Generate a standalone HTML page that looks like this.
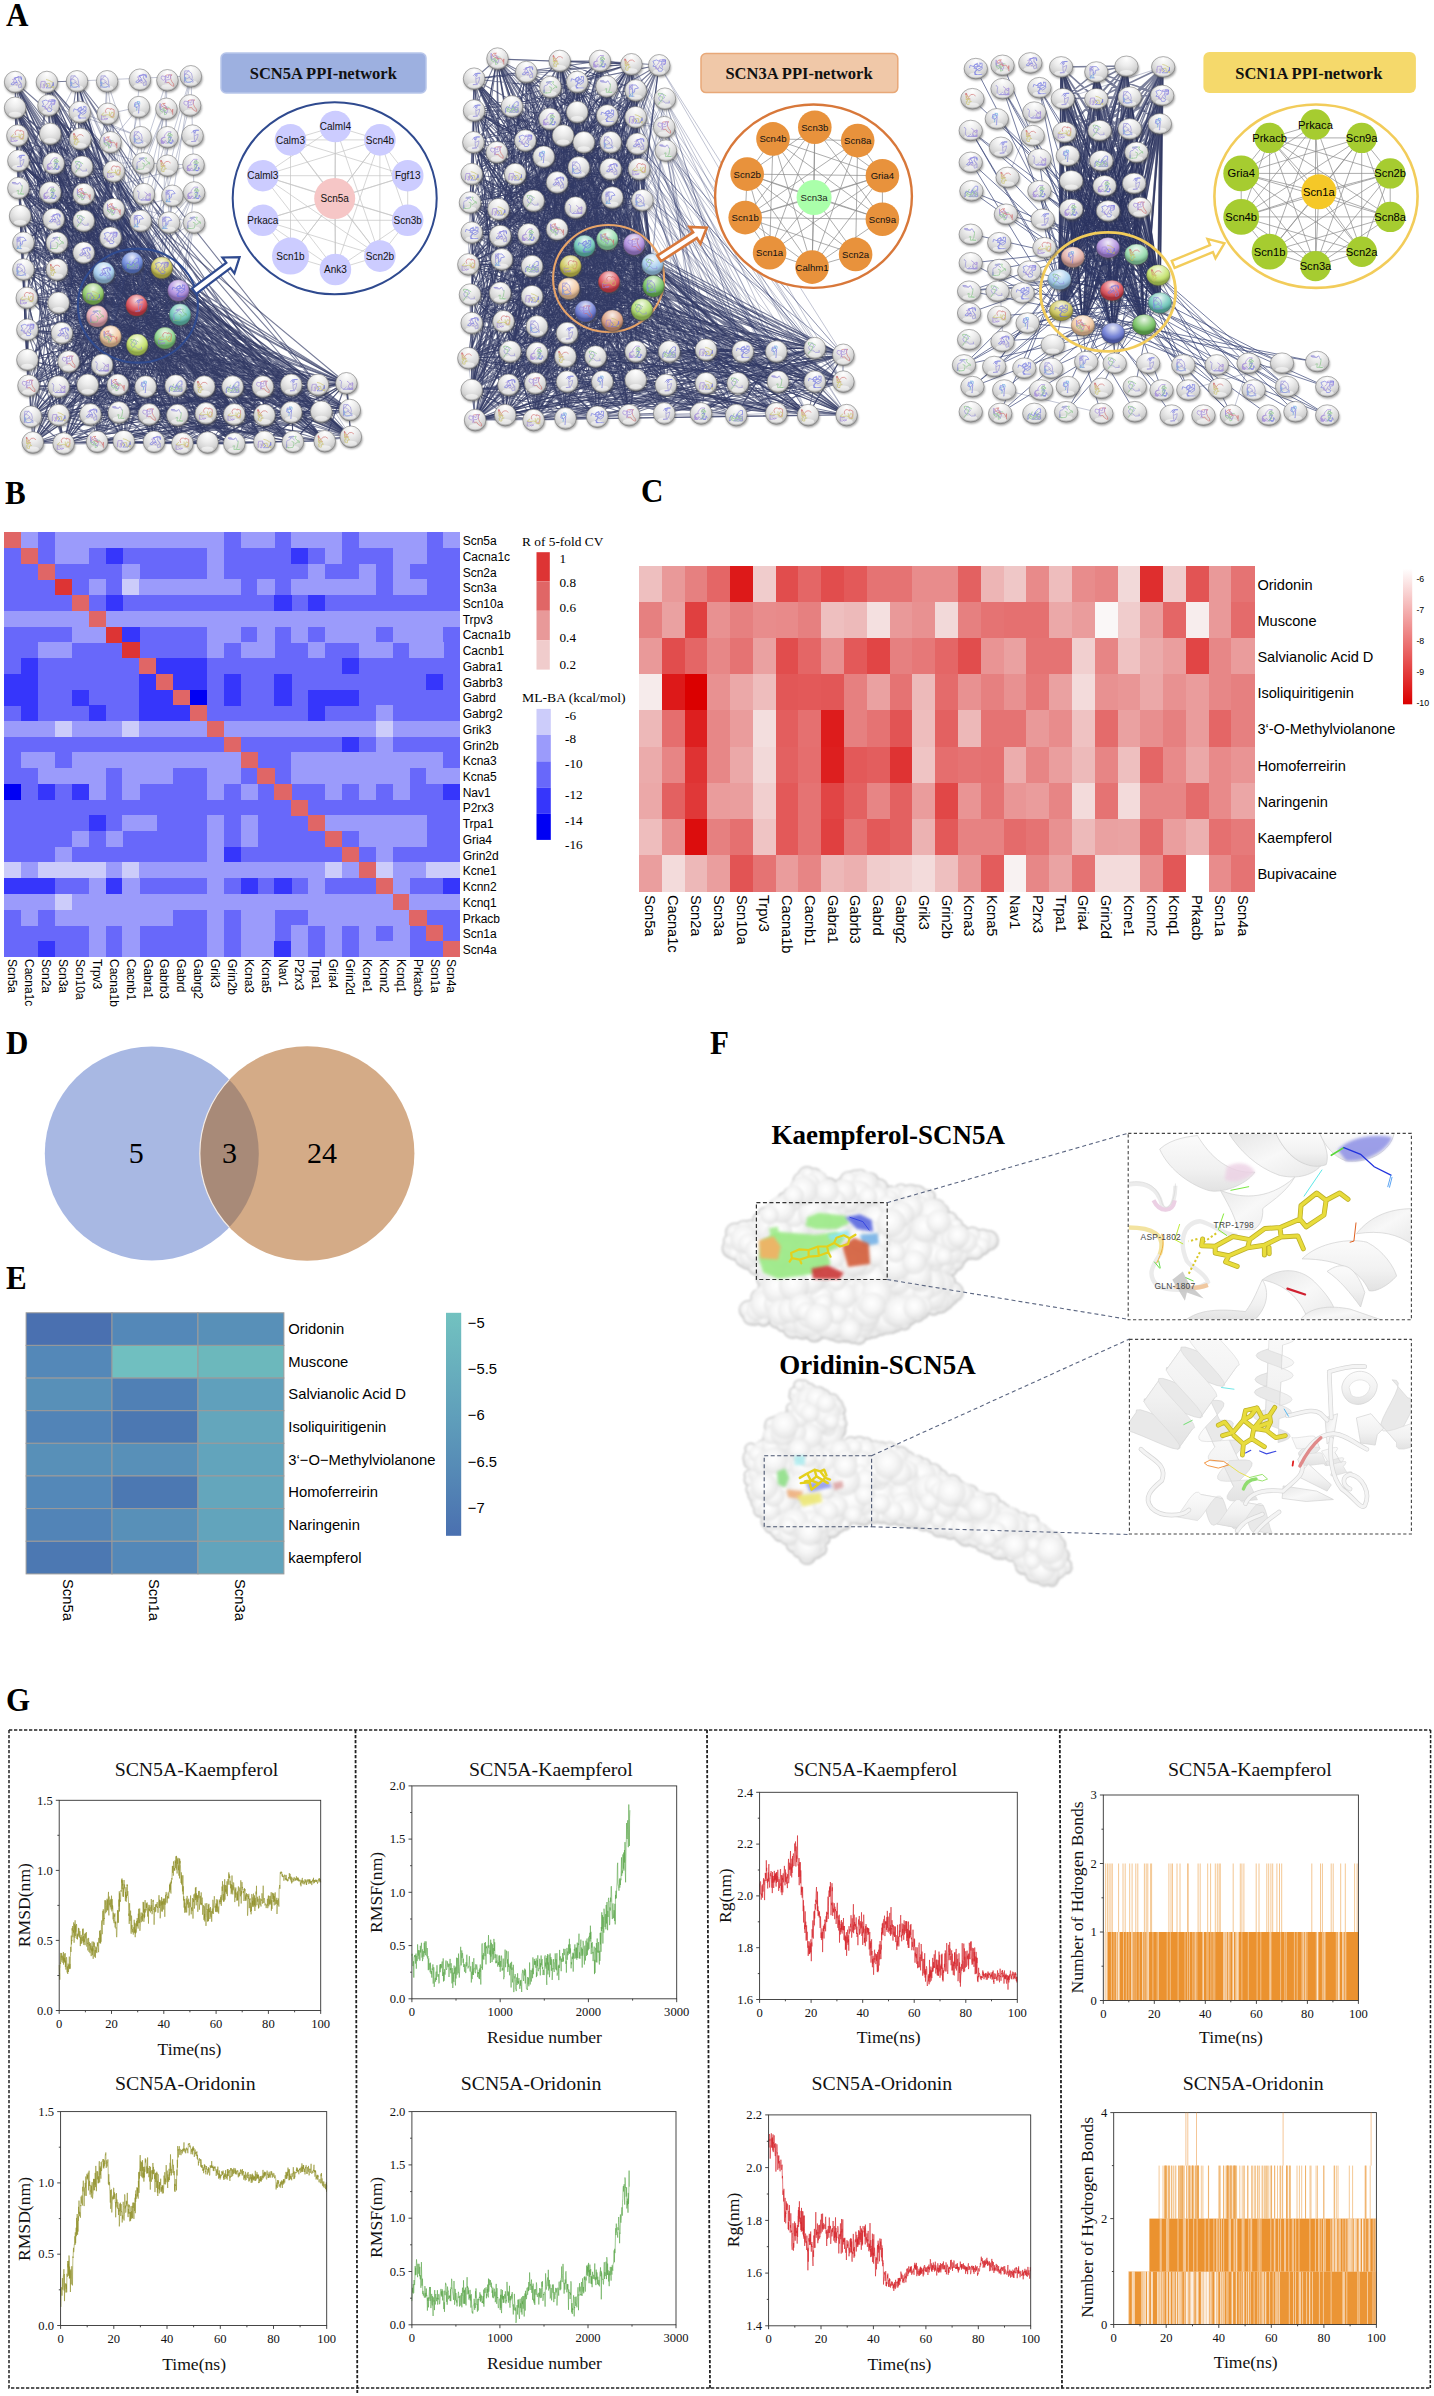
<!DOCTYPE html>
<html><head><meta charset="utf-8"><title>Figure</title>
<style>
html,body{margin:0;padding:0;background:#fff;}
body{width:1434px;height:2396px;overflow:hidden;font-family:"Liberation Sans",sans-serif;}
svg{display:block;}
</style></head><body>
<svg width="1434" height="2396" viewBox="0 0 1434 2396">
<rect width="1434" height="2396" fill="#ffffff"/>
<text transform="translate(6,25.6) scale(0.94,1)" font-size="33" font-family="Liberation Serif, serif" font-weight="bold">A</text>
<text transform="translate(5,503.6) scale(0.94,1)" font-size="33" font-family="Liberation Serif, serif" font-weight="bold">B</text>
<text transform="translate(641,501.6) scale(0.94,1)" font-size="33" font-family="Liberation Serif, serif" font-weight="bold">C</text>
<text transform="translate(6,1053.6) scale(0.94,1)" font-size="33" font-family="Liberation Serif, serif" font-weight="bold">D</text>
<text transform="translate(6,1288.6) scale(0.94,1)" font-size="33" font-family="Liberation Serif, serif" font-weight="bold">E</text>
<text transform="translate(710,1053.6) scale(0.94,1)" font-size="33" font-family="Liberation Serif, serif" font-weight="bold">F</text>
<text transform="translate(6,1710.6) scale(0.94,1)" font-size="33" font-family="Liberation Serif, serif" font-weight="bold">G</text>
<g shape-rendering="crispEdges">
<rect x="4.2" y="532.2" width="455.8" height="424.6" fill="#6868fa"/>
<rect x="4.2" y="532.2" width="17.2" height="16" fill="#e06666"/>
<rect x="21.1" y="532.2" width="17.2" height="16" fill="#9b9bfb"/>
<rect x="54.8" y="532.2" width="169.1" height="16" fill="#9b9bfb"/>
<rect x="240.5" y="532.2" width="34.1" height="16" fill="#9b9bfb"/>
<rect x="291.2" y="532.2" width="50.9" height="16" fill="#9b9bfb"/>
<rect x="358.7" y="532.2" width="67.8" height="16" fill="#9b9bfb"/>
<rect x="443.1" y="532.2" width="17.2" height="16" fill="#9b9bfb"/>
<rect x="21.1" y="547.9" width="17.2" height="16" fill="#e06666"/>
<rect x="54.8" y="547.9" width="34.1" height="16" fill="#9b9bfb"/>
<rect x="105.5" y="547.9" width="17.2" height="16" fill="#3636fb"/>
<rect x="206.8" y="547.9" width="17.2" height="16" fill="#9b9bfb"/>
<rect x="291.2" y="547.9" width="17.2" height="16" fill="#3636fb"/>
<rect x="324.9" y="547.9" width="17.2" height="16" fill="#9b9bfb"/>
<rect x="392.5" y="547.9" width="34.1" height="16" fill="#9b9bfb"/>
<rect x="38" y="563.7" width="17.2" height="16" fill="#e06666"/>
<rect x="122.4" y="563.7" width="17.2" height="16" fill="#9b9bfb"/>
<rect x="206.8" y="563.7" width="17.2" height="16" fill="#9b9bfb"/>
<rect x="308.1" y="563.7" width="17.2" height="16" fill="#9b9bfb"/>
<rect x="358.7" y="563.7" width="17.2" height="16" fill="#9b9bfb"/>
<rect x="392.5" y="563.7" width="17.2" height="16" fill="#9b9bfb"/>
<rect x="54.8" y="579.4" width="17.2" height="16" fill="#dd3434"/>
<rect x="88.6" y="579.4" width="17.2" height="16" fill="#9b9bfb"/>
<rect x="122.4" y="579.4" width="17.2" height="16" fill="#ccccfa"/>
<rect x="139.3" y="579.4" width="101.6" height="16" fill="#9b9bfb"/>
<rect x="257.4" y="579.4" width="17.2" height="16" fill="#9b9bfb"/>
<rect x="291.2" y="579.4" width="84.7" height="16" fill="#9b9bfb"/>
<rect x="392.5" y="579.4" width="34.1" height="16" fill="#9b9bfb"/>
<rect x="71.7" y="595.1" width="17.2" height="16" fill="#e06666"/>
<rect x="105.5" y="595.1" width="17.2" height="16" fill="#3636fb"/>
<rect x="274.3" y="595.1" width="17.2" height="16" fill="#3636fb"/>
<rect x="308.1" y="595.1" width="17.2" height="16" fill="#3636fb"/>
<rect x="4.2" y="610.8" width="84.7" height="16" fill="#9b9bfb"/>
<rect x="88.6" y="610.8" width="17.2" height="16" fill="#e06666"/>
<rect x="105.5" y="610.8" width="354.8" height="16" fill="#9b9bfb"/>
<rect x="71.7" y="626.6" width="34.1" height="16" fill="#9b9bfb"/>
<rect x="105.5" y="626.6" width="17.2" height="16" fill="#dd3434"/>
<rect x="122.4" y="626.6" width="17.2" height="16" fill="#3636fb"/>
<rect x="206.8" y="626.6" width="34.1" height="16" fill="#9b9bfb"/>
<rect x="257.4" y="626.6" width="17.2" height="16" fill="#9b9bfb"/>
<rect x="291.2" y="626.6" width="17.2" height="16" fill="#9b9bfb"/>
<rect x="324.9" y="626.6" width="50.9" height="16" fill="#9b9bfb"/>
<rect x="392.5" y="626.6" width="50.9" height="16" fill="#9b9bfb"/>
<rect x="38" y="642.3" width="34.1" height="16" fill="#9b9bfb"/>
<rect x="122.4" y="642.3" width="17.2" height="16" fill="#dd3434"/>
<rect x="206.8" y="642.3" width="17.2" height="16" fill="#9b9bfb"/>
<rect x="240.5" y="642.3" width="34.1" height="16" fill="#9b9bfb"/>
<rect x="308.1" y="642.3" width="17.2" height="16" fill="#9b9bfb"/>
<rect x="358.7" y="642.3" width="34.1" height="16" fill="#9b9bfb"/>
<rect x="409.4" y="642.3" width="34.1" height="16" fill="#9b9bfb"/>
<rect x="21.1" y="658" width="17.2" height="16" fill="#3636fb"/>
<rect x="139.3" y="658" width="17.2" height="16" fill="#e06666"/>
<rect x="156.1" y="658" width="50.9" height="16" fill="#3636fb"/>
<rect x="341.8" y="658" width="17.2" height="16" fill="#3636fb"/>
<rect x="4.2" y="673.7" width="34.1" height="16" fill="#3636fb"/>
<rect x="139.3" y="673.7" width="17.2" height="16" fill="#3636fb"/>
<rect x="156.1" y="673.7" width="17.2" height="16" fill="#e06666"/>
<rect x="173" y="673.7" width="34.1" height="16" fill="#3636fb"/>
<rect x="223.7" y="673.7" width="17.2" height="16" fill="#3636fb"/>
<rect x="274.3" y="673.7" width="17.2" height="16" fill="#3636fb"/>
<rect x="426.2" y="673.7" width="17.2" height="16" fill="#3636fb"/>
<rect x="4.2" y="689.5" width="34.1" height="16" fill="#3636fb"/>
<rect x="71.7" y="689.5" width="17.2" height="16" fill="#3636fb"/>
<rect x="139.3" y="689.5" width="34.1" height="16" fill="#3636fb"/>
<rect x="173" y="689.5" width="17.2" height="16" fill="#e06666"/>
<rect x="189.9" y="689.5" width="17.2" height="16" fill="#0000f4"/>
<rect x="223.7" y="689.5" width="17.2" height="16" fill="#3636fb"/>
<rect x="274.3" y="689.5" width="17.2" height="16" fill="#3636fb"/>
<rect x="308.1" y="689.5" width="50.9" height="16" fill="#3636fb"/>
<rect x="21.1" y="705.2" width="17.2" height="16" fill="#3636fb"/>
<rect x="88.6" y="705.2" width="17.2" height="16" fill="#3636fb"/>
<rect x="139.3" y="705.2" width="50.9" height="16" fill="#3636fb"/>
<rect x="189.9" y="705.2" width="17.2" height="16" fill="#e06666"/>
<rect x="308.1" y="705.2" width="17.2" height="16" fill="#3636fb"/>
<rect x="375.6" y="705.2" width="17.2" height="16" fill="#9b9bfb"/>
<rect x="4.2" y="720.9" width="50.9" height="16" fill="#9b9bfb"/>
<rect x="54.8" y="720.9" width="17.2" height="16" fill="#ccccfa"/>
<rect x="71.7" y="720.9" width="50.9" height="16" fill="#9b9bfb"/>
<rect x="122.4" y="720.9" width="17.2" height="16" fill="#ccccfa"/>
<rect x="139.3" y="720.9" width="67.8" height="16" fill="#9b9bfb"/>
<rect x="206.8" y="720.9" width="17.2" height="16" fill="#e06666"/>
<rect x="223.7" y="720.9" width="152.2" height="16" fill="#9b9bfb"/>
<rect x="375.6" y="720.9" width="17.2" height="16" fill="#ccccfa"/>
<rect x="392.5" y="720.9" width="67.8" height="16" fill="#9b9bfb"/>
<rect x="223.7" y="736.6" width="17.2" height="16" fill="#e06666"/>
<rect x="341.8" y="736.6" width="17.2" height="16" fill="#3636fb"/>
<rect x="375.6" y="736.6" width="17.2" height="16" fill="#9b9bfb"/>
<rect x="21.1" y="752.4" width="34.1" height="16" fill="#9b9bfb"/>
<rect x="71.7" y="752.4" width="169.1" height="16" fill="#9b9bfb"/>
<rect x="240.5" y="752.4" width="17.2" height="16" fill="#e06666"/>
<rect x="291.2" y="752.4" width="152.2" height="16" fill="#9b9bfb"/>
<rect x="38" y="768.1" width="67.8" height="16" fill="#9b9bfb"/>
<rect x="122.4" y="768.1" width="50.9" height="16" fill="#9b9bfb"/>
<rect x="206.8" y="768.1" width="34.1" height="16" fill="#9b9bfb"/>
<rect x="257.4" y="768.1" width="17.2" height="16" fill="#e06666"/>
<rect x="291.2" y="768.1" width="118.5" height="16" fill="#9b9bfb"/>
<rect x="426.2" y="768.1" width="34.1" height="16" fill="#9b9bfb"/>
<rect x="4.2" y="783.8" width="17.2" height="16" fill="#0000f4"/>
<rect x="38" y="783.8" width="17.2" height="16" fill="#3636fb"/>
<rect x="71.7" y="783.8" width="17.2" height="16" fill="#3636fb"/>
<rect x="88.6" y="783.8" width="17.2" height="16" fill="#9b9bfb"/>
<rect x="122.4" y="783.8" width="17.2" height="16" fill="#9b9bfb"/>
<rect x="206.8" y="783.8" width="17.2" height="16" fill="#9b9bfb"/>
<rect x="240.5" y="783.8" width="17.2" height="16" fill="#9b9bfb"/>
<rect x="274.3" y="783.8" width="17.2" height="16" fill="#e06666"/>
<rect x="324.9" y="783.8" width="17.2" height="16" fill="#9b9bfb"/>
<rect x="358.7" y="783.8" width="17.2" height="16" fill="#9b9bfb"/>
<rect x="392.5" y="783.8" width="17.2" height="16" fill="#9b9bfb"/>
<rect x="443.1" y="783.8" width="17.2" height="16" fill="#3636fb"/>
<rect x="291.2" y="799.5" width="17.2" height="16" fill="#e06666"/>
<rect x="88.6" y="815.3" width="17.2" height="16" fill="#3636fb"/>
<rect x="122.4" y="815.3" width="34.1" height="16" fill="#9b9bfb"/>
<rect x="206.8" y="815.3" width="17.2" height="16" fill="#9b9bfb"/>
<rect x="240.5" y="815.3" width="17.2" height="16" fill="#9b9bfb"/>
<rect x="308.1" y="815.3" width="17.2" height="16" fill="#e06666"/>
<rect x="324.9" y="815.3" width="101.6" height="16" fill="#9b9bfb"/>
<rect x="71.7" y="831" width="17.2" height="16" fill="#9b9bfb"/>
<rect x="105.5" y="831" width="17.2" height="16" fill="#9b9bfb"/>
<rect x="206.8" y="831" width="17.2" height="16" fill="#9b9bfb"/>
<rect x="240.5" y="831" width="17.2" height="16" fill="#9b9bfb"/>
<rect x="324.9" y="831" width="17.2" height="16" fill="#e06666"/>
<rect x="358.7" y="831" width="67.8" height="16" fill="#9b9bfb"/>
<rect x="54.8" y="846.7" width="17.2" height="16" fill="#9b9bfb"/>
<rect x="206.8" y="846.7" width="17.2" height="16" fill="#9b9bfb"/>
<rect x="223.7" y="846.7" width="17.2" height="16" fill="#3636fb"/>
<rect x="341.8" y="846.7" width="17.2" height="16" fill="#e06666"/>
<rect x="375.6" y="846.7" width="17.2" height="16" fill="#9b9bfb"/>
<rect x="4.2" y="862.4" width="17.2" height="16" fill="#ccccfa"/>
<rect x="21.1" y="862.4" width="17.2" height="16" fill="#9b9bfb"/>
<rect x="38" y="862.4" width="67.8" height="16" fill="#ccccfa"/>
<rect x="105.5" y="862.4" width="17.2" height="16" fill="#9b9bfb"/>
<rect x="122.4" y="862.4" width="17.2" height="16" fill="#ccccfa"/>
<rect x="139.3" y="862.4" width="186" height="16" fill="#9b9bfb"/>
<rect x="324.9" y="862.4" width="17.2" height="16" fill="#ccccfa"/>
<rect x="341.8" y="862.4" width="17.2" height="16" fill="#9b9bfb"/>
<rect x="358.7" y="862.4" width="17.2" height="16" fill="#e06666"/>
<rect x="375.6" y="862.4" width="17.2" height="16" fill="#ccccfa"/>
<rect x="392.5" y="862.4" width="34.1" height="16" fill="#9b9bfb"/>
<rect x="426.2" y="862.4" width="34.1" height="16" fill="#ccccfa"/>
<rect x="4.2" y="878.2" width="50.9" height="16" fill="#3636fb"/>
<rect x="88.6" y="878.2" width="17.2" height="16" fill="#9b9bfb"/>
<rect x="105.5" y="878.2" width="17.2" height="16" fill="#3636fb"/>
<rect x="122.4" y="878.2" width="17.2" height="16" fill="#9b9bfb"/>
<rect x="206.8" y="878.2" width="17.2" height="16" fill="#9b9bfb"/>
<rect x="240.5" y="878.2" width="17.2" height="16" fill="#3636fb"/>
<rect x="274.3" y="878.2" width="17.2" height="16" fill="#3636fb"/>
<rect x="308.1" y="878.2" width="17.2" height="16" fill="#9b9bfb"/>
<rect x="375.6" y="878.2" width="17.2" height="16" fill="#e06666"/>
<rect x="392.5" y="878.2" width="17.2" height="16" fill="#9b9bfb"/>
<rect x="443.1" y="878.2" width="17.2" height="16" fill="#3636fb"/>
<rect x="4.2" y="893.9" width="50.9" height="16" fill="#9b9bfb"/>
<rect x="54.8" y="893.9" width="17.2" height="16" fill="#ccccfa"/>
<rect x="71.7" y="893.9" width="321" height="16" fill="#9b9bfb"/>
<rect x="392.5" y="893.9" width="17.2" height="16" fill="#e06666"/>
<rect x="409.4" y="893.9" width="50.9" height="16" fill="#9b9bfb"/>
<rect x="21.1" y="909.6" width="17.2" height="16" fill="#9b9bfb"/>
<rect x="54.8" y="909.6" width="118.5" height="16" fill="#9b9bfb"/>
<rect x="206.8" y="909.6" width="17.2" height="16" fill="#9b9bfb"/>
<rect x="240.5" y="909.6" width="34.1" height="16" fill="#9b9bfb"/>
<rect x="308.1" y="909.6" width="101.6" height="16" fill="#9b9bfb"/>
<rect x="409.4" y="909.6" width="17.2" height="16" fill="#e06666"/>
<rect x="88.6" y="925.3" width="17.2" height="16" fill="#9b9bfb"/>
<rect x="122.4" y="925.3" width="17.2" height="16" fill="#9b9bfb"/>
<rect x="206.8" y="925.3" width="17.2" height="16" fill="#9b9bfb"/>
<rect x="240.5" y="925.3" width="34.1" height="16" fill="#9b9bfb"/>
<rect x="291.2" y="925.3" width="17.2" height="16" fill="#9b9bfb"/>
<rect x="324.9" y="925.3" width="17.2" height="16" fill="#9b9bfb"/>
<rect x="358.7" y="925.3" width="17.2" height="16" fill="#9b9bfb"/>
<rect x="392.5" y="925.3" width="17.2" height="16" fill="#9b9bfb"/>
<rect x="426.2" y="925.3" width="17.2" height="16" fill="#e06666"/>
<rect x="38" y="941.1" width="17.2" height="16" fill="#3636fb"/>
<rect x="88.6" y="941.1" width="17.2" height="16" fill="#9b9bfb"/>
<rect x="122.4" y="941.1" width="17.2" height="16" fill="#9b9bfb"/>
<rect x="206.8" y="941.1" width="17.2" height="16" fill="#9b9bfb"/>
<rect x="240.5" y="941.1" width="34.1" height="16" fill="#9b9bfb"/>
<rect x="274.3" y="941.1" width="17.2" height="16" fill="#3636fb"/>
<rect x="291.2" y="941.1" width="17.2" height="16" fill="#9b9bfb"/>
<rect x="324.9" y="941.1" width="17.2" height="16" fill="#9b9bfb"/>
<rect x="358.7" y="941.1" width="50.9" height="16" fill="#9b9bfb"/>
<rect x="443.1" y="941.1" width="17.2" height="16" fill="#e06666"/>
</g>
<text x="462.7" y="545.1" font-size="12" font-family="Liberation Sans, sans-serif" text-anchor="start" fill="#000">Scn5a</text>
<text x="462.7" y="560.8" font-size="12" font-family="Liberation Sans, sans-serif" text-anchor="start" fill="#000">Cacna1c</text>
<text x="462.7" y="576.5" font-size="12" font-family="Liberation Sans, sans-serif" text-anchor="start" fill="#000">Scn2a</text>
<text x="462.7" y="592.2" font-size="12" font-family="Liberation Sans, sans-serif" text-anchor="start" fill="#000">Scn3a</text>
<text x="462.7" y="608" font-size="12" font-family="Liberation Sans, sans-serif" text-anchor="start" fill="#000">Scn10a</text>
<text x="462.7" y="623.7" font-size="12" font-family="Liberation Sans, sans-serif" text-anchor="start" fill="#000">Trpv3</text>
<text x="462.7" y="639.4" font-size="12" font-family="Liberation Sans, sans-serif" text-anchor="start" fill="#000">Cacna1b</text>
<text x="462.7" y="655.1" font-size="12" font-family="Liberation Sans, sans-serif" text-anchor="start" fill="#000">Cacnb1</text>
<text x="462.7" y="670.9" font-size="12" font-family="Liberation Sans, sans-serif" text-anchor="start" fill="#000">Gabra1</text>
<text x="462.7" y="686.6" font-size="12" font-family="Liberation Sans, sans-serif" text-anchor="start" fill="#000">Gabrb3</text>
<text x="462.7" y="702.3" font-size="12" font-family="Liberation Sans, sans-serif" text-anchor="start" fill="#000">Gabrd</text>
<text x="462.7" y="718" font-size="12" font-family="Liberation Sans, sans-serif" text-anchor="start" fill="#000">Gabrg2</text>
<text x="462.7" y="733.8" font-size="12" font-family="Liberation Sans, sans-serif" text-anchor="start" fill="#000">Grik3</text>
<text x="462.7" y="749.5" font-size="12" font-family="Liberation Sans, sans-serif" text-anchor="start" fill="#000">Grin2b</text>
<text x="462.7" y="765.2" font-size="12" font-family="Liberation Sans, sans-serif" text-anchor="start" fill="#000">Kcna3</text>
<text x="462.7" y="781" font-size="12" font-family="Liberation Sans, sans-serif" text-anchor="start" fill="#000">Kcna5</text>
<text x="462.7" y="796.7" font-size="12" font-family="Liberation Sans, sans-serif" text-anchor="start" fill="#000">Nav1</text>
<text x="462.7" y="812.4" font-size="12" font-family="Liberation Sans, sans-serif" text-anchor="start" fill="#000">P2rx3</text>
<text x="462.7" y="828.1" font-size="12" font-family="Liberation Sans, sans-serif" text-anchor="start" fill="#000">Trpa1</text>
<text x="462.7" y="843.9" font-size="12" font-family="Liberation Sans, sans-serif" text-anchor="start" fill="#000">Gria4</text>
<text x="462.7" y="859.6" font-size="12" font-family="Liberation Sans, sans-serif" text-anchor="start" fill="#000">Grin2d</text>
<text x="462.7" y="875.3" font-size="12" font-family="Liberation Sans, sans-serif" text-anchor="start" fill="#000">Kcne1</text>
<text x="462.7" y="891" font-size="12" font-family="Liberation Sans, sans-serif" text-anchor="start" fill="#000">Kcnn2</text>
<text x="462.7" y="906.8" font-size="12" font-family="Liberation Sans, sans-serif" text-anchor="start" fill="#000">Kcnq1</text>
<text x="462.7" y="922.5" font-size="12" font-family="Liberation Sans, sans-serif" text-anchor="start" fill="#000">Prkacb</text>
<text x="462.7" y="938.2" font-size="12" font-family="Liberation Sans, sans-serif" text-anchor="start" fill="#000">Scn1a</text>
<text x="462.7" y="953.9" font-size="12" font-family="Liberation Sans, sans-serif" text-anchor="start" fill="#000">Scn4a</text>
<text transform="translate(8.4,959) rotate(90)" font-size="12" font-family="Liberation Sans, sans-serif">Scn5a</text>
<text transform="translate(25.3,959) rotate(90)" font-size="12" font-family="Liberation Sans, sans-serif">Cacna1c</text>
<text transform="translate(42.2,959) rotate(90)" font-size="12" font-family="Liberation Sans, sans-serif">Scn2a</text>
<text transform="translate(59.1,959) rotate(90)" font-size="12" font-family="Liberation Sans, sans-serif">Scn3a</text>
<text transform="translate(76,959) rotate(90)" font-size="12" font-family="Liberation Sans, sans-serif">Scn10a</text>
<text transform="translate(92.8,959) rotate(90)" font-size="12" font-family="Liberation Sans, sans-serif">Trpv3</text>
<text transform="translate(109.7,959) rotate(90)" font-size="12" font-family="Liberation Sans, sans-serif">Cacna1b</text>
<text transform="translate(126.6,959) rotate(90)" font-size="12" font-family="Liberation Sans, sans-serif">Cacnb1</text>
<text transform="translate(143.5,959) rotate(90)" font-size="12" font-family="Liberation Sans, sans-serif">Gabra1</text>
<text transform="translate(160.4,959) rotate(90)" font-size="12" font-family="Liberation Sans, sans-serif">Gabrb3</text>
<text transform="translate(177.3,959) rotate(90)" font-size="12" font-family="Liberation Sans, sans-serif">Gabrd</text>
<text transform="translate(194.1,959) rotate(90)" font-size="12" font-family="Liberation Sans, sans-serif">Gabrg2</text>
<text transform="translate(211,959) rotate(90)" font-size="12" font-family="Liberation Sans, sans-serif">Grik3</text>
<text transform="translate(227.9,959) rotate(90)" font-size="12" font-family="Liberation Sans, sans-serif">Grin2b</text>
<text transform="translate(244.8,959) rotate(90)" font-size="12" font-family="Liberation Sans, sans-serif">Kcna3</text>
<text transform="translate(261.7,959) rotate(90)" font-size="12" font-family="Liberation Sans, sans-serif">Kcna5</text>
<text transform="translate(278.5,959) rotate(90)" font-size="12" font-family="Liberation Sans, sans-serif">Nav1</text>
<text transform="translate(295.4,959) rotate(90)" font-size="12" font-family="Liberation Sans, sans-serif">P2rx3</text>
<text transform="translate(312.3,959) rotate(90)" font-size="12" font-family="Liberation Sans, sans-serif">Trpa1</text>
<text transform="translate(329.2,959) rotate(90)" font-size="12" font-family="Liberation Sans, sans-serif">Gria4</text>
<text transform="translate(346.1,959) rotate(90)" font-size="12" font-family="Liberation Sans, sans-serif">Grin2d</text>
<text transform="translate(363,959) rotate(90)" font-size="12" font-family="Liberation Sans, sans-serif">Kcne1</text>
<text transform="translate(379.8,959) rotate(90)" font-size="12" font-family="Liberation Sans, sans-serif">Kcnn2</text>
<text transform="translate(396.7,959) rotate(90)" font-size="12" font-family="Liberation Sans, sans-serif">Kcnq1</text>
<text transform="translate(413.6,959) rotate(90)" font-size="12" font-family="Liberation Sans, sans-serif">Prkacb</text>
<text transform="translate(430.5,959) rotate(90)" font-size="12" font-family="Liberation Sans, sans-serif">Scn1a</text>
<text transform="translate(447.4,959) rotate(90)" font-size="12" font-family="Liberation Sans, sans-serif">Scn4a</text>
<text x="522" y="546" font-size="12.8" font-family="Liberation Serif, serif" text-anchor="start" fill="#000" textLength="81.3" lengthAdjust="spacingAndGlyphs">R of 5-fold CV</text>
<rect x="536.5" y="552.2" width="13.3" height="29.2" fill="#dd3434"/>
<rect x="536.5" y="581.4" width="13.3" height="29.4" fill="#e06666"/>
<rect x="536.5" y="610.8" width="13.3" height="29.6" fill="#e89999"/>
<rect x="536.5" y="640.4" width="13.3" height="29.2" fill="#f0cccc"/>
<text x="559.5" y="562.7" font-size="13.2" font-family="Liberation Serif, serif" text-anchor="start" fill="#000">1</text>
<text x="559.5" y="587.2" font-size="13.2" font-family="Liberation Serif, serif" text-anchor="start" fill="#000">0.8</text>
<text x="559.5" y="611.7" font-size="13.2" font-family="Liberation Serif, serif" text-anchor="start" fill="#000">0.6</text>
<text x="559.5" y="642.4" font-size="13.2" font-family="Liberation Serif, serif" text-anchor="start" fill="#000">0.4</text>
<text x="559.5" y="668.5" font-size="13.2" font-family="Liberation Serif, serif" text-anchor="start" fill="#000">0.2</text>
<text x="522" y="701.8" font-size="12.8" font-family="Liberation Serif, serif" text-anchor="start" fill="#000" textLength="103.6" lengthAdjust="spacingAndGlyphs">ML-BA (kcal/mol)</text>
<rect x="536.5" y="708.9" width="14.3" height="26.1" fill="#ccccfa"/>
<rect x="536.5" y="735" width="14.3" height="26.4" fill="#9b9bfb"/>
<rect x="536.5" y="761.4" width="14.3" height="26.1" fill="#6868fa"/>
<rect x="536.5" y="787.5" width="14.3" height="26.3" fill="#3636fb"/>
<rect x="536.5" y="813.8" width="14.3" height="26.1" fill="#0000f4"/>
<text x="565" y="719.6" font-size="13.2" font-family="Liberation Serif, serif" text-anchor="start" fill="#000">-6</text>
<text x="565" y="743.4" font-size="13.2" font-family="Liberation Serif, serif" text-anchor="start" fill="#000">-8</text>
<text x="565" y="767.5" font-size="13.2" font-family="Liberation Serif, serif" text-anchor="start" fill="#000">-10</text>
<text x="565" y="799.1" font-size="13.2" font-family="Liberation Serif, serif" text-anchor="start" fill="#000">-12</text>
<text x="565" y="824.7" font-size="13.2" font-family="Liberation Serif, serif" text-anchor="start" fill="#000">-14</text>
<text x="565" y="849.3" font-size="13.2" font-family="Liberation Serif, serif" text-anchor="start" fill="#000">-16</text>
<g shape-rendering="crispEdges">
<rect x="638.9" y="565.6" width="23.2" height="36.6" fill="#eebfbf"/>
<rect x="661.7" y="565.6" width="23.2" height="36.6" fill="#e99999"/>
<rect x="684.5" y="565.6" width="23.2" height="36.6" fill="#e68080"/>
<rect x="707.3" y="565.6" width="23.2" height="36.6" fill="#e46666"/>
<rect x="730.1" y="565.6" width="23.2" height="36.6" fill="#dd1919"/>
<rect x="752.8" y="565.6" width="23.2" height="36.6" fill="#f0cccc"/>
<rect x="775.6" y="565.6" width="23.2" height="36.6" fill="#e14d4d"/>
<rect x="798.4" y="565.6" width="23.2" height="36.6" fill="#e46666"/>
<rect x="821.2" y="565.6" width="23.2" height="36.6" fill="#e14d4d"/>
<rect x="844" y="565.6" width="23.2" height="36.6" fill="#e35959"/>
<rect x="866.8" y="565.6" width="23.2" height="36.6" fill="#e57373"/>
<rect x="889.6" y="565.6" width="23.2" height="36.6" fill="#e57373"/>
<rect x="912.4" y="565.6" width="23.2" height="36.6" fill="#e88c8c"/>
<rect x="935.2" y="565.6" width="23.2" height="36.6" fill="#e88c8c"/>
<rect x="957.9" y="565.6" width="23.2" height="36.6" fill="#e36161"/>
<rect x="980.7" y="565.6" width="23.2" height="36.6" fill="#edb5b5"/>
<rect x="1003.5" y="565.6" width="23.2" height="36.6" fill="#efc7c7"/>
<rect x="1026.3" y="565.6" width="23.2" height="36.6" fill="#e88a8a"/>
<rect x="1049.1" y="565.6" width="23.2" height="36.6" fill="#eebdbd"/>
<rect x="1071.9" y="565.6" width="23.2" height="36.6" fill="#e88c8c"/>
<rect x="1094.7" y="565.6" width="23.2" height="36.6" fill="#e78585"/>
<rect x="1117.5" y="565.6" width="23.2" height="36.6" fill="#f2d9d9"/>
<rect x="1140.3" y="565.6" width="23.2" height="36.6" fill="#df2e2e"/>
<rect x="1163" y="565.6" width="23.2" height="36.6" fill="#f0cccc"/>
<rect x="1185.8" y="565.6" width="23.2" height="36.6" fill="#e25454"/>
<rect x="1208.6" y="565.6" width="23.2" height="36.6" fill="#e99999"/>
<rect x="1231.4" y="565.6" width="23.2" height="36.6" fill="#e57373"/>
<rect x="638.9" y="601.8" width="23.2" height="36.6" fill="#e68080"/>
<rect x="661.7" y="601.8" width="23.2" height="36.6" fill="#eaa1a1"/>
<rect x="684.5" y="601.8" width="23.2" height="36.6" fill="#e04040"/>
<rect x="707.3" y="601.8" width="23.2" height="36.6" fill="#e89191"/>
<rect x="730.1" y="601.8" width="23.2" height="36.6" fill="#e68080"/>
<rect x="752.8" y="601.8" width="23.2" height="36.6" fill="#e88c8c"/>
<rect x="775.6" y="601.8" width="23.2" height="36.6" fill="#e88a8a"/>
<rect x="798.4" y="601.8" width="23.2" height="36.6" fill="#e68080"/>
<rect x="821.2" y="601.8" width="23.2" height="36.6" fill="#eebfbf"/>
<rect x="844" y="601.8" width="23.2" height="36.6" fill="#edbaba"/>
<rect x="866.8" y="601.8" width="23.2" height="36.6" fill="#f4e0e0"/>
<rect x="889.6" y="601.8" width="23.2" height="36.6" fill="#e99999"/>
<rect x="912.4" y="601.8" width="23.2" height="36.6" fill="#e89191"/>
<rect x="935.2" y="601.8" width="23.2" height="36.6" fill="#f2d9d9"/>
<rect x="957.9" y="601.8" width="23.2" height="36.6" fill="#e68080"/>
<rect x="980.7" y="601.8" width="23.2" height="36.6" fill="#e57373"/>
<rect x="1003.5" y="601.8" width="23.2" height="36.6" fill="#e57070"/>
<rect x="1026.3" y="601.8" width="23.2" height="36.6" fill="#e57070"/>
<rect x="1049.1" y="601.8" width="23.2" height="36.6" fill="#eba8a8"/>
<rect x="1071.9" y="601.8" width="23.2" height="36.6" fill="#ea9c9c"/>
<rect x="1094.7" y="601.8" width="23.2" height="36.6" fill="#faf7f7"/>
<rect x="1117.5" y="601.8" width="23.2" height="36.6" fill="#f0cccc"/>
<rect x="1140.3" y="601.8" width="23.2" height="36.6" fill="#ea9e9e"/>
<rect x="1163" y="601.8" width="23.2" height="36.6" fill="#e46666"/>
<rect x="1185.8" y="601.8" width="23.2" height="36.6" fill="#f7eded"/>
<rect x="1208.6" y="601.8" width="23.2" height="36.6" fill="#e99999"/>
<rect x="1231.4" y="601.8" width="23.2" height="36.6" fill="#e46b6b"/>
<rect x="638.9" y="638" width="23.2" height="36.6" fill="#e99999"/>
<rect x="661.7" y="638" width="23.2" height="36.6" fill="#e14d4d"/>
<rect x="684.5" y="638" width="23.2" height="36.6" fill="#e46666"/>
<rect x="707.3" y="638" width="23.2" height="36.6" fill="#e78787"/>
<rect x="730.1" y="638" width="23.2" height="36.6" fill="#e57373"/>
<rect x="752.8" y="638" width="23.2" height="36.6" fill="#eaa1a1"/>
<rect x="775.6" y="638" width="23.2" height="36.6" fill="#e14d4d"/>
<rect x="798.4" y="638" width="23.2" height="36.6" fill="#e46666"/>
<rect x="821.2" y="638" width="23.2" height="36.6" fill="#e88f8f"/>
<rect x="844" y="638" width="23.2" height="36.6" fill="#e35959"/>
<rect x="866.8" y="638" width="23.2" height="36.6" fill="#e14545"/>
<rect x="889.6" y="638" width="23.2" height="36.6" fill="#e68080"/>
<rect x="912.4" y="638" width="23.2" height="36.6" fill="#e67878"/>
<rect x="935.2" y="638" width="23.2" height="36.6" fill="#e46666"/>
<rect x="957.9" y="638" width="23.2" height="36.6" fill="#e14d4d"/>
<rect x="980.7" y="638" width="23.2" height="36.6" fill="#e99494"/>
<rect x="1003.5" y="638" width="23.2" height="36.6" fill="#eaa1a1"/>
<rect x="1026.3" y="638" width="23.2" height="36.6" fill="#e57373"/>
<rect x="1049.1" y="638" width="23.2" height="36.6" fill="#e57373"/>
<rect x="1071.9" y="638" width="23.2" height="36.6" fill="#f1cfcf"/>
<rect x="1094.7" y="638" width="23.2" height="36.6" fill="#e78585"/>
<rect x="1117.5" y="638" width="23.2" height="36.6" fill="#efc2c2"/>
<rect x="1140.3" y="638" width="23.2" height="36.6" fill="#ebabab"/>
<rect x="1163" y="638" width="23.2" height="36.6" fill="#ea9e9e"/>
<rect x="1185.8" y="638" width="23.2" height="36.6" fill="#e14545"/>
<rect x="1208.6" y="638" width="23.2" height="36.6" fill="#e78787"/>
<rect x="1231.4" y="638" width="23.2" height="36.6" fill="#ea9c9c"/>
<rect x="638.9" y="674.2" width="23.2" height="36.6" fill="#f6ebeb"/>
<rect x="661.7" y="674.2" width="23.2" height="36.6" fill="#dd1919"/>
<rect x="684.5" y="674.2" width="23.2" height="36.6" fill="#db0000"/>
<rect x="707.3" y="674.2" width="23.2" height="36.6" fill="#e89191"/>
<rect x="730.1" y="674.2" width="23.2" height="36.6" fill="#eba8a8"/>
<rect x="752.8" y="674.2" width="23.2" height="36.6" fill="#eebdbd"/>
<rect x="775.6" y="674.2" width="23.2" height="36.6" fill="#e25757"/>
<rect x="798.4" y="674.2" width="23.2" height="36.6" fill="#e35959"/>
<rect x="821.2" y="674.2" width="23.2" height="36.6" fill="#e25757"/>
<rect x="844" y="674.2" width="23.2" height="36.6" fill="#e68080"/>
<rect x="866.8" y="674.2" width="23.2" height="36.6" fill="#eaa1a1"/>
<rect x="889.6" y="674.2" width="23.2" height="36.6" fill="#e57373"/>
<rect x="912.4" y="674.2" width="23.2" height="36.6" fill="#edbaba"/>
<rect x="935.2" y="674.2" width="23.2" height="36.6" fill="#e46b6b"/>
<rect x="957.9" y="674.2" width="23.2" height="36.6" fill="#e89191"/>
<rect x="980.7" y="674.2" width="23.2" height="36.6" fill="#e68080"/>
<rect x="1003.5" y="674.2" width="23.2" height="36.6" fill="#e89191"/>
<rect x="1026.3" y="674.2" width="23.2" height="36.6" fill="#e67878"/>
<rect x="1049.1" y="674.2" width="23.2" height="36.6" fill="#eaa1a1"/>
<rect x="1071.9" y="674.2" width="23.2" height="36.6" fill="#f3dbdb"/>
<rect x="1094.7" y="674.2" width="23.2" height="36.6" fill="#e89191"/>
<rect x="1117.5" y="674.2" width="23.2" height="36.6" fill="#e99696"/>
<rect x="1140.3" y="674.2" width="23.2" height="36.6" fill="#eba8a8"/>
<rect x="1163" y="674.2" width="23.2" height="36.6" fill="#e89191"/>
<rect x="1185.8" y="674.2" width="23.2" height="36.6" fill="#ea9c9c"/>
<rect x="1208.6" y="674.2" width="23.2" height="36.6" fill="#e78787"/>
<rect x="1231.4" y="674.2" width="23.2" height="36.6" fill="#e68080"/>
<rect x="638.9" y="710.4" width="23.2" height="36.6" fill="#edb8b8"/>
<rect x="661.7" y="710.4" width="23.2" height="36.6" fill="#e56e6e"/>
<rect x="684.5" y="710.4" width="23.2" height="36.6" fill="#dd1f1f"/>
<rect x="707.3" y="710.4" width="23.2" height="36.6" fill="#e78787"/>
<rect x="730.1" y="710.4" width="23.2" height="36.6" fill="#ea9c9c"/>
<rect x="752.8" y="710.4" width="23.2" height="36.6" fill="#f3dede"/>
<rect x="775.6" y="710.4" width="23.2" height="36.6" fill="#e35e5e"/>
<rect x="798.4" y="710.4" width="23.2" height="36.6" fill="#e57070"/>
<rect x="821.2" y="710.4" width="23.2" height="36.6" fill="#dd1c1c"/>
<rect x="844" y="710.4" width="23.2" height="36.6" fill="#e68080"/>
<rect x="866.8" y="710.4" width="23.2" height="36.6" fill="#e57373"/>
<rect x="889.6" y="710.4" width="23.2" height="36.6" fill="#e25454"/>
<rect x="912.4" y="710.4" width="23.2" height="36.6" fill="#eebdbd"/>
<rect x="935.2" y="710.4" width="23.2" height="36.6" fill="#e36161"/>
<rect x="957.9" y="710.4" width="23.2" height="36.6" fill="#edb8b8"/>
<rect x="980.7" y="710.4" width="23.2" height="36.6" fill="#e57373"/>
<rect x="1003.5" y="710.4" width="23.2" height="36.6" fill="#e57373"/>
<rect x="1026.3" y="710.4" width="23.2" height="36.6" fill="#e99999"/>
<rect x="1049.1" y="710.4" width="23.2" height="36.6" fill="#e88c8c"/>
<rect x="1071.9" y="710.4" width="23.2" height="36.6" fill="#efc2c2"/>
<rect x="1094.7" y="710.4" width="23.2" height="36.6" fill="#e46b6b"/>
<rect x="1117.5" y="710.4" width="23.2" height="36.6" fill="#eaa1a1"/>
<rect x="1140.3" y="710.4" width="23.2" height="36.6" fill="#e88f8f"/>
<rect x="1163" y="710.4" width="23.2" height="36.6" fill="#e68080"/>
<rect x="1185.8" y="710.4" width="23.2" height="36.6" fill="#ea9c9c"/>
<rect x="1208.6" y="710.4" width="23.2" height="36.6" fill="#e46666"/>
<rect x="1231.4" y="710.4" width="23.2" height="36.6" fill="#e68080"/>
<rect x="638.9" y="746.6" width="23.2" height="36.6" fill="#ebabab"/>
<rect x="661.7" y="746.6" width="23.2" height="36.6" fill="#e78585"/>
<rect x="684.5" y="746.6" width="23.2" height="36.6" fill="#df3333"/>
<rect x="707.3" y="746.6" width="23.2" height="36.6" fill="#e78787"/>
<rect x="730.1" y="746.6" width="23.2" height="36.6" fill="#eba8a8"/>
<rect x="752.8" y="746.6" width="23.2" height="36.6" fill="#f2d9d9"/>
<rect x="775.6" y="746.6" width="23.2" height="36.6" fill="#e36161"/>
<rect x="798.4" y="746.6" width="23.2" height="36.6" fill="#e56e6e"/>
<rect x="821.2" y="746.6" width="23.2" height="36.6" fill="#dd1f1f"/>
<rect x="844" y="746.6" width="23.2" height="36.6" fill="#e35959"/>
<rect x="866.8" y="746.6" width="23.2" height="36.6" fill="#e35e5e"/>
<rect x="889.6" y="746.6" width="23.2" height="36.6" fill="#df3333"/>
<rect x="912.4" y="746.6" width="23.2" height="36.6" fill="#efc4c4"/>
<rect x="935.2" y="746.6" width="23.2" height="36.6" fill="#e56e6e"/>
<rect x="957.9" y="746.6" width="23.2" height="36.6" fill="#e57373"/>
<rect x="980.7" y="746.6" width="23.2" height="36.6" fill="#e57070"/>
<rect x="1003.5" y="746.6" width="23.2" height="36.6" fill="#ecadad"/>
<rect x="1026.3" y="746.6" width="23.2" height="36.6" fill="#e78585"/>
<rect x="1049.1" y="746.6" width="23.2" height="36.6" fill="#ea9e9e"/>
<rect x="1071.9" y="746.6" width="23.2" height="36.6" fill="#edbaba"/>
<rect x="1094.7" y="746.6" width="23.2" height="36.6" fill="#e78585"/>
<rect x="1117.5" y="746.6" width="23.2" height="36.6" fill="#eebfbf"/>
<rect x="1140.3" y="746.6" width="23.2" height="36.6" fill="#e46666"/>
<rect x="1163" y="746.6" width="23.2" height="36.6" fill="#e88a8a"/>
<rect x="1185.8" y="746.6" width="23.2" height="36.6" fill="#eba8a8"/>
<rect x="1208.6" y="746.6" width="23.2" height="36.6" fill="#e88a8a"/>
<rect x="1231.4" y="746.6" width="23.2" height="36.6" fill="#e99494"/>
<rect x="638.9" y="782.8" width="23.2" height="36.6" fill="#eba8a8"/>
<rect x="661.7" y="782.8" width="23.2" height="36.6" fill="#e36161"/>
<rect x="684.5" y="782.8" width="23.2" height="36.6" fill="#e03838"/>
<rect x="707.3" y="782.8" width="23.2" height="36.6" fill="#ea9c9c"/>
<rect x="730.1" y="782.8" width="23.2" height="36.6" fill="#ea9e9e"/>
<rect x="752.8" y="782.8" width="23.2" height="36.6" fill="#f1cfcf"/>
<rect x="775.6" y="782.8" width="23.2" height="36.6" fill="#e35959"/>
<rect x="798.4" y="782.8" width="23.2" height="36.6" fill="#e57373"/>
<rect x="821.2" y="782.8" width="23.2" height="36.6" fill="#e14545"/>
<rect x="844" y="782.8" width="23.2" height="36.6" fill="#e36161"/>
<rect x="866.8" y="782.8" width="23.2" height="36.6" fill="#e78585"/>
<rect x="889.6" y="782.8" width="23.2" height="36.6" fill="#e36161"/>
<rect x="912.4" y="782.8" width="23.2" height="36.6" fill="#ea9c9c"/>
<rect x="935.2" y="782.8" width="23.2" height="36.6" fill="#e14747"/>
<rect x="957.9" y="782.8" width="23.2" height="36.6" fill="#e99494"/>
<rect x="980.7" y="782.8" width="23.2" height="36.6" fill="#e57373"/>
<rect x="1003.5" y="782.8" width="23.2" height="36.6" fill="#e99696"/>
<rect x="1026.3" y="782.8" width="23.2" height="36.6" fill="#ea9c9c"/>
<rect x="1049.1" y="782.8" width="23.2" height="36.6" fill="#e78585"/>
<rect x="1071.9" y="782.8" width="23.2" height="36.6" fill="#f3dbdb"/>
<rect x="1094.7" y="782.8" width="23.2" height="36.6" fill="#e57373"/>
<rect x="1117.5" y="782.8" width="23.2" height="36.6" fill="#f3dbdb"/>
<rect x="1140.3" y="782.8" width="23.2" height="36.6" fill="#e78585"/>
<rect x="1163" y="782.8" width="23.2" height="36.6" fill="#e78585"/>
<rect x="1185.8" y="782.8" width="23.2" height="36.6" fill="#e46b6b"/>
<rect x="1208.6" y="782.8" width="23.2" height="36.6" fill="#e88a8a"/>
<rect x="1231.4" y="782.8" width="23.2" height="36.6" fill="#eba6a6"/>
<rect x="638.9" y="819" width="23.2" height="36.6" fill="#eebdbd"/>
<rect x="661.7" y="819" width="23.2" height="36.6" fill="#e88f8f"/>
<rect x="684.5" y="819" width="23.2" height="36.6" fill="#dc0d0d"/>
<rect x="707.3" y="819" width="23.2" height="36.6" fill="#e68080"/>
<rect x="730.1" y="819" width="23.2" height="36.6" fill="#e57070"/>
<rect x="752.8" y="819" width="23.2" height="36.6" fill="#efc4c4"/>
<rect x="775.6" y="819" width="23.2" height="36.6" fill="#e35959"/>
<rect x="798.4" y="819" width="23.2" height="36.6" fill="#e57373"/>
<rect x="821.2" y="819" width="23.2" height="36.6" fill="#e04040"/>
<rect x="844" y="819" width="23.2" height="36.6" fill="#e57373"/>
<rect x="866.8" y="819" width="23.2" height="36.6" fill="#e35959"/>
<rect x="889.6" y="819" width="23.2" height="36.6" fill="#e36161"/>
<rect x="912.4" y="819" width="23.2" height="36.6" fill="#ecb2b2"/>
<rect x="935.2" y="819" width="23.2" height="36.6" fill="#e35959"/>
<rect x="957.9" y="819" width="23.2" height="36.6" fill="#e78282"/>
<rect x="980.7" y="819" width="23.2" height="36.6" fill="#e78282"/>
<rect x="1003.5" y="819" width="23.2" height="36.6" fill="#e46b6b"/>
<rect x="1026.3" y="819" width="23.2" height="36.6" fill="#e57373"/>
<rect x="1049.1" y="819" width="23.2" height="36.6" fill="#e89191"/>
<rect x="1071.9" y="819" width="23.2" height="36.6" fill="#edbaba"/>
<rect x="1094.7" y="819" width="23.2" height="36.6" fill="#eaa1a1"/>
<rect x="1117.5" y="819" width="23.2" height="36.6" fill="#eaa3a3"/>
<rect x="1140.3" y="819" width="23.2" height="36.6" fill="#e46b6b"/>
<rect x="1163" y="819" width="23.2" height="36.6" fill="#ea9e9e"/>
<rect x="1185.8" y="819" width="23.2" height="36.6" fill="#ecb0b0"/>
<rect x="1208.6" y="819" width="23.2" height="36.6" fill="#e57070"/>
<rect x="1231.4" y="819" width="23.2" height="36.6" fill="#e67a7a"/>
<rect x="638.9" y="855.2" width="23.2" height="36.6" fill="#ea9e9e"/>
<rect x="661.7" y="855.2" width="23.2" height="36.6" fill="#f3dbdb"/>
<rect x="684.5" y="855.2" width="23.2" height="36.6" fill="#edb8b8"/>
<rect x="707.3" y="855.2" width="23.2" height="36.6" fill="#ea9e9e"/>
<rect x="730.1" y="855.2" width="23.2" height="36.6" fill="#e25454"/>
<rect x="752.8" y="855.2" width="23.2" height="36.6" fill="#e57373"/>
<rect x="775.6" y="855.2" width="23.2" height="36.6" fill="#ea9c9c"/>
<rect x="798.4" y="855.2" width="23.2" height="36.6" fill="#e78585"/>
<rect x="821.2" y="855.2" width="23.2" height="36.6" fill="#edb8b8"/>
<rect x="844" y="855.2" width="23.2" height="36.6" fill="#ecb0b0"/>
<rect x="866.8" y="855.2" width="23.2" height="36.6" fill="#f0cccc"/>
<rect x="889.6" y="855.2" width="23.2" height="36.6" fill="#f1d1d1"/>
<rect x="912.4" y="855.2" width="23.2" height="36.6" fill="#f3dbdb"/>
<rect x="935.2" y="855.2" width="23.2" height="36.6" fill="#eebfbf"/>
<rect x="957.9" y="855.2" width="23.2" height="36.6" fill="#e99696"/>
<rect x="980.7" y="855.2" width="23.2" height="36.6" fill="#e35c5c"/>
<rect x="1003.5" y="855.2" width="23.2" height="36.6" fill="#f8f2f2"/>
<rect x="1026.3" y="855.2" width="23.2" height="36.6" fill="#e78787"/>
<rect x="1049.1" y="855.2" width="23.2" height="36.6" fill="#eaa3a3"/>
<rect x="1071.9" y="855.2" width="23.2" height="36.6" fill="#e57373"/>
<rect x="1094.7" y="855.2" width="23.2" height="36.6" fill="#f3dbdb"/>
<rect x="1117.5" y="855.2" width="23.2" height="36.6" fill="#f3dbdb"/>
<rect x="1140.3" y="855.2" width="23.2" height="36.6" fill="#e88f8f"/>
<rect x="1163" y="855.2" width="23.2" height="36.6" fill="#e25757"/>
<rect x="1185.8" y="855.2" width="23.2" height="36.6" fill="#ffffff"/>
<rect x="1208.6" y="855.2" width="23.2" height="36.6" fill="#e88c8c"/>
<rect x="1231.4" y="855.2" width="23.2" height="36.6" fill="#e57373"/>
</g>
<text x="1257.4" y="589.5" font-size="14.6" font-family="Liberation Sans, sans-serif" text-anchor="start" fill="#000">Oridonin</text>
<text x="1257.4" y="625.7" font-size="14.6" font-family="Liberation Sans, sans-serif" text-anchor="start" fill="#000">Muscone</text>
<text x="1257.4" y="661.9" font-size="14.6" font-family="Liberation Sans, sans-serif" text-anchor="start" fill="#000">Salvianolic Acid D</text>
<text x="1257.4" y="698.1" font-size="14.6" font-family="Liberation Sans, sans-serif" text-anchor="start" fill="#000">Isoliquiritigenin</text>
<text x="1257.4" y="734.3" font-size="14.6" font-family="Liberation Sans, sans-serif" text-anchor="start" fill="#000">3‘-O-Methylviolanone</text>
<text x="1257.4" y="770.5" font-size="14.6" font-family="Liberation Sans, sans-serif" text-anchor="start" fill="#000">Homoferreirin</text>
<text x="1257.4" y="806.7" font-size="14.6" font-family="Liberation Sans, sans-serif" text-anchor="start" fill="#000">Naringenin</text>
<text x="1257.4" y="842.9" font-size="14.6" font-family="Liberation Sans, sans-serif" text-anchor="start" fill="#000">Kaempferol</text>
<text x="1257.4" y="879.1" font-size="14.6" font-family="Liberation Sans, sans-serif" text-anchor="start" fill="#000">Bupivacaine</text>
<text transform="translate(645.3,895) rotate(90)" font-size="14.6" font-family="Liberation Sans, sans-serif">Scn5a</text>
<text transform="translate(668.1,895) rotate(90)" font-size="14.6" font-family="Liberation Sans, sans-serif">Cacna1c</text>
<text transform="translate(690.9,895) rotate(90)" font-size="14.6" font-family="Liberation Sans, sans-serif">Scn2a</text>
<text transform="translate(713.7,895) rotate(90)" font-size="14.6" font-family="Liberation Sans, sans-serif">Scn3a</text>
<text transform="translate(736.5,895) rotate(90)" font-size="14.6" font-family="Liberation Sans, sans-serif">Scn10a</text>
<text transform="translate(759.2,895) rotate(90)" font-size="14.6" font-family="Liberation Sans, sans-serif">Trpv3</text>
<text transform="translate(782,895) rotate(90)" font-size="14.6" font-family="Liberation Sans, sans-serif">Cacna1b</text>
<text transform="translate(804.8,895) rotate(90)" font-size="14.6" font-family="Liberation Sans, sans-serif">Cacnb1</text>
<text transform="translate(827.6,895) rotate(90)" font-size="14.6" font-family="Liberation Sans, sans-serif">Gabra1</text>
<text transform="translate(850.4,895) rotate(90)" font-size="14.6" font-family="Liberation Sans, sans-serif">Gabrb3</text>
<text transform="translate(873.2,895) rotate(90)" font-size="14.6" font-family="Liberation Sans, sans-serif">Gabrd</text>
<text transform="translate(896,895) rotate(90)" font-size="14.6" font-family="Liberation Sans, sans-serif">Gabrg2</text>
<text transform="translate(918.8,895) rotate(90)" font-size="14.6" font-family="Liberation Sans, sans-serif">Grik3</text>
<text transform="translate(941.5,895) rotate(90)" font-size="14.6" font-family="Liberation Sans, sans-serif">Grin2b</text>
<text transform="translate(964.3,895) rotate(90)" font-size="14.6" font-family="Liberation Sans, sans-serif">Kcna3</text>
<text transform="translate(987.1,895) rotate(90)" font-size="14.6" font-family="Liberation Sans, sans-serif">Kcna5</text>
<text transform="translate(1009.9,895) rotate(90)" font-size="14.6" font-family="Liberation Sans, sans-serif">Nav1</text>
<text transform="translate(1032.7,895) rotate(90)" font-size="14.6" font-family="Liberation Sans, sans-serif">P2rx3</text>
<text transform="translate(1055.5,895) rotate(90)" font-size="14.6" font-family="Liberation Sans, sans-serif">Trpa1</text>
<text transform="translate(1078.3,895) rotate(90)" font-size="14.6" font-family="Liberation Sans, sans-serif">Gria4</text>
<text transform="translate(1101.1,895) rotate(90)" font-size="14.6" font-family="Liberation Sans, sans-serif">Grin2d</text>
<text transform="translate(1123.9,895) rotate(90)" font-size="14.6" font-family="Liberation Sans, sans-serif">Kcne1</text>
<text transform="translate(1146.7,895) rotate(90)" font-size="14.6" font-family="Liberation Sans, sans-serif">Kcnn2</text>
<text transform="translate(1169.4,895) rotate(90)" font-size="14.6" font-family="Liberation Sans, sans-serif">Kcnq1</text>
<text transform="translate(1192.2,895) rotate(90)" font-size="14.6" font-family="Liberation Sans, sans-serif">Prkacb</text>
<text transform="translate(1215,895) rotate(90)" font-size="14.6" font-family="Liberation Sans, sans-serif">Scn1a</text>
<text transform="translate(1237.8,895) rotate(90)" font-size="14.6" font-family="Liberation Sans, sans-serif">Scn4a</text>
<defs><linearGradient id="gc" x1="0" y1="0" x2="0" y2="1"><stop offset="0" stop-color="#ffffff"/><stop offset="1" stop-color="#db0000"/></linearGradient></defs>
<rect x="1403" y="568.6" width="9.2" height="135.7" fill="url(#gc)"/>
<text x="1416.4" y="581.9" font-size="8.8" font-family="Liberation Sans, sans-serif" text-anchor="start" fill="#000">-6</text>
<text x="1416.4" y="612.8" font-size="8.8" font-family="Liberation Sans, sans-serif" text-anchor="start" fill="#000">-7</text>
<text x="1416.4" y="643.9" font-size="8.8" font-family="Liberation Sans, sans-serif" text-anchor="start" fill="#000">-8</text>
<text x="1416.4" y="674.9" font-size="8.8" font-family="Liberation Sans, sans-serif" text-anchor="start" fill="#000">-9</text>
<text x="1416.4" y="706" font-size="8.8" font-family="Liberation Sans, sans-serif" text-anchor="start" fill="#000">-10</text>
<circle cx="151.8" cy="1153.5" r="107" fill="#a8b8e3"/>
<circle cx="307.1" cy="1153.5" r="107.3" fill="#d4ab87"/>
<defs><clipPath id="cd"><circle cx="151.8" cy="1153.5" r="107"/></clipPath></defs>
<circle cx="307.1" cy="1153.5" r="107.3" fill="#a88a78" stroke="#f4ece6" stroke-width="1.2" clip-path="url(#cd)"/>
<text x="136.2" y="1162.5" font-size="30" font-family="Liberation Serif, serif" text-anchor="middle" fill="#000">5</text>
<text x="229.6" y="1162.5" font-size="30" font-family="Liberation Serif, serif" text-anchor="middle" fill="#000">3</text>
<text x="322" y="1162.5" font-size="30" font-family="Liberation Serif, serif" text-anchor="middle" fill="#000">24</text>
<rect x="26.1" y="1312.8" width="85.9" height="32.6" fill="#4a70b0" stroke="#9a9a9a" stroke-width="1"/>
<rect x="112" y="1312.8" width="85.9" height="32.6" fill="#5488b8" stroke="#9a9a9a" stroke-width="1"/>
<rect x="198" y="1312.8" width="85.9" height="32.6" fill="#5890b8" stroke="#9a9a9a" stroke-width="1"/>
<rect x="26.1" y="1345.4" width="85.9" height="32.6" fill="#5488b8" stroke="#9a9a9a" stroke-width="1"/>
<rect x="112" y="1345.4" width="85.9" height="32.6" fill="#70bfc0" stroke="#9a9a9a" stroke-width="1"/>
<rect x="198" y="1345.4" width="85.9" height="32.6" fill="#6cb8bc" stroke="#9a9a9a" stroke-width="1"/>
<rect x="26.1" y="1378.1" width="85.9" height="32.6" fill="#5890b8" stroke="#9a9a9a" stroke-width="1"/>
<rect x="112" y="1378.1" width="85.9" height="32.6" fill="#5080b5" stroke="#9a9a9a" stroke-width="1"/>
<rect x="198" y="1378.1" width="85.9" height="32.6" fill="#60a0bc" stroke="#9a9a9a" stroke-width="1"/>
<rect x="26.1" y="1410.7" width="85.9" height="32.6" fill="#5284b7" stroke="#9a9a9a" stroke-width="1"/>
<rect x="112" y="1410.7" width="85.9" height="32.6" fill="#4c78b2" stroke="#9a9a9a" stroke-width="1"/>
<rect x="198" y="1410.7" width="85.9" height="32.6" fill="#64a6bc" stroke="#9a9a9a" stroke-width="1"/>
<rect x="26.1" y="1443.3" width="85.9" height="32.6" fill="#5890b8" stroke="#9a9a9a" stroke-width="1"/>
<rect x="112" y="1443.3" width="85.9" height="32.6" fill="#5890b8" stroke="#9a9a9a" stroke-width="1"/>
<rect x="198" y="1443.3" width="85.9" height="32.6" fill="#62a4bc" stroke="#9a9a9a" stroke-width="1"/>
<rect x="26.1" y="1476" width="85.9" height="32.6" fill="#5488b8" stroke="#9a9a9a" stroke-width="1"/>
<rect x="112" y="1476" width="85.9" height="32.6" fill="#4c78b2" stroke="#9a9a9a" stroke-width="1"/>
<rect x="198" y="1476" width="85.9" height="32.6" fill="#64a6bc" stroke="#9a9a9a" stroke-width="1"/>
<rect x="26.1" y="1508.6" width="85.9" height="32.6" fill="#5284b7" stroke="#9a9a9a" stroke-width="1"/>
<rect x="112" y="1508.6" width="85.9" height="32.6" fill="#5890b8" stroke="#9a9a9a" stroke-width="1"/>
<rect x="198" y="1508.6" width="85.9" height="32.6" fill="#62a4bc" stroke="#9a9a9a" stroke-width="1"/>
<rect x="26.1" y="1541.3" width="85.9" height="32.6" fill="#4c78b2" stroke="#9a9a9a" stroke-width="1"/>
<rect x="112" y="1541.3" width="85.9" height="32.6" fill="#5488b8" stroke="#9a9a9a" stroke-width="1"/>
<rect x="198" y="1541.3" width="85.9" height="32.6" fill="#62a4bc" stroke="#9a9a9a" stroke-width="1"/>
<text x="288.3" y="1334.1" font-size="14.8" font-family="Liberation Sans, sans-serif" text-anchor="start" fill="#000">Oridonin</text>
<text x="288.3" y="1366.8" font-size="14.8" font-family="Liberation Sans, sans-serif" text-anchor="start" fill="#000">Muscone</text>
<text x="288.3" y="1399.4" font-size="14.8" font-family="Liberation Sans, sans-serif" text-anchor="start" fill="#000">Salvianolic Acid D</text>
<text x="288.3" y="1432" font-size="14.8" font-family="Liberation Sans, sans-serif" text-anchor="start" fill="#000">Isoliquiritigenin</text>
<text x="288.3" y="1464.7" font-size="14.8" font-family="Liberation Sans, sans-serif" text-anchor="start" fill="#000">3‘−O−Methylviolanone</text>
<text x="288.3" y="1497.3" font-size="14.8" font-family="Liberation Sans, sans-serif" text-anchor="start" fill="#000">Homoferreirin</text>
<text x="288.3" y="1529.9" font-size="14.8" font-family="Liberation Sans, sans-serif" text-anchor="start" fill="#000">Naringenin</text>
<text x="288.3" y="1562.6" font-size="14.8" font-family="Liberation Sans, sans-serif" text-anchor="start" fill="#000">kaempferol</text>
<text transform="translate(63.1,1579) rotate(90)" font-size="14.8" font-family="Liberation Sans, sans-serif">Scn5a</text>
<text transform="translate(149,1579) rotate(90)" font-size="14.8" font-family="Liberation Sans, sans-serif">Scn1a</text>
<text transform="translate(234.9,1579) rotate(90)" font-size="14.8" font-family="Liberation Sans, sans-serif">Scn3a</text>
<defs><linearGradient id="ge" x1="0" y1="0" x2="0" y2="1"><stop offset="0" stop-color="#72c2c0"/><stop offset="0.5" stop-color="#5e9cba"/><stop offset="1" stop-color="#4a70b0"/></linearGradient></defs>
<rect x="446" y="1312.8" width="15.2" height="223" fill="url(#ge)"/>
<text x="467.8" y="1327.8" font-size="14.8" font-family="Liberation Sans, sans-serif" text-anchor="start" fill="#000">−5</text>
<text x="467.8" y="1373.8" font-size="14.8" font-family="Liberation Sans, sans-serif" text-anchor="start" fill="#000">−5.5</text>
<text x="467.8" y="1420.2" font-size="14.8" font-family="Liberation Sans, sans-serif" text-anchor="start" fill="#000">−6</text>
<text x="467.8" y="1466.7" font-size="14.8" font-family="Liberation Sans, sans-serif" text-anchor="start" fill="#000">−6.5</text>
<text x="467.8" y="1513.4" font-size="14.8" font-family="Liberation Sans, sans-serif" text-anchor="start" fill="#000">−7</text>
<g stroke="#222" stroke-width="1.5" stroke-dasharray="3.3 1.7" fill="none">
<path d="M9 1730H1430.6M9 1730L9 2388H1430.3M1430.6 1730L1430.3 2388"/>
<path d="M355.5 1730L357.3 2393M707 1730L710 2390M1059.8 1730L1062 2390" stroke-width="1.8"/>
</g>
<path d="M59.2 1965l.2 8.9 .2-.6 .2 6.4 .2-11.5 .2-.5 .2-5.4 .2 1.7 .2-11.1 .2 9.2 .2-5.8 .2 1.1 .2-4.3 .2 3 .2 4.2 .2-2.1 .2-2.5 .2 4.1 .2 3.1 .2-.2 .2-8.4 .2-2.3 .2 12.6 .2-7.1 .2 3.3 .2-7.2 .2 6.4 .2 1.9 .2-3.7 .2 4.7 .2-9.7 .2 13.8 .2-6.4 .2 8.5 .2 .5 .2-2.8 .2-8.8 .2-.8 .2 2.3 .2 12.2 .2 .8 .2-6.1 .2 6.7 .2 .9 .3-10.4 .2 3 .2 5.4 .2-7.1 .2 .9 .2 2.1 .2-11.3 .2 8.9 .2 3.6 .2-5.2 .2 4.8 .2-1 .2-11.3 .2-9.5 .2 5.1 .2-.6 .2-15.8 .2 8.8 .2-4.5 .2 1.1 .2-12.8 .2 2.4 .2-4.5 .2 1.4 .2 9.7 .2-6.8 .2-.2 .2 2.4 .2-10.2 .2 10.6 .2 9.7 .2-7.5 .2-9.3 .2-2.1 .2 14 .2-17.5 .2 15.7 .2-10.6 .2 7 .2-1 .2-.1 .2-3.3 .2-4 .2 2.2 .2 12.8 .2-5.4 .2 .3 .2 5.5 .2-4.8 .2 1.5 .2 .6 .2-3.9 .2-4.9 .2 7.6 .2-7.1 .2 1.9 .2 .8 .2 6.5 .2-5.1 .2-1.3 .2 1.2 .2 13.7 .2-8.9 .2 .1 .2 6.6 .2-9 .2 2.4 .2 1.1 .2 5.1 .2-3.2 .2-3.5 .2 4.3 .2-6.8 .2-5.3 .2 6.1 .2-6.6 .2 14.1 .2-6.9 .2 8.9 .2 .3 .2-5.7 .2 2.7 .2-2.5 .2-5.6 .2 8.8 .2 2.6 .3-12.3 .2 5.2 .2 .3 .2-.4 .2-3 .2-2.9 .2 8 .2 6.5 .2-5.8 .2-2.3 .2 5.2 .2-.8 .2 7.5 .2-3.5 .2-.8 .2-3.7 .2-4.5 .2 4.1 .2 9.9 .2-9.9 .2 3.5 .2-1.2 .2-.5 .2 9.4 .2-6.5 .2-2.5 .2-1 .2 6.5 .2-4.1 .2 10.5 .2-5.6 .2-2 .2 2.8 .2-8.3 .2-1.5 .2 13.7 .2-8.8 .2 4.8 .2-2.9 .2 10.5 .2-8.8 .2-8.3 .2 4.5 .2 .6 .2 .4 .2-4.5 .2 14 .2-4.9 .2-.8 .2-1 .2 7.8 .2-8.2 .2-3.1 .2 5.7 .2-1.2 .2-3.5 .2 .1 .2 5.5 .2-3.6 .2-3.1 .2-4.1 .2 4 .2-3.2 .2 1 .2 4 .2 2.1 .2 2 .2-14.3 .2 5.2 .2-1 .2-1.5 .2-9.6 .2 4.1 .2 8.1 .2-13.1 .2 5.6 .2 7.8 .2-9.9 .2 8.2 .2-5.4 .2-9.6 .2-3.8 .2-2.5 .2 7.1 .2 6.6 .2-9.4 .2-7 .3-6.9 .2 10.2 .2-11.8 .2 8.3 .2 6.8 .2 .6 .2-3.1 .2-3.9 .2 .8 .2-9.8 .2-8.8 .2 7.2 .2 5.9 .2-8 .2-4.9 .2 4.2 .2 .6 .2 7 .2-4.3 .2-7.1 .2-.5 .2-1.6 .2 11.6 .2-10.5 .2 7.2 .2 3.3 .2-6.7 .2-8.8 .2-2.9 .2 18.5 .2 5 .2-18.9 .2 8.3 .2 .5 .2-2 .2 .4 .2-3.6 .2 7.2 .2-2.4 .2-2.8 .2-3.2 .2 10.6 .2-5.3 .2-8.5 .2 4 .2 11.7 .2-12.3 .2 10.1 .2-3.9 .2 .4 .2 3.1 .2 10.6 .2-6.7 .2 1.9 .2 6.6 .2-.9 .2 2.9 .2-8.8 .2 1.8 .2 .5 .2-3.4 .2 14.1 .2-5.3 .2 1.6 .2-2.2 .2 7 .2-1.1 .2 1.3 .2 7.3 .2 1.2 .2-1.6 .2-12.8 .2 .3 .2-12.8 .2 8.5 .2 3.8 .2-12.3 .2 12.4 .2-15 .2-2.5 .2-5.7 .2 6.9 .2-15.1 .2 20.2 .2-18.2 .2 8 .2-1.1 .3 1.6 .2-1.9 .2-7.3 .2-2.5 .2 1.6 .2-.9 .2-11.1 .2 3 .2-4.2 .2 10.7 .2-9 .2 5.3 .2-1.6 .2 12.5 .2-8.6 .2 9.2 .2-11.8 .2-3 .2-2.2 .2 .7 .2 7.7 .2-3.9 .2 5.9 .2 .4 .2 2.7 .2 7.4 .2-8.9 .2 5 .2-9.8 .2 14.6 .2-7 .2 3.4 .2-4.6 .2-9.2 .2 1.5 .2-1.1 .2 11 .2-4.7 .2 4.6 .2 .2 .2 3.2 .2 11.7 .2 5.1 .2-2.4 .2 10.4 .2-6.2 .2-14.5 .2 11.8 .2 6 .2-2 .2-1.3 .2-7.1 .2 11.4 .2 10.5 .2 1.2 .2-18.1 .2 .3 .2 13.3 .2-4.2 .2 7.2 .2-3.2 .2 1.2 .2 2.5 .2 .2 .2 1.6 .2-.1 .2-.6 .2-6.6 .2 5.7 .2-13.1 .2 12.7 .2-8.9 .2-1 .2 3.5 .2 11.1 .2-7.8 .2 4.2 .2-10.1 .2 3.9 .2 5.2 .2-2.7 .2-9 .2 5.3 .2-3.1 .2-5.1 .2 8.3 .3-5.9 .2-.5 .2 8.7 .2-14.9 .2 5.8 .2-10.7 .2 14.4 .2-3.6 .2 3.3 .2-7.9 .2-6.5 .2 22.3 .2-3.4 .2-3.5 .2-7.1 .2-.4 .2-1.5 .2-2.4 .2 9.7 .2-5.7 .2 0 .2-.5 .2 3.5 .2-6.7 .2 8.5 .2-7.2 .2 2.3 .2-14.5 .2 5.4 .2 5.1 .2-10.1 .2 19.5 .2-7.2 .2 3.6 .2-9 .2 7.8 .2-9.8 .2-7.1 .2 12.4 .2-1.2 .2-.1 .2-2.2 .2 1.3 .2-7 .2 4.9 .2-4.5 .2 3.9 .2-5.2 .2 8.4 .2 2.6 .2 3.2 .2-8.2 .2-.7 .2 6.6 .2 9.3 .2-16.7 .2-2.1 .2 5.7 .2-1.5 .2 2.2 .2-4.4 .2-1.5 .2 3.1 .2-.9 .2 5 .2-1.3 .2-3.1 .2-1.2 .2-7.9 .2 12 .2-5.8 .2 6.5 .2 2.5 .2-1.9 .2 0 .2-9.7 .2-2.1 .2 1.1 .2-1.7 .2 9.7 .2-.8 .2 1.5 .2 14.4 .2-8.1 .2-9.6 .2 2.7 .2 2.6 .3-1.2 .2-6.7 .2 7.3 .2-.3 .2-3.6 .2-2.1 .2-1.7 .2 3.1 .2-.8 .2-1.7 .2-2.5 .2 5.9 .2-1.4 .2 6.1 .2 0 .2-.1 .2-4.9 .2-5.5 .2-1.7 .2-5.3 .2 10.1 .2 2.7 .2-8.3 .2 6.5 .2-6.2 .2 18.3 .2-3.5 .2-10.4 .2-3.1 .2 2.7 .2 1.3 .2-.5 .2-7.8 .2 14.4 .2-9.5 .2 9.7 .2-.4 .2-10 .2 3.3 .2-2.7 .2-3.3 .2 11 .2-.9 .2-9.5 .2 5.4 .2-2.7 .2-3.3 .2 1.3 .2 17 .2-15.3 .2 3.2 .2-3.1 .2-6.8 .2 7.5 .2-10.1 .2-.1 .2 2.6 .2-.4 .2 1.8 .2 7.2 .2-.6 .2-1.8 .2-4.8 .2 2.4 .2-3.1 .2-3 .2 5.5 .2-.4 .2 .9 .2-4.2 .2-2.7 .2 .6 .2-7.3 .2 6.6 .2-7.7 .2 6 .2-7.3 .2 8.3 .2 2.2 .2 .6 .2-13 .2 2.9 .2-3.9 .2-1.3 .2 1.4 .2-9.5 .2-4.2 .3 7 .2-5.6 .2-1.3 .2 9.7 .2-14.3 .2 2.5 .2-.2 .2 4 .2 2.5 .2-2.1 .2 2.8 .2-5.2 .2-5.3 .2 2.6 .2-1.4 .2 6.3 .2-11.6 .2 10.1 .2 3.2 .2-13.7 .2 2.8 .2 5.3 .2 9.5 .2-14.2 .2 4.6 .2-2.5 .2-3.6 .2 3.3 .2 5.4 .2 3.7 .2-4.7 .2 10.2 .2-17.4 .2 8 .2 12.1 .2-19.6 .2 4.5 .2-2.4 .2 3.5 .2 1.6 .2 7.2 .2 2 .2 7.8 .2-10.6 .2 12.1 .2-3.6 .2-5.5 .2 5.6 .2 .3 .2 10.1 .2-1 .2-15.1 .2 19 .2-8 .2 14.2 .2-4.2 .2 .6 .2 10.7 .2-8.4 .2-.2 .2 13.7 .2-10 .2 6.9 .2-1.2 .2-1.9 .2 5.8 .2 .2 .2-13 .2-1 .2 5.1 .2 8.9 .2-7.3 .2-9.3 .2 2.6 .2 5.9 .2-2.7 .2-1.6 .2 7.2 .2 .5 .2-.3 .2-8.8 .2 6.4 .2 10.4 .2-1.5 .2-2.9 .2-8.8 .2 1.6 .3 3.4 .2-4.9 .2-6.9 .2 10.8 .2 1.2 .2 6.8 .2-6.1 .2 1.1 .2-2.1 .2 1.7 .2 2.2 .2-13.1 .2 .6 .2 2.3 .2 17.7 .2-15.4 .2-4.4 .2 3.2 .2-7.3 .2-.1 .2-.3 .2 14.3 .2-2 .2-13.1 .2 .2 .2 4 .2-9.9 .2 12.3 .2-7.2 .2-5.9 .2 18.3 .2-7.4 .2-4.5 .2 5 .2-3.2 .2 6.5 .2 .3 .2-6.7 .2 16.5 .2-3.5 .2-8.2 .2-.1 .2-8.8 .2-.1 .2 7.2 .2-7.4 .2 18.8 .2-5 .2 0 .2-.4 .2-2.2 .2-6.3 .2 8.8 .2-2.7 .2-.1 .2-9.4 .2 11.9 .2-1.2 .2 2.1 .2-5.7 .2-1.9 .2 4.4 .2 12.7 .2-1.9 .2-4.4 .2-3.2 .2-.2 .2 2 .2 1.2 .2 11.9 .2-13.9 .2 12.3 .2-4.5 .2 7.4 .2-14.2 .2-3.8 .2 2.7 .2 11.4 .2 2.5 .2 5.9 .2-7.1 .2-1.5 .2-6.8 .2-7.4 .2 6.8 .2-.5 .3 12.1 .2-8.6 .2-3.7 .2 12.2 .2-16.7 .2 16.2 .2-1.9 .2-15.2 .2 7.9 .2-3.3 .2 3.7 .2-1.3 .2 8.2 .2-2 .2-4.5 .2-5.4 .2 9.1 .2 .2 .2 .9 .2-6.2 .2 4.7 .2 5.9 .2-5.1 .2-5.3 .2-2.7 .2 4.8 .2-4.1 .2-9.5 .2 2 .2 12.2 .2-3.6 .2-1.3 .2-5.3 .2-1 .2-6.6 .2 2.3 .2 .7 .2 8.4 .2-.2 .2-1.6 .2 5.9 .2-5.9 .2-.6 .2-1.9 .2 8.8 .2-7.9 .2 3.9 .2-9 .2 12.3 .2-11.2 .2 6.1 .2 1.3 .2 4.7 .2-5.8 .2 .9 .2 4.8 .2 1.4 .2-3 .2-8.9 .2-2.2 .2 1.3 .2 1.5 .2-1.4 .2 3.3 .2-1.5 .2-2.2 .2-3.3 .2 4.7 .2-6.7 .2 10.6 .2-5 .2-4.9 .2-3 .2-6.4 .2 4.4 .2-9.7 .2 16.1 .2 2.8 .2 .2 .2-6.2 .2 7.6 .2-2.9 .2-14.1 .2 16.8 .2-1.4 .2-4.3 .2-16.6 .3 20.5 .2-13.7 .2-.9 .2 6.4 .2-2.1 .2 2.9 .2-6.8 .2 8.4 .2-.1 .2-6.6 .2-5.9 .2 10.5 .2 4.3 .2-11.1 .2-.8 .2-5.1 .2 5.6 .2-3.6 .2-2.7 .2-6 .2 6 .2-4 .2 3.4 .2 .2 .2-1.8 .2 8.6 .2-4.1 .2 3.4 .2 4.2 .2-4.4 .2 .3 .2 10 .2-9.6 .2 2.1 .2 5.9 .2-17.1 .2 7.4 .2-.2 .2 10.2 .2 1.5 .2-9.2 .2 5.1 .2-4.9 .2-2.9 .2 1.2 .2 4.7 .2-.8 .2 1.9 .2 4.6 .2 8 .2-6.6 .2-6.6 .2 8.7 .2-1.3 .2-8.8 .2 7 .2-2 .2 4.7 .2 1.3 .2 2 .2 .3 .2-6.9 .2 6.4 .2-8.9 .2 8.5 .2-8.2 .2-1.9 .2-3.4 .2 6.3 .2 13.7 .2-7.3 .2-1.4 .2-7.9 .2 .6 .2-2.9 .2 2.7 .2 2.9 .2 2.1 .2 1.1 .2-16 .2 6.3 .2 16.9 .2-12.6 .2 3.5 .2-2.6 .2-9.7 .2 6.3 .3-1.5 .2 1.4 .2 1.6 .2-.6 .2 3.8 .2-2.1 .2 2.2 .2 7.8 .2-1 .2-2.2 .2-9.6 .2 3 .2-2.2 .2 .4 .2 11.4 .2-4.2 .2 2.6 .2-4.7 .2 6.1 .2-5.2 .2-2.2 .2 2.8 .2-.3 .2 1.1 .2-2.8 .2 21.6 .2 .1 .2-5 .2-6.2 .2-8.8 .2 3.2 .2-4.6 .2-.5 .2 3.4 .2 10.9 .2-7.3 .2-1.5 .2 .8 .2-1.8 .2 10.2 .2 3.4 .2-9.2 .2 1.5 .2 10.1 .2-7.7 .2 4.4 .2-16.8 .2-.1 .2 1.9 .2 10.5 .2-5.4 .2 3.5 .2-7.2 .2 9.7 .2-11.2 .2-2.3 .2 7.1 .2 5.6 .2-6.7 .2 5.5 .2-9.7 .2 9.6 .2 6 .2-13.1 .2 1.3 .2 1.2 .2 6.2 .2-14.3 .2-.8 .2 2.8 .2-8.5 .2 16.1 .2 3.2 .2 .1 .2-8.4 .2 2 .2 2.9 .2-2.7 .2-.3 .2 .3 .2 9.5 .2-3.8 .2 3 .2-8.9 .2-3 .2 4.6 .3 4.3 .2-3.2 .2-3 .2 .3 .2 6.2 .2-.2 .2 1.7 .2-4.6 .2-2.4 .2 1.1 .2-2.2 .2-5.1 .2 2.5 .2 2.9 .2 5 .2-2.1 .2-1.7 .2-14.2 .2 14.9 .2 .4 .2 2 .2-2.7 .2-2.3 .2 .5 .2 1.2 .2 3.5 .2 2.2 .2-.5 .2-1 .2-.3 .2 .8 .2 2 .2 1.7 .2-2.6 .2-.1 .2 .7 .2-1.8 .2 .7 .2-6.2 .2 5.3 .2 4.1 .2-5.8 .2-5.4 .2-1.5 .2 9.1 .2 1.7 .2-10.3 .2 2.9 .2 5.2 .2-4.1 .2-.5 .2 5.4 .2-9 .2 7.2 .2 .5 .2-1.7 .2-5.1 .2-4.6 .2 18.5 .2-10 .2-.5 .2 8.7 .2-13.7 .2-2.4 .2 2.3 .2 0 .2 3.9 .2-5.7 .2 8.7 .2-6.4 .2 1.7 .2-3.7 .2 11.8 .2-9.1 .2 5.1 .2-2.4 .2 .6 .2-7.2 .2 12.2 .2-.4 .2-4.2 .2 .6 .2-.1 .2 3.3 .2-4.7 .2-1.3 .2 16.2 .3-8.6 .2-.7 .2-4.6 .2 5.1 .2-6.5 .2 .2 .2-.3 .2 6.2 .2 1.8 .2-18.4 .2 0 .2-1.6 .2-1.6 .2 3.8 .2-13.1 .2-3.6 .2 .5 .2 1.4 .2-1.8 .2-.7 .2 1.8 .2-.5 .2-.8 .2 1.2 .2 3.1 .2-2.2 .2 1.4 .2 1.6 .2-1.6 .2 1.2 .2-.6 .2 1.2 .2 .2 .2 3.2 .2-2.2 .2-3.6 .2-.2 .2 .1 .2 1.6 .2-.8 .2 3.7 .2-1 .2 1.2 .2 .7 .2-5.3 .2 1.8 .2 3.3 .2-1.4 .2 1.9 .2-.8 .2 .7 .2 .8 .2-1.9 .2 1.9 .2-.3 .2-2.3 .2-1.5 .2 1 .2 .7 .2 .1 .2-5.7 .2 2.1 .2 2.5 .2 .7 .2-4.6 .2 5.9 .2 0 .2-.3 .2-3 .2 5 .2-4.2 .2 3.9 .2 2.2 .2-2.5 .2 1.4 .2-.4 .2-2.1 .2-1.5 .2-.6 .2 1.2 .2 .9 .2-.7 .2 2.4 .2-3 .2-1.1 .2-.1 .3 1.3 .2-.3 .2 2.5 .2-2.4 .2 .1 .2 1.8 .2-.3 .2-1.2 .2 .3 .2-2.8 .2 2.9 .2 1.1 .2-1.3 .2 .7 .2-2.1 .2 1.8 .2-1.1 .2 2.7 .2-3.3 .2 2.6 .2-.9 .2 2 .2-1 .2 .4 .2-.7 .2 .1 .2-.6 .2 1.8 .2-1 .2 4.2 .2-2 .2 .1 .2 3.6 .2-4.5 .2-1.4 .2 2.3 .2-2.7 .2-.8 .2-.6 .2-.7 .2 4.8 .2-2.4 .2 3.8 .2-1.4 .2-.4 .2-.2 .2-1.3 .2 1 .2 2.6 .2-1.4 .2-1 .2 .7 .2-3.5 .2 1.4 .2 1.7 .2-1.4 .2-.8 .2-.3 .2 4.7 .2-2.1 .2 2.6 .2-4.3 .2 0 .2 1.6 .2-2.7 .2 .3 .2 .1 .2 1.1 .2-1.9 .2 .3 .2 .5 .2 4.1 .2-1.1 .2-3 .2 1.7 .2-2.4 .2 3.5 .2-3.2 .2 3.8 .2-.7 .2-1.4 .2 2.2 .2-.8 .2-1.2 .2 .6 .2-1.2 .2 4.2 .3-3.6 .2 .4 .2-1.9 .2 .6 .2-1.2 .2 .7 .2 1.3 .2-3.6 .2 5.6 .2-1.2 .2-.6 .2-1.6 .2 2.8 .2-2.6 .2 0 .2 .6 .2 1 .2-1.1 .2-1.1 .2 2 .2 .4 .2-2.1 .2 1.5 .2 .7 .2-1.3 .2-.9 .2 1.6 .2 2.2 .2-1.6 .2 .4 .2-.6 .2-.1 .2-2.3 .2 .6 .2-1.3 .2-.5 .2 3 .2-1.7 .2-1.3 .2 1.9 .2 2.2 .2-3.3 .2 1.8 .2 1.3" stroke="#8f8f28" stroke-width="0.7" fill="none" stroke-linejoin="round" opacity="0.85"/>
<rect x="59.2" y="1800.3" width="261.5" height="210.2" fill="none" stroke="#333" stroke-width="0.9"/>
<path d="M59.2 2010.5v3.4M111.5 2010.5v3.4M163.8 2010.5v3.4M216.1 2010.5v3.4M268.4 2010.5v3.4M320.7 2010.5v3.4M85.4 2010.5v1.8M137.7 2010.5v1.8M189.9 2010.5v1.8M242.2 2010.5v1.8M294.6 2010.5v1.8M59.2 2010.5h-3.4M59.2 1940.4h-3.4M59.2 1870.4h-3.4M59.2 1800.3h-3.4M59.2 1975.5h-1.8M59.2 1905.4h-1.8M59.2 1835.3h-1.8" stroke="#333" stroke-width="0.9" fill="none"/>
<text x="59.2" y="2028" font-size="12.6" font-family="Liberation Serif, serif" text-anchor="middle" fill="#111">0</text>
<text x="111.5" y="2028" font-size="12.6" font-family="Liberation Serif, serif" text-anchor="middle" fill="#111">20</text>
<text x="163.8" y="2028" font-size="12.6" font-family="Liberation Serif, serif" text-anchor="middle" fill="#111">40</text>
<text x="216.1" y="2028" font-size="12.6" font-family="Liberation Serif, serif" text-anchor="middle" fill="#111">60</text>
<text x="268.4" y="2028" font-size="12.6" font-family="Liberation Serif, serif" text-anchor="middle" fill="#111">80</text>
<text x="320.7" y="2028" font-size="12.6" font-family="Liberation Serif, serif" text-anchor="middle" fill="#111">100</text>
<text x="52.7" y="2014.7" font-size="12.6" font-family="Liberation Serif, serif" text-anchor="end" fill="#111">0.0</text>
<text x="52.7" y="1944.6" font-size="12.6" font-family="Liberation Serif, serif" text-anchor="end" fill="#111">0.5</text>
<text x="52.7" y="1874.6" font-size="12.6" font-family="Liberation Serif, serif" text-anchor="end" fill="#111">1.0</text>
<text x="52.7" y="1804.5" font-size="12.6" font-family="Liberation Serif, serif" text-anchor="end" fill="#111">1.5</text>
<text x="196.5" y="1776.2" font-size="19.8" font-family="Liberation Serif, serif" text-anchor="middle" fill="#111">SCN5A-Kaempferol</text>
<text x="189.5" y="2054.7" font-size="17.6" font-family="Liberation Serif, serif" text-anchor="middle" fill="#111">Time(ns)</text>
<text transform="translate(29.6,1905.1) rotate(-90)" font-size="17.6" font-family="Liberation Serif, serif" text-anchor="middle" fill="#111">RMSD(nm)</text>
<path d="M411.9 1955.8l.3-2 .2 6.5 .3 .9 .3 4.9 .3-2.7 .2-2.1 .3 16.3 .3-20.9 .3-.1 .2-1.3 .3 1.9 .3-2.2 .2 8.6 .3-6.8 .3-3.2 .3 15.1 .2-5.1 .3-7.8 .3 5.3 .3-3.5 .2-13.2 .3 5.6 .3 5.6 .2-5.4 .3 6.7 .3 2.3 .3-8.9 .2 2.4 .3 8 .3-2.3 .2-12.6 .3 6.7 .3-3.8 .3-1.8 .2-4.1 .3 6.6 .3 8.2 .3-8.3 .2 11.8 .3-2.8 .3 .3 .2-7.5 .3 1.3 .3 4.3 .3-13.9 .2 3.3 .3 7.1 .3-11.9 .3 13.9 .2-1.6 .3-6.6 .3-5.6 .2 3.9 .3 3.9 .3 7.1 .3-8.3 .2 9.9 .3 .6 .3-2.4 .3 14.1 .2-10.8 .3-.9 .3 11.1 .2-6.2 .3 1.1 .3 .6 .3 7.3 .2-9.7 .3 5.4 .3 6 .2-.1 .3-2.9 .3 6.5 .3-9.1 .2 .9 .3 .4 .3-5.4 .3 19.2 .2-8.5 .3-7.9 .3 1.5 .2 18.2 .3-3.6 .3-3.5 .3-1.1 .2-.9 .3 3.9 .3-8.4 .3-1.7 .2 8.4 .3-7 .3-7.8 .2 5.6 .3 2.5 .3 3.5 .3-.5 .2-2.2 .3 3.9 .3 5.4 .3-.4 .2-9.2 .3-7.4 .3-1.9 .2 7.7 .3-8.1 .3 4.5 .3-4.5 .2 2.1 .3 1.4 .3-3.5 .3-2.6 .2 7.2 .3 7.3 .3-8.5 .2-9.1 .3 23.1 .3-9.3 .3 8.6 .2-2.9 .3-8.7 .3 4.7 .2 .7 .3-7.7 .3-3.8 .3-2.6 .2 7.6 .3 1.8 .3-.9 .3-1.5 .2-6.2 .3 3.7 .3 1.1 .2 1 .3-1 .3-2.5 .3 13.4 .2-4.9 .3-7.6 .3 .8 .3-6.4 .2 11.2 .3-1.9 .3 5.1 .2-10.1 .3 6.6 .3 .6 .3 13 .2-15.3 .3 8.1 .3 11.8 .3-6.4 .2-9 .3 7 .3 2.3 .2-16.3 .3 8.1 .3-1.9 .3-3.9 .2 15 .3 2.5 .3-18.8 .2 11.9 .3-7 .3-13.8 .3 11.9 .2 5.1 .3-16.7 .3 .6 .3 7.9 .2 6.8 .3-19.7 .3 11 .2 6 .3 7 .3-6 .3-6.4 .2 .1 .3-12.7 .3-5.8 .3 12.2 .2 6.4 .3-7.7 .3-7.3 .2 7.7 .3-4.9 .3-.1 .3 6.8 .2 2.9 .3-4.1 .3 8.3 .3-3.1 .2 .1 .3 7.7 .3-2.3 .2-4.8 .3 4 .3 4.5 .3-.8 .2-10 .3 4.1 .3-11 .2-.7 .3 7.1 .3 2.1 .3 3.1 .2 1.4 .3-.5 .3-1.7 .3 .4 .2-5.2 .3-5.2 .3 8.1 .2 5.8 .3 1.5 .3-4.7 .3-.6 .2 3.9 .3 12.3 .3-4 .3-6.8 .2 7.4 .3-17.2 .3 12.8 .2-4.7 .3-1.5 .3 6.5 .3-16.8 .2 10.1 .3-.3 .3 1 .3 2.8 .2 .3 .3 1.1 .3-8.9 .2 1.3 .3 3.9 .3-3.9 .3-1 .2 1.5 .3 1.4 .3 9.6 .3-5.1 .2 .4 .3 1.5 .3-1.8 .2 6.3 .3-8.7 .3 9.4 .3-10.7 .2 3.5 .3-7.4 .3 13.3 .2 6.7 .3-17.8 .3 .8 .3 .2 .2-22.6 .3-1.7 .3 26.3 .3-14.5 .2 3.7 .3-5.8 .3 .6 .2 6 .3-6.4 .3-10.4 .3 1.9 .2 10.9 .3 .5 .3-14.1 .3 14.3 .2 8 .3-17.8 .3 1.6 .2-1.9 .3-.7 .3 1.8 .3 6.4 .2-.2 .3-6.3 .3-12.2 .3 12.7 .2-2.6 .3 3.3 .3-.1 .2 6.1 .3-4.1 .3 12.6 .3-23.3 .2 17 .3-13.5 .3-.4 .2 13.4 .3 5.9 .3-1.5 .3-16.3 .2 9.9 .3-3.8 .3-2.3 .3 11.5 .2-20.7 .3 6.2 .3 5.8 .2-8.6 .3 15.8 .3-3.6 .3-.3 .2 9 .3-2.4 .3 2.3 .3-4.7 .2-3.8 .3 5.1 .3 1.3 .2 5.6 .3-2.5 .3-2 .3 2.9 .2-8 .3-1.5 .3 11.4 .3-11.3 .2 8 .3 8.2 .3-5.3 .2-5.5 .3 5.8 .3-11.2 .3 .2 .2 5.2 .3 9.7 .3-2.5 .3 .6 .2 1.4 .3-11.6 .3 5.9 .2 14.7 .3-2 .3-.2 .3-17 .2-2.6 .3-7.8 .3 11.7 .2 5.9 .3-8.7 .3-4.3 .3-3.5 .2 8.5 .3 .4 .3 4 .3-4.3 .2 12.6 .3-20.6 .3 10.5 .2 5.2 .3-3.2 .3 4.9 .3 3.4 .2 3.2 .3-9.8 .3 3.1 .3-5.8 .2 12 .3 12.7 .3-21 .2-4.7 .3 8.2 .3-2.5 .3 14.9 .2-3.3 .3-.8 .3-13.5 .3 6.3 .2 21 .3-9.3 .3-3.4 .2-2.9 .3 1 .3-3.4 .3 5.5 .2 9.4 .3-.1 .3 2.2 .2-11.7 .3-2 .3 7.6 .3-2.6 .2-9.1 .3 9.7 .3-1.9 .3 2.7 .2-4.7 .3-1 .3 5.5 .2 1.6 .3 3.6 .3-2.6 .3-5.6 .2 5.1 .3-5.8 .3 4.8 .3 2.3 .2 5 .3-18.6 .3-.2 .2-3.1 .3-.3 .3 8 .3 1.6 .2 1.6 .3-10.4 .3 3.2 .3 1.6 .2-6.8 .3 4.8 .3 10.1 .2-13.8 .3 5.2 .3 8.8 .3 4.6 .2-.2 .3 1.2 .3-.2 .2 .9 .3-13 .3 7.3 .3-.8 .2-5.8 .3 8.6 .3-3.6 .3-4 .2-16.2 .3 14.5 .3 7.5 .2-2.7 .3-9.2 .3-2.6 .3 11.6 .2-1.7 .3-8.8 .3 .6 .3-3.2 .2 9.7 .3-20.8 .3 8.3 .2 8.5 .3-6.6 .3-3.5 .3-5.2 .2 5.7 .3-3.8 .3 4.2 .3-3.9 .2 3.1 .3 3.6 .3-9.4 .2 18.7 .3-4.7 .3 3.4 .3-15.7 .2 6.1 .3-10.9 .3 15 .3 .9 .2-1.5 .3-1.7 .3 0 .2 .5 .3-9.7 .3 5.5 .3 11.1 .2-12.2 .3 3.9 .3-11.6 .2 3.9 .3 5.9 .3-5.2 .3-.9 .2 9.7 .3-1.8 .3 7.9 .3-1.9 .2-3.3 .3 1.8 .3 3.5 .2-2.9 .3-15.5 .3-.4 .3-.9 .2 11 .3-3.8 .3 6 .3-10.6 .2 22.3 .3 4.6 .3-28.9 .2 8.6 .3-10.5 .3 20.4 .3-12.2 .2 8.1 .3-7.8 .3-7.9 .3 8.6 .2 13.9 .3-5.8 .3-18 .2 4.4 .3 7 .3-7.7 .3 4.8 .2 8.9 .3-11.5 .3 2.2 .2 18.4 .3-6 .3-5.7 .3 1.1 .2-4.6 .3-5.6 .3 8 .3 4.9 .2-7.1 .3-2.7 .3-.5 .2-8.3 .3 6.6 .3 9.4 .3-10.2 .2 7.3 .3 3.8 .3-17.1 .3 22.4 .2-2.2 .3 0 .3 0 .2-7.4 .3-.4 .3 14.5 .3-15.4 .2 3.3 .3-18.1 .3 10.5 .3-4 .2 0 .3 6.6 .3 4.1 .2 4.1 .3-12.6 .3 3.3 .3-2.8 .2-1.2 .3-4.9 .3 8.9 .3-4.6 .2 3.9 .3-12.4 .3 2.8 .2 3.6 .3-.8 .3-4.4 .3-1.1 .2 2.6 .3 8.1 .3 4.3 .2-2.7 .3 11.4 .3-15.9 .3-8.8 .2 11.9 .3-8.2 .3 .6 .3 3 .2-2.2 .3-8.5 .3 8.7 .2-4.4 .3-10 .3 15.2 .3-9.8 .2 8.5 .3-4.2 .3 9.6 .3 10.2 .2-6.1 .3 2.1 .3-6.9 .2-.8 .3 2.5 .3-5.8 .3-.6 .2 18.9 .3-18.2 .3 4.3 .3 .8 .2-9.2 .3 1.2 .3-6.1 .2 14.1 .3-2.2 .3-6.3 .3-2.5 .2 10.4 .3-10.1 .3 11.9 .2-5.8 .3-11.2 .3 15.3 .3-6.2 .2-4 .3-4.3 .3 1.4 .3-11.2 .2 24.7 .3-6 .3 2.7 .2 3.6 .3-12.3 .3-1.7 .3-5.1 .2 16.2 .3-3.8 .3-4.5 .3 7.4 .2 12.7 .3-18.7 .3 6.7 .2-14.8 .3 1.1 .3 3.7 .3 8.3 .2 .8 .3 9.8 .3-18 .3-.9 .2 9 .3 5.9 .3-13.2 .2-6.6 .3 6.9 .3 8.3 .3-15.7 .2-1.7 .3 16.4 .3-12.4 .3 2 .2 5.8 .3-3.7 .3-9.3 .2 11.6 .3-13 .3 1.2 .3-4.3 .2 8.7 .3-15.8 .3 13.3 .2-7.2 .3 22.3 .3-11.1 .3 4.6 .2-4.5 .3-.9 .3 11.2 .3-1.2 .2 8.9 .3-7.2 .3-2.3 .2-.6 .3-4.4 .3 27.5 .3-14.3 .2 13.1 .3-22.1 .3-3 .3 2.4 .2 11.9 .3-19.1 .3 9.1 .2 10.4 .3-24 .3 11.4 .3 2.5 .2-1.7 .3 2 .3-10.6 .3 11.5 .2 8.3 .3 2.6 .3-13.7 .2 10.1 .3-28 .3 11.5 .3-11.7 .2 19.1 .3-24.8 .3 4 .2-18.7 .3 16.6 .3-13.9 .3 12.9 .2 15.6 .3-26.7 .3 3.4 .3 12.5 .2-24 .3 3 .3 8.5 .2 5.4 .3 1.4 .3-5.1 .3-7.8 .2 15.2 .3-24.3 .3 18.5 .3-13.6 .2-7.9 .3 17.7 .3 10.5 .2-19.3 .3 6.1 .3-17.7 .3-1.5 .2 4 .3-.3 .3 23.6 .3-.9 .2-16.8 .3 3.1 .3-12.9 .2 4.1 .3-14.8 .3-.7 .3 11.4 .2 13.2 .3 8.2 .3-.2 .2-14 .3-1.4 .3 8.5 .3 6.3 .2-5 .3-3 .3 1.8 .3 9 .2-17.2 .3 20.6 .3-29.5 .2 4 .3-8.1 .3 7.4 .3-8.3 .2-2.2 .3-5.6 .3-17 .3-2.3 .2 20.7 .3 1.5 .3 1.4 .2 1.7 .3 2.6 .3-10.2 .3-2 .2 9.2 .3-7.7 .3 5 .3-6.5 .2 1.7 .3-10 .3-12.8 .2 18.5 .3-3.3 .3-2.1 .3 2.7 .2-18.7 .3 1.4 .3 12.7 .3-16.1 .2 18.1 .3-7 .3-13.6 .2 12.5 .3-20.4 .3 30.3 .3 9.9 .2-21 .3-16.8 .3-5.2 .2-16.3 .3 14.7 .3 1.3 .3-9.5 .2-9.2 .3 15.1 .3 11.8 .3-19.1 .2-23.6 .3 23.6 .3 17.9 .2-27.6 .3-8.2" stroke="#5aa548" stroke-width="0.7" fill="none" stroke-linejoin="round" opacity="0.85"/>
<rect x="411.9" y="1785.9" width="264.8" height="212.9" fill="none" stroke="#333" stroke-width="0.9"/>
<path d="M411.9 1998.8v3.4M500.2 1998.8v3.4M588.4 1998.8v3.4M676.7 1998.8v3.4M456 1998.8v1.8M544.3 1998.8v1.8M632.6 1998.8v1.8M411.9 1998.8h-3.4M411.9 1945.6h-3.4M411.9 1892.3h-3.4M411.9 1839.1h-3.4M411.9 1785.9h-3.4M411.9 1972.2h-1.8M411.9 1919h-1.8M411.9 1865.7h-1.8M411.9 1812.5h-1.8" stroke="#333" stroke-width="0.9" fill="none"/>
<text x="411.9" y="2016.3" font-size="12.6" font-family="Liberation Serif, serif" text-anchor="middle" fill="#111">0</text>
<text x="500.2" y="2016.3" font-size="12.6" font-family="Liberation Serif, serif" text-anchor="middle" fill="#111">1000</text>
<text x="588.4" y="2016.3" font-size="12.6" font-family="Liberation Serif, serif" text-anchor="middle" fill="#111">2000</text>
<text x="676.7" y="2016.3" font-size="12.6" font-family="Liberation Serif, serif" text-anchor="middle" fill="#111">3000</text>
<text x="405.4" y="2003" font-size="12.6" font-family="Liberation Serif, serif" text-anchor="end" fill="#111">0.0</text>
<text x="405.4" y="1949.8" font-size="12.6" font-family="Liberation Serif, serif" text-anchor="end" fill="#111">0.5</text>
<text x="405.4" y="1896.5" font-size="12.6" font-family="Liberation Serif, serif" text-anchor="end" fill="#111">1.0</text>
<text x="405.4" y="1843.3" font-size="12.6" font-family="Liberation Serif, serif" text-anchor="end" fill="#111">1.5</text>
<text x="405.4" y="1790.1" font-size="12.6" font-family="Liberation Serif, serif" text-anchor="end" fill="#111">2.0</text>
<text x="550.8" y="1775.9" font-size="19.8" font-family="Liberation Serif, serif" text-anchor="middle" fill="#111">SCN5A-Kaempferol</text>
<text x="544.5" y="2043.3" font-size="17.6" font-family="Liberation Serif, serif" text-anchor="middle" fill="#111">Residue number</text>
<text transform="translate(381.6,1892.4) rotate(-90)" font-size="17.6" font-family="Liberation Serif, serif" text-anchor="middle" fill="#111">RMSF(nm)</text>
<path d="M759.6 1883.5l.2 5.2 .2 5.7 .2-12.5 .2-.5 .2 .2 .2 5.1 .2 1.1 .2 11.9 .2-2.5 .2-3.6 .2 2 .2-10.1 .2 1.2 .2 8.6 .2 2.4 .2-13.4 .2 7.3 .2-2 .2-9.8 .2-1.6 .2 5.8 .2 .6 .2-5.2 .2 16.7 .2 4 .2-11.8 .2-7.9 .2 .7 .1-8.2 .2 4.2 .2 1.5 .2-5.6 .2 8 .2-20.7 .2 10.8 .2-3.3 .2 9.3 .2 1.3 .2 4.3 .2-3.9 .2 9.7 .2-7.1 .2 .6 .2-9.6 .2 8.7 .2-14.6 .2-2.4 .2 12.3 .2 1.6 .2 9.4 .2 .1 .2-9.2 .2 .3 .2-4.1 .2-1.2 .2 1.4 .2 1.6 .2-5.2 .2 4.9 .2 6.7 .2 .6 .2 4.4 .2-12.1 .2 17.5 .2-21 .2 10.7 .2-5.7 .2 .1 .2-1.2 .2 4.1 .2 7.9 .2-9.5 .2 4 .2-11.6 .2 8.9 .2-5 .2 6.5 .2-3.3 .2-4.8 .2 6.4 .2-5.7 .2 7.2 .2 5.5 .2-14.1 .1 10.4 .2-2.2 .2-8.7 .2 8.6 .2-4.5 .2 5.7 .2 .2 .2-12.2 .2 6.9 .2 .4 .2 3.8 .2 10 .2-1.4 .2-10.3 .2 1.7 .2 7.2 .2-2.7 .2-2.8 .2-5.3 .2-.7 .2-7.6 .2 .6 .2 16.3 .2-2.7 .2 9.2 .2-17.3 .2 14.9 .2-4.4 .2 9.5 .2-19.8 .2 4.7 .2-2.1 .2 14.5 .2-14.5 .2-4.5 .2 7.9 .2 1 .2-4.7 .2-1.5 .2-4.8 .2-5.4 .2 4.6 .2 3.2 .2 11.6 .2-10.8 .2-5 .2 12.2 .2-9.1 .2 1.5 .2 8.2 .2-.4 .2-5.2 .2 7.2 .2-2 .2 1.1 .2 5.1 .2-13.9 .1 4.2 .2-1.3 .2-3.3 .2-9.2 .2-5.7 .2 24.3 .2-4.3 .2 0 .2-16.2 .2 3.7 .2 3.5 .2-3.6 .2 2.8 .2-10.7 .2-7.4 .2 24.7 .2-12.1 .2 1.3 .2 5.5 .2-3 .2 10 .2-18.7 .2 14.3 .2-10.8 .2-6.1 .2 11.3 .2-7.6 .2-.2 .2-5.9 .2-.2 .2 4 .2 8.5 .2-1.5 .2-2.6 .2-3.6 .2-14.8 .2 5.1 .2 2.6 .2-4.2 .2-5.5 .2 4.4 .2 20.6 .2-20 .2 8.6 .2 7 .2-6.6 .2 3.3 .2-8.2 .2-.8 .2-14.3 .2 21.4 .2 6.4 .2 2.2 .2-1 .2 .8 .2 11.7 .1-10.5 .2-8.4 .2 27.1 .2-11.7 .2-7 .2-4.3 .2 14.3 .2-14.3 .2 11.2 .2 9.9 .2-12.9 .2 6.9 .2 17.8 .2-8 .2 5.1 .2-5.7 .2 6.1 .2 5.1 .2-5.8 .2-4.8 .2 12 .2 .9 .2 11.2 .2-11 .2 22.3 .2-16.8 .2 4.9 .2 4.3 .2 5 .2 9.3 .2-4.1 .2 7.9 .2-21.6 .2 15.6 .2-2.1 .2-3.2 .2 16.5 .2 2.5 .2-8.2 .2-7.2 .2 13.5 .2 1.1 .2-8.1 .2 7.1 .2 4.2 .2 4.7 .2-6.6 .2 14.7 .2-8.2 .2 0 .2-2.1 .2 8.6 .2-12.8 .2 5.4 .2 7.1 .2-4.9 .2-2.8 .1 7 .2-9.9 .2 3.2 .2 5.5 .2-12.7 .2 8.1 .2 13.8 .2-11.5 .2-7.3 .2 4 .2-17.2 .2 8.3 .2-1.7 .2-13 .2-2.4 .2 9.3 .2 8.9 .2-11.9 .2 .3 .2-14.8 .2-.9 .2 14.1 .2-14.6 .2 7.7 .2-5 .2-9.6 .2 2.6 .2 3 .2-9.7 .2 2.5 .2-8.5 .2-3.8 .2-3 .2 17.2 .2-2.5 .2-1.2 .2 10.6 .2-19.5 .2 19.2 .2-4.5 .2 9.6 .2-5.7 .2 4.3 .2 .8 .2-2.6 .2 4.7 .2-.2 .2-5.8 .2 7 .2 5.5 .2 4.1 .2-.7 .2-10.9 .2 4.9 .2 8.2 .2 8.5 .1-5.5 .2 7.3 .2 .1 .2-7 .2-4.5 .2 9.8 .2-6.3 .2 20.2 .2-14.4 .2-3.8 .2-1.2 .2-7 .2 5.3 .2-3.4 .2 10.9 .2-10 .2-4.6 .2 4.9 .2-9.2 .2 1.4 .2-.5 .2 3.8 .2 7 .2-7.1 .2-7.3 .2-.8 .2 5.8 .2-10.1 .2 10.3 .2-3 .2-5.1 .2-1.4 .2 1.7 .2-.3 .2-17.3 .2 22.2 .2-12.3 .2-6.3 .2-6.8 .2-2.9 .2 1.6 .2 4.8 .2-9.7 .2 5.1 .2-6.3 .2 10.3 .2-14.4 .2 8 .2 10.5 .2 14.7 .2-5.9 .2-6.5 .2 2.4 .2-15.7 .2-6.3 .2 8 .2-3.8 .1 23.3 .2 5.2 .2-13.3 .2 6.2 .2 3 .2-3.2 .2 4 .2-.3 .2-5 .2-4.1 .2 11 .2 5 .2-12.5 .2 1.5 .2 2.9 .2-2 .2 1.6 .2 2.3 .2 11 .2-2.1 .2-7.9 .2-3 .2 7.2 .2-12 .2-3.4 .2 11.8 .2 9.5 .2 3.8 .2-12 .2-.2 .2 3.6 .2 11.2 .2-10.3 .2 4.7 .2-10.2 .2 27.9 .2-22 .2 1.9 .2-.1 .2 12.1 .2-6.2 .2-.3 .2 4 .2-7.9 .2 4.9 .2-8.9 .2 10.2 .2-4.6 .2 7.9 .2-11.3 .2 1.9 .2 1.6 .2 4.2 .2-5.9 .2-1.4 .2-4.7 .1 12.3 .2-4.3 .2 13.9 .2-8.4 .2-5.5 .2 13.7 .2 .3 .2 1.2 .2-5.7 .2 14.3 .2-13.1 .2 12.6 .2-8.4 .2-5.7 .2-3 .2 23.6 .2-12.2 .2-6.8 .2 5.9 .2-8.5 .2-4.5 .2 6.9 .2 8.2 .2-9.5 .2 6.6 .2-2.5 .2 11.3 .2-24.5 .2 4.4 .2 3 .2-.7 .2-2.8 .2-.9 .2 2.2 .2-3.7 .2-3.9 .2 3.6 .2-12.2 .2 10.6 .2 .4 .2 11.5 .2-1 .2-6.4 .2-12 .2 7.5 .2 5.5 .2 .9 .2-16.4 .2-1.9 .2-9.7 .2 29 .2-8.5 .2 5.4 .2-15.4 .2 11.1 .2-3.7 .2 1.1 .1 2.2 .2 4 .2-3 .2-2.3 .2 2.6 .2-5.6 .2-3.7 .2 .2 .2 16.3 .2-3.1 .2-4.2 .2 10.4 .2-4.1 .2 1.2 .2 .3 .2 10.8 .2-10.3 .2-10.3 .2-5.1 .2 3.9 .2-.5 .2 2.5 .2-9.4 .2 18.7 .2-3.4 .2-2.3 .2 4.6 .2-12.4 .2 3.2 .2 4.5 .2-.1 .2-5.3 .2 4.2 .2-15.4 .2 13.2 .2 10.4 .2-6.1 .2-8.1 .2 14.1 .2 9.1 .2-12.9 .2 1.4 .2-7 .2 5.9 .2-17.6 .2 7.4 .2 7.8 .2 13 .2-5 .2 4.3 .2-13.5 .2 3.4 .2 14.1 .2-9.5 .2-10.7 .2 7.4 .1-9.3 .2 1.8 .2 13.9 .2 1.7 .2-2.2 .2-11.4 .2 1.4 .2-1.8 .2 5 .2-4.4 .2 6.8 .2-6.7 .2 2.2 .2 3.7 .2-5.6 .2 11.8 .2 9.1 .2-6.6 .2-5.7 .2-5.1 .2 23.6 .2-14.7 .2 6.6 .2 .6 .2-5.5 .2 20 .2-14.2 .2-4.1 .2-5 .2 15.6 .2-3.9 .2 11.2 .2 5 .2-8.3 .2 5.1 .2-8.2 .2 .8 .2 12 .2 6.2 .2-9.4 .2-7.4 .2 4.6 .2-12.4 .2-.5 .2 10.1 .2-.4 .2-4.5 .2-1.4 .2 3.9 .2 6.7 .2-1.6 .2-3.9 .2-4.5 .2 6.8 .2-5.3 .2 10.3 .2 1.5 .1 4.5 .2-20 .2 8.5 .2 11.8 .2-6.9 .2 5.5 .2-7 .2-14.1 .2 13 .2 2.8 .2-21 .2 12.9 .2 2 .2-.3 .2-18.1 .2 6.1 .2 6.7 .2-4 .2 9.3 .2-14.4 .2 4.9 .2-17.3 .2 8 .2-12.6 .2 6.6 .2-10.7 .2 8.9 .2 .4 .2-10.1 .2 12.4 .2-14.2 .2 0 .2-.1 .2-1.7 .2 8.9 .2-8.5 .2-3.9 .2 4.6 .2 15.8 .2-5.3 .2-5.3 .2-3.8 .2 2.7 .2-3.4 .2 1.7 .2-.5 .2 7.7 .2-9.2 .2-3.6 .2 14.8 .2-21 .2 11.8 .2 5.2 .2-5.2 .2-6.1 .2 .4 .2 3.8 .1 11.7 .2-.9 .2-3.9 .2 3.4 .2-4.5 .2-10.4 .2-3.3 .2 21.3 .2-1.3 .2-7.7 .2 10.6 .2-7.1 .2-21.6 .2 22.3 .2-1.4 .2 6.3 .2-.4 .2-13.7 .2 6.8 .2-2.5 .2 6.2 .2 4.8 .2 5.1 .2-6.2 .2-9.2 .2 4.9 .2 5.3 .2-3.7 .2 3.4 .2-.2 .2 2.1 .2-10.7 .2 10.1 .2-9.8 .2 .9 .2 12.8 .2 1.8 .2-5.3 .2-1.5 .2 7.4 .2 3.7 .2 3.5 .2-3.9 .2-4.8 .2 5.1 .2-21.5 .2 20.2 .2-2.8 .2-2.3 .2-3.4 .2 3.2 .2 6.7 .2-3.5 .2-7.8 .2-4.6 .2 6.4 .1-12.6 .2 3.5 .2 4.3 .2-5.1 .2-9.6 .2-2.3 .2 8.4 .2 13 .2 1 .2-2.5 .2 6.3 .2-7.6 .2-10.3 .2 3.8 .2 8.2 .2-6.3 .2 3.8 .2-8.3 .2 .3 .2-.4 .2 15.3 .2-13.2 .2-6.3 .2 1.6 .2 12.6 .2-8.4 .2-1.1 .2 6.3 .2-.3 .2-5.6 .2-4.3 .2 10.5 .2 1.6 .2-7.8 .2-4.2 .2 19.7 .2-19.4 .2 11.4 .2 4.9 .2-8.9 .2 15.8 .2-9.5 .2-1.6 .2 14.3 .2-26.3 .2 9.6 .2 16.8 .2-17.9 .2 7.8 .2-7 .2 7.5 .2-6.3 .2 5 .2-11.9 .2 4.6 .2 5 .2-10.8 .1 7.6 .2 6 .2 1.7 .2-1.7 .2 12.6 .2-2.5 .2-5.8 .2 5 .2-.3 .2-3.7 .2-13.2 .2 14.5 .2 2.3 .2 2.3 .2 1.6 .2-10.4 .2-1.5 .2 8.1 .2-7.3 .2 10.7 .2 12.7 .2-10 .2 3.7 .2-.3 .2-8.7 .2-.3 .2 11.1 .2-4.2 .2 9.6 .2 .2 .2 .3 .2-16.7 .2 12.6 .2 8.2 .2-6.4 .2-.4 .2 4.9 .2-.4 .2 1.6 .2-22.5 .2-.2 .2-2.2 .2 9.7 .2 14.9 .2-.8 .2-9.3 .2 1 .2 7.9 .2 4.4 .2-15.9 .2 4.2 .2-14.7 .2 8.6 .2 7.5 .2 1 .2-9.5 .1 3.7 .2 3.6 .2 12.6 .2 4.2 .2-6.9 .2-9.9 .2 4.6 .2 4.6 .2 1 .2 4.2 .2-14.2 .2 15.5 .2-11.5 .2-9.9 .2 14.7 .2 9.7 .2-6.9 .2 10.9 .2-11.7 .2-.9 .2 5.6 .2-6.1 .2-2.2 .2 1.5 .2 2.4 .2 14.2 .2 1.6 .2-1.1 .2-1.5 .2-3.1 .2-.8 .2-4 .2 2.9 .2 3 .2-7.4 .2 10.3 .2-8 .2-16.4 .2 18.1 .2-6.4 .2 10.6 .2-12.5 .2 3 .2 3.9 .2-10 .2 14.1 .2-4.1 .2-6.1 .2 6.6 .2 1 .2-5.7 .2-4.5 .2 3.8 .2-13.8 .2 11.5 .2 2.1 .2-6.7 .1-2.7 .2 6.2 .2-2 .2 .9 .2-12.9 .2 11.7 .2 2 .2-9.1 .2-.1 .2-8.4 .2 0 .2 9.4 .2 13.7 .2-7.9 .2-5.9 .2 7.7 .2 1.9 .2-7.5 .2-2.1 .2 15.6 .2-10.6 .2 7.7 .2-4.1 .2 7.3 .2-15.3 .2 15.5 .2-2.2 .2-3.5 .2-18.5 .2 19.9 .2-4.3 .2-11.8 .2-.6 .2 23 .2-8.3 .2 .5 .2-4.4 .2 6.1 .2 3.7 .2-11.6 .2 4.7 .2-13.9 .2 14.2 .2-15.1 .2 15.1 .2 5.4 .2 6 .2-12.5 .2 13.8 .2-1.4 .2-9.7 .2 2.5 .2-2.3 .2-.6 .2 .2 .2-6.3 .1 3.3 .2-1.3 .2-12.5 .2 17.9 .2-20.9 .2 2.1 .2 6.1 .2 4.4 .2 8.5 .2-3.1 .2-5.8 .2-19.5 .2 7.1 .2 8.2 .2 10.9 .2 .5 .2 4.1 .2-2.7 .2-10.1 .2-8.7 .2-.1 .2-7.5 .2 7.8 .2 7.6 .2-6.3 .2 1.2 .2-13.1 .2 13.1 .2-6.5 .2 10.6 .2 .6 .2-.9 .2-3 .2 9.4 .2-10.4 .2-2.6 .2-2 .2 20.2 .2-8.2 .2-8.6 .2 5.3 .2 11.3 .2-5.9 .2 7.5 .2 3 .2-7.8 .2-5.5 .2 4.5 .2-3.9 .2 13.3 .2-22.8 .2 10.6 .2-11.1 .2 11.2 .2-.2 .2-.2 .2 5.6 .1-13.1 .2-4.9 .2-1.7 .2 21.6 .2-3.3 .2-7.1 .2-5.8 .2 11.8 .2-2.4 .2-4.7 .2-.2 .2 22.4 .2-2.1 .2-5.9 .2-8.2 .2-7.3 .2-4.4 .2 5.7 .2 14 .2-10.6 .2 7.1 .2 13.2 .2-15.9 .2 19.8 .2-6.7 .2-4.1 .2-1.2 .2-1.5 .2-5.2 .2-3.7 .2 6.5 .2-8.3 .2-19.2 .2 14 .2 11.7 .2-2.7 .2-5.8 .2 3.2 .2 4.6 .2 3.9 .2-28.5 .2 16.3 .2-.3 .2-11.2 .2 23.1 .2-14.8 .2 1.4 .2 7.9 .2 1.7 .2-15.8 .2-.7 .2 2.9 .2 6.9 .2 5.8 .2-8.6 .2-3 .1-1.4 .2-3.1 .2 8.5 .2-3.6 .2 1.8 .2-.5 .2 8.6 .2-11.3 .2 14.9 .2-1.4 .2-14.3 .2 5.7 .2-16.3 .2 3.7 .2 10.4 .2 .8 .2 1.5 .2-5.5 .2-8 .2-3.9 .2 8.8 .2-9.3 .2 6.9 .2 10.4 .2 3.6 .2-.1 .2 2.7 .2-17 .2 3.7 .2 12.5 .2-5.4 .2 2.9 .2-4 .2-9.2 .2 2.9 .2 15.7 .2-.5 .2-14.5 .2 9.4 .2-13.8 .2 9.3 .2 17.4 .2-6.2 .2-5 .2-6.5 .2 17.4 .2-22 .2 8.8 .2 12.6 .2-15.7 .2 5.5 .2-5.2 .2 18 .2 4.9 .2-4.2 .2 5.5 .2-2.3 .1-3.9 .2 1.3 .2-9.4 .2 9 .2-1 .2-1.3 .2-1.6 .2 .9 .2 .5 .2 .4 .2 3.3 .2 .7 .2-2.7 .2 1.1 .2 .2 .2 2.8 .2-3.1 .2-.9 .2 1.9 .2-1.4 .2 1.5 .2-4.5 .2-2 .2-1.2 .2 4.8 .2-3.5 .2 4.7 .2-2.9 .2 4 .2 1.7 .2-2.4 .2-2 .2-.9 .2 1.8 .2 1.7 .2-1.7 .2-2.4 .2 3.9 .2-1 .2-3.3 .2 6.7 .2-.4 .2-.4 .2-.4 .2-4.6 .2 5.9 .2-5.1 .2 1.8 .2-3.4 .2-1.5 .2 6.2 .2 .4 .2-4.3 .2-1.1 .2 1.3 .2 1.1 .1-1.8 .2 1.6 .2-.6 .2 2 .2 2 .2 .2 .2 0 .2-3.6 .2 2.3 .2-4.8 .2 3.6 .2-1.5 .2 2.4 .2-.5 .2 3.3 .2-5.4 .2-2.4 .2 4.8 .2 2.1 .2-8.3 .2 3.7 .2 7.9 .2-1.5 .2 3.3 .2-5 .2-5.5 .2 5.4 .2-.6 .2 .7 .2-.8 .2-.9 .2-1.3 .2-2.2 .2 5.2 .2-.8 .2-1.1 .2 .1 .2 3.5 .2-4.8 .2-.2 .2 1.1 .2-6.3 .2 3.5 .2 6.6 .2-5.3 .2-1.2 .2-1.1 .2 .5 .2 2.9 .2-1.3 .2 4 .2 3.3 .2-7.4 .2-.4 .2-5.8 .2 4.4 .2 2.6 .1 1.4 .2-1.2 .2 4.9 .2-4.3 .2-1.9 .2-1.8 .2 1.4 .2-3.3 .2 1.2 .2-2.1 .2 7.3 .2-3.1 .2-1.8 .2 .3 .2 3.9 .2-1.8 .2 .4 .2 8.4 .2-7 .2-6.1 .2 8.3 .2-2.5 .2-.3 .2 2.5 .2 0 .2-3.6 .2 4.4 .2-5.6 .2 4.7 .2 4 .2 1.2 .2-8.3 .2 1.7 .2-1.8 .2 5 .2-1.3 .2-1.5 .2 12.2 .2-13.2 .2 2.7 .2-3.4 .2 6.8 .2-5.5 .2 3.1 .2-4.6 .2 1.7 .2-2.9 .2 1.5 .2-2.5 .2-2.7 .2 .7 .2 6.1 .2-.1 .2 1.4 .2-1.1 .2-2 .1 2.5 .2 1.2 .2-5.5 .2 1.7 .2-1.6 .2-2.2 .2 .6 .2 2.8 .2 .3 .2 3 .2 .8 .2-6.9 .2 2.6 .2-1.2 .2 4.3 .2-2.6 .2 1.1 .2 2.6 .2-2.6 .2-4.1 .2 2.6 .2-1.3 .2 3.7 .2 3.5 .2-4 .2 4.5 .2 1 .2-3.3 .2-2.3" stroke="#d42228" stroke-width="0.7" fill="none" stroke-linejoin="round" opacity="0.85"/>
<rect x="759.6" y="1792.3" width="257.7" height="207.2" fill="none" stroke="#333" stroke-width="0.9"/>
<path d="M759.6 1999.5v3.4M811.1 1999.5v3.4M862.7 1999.5v3.4M914.2 1999.5v3.4M965.8 1999.5v3.4M1017.3 1999.5v3.4M785.4 1999.5v1.8M836.9 1999.5v1.8M888.5 1999.5v1.8M940 1999.5v1.8M991.5 1999.5v1.8M759.6 1999.5h-3.4M759.6 1947.7h-3.4M759.6 1895.9h-3.4M759.6 1844.1h-3.4M759.6 1792.3h-3.4M759.6 1973.6h-1.8M759.6 1921.8h-1.8M759.6 1870h-1.8M759.6 1818.2h-1.8" stroke="#333" stroke-width="0.9" fill="none"/>
<text x="759.6" y="2017" font-size="12.6" font-family="Liberation Serif, serif" text-anchor="middle" fill="#111">0</text>
<text x="811.1" y="2017" font-size="12.6" font-family="Liberation Serif, serif" text-anchor="middle" fill="#111">20</text>
<text x="862.7" y="2017" font-size="12.6" font-family="Liberation Serif, serif" text-anchor="middle" fill="#111">40</text>
<text x="914.2" y="2017" font-size="12.6" font-family="Liberation Serif, serif" text-anchor="middle" fill="#111">60</text>
<text x="965.8" y="2017" font-size="12.6" font-family="Liberation Serif, serif" text-anchor="middle" fill="#111">80</text>
<text x="1017.3" y="2017" font-size="12.6" font-family="Liberation Serif, serif" text-anchor="middle" fill="#111">100</text>
<text x="753.1" y="2003.7" font-size="12.6" font-family="Liberation Serif, serif" text-anchor="end" fill="#111">1.6</text>
<text x="753.1" y="1951.9" font-size="12.6" font-family="Liberation Serif, serif" text-anchor="end" fill="#111">1.8</text>
<text x="753.1" y="1900.1" font-size="12.6" font-family="Liberation Serif, serif" text-anchor="end" fill="#111">2.0</text>
<text x="753.1" y="1848.3" font-size="12.6" font-family="Liberation Serif, serif" text-anchor="end" fill="#111">2.2</text>
<text x="753.1" y="1796.5" font-size="12.6" font-family="Liberation Serif, serif" text-anchor="end" fill="#111">2.4</text>
<text x="875.4" y="1775.9" font-size="19.8" font-family="Liberation Serif, serif" text-anchor="middle" fill="#111">SCN5A-Kaempferol</text>
<text x="888.8" y="2043.3" font-size="17.6" font-family="Liberation Serif, serif" text-anchor="middle" fill="#111">Time(ns)</text>
<text transform="translate(730.6,1895.7) rotate(-90)" font-size="17.6" font-family="Liberation Serif, serif" text-anchor="middle" fill="#111">Rg(nm)</text>
<rect x="1104.8" y="1932" width="253.6" height="68.5" fill="#e98a1f" opacity="0.93"/>
<path d="M1105.3 1932V2000.5M1105.4 1932V2000.5M1106.2 1932V2000.5M1106.5 1932V2000.5M1106.6 1932V2000.5M1107.4 1932V2000.5M1111.4 1932V2000.5M1114 1932V2000.5M1116.3 1932V2000.5M1116.7 1932V2000.5M1117.9 1932V2000.5M1118.4 1932V2000.5M1118.7 1932V2000.5M1118.9 1932V2000.5M1119.3 1932V2000.5M1123.5 1932V2000.5M1126.3 1932V2000.5M1128.9 1932V2000.5M1131.5 1932V2000.5M1131.8 1932V2000.5M1132.4 1932V2000.5M1134 1932V2000.5M1136.1 1932V2000.5M1139.2 1932V2000.5M1142.6 1932V2000.5M1142.7 1932V2000.5M1144.2 1932V2000.5M1146 1932V2000.5M1147.1 1932V2000.5M1147.4 1932V2000.5M1148.4 1932V2000.5M1148.6 1932V2000.5M1152.9 1932V2000.5M1157.2 1932V2000.5M1158.5 1932V2000.5M1167.2 1932V2000.5M1170.3 1932V2000.5M1178.1 1932V2000.5M1185 1932V2000.5M1187.6 1932V2000.5M1189.5 1932V2000.5M1192.9 1932V2000.5M1194.9 1932V2000.5M1195.6 1932V2000.5M1196.9 1932V2000.5M1203 1932V2000.5M1203.2 1932V2000.5M1203.3 1932V2000.5M1206.9 1932V2000.5M1208.1 1932V2000.5M1210.9 1932V2000.5M1213.2 1932V2000.5M1214.8 1932V2000.5M1223.5 1932V2000.5M1224.2 1932V2000.5M1224.4 1932V2000.5M1225.7 1932V2000.5M1226.1 1932V2000.5M1226.7 1932V2000.5M1228.4 1932V2000.5M1228.9 1932V2000.5M1230 1932V2000.5M1233 1932V2000.5M1233.1 1932V2000.5M1233.2 1932V2000.5M1233.5 1932V2000.5M1235.4 1932V2000.5M1236.6 1932V2000.5M1236.9 1932V2000.5M1237.4 1932V2000.5M1237.7 1932V2000.5M1238.5 1932V2000.5M1241.9 1932V2000.5M1248.3 1932V2000.5M1257.1 1932V2000.5M1260.8 1932V2000.5M1270 1932V2000.5M1270 1932V2000.5M1271 1932V2000.5M1280.6 1932V2000.5M1284.8 1932V2000.5M1286.3 1932V2000.5M1294.4 1932V2000.5M1297.2 1932V2000.5M1302 1932V2000.5M1303 1932V2000.5M1303.6 1932V2000.5M1305.2 1932V2000.5M1305.7 1932V2000.5M1307 1932V2000.5M1316.3 1932V2000.5M1317.4 1932V2000.5M1317.4 1932V2000.5M1317.6 1932V2000.5M1318.1 1932V2000.5M1322.4 1932V2000.5M1323.7 1932V2000.5M1324.7 1932V2000.5M1325 1932V2000.5M1336.3 1932V2000.5M1337.9 1932V2000.5M1338.6 1932V2000.5M1338.7 1932V2000.5M1338.9 1932V2000.5M1339.4 1932V2000.5M1342.6 1932V2000.5M1343.1 1932V2000.5M1343.2 1932V2000.5M1345.1 1932V2000.5M1345.9 1932V2000.5" stroke="#fff" stroke-width="0.6" opacity="0.7" fill="none"/>
<path d="M1105.6 1863.5V1932M1107.4 1863.5V1932M1109.1 1863.5V1932M1110.9 1863.5V1932M1112.3 1863.5V1932M1118.6 1863.5V1932M1123 1863.5V1932M1125.2 1863.5V1932M1129.7 1863.5V1932M1132.1 1863.5V1932M1135.8 1863.5V1932M1137.8 1863.5V1932M1144.4 1863.5V1932M1146.2 1863.5V1932M1147.8 1863.5V1932M1150.6 1863.5V1932M1151.6 1863.5V1932M1168.9 1863.5V1932M1171 1863.5V1932M1172.5 1863.5V1932M1177 1863.5V1932M1180 1863.5V1932M1187.8 1863.5V1932M1188 1863.5V1932M1198.1 1863.5V1932M1200.2 1863.5V1932M1207.7 1863.5V1932M1210.6 1863.5V1932M1215.3 1863.5V1932M1217.3 1863.5V1932M1219.1 1863.5V1932M1220.3 1863.5V1932M1233.2 1863.5V1932M1240.3 1863.5V1932M1241.9 1863.5V1932M1243.9 1863.5V1932M1256.2 1863.5V1932M1259 1863.5V1932M1266.8 1863.5V1932M1268.7 1863.5V1932M1270.9 1863.5V1932M1272.7 1863.5V1932M1276.9 1863.5V1932M1279.5 1863.5V1932M1281.7 1863.5V1932M1311.8 1863.5V1932M1320.5 1863.5V1932M1322.4 1863.5V1932M1331.2 1863.5V1932M1333.2 1863.5V1932M1340.7 1863.5V1932M1345.3 1863.5V1932M1354.6 1863.5V1932M1357.1 1863.5V1932" stroke="#eb9a3c" stroke-width="0.9" opacity="0.62" fill="none"/>
<rect x="1103.3" y="1795" width="255.1" height="205.5" fill="none" stroke="#333" stroke-width="0.9"/>
<path d="M1103.3 2000.5v3.4M1154.3 2000.5v3.4M1205.3 2000.5v3.4M1256.4 2000.5v3.4M1307.4 2000.5v3.4M1358.4 2000.5v3.4M1128.8 2000.5v1.8M1179.8 2000.5v1.8M1230.8 2000.5v1.8M1281.9 2000.5v1.8M1332.9 2000.5v1.8M1103.3 2000.5h-3.4M1103.3 1932h-3.4M1103.3 1863.5h-3.4M1103.3 1795h-3.4M1103.3 1966.2h-1.8M1103.3 1897.8h-1.8M1103.3 1829.2h-1.8" stroke="#333" stroke-width="0.9" fill="none"/>
<text x="1103.3" y="2018" font-size="12.6" font-family="Liberation Serif, serif" text-anchor="middle" fill="#111">0</text>
<text x="1154.3" y="2018" font-size="12.6" font-family="Liberation Serif, serif" text-anchor="middle" fill="#111">20</text>
<text x="1205.3" y="2018" font-size="12.6" font-family="Liberation Serif, serif" text-anchor="middle" fill="#111">40</text>
<text x="1256.4" y="2018" font-size="12.6" font-family="Liberation Serif, serif" text-anchor="middle" fill="#111">60</text>
<text x="1307.4" y="2018" font-size="12.6" font-family="Liberation Serif, serif" text-anchor="middle" fill="#111">80</text>
<text x="1358.4" y="2018" font-size="12.6" font-family="Liberation Serif, serif" text-anchor="middle" fill="#111">100</text>
<text x="1096.8" y="2004.7" font-size="12.6" font-family="Liberation Serif, serif" text-anchor="end" fill="#111">0</text>
<text x="1096.8" y="1936.2" font-size="12.6" font-family="Liberation Serif, serif" text-anchor="end" fill="#111">1</text>
<text x="1096.8" y="1867.7" font-size="12.6" font-family="Liberation Serif, serif" text-anchor="end" fill="#111">2</text>
<text x="1096.8" y="1799.2" font-size="12.6" font-family="Liberation Serif, serif" text-anchor="end" fill="#111">3</text>
<text x="1249.9" y="1775.9" font-size="19.8" font-family="Liberation Serif, serif" text-anchor="middle" fill="#111">SCN5A-Kaempferol</text>
<text x="1231" y="2043.3" font-size="17.6" font-family="Liberation Serif, serif" text-anchor="middle" fill="#111">Time(ns)</text>
<text transform="translate(1083.4,1897.4) rotate(-90)" font-size="17.6" font-family="Liberation Serif, serif" text-anchor="middle" fill="#111">Number of Hdrogen Bonds</text>
<path d="M60.6 2307l.2-.2 .2-.6 .2-17.4 .2-1.2 .2-.3 .2 2.2 .2 6.2 .2-7.9 .2-9.7 .2 11.4 .3-2.3 .2-.4 .2-11.3 .2 0 .2-.9 .2-5.4 .2 21.3 .2-16.5 .2 27.1 .2-12.7 .2-2.4 .2 0 .2-2.5 .2 .1 .2 1.2 .2 7.7 .2-8.9 .2 5.2 .2-4.2 .2 7.7 .2-18.5 .3 1.1 .2 1.9 .2-15.8 .2 1.6 .2 4.8 .2-3.4 .2 11.8 .2-14.9 .2 13.4 .2-18.8 .2 2.6 .2 20.4 .2-11.9 .2 11.5 .2-5.4 .2-2.1 .2 21.4 .2-19 .2-3.6 .2 1.9 .2 13.1 .2-4.9 .3-13.3 .2 .3 .2 5.6 .2 13.1 .2 .2 .2-16.3 .2-12.6 .2 1.5 .2-6.1 .2-4.1 .2 4.4 .2-1.7 .2-2.7 .2-3.7 .2 .2 .2-.1 .2-7.9 .2 8.5 .2-12.4 .2 9.7 .2 1 .3-12.1 .2-3.3 .2 8.5 .2-18.3 .2 16.7 .2-13.7 .2-6.9 .2 11.5 .2 9.2 .2-13.9 .2 10.8 .2-15.3 .2 4.6 .2-14.1 .2 6.9 .2-13.1 .2 6.7 .2 8.9 .2-4.4 .2 1.4 .2-.4 .3 4.5 .2 .4 .2-12.8 .2 1.3 .2-9.6 .2 6.9 .2-1 .2-5 .2-2 .2 0 .2 3.1 .2 6.8 .2-18.6 .2 4.6 .2-3.7 .2-7 .2 7.8 .2 4.1 .2 2.5 .2 11 .2-8.3 .2-2.8 .3-7.5 .2 8.2 .2-12.8 .2 4.8 .2-3 .2-8.2 .2 8.5 .2 10.9 .2-11.1 .2-4 .2-.9 .2-6.1 .2 5.6 .2-4.3 .2 3.2 .2-1.2 .2-2.4 .2-2.1 .2 8.8 .2 9 .2-13.2 .3-6.5 .2 15.3 .2-5.1 .2 .5 .2 8.5 .2 4.7 .2-4.1 .2 .8 .2 .2 .2-6.6 .2 6.9 .2 5.6 .2-11.2 .2 7 .2 .1 .2-11.2 .2 5.8 .2 10.7 .2-.8 .2-3.9 .2 0 .3-11 .2-4 .2 11.5 .2-11.5 .2 6.8 .2 2.7 .2 1.8 .2-11.2 .2 5.7 .2-11.8 .2 14.2 .2-13.8 .2-7.4 .2 6.9 .2 3.6 .2 14.8 .2-8 .2-11.9 .2 0 .2 5.9 .2 2.2 .2-8.1 .3 1.4 .2 10.6 .2-5.6 .2-1.3 .2 6.7 .2-7.9 .2-10.1 .2-3.9 .2 16.8 .2 4.4 .2-11.9 .2-4.2 .2 8.7 .2-7.2 .2 6.7 .2 4.2 .2-16.6 .2 2 .2 7 .2-1.8 .2-7.5 .3-.8 .2 .4 .2-.6 .2-1.5 .2-.2 .2 3.6 .2 4.9 .2-8.5 .2 9.4 .2-5.1 .2 2.9 .2-2.9 .2-3 .2 3.9 .2-.2 .2-7.9 .2-1.7 .2 .7 .2-2.7 .2 8.5 .2 6.9 .3-3.6 .2-4 .2 2.6 .2 3.6 .2-4.2 .2 .4 .2-.3 .2-3 .2 5.8 .2 18.4 .2 .8 .2-10.2 .2 .3 .2 10.7 .2-3.3 .2 .3 .2 4.4 .2 4.4 .2 4 .2 7.6 .2-12.5 .2 18.7 .3-4.1 .2-5.1 .2-10.2 .2 5.8 .2 17.3 .2-4.6 .2-6.6 .2-.7 .2-2.9 .2-1 .2 2.4 .2-3.7 .2 3.9 .2-11.5 .2 .5 .2 9.2 .2-1.3 .2-3.8 .2 5 .2 1.5 .2-5.1 .3 8.9 .2-.3 .2 14.9 .2-15.3 .2 5.4 .2-8.3 .2-6 .2 10.1 .2-3.7 .2 1.4 .2 5.1 .2-.3 .2 3 .2-6.5 .2 3.8 .2 2.3 .2 6.7 .2-6.9 .2 3.6 .2-1.6 .2 16.3 .3-5.2 .2-17.5 .2 7.1 .2-2.9 .2-5.2 .2 5.9 .2 7.4 .2-7.2 .2-4.7 .2 8.1 .2-.9 .2 .3 .2 .3 .2 10.6 .2-5.7 .2-1.3 .2 3.2 .2-10.1 .2-6.8 .2 3.8 .2 1.6 .2 11.9 .3 1.4 .2-4.4 .2-1.5 .2-20.2 .2 1.8 .2 12.2 .2-.3 .2-2.5 .2 7 .2-.6 .2-6.1 .2-5.1 .2 3.5 .2-2.7 .2 4.7 .2-6.7 .2-6.7 .2 7.8 .2 4.2 .2 10 .2 2.2 .3-8.3 .2 4.8 .2-9.2 .2 3 .2-2.4 .2 8.4 .2-1.1 .2 9.1 .2-2.6 .2 .5 .2-7.3 .2 8.8 .2-9.5 .2-5.1 .2 12.7 .2-1.3 .2-6.4 .2 1.1 .2 5.5 .2-11.9 .2 12.4 .3-1.6 .2-14 .2 5.3 .2-5.4 .2 1.2 .2 .8 .2 14.3 .2-12.4 .2-3.6 .2 8 .2-2.1 .2-6 .2-5.1 .2 15.5 .2-19.3 .2 7.9 .2-11.3 .2 8.4 .2-1.1 .2-2.9 .2 .3 .3-8 .2 3.7 .2-2.8 .2 8.4 .2-8.6 .2 9.1 .2 1.6 .2-17.6 .2 6.3 .2-15.1 .2 20.7 .2-21.1 .2 6.8 .2-9.9 .2-1.5 .2-7.5 .2-4.6 .2 16 .2-2 .2-8.3 .2 15.3 .2-12 .3-1.9 .2 1.9 .2 13.1 .2-14.5 .2 8.1 .2-10.6 .2 4.5 .2 13.5 .2-5.5 .2 4.6 .2-10.4 .2 4.6 .2 10.1 .2-12.4 .2 6.8 .2 1.4 .2-10.7 .2 5.1 .2-9.5 .2-3.9 .2 4.1 .3-3 .2 1.9 .2 2.8 .2 1.1 .2 3.8 .2 4.5 .2-7.1 .2 4.6 .2 2.1 .2-15.7 .2 15.6 .2-4.1 .2-1 .2 2.2 .2 1.2 .2 5.8 .2-.9 .2-1.7 .2-8.6 .2 6 .2 9.5 .3-10.3 .2 18.4 .2-22.8 .2 10.7 .2 0 .2 .2 .2 2.5 .2 1.5 .2-10.5 .2-.9 .2 3.2 .2-3.4 .2 9.2 .2-4.3 .2-12 .2 11.2 .2-5.8 .2-1.5 .2 7.1 .2-3.4 .2 .2 .2-1.2 .3 9.4 .2-4.5 .2 17.6 .2-17.2 .2-1.8 .2 7.3 .2 1.6 .2-9.3 .2 2.8 .2 12.4 .2-14.2 .2-2 .2 3.1 .2-1.6 .2 19.4 .2-11.8 .2 15.2 .2-19.3 .2-2.4 .2 4.4 .2 4.7 .3 5.8 .2-4 .2 8.2 .2-11.2 .2 8 .2-8.1 .2 2.4 .2 .4 .2 .2 .2-6.4 .2 12.9 .2 .2 .2-4.5 .2-.2 .2 4.4 .2-3.3 .2-3 .2 8.3 .2-7.5 .2 3.3 .2-4 .3 2.5 .2 5.5 .2-3.3 .2-5 .2-9.4 .2 2.6 .2 6 .2-.1 .2-11.9 .2 6.3 .2 3.2 .2-3.2 .2 5.9 .2-6.3 .2-6.1 .2-6.9 .2 9.2 .2 1.3 .2 2.6 .2 4.1 .2-11.7 .2 10.7 .3 6.7 .2-13.6 .2 6 .2-3.2 .2 2.7 .2 2 .2-10.6 .2-2.5 .2 4.2 .2 7.1 .2-7.7 .2 3.2 .2-12.8 .2 8.4 .2-16.8 .2 8.9 .2 9.8 .2-2.9 .2-1.1 .2 6.3 .2-5.1 .3-3.5 .2-1 .2-.7 .2-5.8 .2 5.7 .2 8.1 .2-8.3 .2 2 .2 1.9 .2 5.1 .2 1.4 .2-4.1 .2 3.7 .2 15.9 .2-6.9 .2 8.2 .2-6.6 .2-.6 .2 1 .2-6.8 .2 .4 .3 5 .2 6 .2-16.6 .2-4.2 .2 5.9 .2-15.7 .2 7.9 .2-21.6 .2 4.3 .2-.8 .2 7.8 .2-7.7 .2-.5 .2 .6 .2-1.3 .2-2.3 .2 2.8 .2 5.8 .2-1.7 .2-4.2 .2 2.3 .2-.1 .3-.2 .2 4.3 .2-3.7 .2-1.4 .2 .6 .2-.9 .2 3.4 .2 0 .2 .2 .2-2.7 .2-1.5 .2 2.4 .2-3 .2 2.1 .2-3.1 .2-1.7 .2-3.5 .2 7.6 .2 .3 .2-1.8 .2 3.7 .3-.5 .2-2.3 .2 2.1 .2 1.8 .2-2.1 .2-2.7 .2 .7 .2-1.5 .2 1.1 .2 .2 .2 1.5 .2-2 .2 2.3 .2 1.9 .2 .5 .2-2.7 .2-6.7 .2 1 .2-1 .2-.4 .2 .7 .3 .1 .2-.9 .2 3.6 .2-1.5 .2 2 .2-.6 .2 1 .2 1.7 .2 4.7 .2-.6 .2-3.4 .2-1.1 .2 2.7 .2-2.5 .2-.7 .2-.2 .2 6 .2-7 .2 3.5 .2-4.6 .2 2.6 .2 1.3 .3-2.2 .2 2.4 .2 6.5 .2-2.1 .2-2.2 .2-.4 .2-2.7 .2 4.6 .2 .1 .2-2 .2 1.4 .2 .8 .2 1.6 .2-4 .2 .7 .2-1.3 .2 5.2 .2 2.3 .2-4.1 .2 5.1 .2-.3 .3-.1 .2 6 .2-3.8 .2 1.2 .2-.7 .2-2.2 .2-1.8 .2 .6 .2 .4 .2 1.6 .2-1.7 .2 2.3 .2 .5 .2 4.8 .2-7.2 .2 2.4 .2 5.4 .2-1.4 .2-.9 .2 3 .2-2.8 .3 3 .2-.3 .2 3 .2-2 .2 1.4 .2-1.5 .2 4.4 .2-6 .2 2.5 .2-5.2 .2 3.2 .2-3 .2 .5 .2 1.4 .2-.7 .2 6 .2-.7 .2 3.2 .2-6.2 .2 .8 .2-3 .3 3.4 .2 .5 .2-.4 .2 1.4 .2 3.6 .2-2.5 .2-3 .2 1.3 .2-3.1 .2 4.3 .2 1.1 .2-4.5 .2 3.6 .2 1 .2 2.8 .2-.8 .2-4.2 .2-5.1 .2 1.8 .2-.6 .2 1.4 .2-1.7 .3-1.2 .2 2.3 .2-6.3 .2 6 .2 .8 .2-1.8 .2 .5 .2 1.5 .2-2.5 .2 .9 .2 4.3 .2-3.7 .2 2.4 .2 1.6 .2-3.3 .2-.6 .2 1.2 .2-1.8 .2 1.1 .2-1.1 .2 1.1 .3 2 .2 .7 .2-.8 .2 6.3 .2-2.8 .2-2.4 .2 2 .2-2.6 .2-1 .2 5.5 .2-5.5 .2-2.5 .2 1.4 .2 7.2 .2 .1 .2 3.3 .2-5.4 .2 1.9 .2-4.7 .2 1.7 .2 5.7 .3-3.8 .2 5.5 .2-4.3 .2 2.2 .2 .3 .2-.9 .2-1.9 .2 0 .2 .9 .2-2.5 .2-2.3 .2 2.2 .2-1 .2 2.7 .2-2.6 .2 1.6 .2-3.3 .2 3.6 .2 4.1 .2-2 .2 3.7 .2-5.1 .3 1.7 .2-3.1 .2 .9 .2 4.7 .2-4.7 .2 2.6 .2-6.8 .2 3.9 .2 .8 .2 .2 .2 3.2 .2-1.4 .2-.2 .2-2.6 .2 5.5 .2-10.4 .2 6 .2 1 .2-7.1 .2 6.9 .2-4.8 .3 .4 .2 1.3 .2-.6 .2-2.3 .2 5.9 .2 3.5 .2 1.5 .2-5.1 .2 1.9 .2-9.5 .2 1.2 .2 1 .2 .4 .2-2.7 .2 .4 .2 8.5 .2-2.2 .2-3.1 .2 .2 .2-2.5 .2 6.4 .3-5.2 .2-1.1 .2 3.2 .2 1.1 .2-5.9 .2 .5 .2 4.8 .2-1.8 .2-.7 .2 .5 .2-1.7 .2-1.2 .2 5.9 .2-4.5 .2 4 .2-.1 .2-2.7 .2 .2 .2 2 .2 1.4 .2-1.4 .2-2.8 .3 .9 .2 .3 .2-.9 .2 4.3 .2 2.4 .2-3.1 .2-.8 .2 .4 .2 2.6 .2-4 .2 2.9 .2 .3 .2-2.7 .2 1 .2-3.3 .2-1.1 .2 1.9 .2-1.6 .2 3.9 .2-2.6 .2-.3 .3-.4 .2 3.2 .2 2 .2-6.6 .2 5.6 .2-.5 .2-1.2 .2 .1 .2-.9 .2-1.1 .2 8.7 .2-3 .2-1.3 .2-.6 .2 3.3 .2-2.9 .2 .6 .2 4.7 .2-8.7 .2 1 .2 6 .3 .3 .2 .7 .2-4.2 .2 .7 .2-1.8 .2-.4 .2-.7 .2 4.7 .2 0 .2-4.7 .2-1.4 .2 3.5 .2-.5 .2 4.6 .2 1.9 .2-4.1 .2 3.2 .2-.5 .2 .2 .2-5.9 .2 1.8 .2 3 .3-2.3 .2-2.6 .2 .9 .2 7.7 .2-3 .2-3 .2 3.7 .2-5.9 .2 7.8 .2-8.8 .2 1 .2 4.7 .2-3.8 .2-.3 .2 2.3 .2 2.2 .2-3.1 .2 3.9 .2-4.3 .2 2.2 .2-1.6 .3 1.4 .2 2.4 .2-9.9 .2 8.3 .2 1.8 .2-.9 .2-5.9 .2 2.4 .2 2.9 .2-.8 .2-6.4 .2 .1 .2 6 .2-3.7 .2 3.4 .2-3 .2 3.4 .2 .4 .2-4.2 .2 8.5 .2-1.1 .3 .8 .2-3.6 .2 2.2 .2-4.3 .2-.6 .2 4.8 .2-1.9 .2-3.2 .2 4.8 .2-2.9 .2 3.5 .2-2.5 .2 .2 .2-3.1 .2 3.7 .2-4.3 .2 .4 .2 1.7 .2-.5 .2-7.3 .2 8.5 .3-1.5 .2-.7 .2-3.1 .2 4.1 .2-4.8 .2 3.3 .2-4 .2 2.2 .2-1.3 .2 3 .2-1.7 .2-1.5 .2-.2 .2 4.7 .2 1.7 .2 .2 .2 .6 .2-2.3 .2-6.5 .2 3.9 .2 .3 .2 .3 .3-1.4 .2 4.3 .2-2 .2-1.3 .2 3.2 .2-5.2 .2-.9 .2 4.5 .2 .4 .2-3 .2 .4 .2 3.6 .2-1.6 .2-1.3 .2-.8 .2-2.7 .2 3.6 .2-.5 .2-3 .2 .6 .2 1.3 .3 4.4 .2-4 .2-.1 .2 1.1 .2 1.6 .2 .5 .2-.6 .2-3.1 .2 .2 .2 .9 .2 1.9 .2 2.2 .2-1.3 .2-.6 .2-1 .2 2.3 .2-.2 .2 1 .2 2.9 .2 8.1 .2-4.7 .3 1.1 .2 1.4 .2-4.8 .2 5.5 .2-7.6 .2 1.1 .2-1.2 .2 3.8 .2-1.9 .2 .9 .2-2.7 .2 2.6 .2 3.1 .2 .6 .2-1.9 .2 .4 .2-.8 .2 .4 .2 2.6 .2 .3 .2-5.5 .2 3.2 .3-4 .2 3 .2-1.3 .2-2.7 .2 3 .2-.7 .2 5.3 .2-5 .2-1.9 .2 2.5 .2 1.1 .2-5 .2 2.9 .2-3.3 .2 4.5 .2-4.6 .2 1.8 .2 .4 .2 1 .2 .1 .2-7.4 .3 0 .2 .5 .2 3.2 .2-6.9 .2 4 .2 3 .2-6.4 .2 2.9 .2 3.1 .2-4.2 .2 .9 .2-3.4 .2 4.4 .2-8.6 .2 4.9 .2-3 .2 .8 .2 4.9 .2 5.1 .2-3.6 .2-7.5 .3 10.8 .2-6.3 .2 3.7 .2-1.6 .2 3 .2-1.6 .2-1 .2 .1 .2 2.3 .2-.8 .2 2.5 .2-6.8 .2 1.6 .2 1.6 .2-1 .2-.2 .2-2.5 .2 .7 .2-6.5 .2 6 .2-.9 .2 6.8 .3-7.7 .2 3.2 .2 3.9 .2-1.9 .2 .4 .2-4.7 .2 .3 .2 .6 .2-.5 .2-.6 .2 1 .2-3.5 .2 1.3 .2-3.5 .2 3.3 .2-2.6 .2 .7 .2 3.4 .2-2.4 .2 .8 .2 .8 .3-1.2 .2 3.3 .2 .8 .2-4.3 .2-.6 .2 .6 .2-1.4 .2 1.8 .2-1.4 .2-1.1 .2 3.7 .2 1.2 .2-1.6 .2-2.4 .2-2.2 .2 3.6 .2 1.6 .2-8.4 .2 2.8 .2 5.7 .2-5.1 .3 3.8 .2 1 .2-6.6 .2 4.1 .2-4.1 .2 3 .2 0 .2 .8 .2 3.2 .2-3.2 .2 1.6 .2 4 .2-3.4 .2 .3 .2-4.4 .2 1.5 .2-3.1 .2 0 .2 3.7 .2 4.2 .2 .6 .2-1.4 .3 1.3 .2-6.5 .2 1.2 .2 .9 .2 2.5 .2-2.7 .2-3.2 .2 5.8 .2-.1 .2 3.8 .2-1.7 .2-2.7 .2-2.2 .2 1 .2-1 .2 4.1 .2-1.1 .2-1.1 .2-2.6 .2-4.3 .2 7.5 .3 1.2 .2 1.3 .2-1.8 .2-1 .2 .1 .2 .3 .2 1.5 .2 .1 .2-3.1 .2-.1 .2 1.2 .2-4.3 .2-1.9 .2 4.6 .2 2.6 .2-1.9 .2 .4 .2 6.2 .2-6.2 .2 1.8 .2-1.5 .3 2.6 .2 6.1 .2-2.7 .2 0 .2 1.4 .2-3.1 .2 3.3 .2 0 .2 1.1 .2-4.7 .2 2.3 .2-1.5 .2 4.7 .2 .2 .2 .9 .2 .4 .2 .5 .2-.6 .2-.8 .2 .1 .2-1.9 .2 2 .3 2.2 .2-.1 .2-6 .2-3 .2 2 .2-3.2 .2 3.5 .2 6.8 .2-4.9 .2 4.3 .2 2.5 .2 .5 .2-4.1 .2 .8 .2 3.1 .2 1.8 .2-.7 .2-5.1 .2 4.3 .2-1.2 .2-.1 .3 .7 .2 2.6 .2-1.3 .2-.2 .2 2.9 .2-5 .2 1 .2 .9 .2-3.7 .2 9.3 .2-6.4" stroke="#8f8f28" stroke-width="0.7" fill="none" stroke-linejoin="round" opacity="0.85"/>
<rect x="60.6" y="2111.6" width="266.1" height="213.9" fill="none" stroke="#333" stroke-width="0.9"/>
<path d="M60.6 2325.5v3.4M113.8 2325.5v3.4M167 2325.5v3.4M220.3 2325.5v3.4M273.5 2325.5v3.4M326.7 2325.5v3.4M87.2 2325.5v1.8M140.4 2325.5v1.8M193.6 2325.5v1.8M246.9 2325.5v1.8M300.1 2325.5v1.8M60.6 2325.5h-3.4M60.6 2254.2h-3.4M60.6 2182.9h-3.4M60.6 2111.6h-3.4M60.6 2289.8h-1.8M60.6 2218.6h-1.8M60.6 2147.2h-1.8" stroke="#333" stroke-width="0.9" fill="none"/>
<text x="60.6" y="2343" font-size="12.6" font-family="Liberation Serif, serif" text-anchor="middle" fill="#111">0</text>
<text x="113.8" y="2343" font-size="12.6" font-family="Liberation Serif, serif" text-anchor="middle" fill="#111">20</text>
<text x="167" y="2343" font-size="12.6" font-family="Liberation Serif, serif" text-anchor="middle" fill="#111">40</text>
<text x="220.3" y="2343" font-size="12.6" font-family="Liberation Serif, serif" text-anchor="middle" fill="#111">60</text>
<text x="273.5" y="2343" font-size="12.6" font-family="Liberation Serif, serif" text-anchor="middle" fill="#111">80</text>
<text x="326.7" y="2343" font-size="12.6" font-family="Liberation Serif, serif" text-anchor="middle" fill="#111">100</text>
<text x="54.1" y="2329.7" font-size="12.6" font-family="Liberation Serif, serif" text-anchor="end" fill="#111">0.0</text>
<text x="54.1" y="2258.4" font-size="12.6" font-family="Liberation Serif, serif" text-anchor="end" fill="#111">0.5</text>
<text x="54.1" y="2187.1" font-size="12.6" font-family="Liberation Serif, serif" text-anchor="end" fill="#111">1.0</text>
<text x="54.1" y="2115.8" font-size="12.6" font-family="Liberation Serif, serif" text-anchor="end" fill="#111">1.5</text>
<text x="185.3" y="2089.5" font-size="19.8" font-family="Liberation Serif, serif" text-anchor="middle" fill="#111">SCN5A-Oridonin</text>
<text x="194.1" y="2370.3" font-size="17.6" font-family="Liberation Serif, serif" text-anchor="middle" fill="#111">Time(ns)</text>
<text transform="translate(29.6,2219) rotate(-90)" font-size="17.6" font-family="Liberation Serif, serif" text-anchor="middle" fill="#111">RMSD(nm)</text>
<path d="M411.9 2301.1l.3-6.2 .2-7.1 .3 4.8 .3-2.8 .3-5.8 .2 9.4 .3-.5 .3-12.9 .2 5.1 .3-.3 .3-5.5 .3-13.2 .2 9.1 .3-7.3 .3 6.9 .2-6.6 .3-8.8 .3 3.9 .3 4.4 .2 6.7 .3 2.8 .3-13.4 .3 8.5 .2 1.2 .3 0 .3-9.7 .2 6 .3 6.4 .3-9.4 .3 11.1 .2 1.4 .3-4 .3 12.5 .2-3.9 .3-21.8 .3 12.9 .3 10.7 .2-3.7 .3-3.3 .3 15.4 .2-3.2 .3 4.7 .3-1.3 .3-.9 .2 2.8 .3 1.4 .3-3.6 .2-7.9 .3 4.2 .3 7.2 .3-4.6 .2 3.5 .3-7.9 .3 7.1 .2-.6 .3 4.2 .3 11.4 .3-12.9 .2 3.2 .3-2.7 .3 9.1 .3-10.1 .2 1.5 .3-7.1 .3-4.6 .2 5.7 .3 8.2 .3-13.9 .3 17.6 .2 3.5 .3-3.5 .3-6 .2-4.7 .3 9.9 .3 1.6 .3-9.3 .2 11 .3 8.9 .3-18.1 .2-.5 .3 4.1 .3-1.2 .3 9.8 .2-20 .3 10.1 .3 4.3 .2-8.9 .3-1.6 .3 3.5 .3 1.5 .2 2.2 .3-3.6 .3 1.2 .2-8.6 .3 14.4 .3-6.5 .3 1.4 .2-4.5 .3-.8 .3 .9 .3 5.4 .2 3.7 .3-1.6 .3-7.7 .2-2.1 .3-1.4 .3-2.5 .3 6.6 .2-4.2 .3 5.3 .3-5.9 .2-1.3 .3 11 .3-9.6 .3 4.1 .2 2.9 .3 11.1 .3 .1 .2-6.7 .3 9.5 .3-21.1 .3 4.5 .2-7.5 .3-4.9 .3 2.2 .2-.3 .3 6.9 .3 10.2 .3-10 .2 12.9 .3-18.1 .3 3.4 .2 1.5 .3-.7 .3 8.4 .3-1.2 .2-2.1 .3 1.9 .3-2.3 .3 2.1 .2 3.4 .3-11.9 .3 12.1 .2-13.7 .3 1.3 .3-10 .3 2.1 .2 5.7 .3 4.2 .3 1 .2 2.1 .3 2.3 .3 3.6 .3-8.1 .2-10.7 .3 13 .3 10.7 .2-2.1 .3-13.7 .3 2.1 .3 9.4 .2-7.4 .3 2.7 .3 6.8 .2-2.4 .3 6.2 .3-3.2 .3-2 .2-4.7 .3-1.1 .3-3.5 .3 1.8 .2 4.5 .3-2 .3 10.4 .2-8.3 .3-1.9 .3-.8 .3 7.4 .2 2.7 .3-2.3 .3-10.2 .2 11.2 .3 3 .3-12.1 .3-7.5 .2 7.7 .3-.3 .3 8.6 .2-23.4 .3 12.2 .3-1.7 .3 12.9 .2-13.9 .3 14.1 .3-2.9 .2-13.4 .3 9.1 .3 8.7 .3-10.1 .2-1.1 .3-7.7 .3-9.3 .2 10.8 .3-1.9 .3 8.3 .3-6.8 .2 6 .3-3.1 .3 9.1 .3-4.9 .2 3.2 .3 0 .3-8 .2 10.6 .3-5.1 .3 12.2 .3-13.5 .2 4.1 .3 6.5 .3 7.8 .2-.1 .3-.8 .3 2 .3-7.8 .2-.5 .3 0 .3-2.1 .2-4.4 .3 1.8 .3 9.2 .3-6.8 .2 5 .3-16.8 .3 6.7 .2-9.5 .3 6 .3 10 .3 .3 .2-.7 .3 7.7 .3-12.9 .2 1.2 .3 10.5 .3-11.7 .3 .3 .2 1.1 .3-3.3 .3 1 .3-5.6 .2 2.8 .3 6.6 .3-7.3 .2 6.4 .3-1.5 .3-3.7 .3 3.1 .2 4.1 .3-1.5 .3 1.7 .2-2.8 .3-4.2 .3 7.9 .3-14.3 .2 17.1 .3-9.6 .3-.4 .2-8.5 .3 4.9 .3-2.7 .3-.5 .2-1.5 .3-1.1 .3 11 .2-4.2 .3 1.6 .3-6.9 .3 3.9 .2-8.1 .3 10.7 .3 2.1 .2-18.8 .3 13.1 .3-5.2 .3-7 .2 4.2 .3 1.4 .3-1.4 .3-3.5 .2 2.4 .3 4.3 .3-4.2 .2 4.9 .3-1 .3 6.3 .3-2.5 .2 7.1 .3-9.9 .3 6.9 .2 3.7 .3-.7 .3-5.6 .3-3.2 .2 6.4 .3 1.3 .3-4.7 .2 10.5 .3-2.7 .3-10.1 .3-5.5 .2 6.9 .3 13 .3-15.6 .2 8.3 .3 1.6 .3-1 .3 8.7 .2 2.3 .3-.7 .3-3.9 .2-3.9 .3-.9 .3 .6 .3 2.7 .2 7.9 .3-15.1 .3 13.2 .3-18.8 .2 21.4 .3 2.5 .3-18.4 .2 3.6 .3-8.3 .3 9.5 .3-3.4 .2 6.7 .3-6.8 .3 6.7 .2-.6 .3-5.8 .3-1.9 .3 1.7 .2 2.5 .3-7.3 .3 11.8 .2 .3 .3-3.2 .3 1.1 .3-10.6 .2-8.8 .3 6.1 .3 5.2 .2 2.5 .3-4.4 .3 11.4 .3-10.4 .2 6.6 .3 1.5 .3-14.6 .2 19.6 .3 2.3 .3-4.3 .3-7.4 .2 4.3 .3-3.4 .3-.1 .3-2.4 .2 4.2 .3-6.5 .3 12.6 .2 1.6 .3 1.4 .3 6.8 .3-10.1 .2 1.2 .3 4.5 .3-16.2 .2 6.3 .3 3.4 .3 7.2 .3-3.2 .2 5.2 .3 10.1 .3-2.2 .2-8.8 .3-4.1 .3-2.7 .3 3.9 .2 5.5 .3-14.8 .3 3.4 .2 4.5 .3-8.1 .3 15.3 .3 2.5 .2 1.6 .3-14.7 .3-5.4 .2 9.4 .3-4.9 .3 1.5 .3 7.5 .2-13.8 .3-1.1 .3 17.2 .3-13.2 .2 2.7 .3-8.1 .3 12.7 .2-.4 .3-9.1 .3-3.3 .3 20.6 .2-16.6 .3 0 .3-6.5 .2 17.2 .3-19.8 .3 5.9 .3-2.3 .2 4.8 .3-1.1 .3-8.9 .2-1.4 .3 6.8 .3 .2 .3-7.9 .2 0 .3 4.2 .3-9.1 .2 8.2 .3-2.8 .3-14.9 .3 8.9 .2 4.4 .3-1.7 .3 .2 .2 5.7 .3-7.4 .3-3 .3 13.2 .2-1.7 .3-5.3 .3 14 .3-12.3 .2-3.9 .3 3.5 .3 14.2 .2-2.5 .3 4.5 .3-13.9 .3 15.5 .2-8.9 .3-3.5 .3-3.4 .2 1.4 .3 4.3 .3-12.3 .3 2.4 .2 6.5 .3 5.4 .3 0 .2-2.8 .3 .1 .3-.5 .3-.2 .2 11.1 .3-11.9 .3 4 .2-8.5 .3 3.2 .3 6.8 .3-4.1 .2-5.1 .3-.4 .3 9.2 .2-3.4 .3-12.4 .3 4.9 .3-5.6 .2 8.6 .3 11 .3-1.6 .3-5.1 .2 .9 .3-2.6 .3-.3 .2 .6 .3 .6 .3 13.3 .3-21.9 .2-11.3 .3 7.4 .3 8.8 .2-.9 .3-2.1 .3-4.9 .3-1.5 .2-1 .3-1.8 .3 8.8 .2-16.4 .3 20.7 .3-1.2 .3-3.5 .2-5.9 .3 8.6 .3-4.1 .2 14.1 .3-1.2 .3-7.7 .3-1.6 .2 .8 .3 11.6 .3-5.1 .3-8.1 .2-2.5 .3 3.4 .3 4.7 .2-8.4 .3 1.7 .3 16 .3-10 .2 .1 .3 3 .3 3.7 .2-3.6 .3-.5 .3-6.9 .3 3.5 .2 1 .3-2.5 .3-1.6 .2 17.2 .3-6.7 .3-2.7 .3-8.4 .2 .9 .3 2.5 .3 4.5 .2-12.4 .3-1.6 .3 4.6 .3 3.6 .2 0 .3 .4 .3-9.7 .2 8.8 .3-11.2 .3-.2 .3-11.4 .2 13.2 .3 2.4 .3-6.6 .3-2 .2-9.6 .3 5.3 .3 15.1 .2 .5 .3 8.8 .3-5.5 .3-5.3 .2 6.8 .3-10.1 .3 4 .2-10.9 .3-1.3 .3 7.7 .3 4.6 .2 8.7 .3-7.1 .3-1.2 .2 5.4 .3-5.1 .3 8.8 .3 16.7 .2-20.4 .3 2.3 .3 1.5 .2-.9 .3 1.2 .3 5.5 .3-6.3 .2 2.2 .3-13.6 .3 2 .2 19.2 .3 9.9 .3-9.3 .3 10.9 .2-5.6 .3 1.6 .3-4.5 .3-7.4 .2-2.8 .3 7.5 .3 13.6 .2-9.5 .3 1.2 .3-11.2 .3 6.1 .2-.3 .3 3.3 .3-9.4 .2 6 .3 2.7 .3 2 .3-3.2 .2-6.7 .3-4.1 .3-6 .2 9.6 .3 13.3 .3-15.9 .3 1.3 .2-8.3 .3-4.1 .3 8.3 .2-4.8 .3 6.8 .3 1.8 .3-1.1 .2 .9 .3-13.1 .3 3.9 .2 10.1 .3-3.7 .3-13.9 .3 7 .2 6.2 .3-4.6 .3 6.3 .3-5.4 .2-10.9 .3 2.8 .3-3.5 .2 10 .3 5.3 .3-7.6 .3-6.7 .2 3.2 .3-7.3 .3-7.6 .2 9.2 .3-1.8 .3-6.3 .3 9.4 .2-11.4 .3 7.6 .3-9.4 .2 9.4 .3 10.9 .3-13.3 .3 6.9 .2-12.2 .3 8.3 .3 2.1 .2-5.9 .3 14.5 .3-7.7 .3 8.2 .2-7.3 .3 10.4 .3-12 .2-3.4 .3 4.9 .3 2.2 .3-3.9 .2-.2 .3 .8 .3 3.3 .3-10.9 .2-4.5 .3 16.8 .3-3 .2 2.9 .3 4.9 .3-15.5 .3 9.8 .2-7.2 .3 .5 .3 1.5 .2 10 .3-7.5 .3 4.8 .3 1 .2 2.4 .3-4.8 .3 5.9 .2 .3 .3-9.4 .3-5.2 .3-.1 .2-4.2 .3 8.9 .3-5.4 .2 28.4 .3-26.8 .3 2.6 .3 3.6 .2 0 .3 1.1 .3-.6 .2 4.3 .3 .9 .3-6.8 .3-11.5 .2-3.9 .3 16.8 .3-6.9 .3 4 .2-2 .3-1.8 .3-10.6 .2 3.5 .3 13.9 .3-21.9 .3 2.6 .2 15.2 .3-11.4 .3 11 .2-4.3 .3 2.9 .3 8.3 .3-8 .2 12.7 .3-15 .3 .2 .2 3.9 .3-8.4 .3 7 .3 1.9 .2 4.8 .3-13.5 .3 5.3 .2 2.2 .3-9.3 .3 3.7 .3 1.7 .2-6 .3-1 .3-.6 .2-1.9 .3-10.8 .3 11.8 .3-13.4 .2 4.3 .3-6 .3-13.6 .3-5.3 .2 6.9 .3-11.5 .3 7.9 .2 .6 .3-.1 .3 2.1 .3 3.5 .2-10.3 .3 2.8 .3-7.6 .2-5.5 .3 7.3 .3 3.3 .3 15.6 .2-10.5 .3 .9 .3-19.1 .2 6.4 .3 1.8 .3-2.4 .3-4.5 .2-6.3 .3-2.2 .3 8.4 .2-13.5 .3-3.4 .3-10.6 .3-2.1 .2 5.4 .3-5.1 .3-2.2 .2 8.8 .3 11.6 .3-27.1 .3 2.6 .2 7.9 .3-.5 .3 9.1 .3-.5 .2-8.8 .3 21.2 .3-7.5 .2 4.2 .3-6.6 .3 14.1 .3-19.8 .2 11 .3-10.2 .3-23.1 .2 16.1" stroke="#5aa548" stroke-width="0.7" fill="none" stroke-linejoin="round" opacity="0.85"/>
<rect x="411.9" y="2111.6" width="264.1" height="213.2" fill="none" stroke="#333" stroke-width="0.9"/>
<path d="M411.9 2324.8v3.4M499.9 2324.8v3.4M588 2324.8v3.4M676 2324.8v3.4M455.9 2324.8v1.8M544 2324.8v1.8M632 2324.8v1.8M411.9 2324.8h-3.4M411.9 2271.5h-3.4M411.9 2218.2h-3.4M411.9 2164.9h-3.4M411.9 2111.6h-3.4M411.9 2298.2h-1.8M411.9 2244.8h-1.8M411.9 2191.6h-1.8M411.9 2138.2h-1.8" stroke="#333" stroke-width="0.9" fill="none"/>
<text x="411.9" y="2342.3" font-size="12.6" font-family="Liberation Serif, serif" text-anchor="middle" fill="#111">0</text>
<text x="499.9" y="2342.3" font-size="12.6" font-family="Liberation Serif, serif" text-anchor="middle" fill="#111">1000</text>
<text x="588" y="2342.3" font-size="12.6" font-family="Liberation Serif, serif" text-anchor="middle" fill="#111">2000</text>
<text x="676" y="2342.3" font-size="12.6" font-family="Liberation Serif, serif" text-anchor="middle" fill="#111">3000</text>
<text x="405.4" y="2329" font-size="12.6" font-family="Liberation Serif, serif" text-anchor="end" fill="#111">0.0</text>
<text x="405.4" y="2275.7" font-size="12.6" font-family="Liberation Serif, serif" text-anchor="end" fill="#111">0.5</text>
<text x="405.4" y="2222.4" font-size="12.6" font-family="Liberation Serif, serif" text-anchor="end" fill="#111">1.0</text>
<text x="405.4" y="2169.1" font-size="12.6" font-family="Liberation Serif, serif" text-anchor="end" fill="#111">1.5</text>
<text x="405.4" y="2115.8" font-size="12.6" font-family="Liberation Serif, serif" text-anchor="end" fill="#111">2.0</text>
<text x="531.1" y="2089.5" font-size="19.8" font-family="Liberation Serif, serif" text-anchor="middle" fill="#111">SCN5A-Oridonin</text>
<text x="544.5" y="2369" font-size="17.6" font-family="Liberation Serif, serif" text-anchor="middle" fill="#111">Residue number</text>
<text transform="translate(381.6,2217.4) rotate(-90)" font-size="17.6" font-family="Liberation Serif, serif" text-anchor="middle" fill="#111">RMSF(nm)</text>
<path d="M768.6 2139.6l.2 5 .2 2.9 .2-10.8 .2-2.6 .2 1.2 .2 5.9 .2-2.4 .2 19.8 .2-6.6 .2-7.3 .2-.5 .2-6.8 .2-3.6 .2-.5 .2 14.1 .2-2.9 .2-6 .2 9.3 .2-10.3 .2 7.6 .2 5.4 .2-16.1 .2 17.7 .2-.8 .2-8.9 .2 1.2 .2-5.7 .2-2.5 .2 12.3 .2-3.8 .3 8.8 .2 1.5 .2 1.9 .2-3.5 .2-9.3 .2 28.3 .2-13.2 .2-4.4 .2-2 .2-1.2 .2-6.5 .2 2.5 .2 6.6 .2-.8 .2 17 .2 .2 .2-14.3 .2 2.8 .2 5.1 .2-5.6 .2-2.2 .2 12.7 .2-7.4 .2 1 .2 1 .2 7.5 .2 .9 .2-2.6 .2-1.3 .2-2.6 .2-5.1 .2 5.7 .2-.3 .2 4.6 .2 .1 .2-2.5 .2-2.6 .2 13.6 .2-2.4 .2 8.2 .2 10.8 .2-4.4 .2 .7 .2 2.9 .2 7.4 .2-12.7 .2 12.6 .2 5.1 .2 15.4 .2-5.4 .2-11.8 .2-6.8 .2 19.6 .2-6 .2 11.8 .2-10.1 .2 .4 .2-12.2 .2 8.6 .2-2 .2-4.8 .2 6.9 .3-4.3 .2-1.5 .2 .1 .2 3.3 .2 21.4 .2-7 .2 8.1 .2-19.3 .2 4.8 .2 5.4 .2-16 .2 7.3 .2 6.6 .2 3.3 .2 10.3 .2-7.6 .2 2.7 .2-14.4 .2 8.3 .2 3.3 .2 7.3 .2-1.6 .2 15.8 .2 .4 .2 3 .2-11 .2-5.2 .2 .6 .2-11 .2 8.9 .2 18.6 .2-7.7 .2 4.7 .2-5.6 .2-3.1 .2-10.9 .2-6.6 .2 14.7 .2-10.5 .2 15 .2-16.6 .2-.9 .2 9.4 .2 3.5 .2-8.3 .2 4.6 .2 .7 .2-2.3 .2 5.4 .2 7.4 .2-18.5 .2 11.9 .2-8.6 .2-12.2 .2-.2 .2-6 .2 16.9 .2-19.8 .2 14.7 .2 0 .2-20.5 .2 17.4 .3-3.7 .2-4.1 .2 12.9 .2-6.2 .2 6.5 .2 5.9 .2-8.2 .2 9.9 .2-23.8 .2 22.6 .2-15.7 .2-3.7 .2 5.2 .2 8.7 .2 6 .2-19.6 .2 23 .2-6.8 .2 8.8 .2-20.7 .2 23 .2-20 .2-3.1 .2 13.2 .2 17.1 .2-9.6 .2 5.5 .2-6.6 .2-1.6 .2 .1 .2 9.4 .2-1 .2-.8 .2-.1 .2 8.8 .2-14.4 .2 6.3 .2 4.3 .2 5.1 .2-1.8 .2 20.8 .2-22.5 .2 13.9 .2-10.1 .2-3.3 .2-10.1 .2 3.4 .2-7.8 .2 11.1 .2-5 .2 1.7 .2-1 .2-6.4 .2 10.4 .2-13.1 .2 12.9 .2 .9 .2 6.4 .2-7.7 .2 2.9 .2-4.9 .2 4.6 .3-.4 .2 12.7 .2 3 .2 4.1 .2-12.4 .2-3.2 .2 6.5 .2-21.4 .2 4.3 .2 8 .2-18.9 .2 14.4 .2 2.3 .2 2.2 .2-1.1 .2-14.5 .2-9.1 .2-11 .2 18.5 .2 7.2 .2-8.1 .2 5.3 .2-2.9 .2 .3 .2 1.2 .2-10.1 .2 7.1 .2 12.6 .2-11 .2 3.9 .2 4.2 .2-6.6 .2-8.5 .2 8.5 .2-3.6 .2-5.3 .2 13.8 .2-2.3 .2 .5 .2-1.6 .2-1.8 .2-11 .2-2.7 .2 13.7 .2-6.4 .2-13.1 .2 6.3 .2 0 .2 6.3 .2 5.2 .2-3.2 .2-14.9 .2 15.1 .2-4.2 .2 5.1 .2-5.1 .2-1.3 .2 1.3 .2 4.1 .2-2.6 .2-.3 .2 0 .3-1.3 .2 1.4 .2 3.3 .2-11.3 .2-1 .2 8.9 .2 7.9 .2-3.5 .2 6.5 .2 9.4 .2-14.4 .2 .3 .2 5.1 .2 1.8 .2-9.3 .2 .8 .2 2.7 .2-7 .2 4.2 .2 5.9 .2 1.6 .2-8.3 .2-11.9 .2 15.5 .2-3 .2-3.9 .2-.3 .2 2.6 .2-2.3 .2 17.8 .2-2.8 .2-6.6 .2-.3 .2-4.6 .2 0 .2 6.8 .2-1.5 .2-6.9 .2 4.2 .2-3.5 .2-.1 .2-7.6 .2 5.7 .2 .4 .2 2.1 .2 11.5 .2-11.7 .2-2.9 .2 11.9 .2-6.5 .2 10.9 .2-4.9 .2-10.9 .2-9.2 .2 19.9 .2-9.3 .2 15.1 .2-10.6 .2 8.1 .2-3.9 .2 1.1 .2-6.3 .3 .2 .2 .4 .2-5.9 .2 1.3 .2 1.2 .2 9.7 .2-.7 .2 15.7 .2-16 .2-2.8 .2 7.4 .2 1.6 .2-5.4 .2-4.3 .2 2.5 .2-13 .2 .5 .2 15.3 .2-7.9 .2 22.3 .2-21.4 .2-13.2 .2 13.4 .2-3.6 .2 4.5 .2 19.2 .2-18.2 .2-14.9 .2 17.2 .2 7.9 .2-4.8 .2 2.3 .2-3.9 .2 3.6 .2-1.7 .2-1.5 .2 10.5 .2-11.2 .2 2.8 .2 1.2 .2 5.1 .2 1.5 .2 4.4 .2-4.5 .2-.1 .2 11.8 .2-12.5 .2 0 .2-7.3 .2 7.9 .2-3.8 .2 1.9 .2-.3 .2-4.6 .2 1 .2 1.7 .2 6.5 .2 .6 .2 5.2 .2-2.2 .2-.2 .2-6.3 .3 5.5 .2-13.8 .2 7.5 .2-4.6 .2-4 .2 13.8 .2-9.4 .2-3.8 .2 13.7 .2-11 .2 16.9 .2 3.3 .2-8.3 .2-1.7 .2 2.3 .2 0 .2-9 .2-11.1 .2 17.1 .2-2.4 .2 8.6 .2 .6 .2-10.8 .2 6.3 .2 3 .2-14.7 .2-1.7 .2-.5 .2 .4 .2 2.4 .2-10.5 .2 9.8 .2 10 .2-12.1 .2-.3 .2-4.2 .2 12.2 .2-8.4 .2 5.8 .2-5.7 .2 7.8 .2-9.5 .2 1.9 .2 5.6 .2-14.4 .2 8.4 .2-7.8 .2 5.7 .2 2.4 .2 5.8 .2-12.3 .2 7.3 .2-13.8 .2 7.2 .2 4.9 .2 4.1 .2-9 .2 16.7 .2-21.3 .2 3.8 .2-2.3 .2 15.5 .3-14.2 .2 13 .2-15.8 .2-2.4 .2 1.5 .2 1 .2-.2 .2 1.2 .2 2.7 .2-1.2 .2 5.4 .2-10.2 .2 10.3 .2-8.1 .2 15.9 .2-19.8 .2 5.2 .2 1.4 .2 8.1 .2 1.2 .2-3.2 .2 2.9 .2 2.4 .2-9.2 .2 5 .2 8.5 .2-7.6 .2 1.7 .2-8.2 .2-1.9 .2 7.3 .2 4.1 .2 8.9 .2-7.8 .2 4 .2-3.3 .2 4.6 .2 1.1 .2-26.7 .2 28.6 .2-2.7 .2 8.1 .2-17 .2 7.7 .2-1.9 .2 1.5 .2 9.2 .2-8.5 .2 7.1 .2-6 .2-15.5 .2 28.4 .2-23 .2 1.7 .2 14.3 .2-2.3 .2 10.8 .2-29.3 .2 21.6 .2 .1 .2-8.3 .2 .6 .3 8.5 .2 2 .2 .2 .2 17.2 .2-5.6 .2-8.5 .2-4.9 .2 7.6 .2 4.5 .2-11.4 .2 2.3 .2-6.6 .2-5.5 .2-3 .2 13.1 .2 5.6 .2-23.1 .2 8.5 .2-5.5 .2 8.9 .2-2.8 .2-3.7 .2 9.5 .2 5.7 .2-9.4 .2-13.4 .2 6 .2 5.2 .2-8.1 .2 .6 .2 3.6 .2-6.9 .2 16.4 .2 2 .2-4.8 .2-7.1 .2 15.9 .2-13.4 .2 13.7 .2 4.6 .2-5.9 .2 3.5 .2-.4 .2 21.1 .2-5.5 .2-1.6 .2 .1 .2-5.7 .2 2.2 .2 .4 .2-1.1 .2 7.5 .2-2.9 .2-1.4 .2-5.4 .2 9.8 .2 5 .2-3.7 .2 4.1 .2-4.2 .2 1.8 .2-5.7 .3-3 .2 3.1 .2-4.7 .2 4.9 .2 1.6 .2 4.9 .2 1.7 .2-6.6 .2 1.3 .2 5.5 .2-8.6 .2 2.6 .2-1.9 .2 2.1 .2 3 .2 3.5 .2-.8 .2-2.9 .2 2.1 .2-2.7 .2 .3 .2-2.1 .2 3.1 .2-.4 .2 1.1 .2-3.5 .2 3.2 .2-.2 .2 3.5 .2-1.1 .2-.3 .2-2.2 .2 6.2 .2-7.5 .2 4.2 .2-3.6 .2 .6 .2-2.6 .2 3.2 .2 3.9 .2-7.1 .2-2.2 .2 7.8 .2-.8 .2-1.9 .2 .3 .2-.9 .2-2.5 .2 1.4 .2-1.3 .2-.4 .2 5.5 .2 .7 .2-4.8 .2-4.8 .2 8.2 .2-6.7 .2 4.5 .2-5.9 .2 2.4 .2-2.7 .3 7.2 .2-5.9 .2-.9 .2 3.1 .2-1.5 .2-1.6 .2-6.7 .2 2.7 .2 .2 .2 4.3 .2-5.1 .2 1.9 .2 1.7 .2 .8 .2 4.3 .2-.4 .2-6.8 .2 2.6 .2 .5 .2 2.9 .2-2.6 .2 4.5 .2-2.6 .2-2.8 .2 .8 .2-4.2 .2-.7 .2 4.3 .2-1 .2-1 .2 2.9 .2 3.5 .2-10 .2 4.2 .2 2 .2-4.8 .2-4.6 .2 2.6 .2-3.4 .2 6.5 .2 1.4 .2-.3 .2-1.9 .2-2.9 .2 2.5 .2-7.2 .2 4.9 .2-1 .2 .1 .2 1.7 .2 .4 .2-3.4 .2 2.3 .2-4.7 .2 4.5 .2-4 .2 5.6 .2-.4 .2-6.2 .2 4.5 .2 4.1 .2-2.4 .3 .9 .2-.1 .2-1.2 .2-1.4 .2 1.3 .2-2.9 .2-.4 .2 .2 .2 3.1 .2 2.9 .2-4 .2-5.6 .2 2.9 .2-5.3 .2 5.7 .2-4 .2 5 .2-1.9 .2-2.4 .2 3.8 .2 .8 .2-6.9 .2 10.2 .2 3.1 .2-1.8 .2-8.2 .2 6.9 .2-.2 .2 1.4 .2-3.7 .2 .8 .2-.1 .2 1.3 .2 3.1 .2-6.9 .2 2 .2 4.9 .2-5.1 .2-.2 .2 3.3 .2-6.2 .2 7.3 .2-8.1 .2 6.1 .2-1.8 .2 2.3 .2-5.5 .2 2 .2 4.1 .2-5.4 .2 2 .2 .8 .2-1 .2-.5 .2 4.4 .2 2.2 .2-6.3 .2-2 .2 6.5 .2-8 .2 1.3 .2-2.9 .3 .5 .2 .5 .2 5 .2-3.6 .2 3.2 .2 1.1 .2-1.4 .2 1.2 .2-1.9 .2-2.1 .2 4.6 .2-1.9 .2 .1 .2-1.2 .2-2.5 .2 .4 .2 8 .2-8.5 .2 0 .2 2.5 .2-2.5 .2-1.9 .2 7.8 .2-5.3 .2 .3 .2 2.4 .2-2 .2-2.6 .2-6 .2 .8 .2 4.2 .2 3.6 .2 .7 .2-5.1 .2 7.6 .2-2.8 .2 3.7 .2-.5 .2-6.4 .2 4.7 .2-3.8 .2 1.5 .2-2.5 .2-2.4 .2 5 .2-.4 .2 2.7 .2-5.2 .2 2.4 .2 4.5 .2-2.8 .2-.6 .2 1.2 .2-7.6 .2 8.8 .2-4.8 .2-.3 .2 3.1 .2 .4 .2 .2 .2 6.4 .2-3.8 .3-4.1 .2 .8 .2 3.2 .2-8.3 .2 5.4 .2-.6 .2 .7 .2 3.8 .2-4.9 .2 4.7 .2-7.1 .2 2.5 .2 3.7 .2-1.9 .2-4.2 .2 4.9 .2-7.2 .2 4.7 .2 4.6 .2-3.1 .2 .2 .2-2.3 .2-3.2 .2 2.7 .2 1.9 .2-.4 .2-1.5 .2-3.4 .2 4.1 .2 2 .2-1 .2-6.9 .2 4.2 .2 1.8 .2 1.7 .2-3.5 .2 3.5 .2-4 .2-.1 .2 1.1 .2 5.7 .2 0 .2-1.2 .2 1.2 .2-9.5 .2 1.8 .2 10.1 .2-2.5 .2-2.3 .2-4.3 .2-.3 .2-.3 .2 2.1 .2-.7 .2 3.2 .2 5.6 .2-7.2 .2 5.3 .2-2.8 .2 2.5 .2-5.6 .2-.1 .3 1.9 .2-1.6 .2 1.4 .2 1.1 .2-6.6 .2-3 .2 7.1 .2-4.6 .2-2.8 .2 6.4 .2 .2 .2 2.3 .2-.1 .2-1.7 .2 4 .2-8.5 .2 2.3 .2 .4 .2 2.8 .2-4.1 .2 .3 .2-3.6 .2 .4 .2 5.9 .2 .9 .2-1.2 .2-.1 .2-.5 .2-1.4 .2 2 .2 2.4 .2-1.8 .2 1.6 .2-1.6 .2 1.6 .2-4.5 .2 2.5 .2 1.4 .2-5 .2 5.6 .2-2.3 .2 4.1 .2-3.4 .2 5.4 .2-1.5 .2-3.9 .2 3.2 .2-1.5 .2 .4 .2 .1 .2-2.4 .2 .1 .2-.1 .2-5.3 .2 4.6 .2 .7 .2-.6 .2 1.8 .2-4 .2 5.5 .2-4.9 .2 2.8 .3-3.5 .2 1.4 .2 3.1 .2 0 .2-1.3 .2-1.1 .2-2.8 .2 3.3 .2 2.4 .2-4 .2 4.6 .2-.3 .2-.6 .2-2.9 .2 3 .2-1.3 .2 .9 .2 5.4 .2-7.5 .2 3.3 .2 1.3 .2-3.9 .2 2.4 .2-1.6 .2 3.6 .2-4.5 .2 3.8 .2 3.5 .2-2.6 .2-6.4 .2-.6 .2-1.3 .2 6.3 .2-.5 .2 .5 .2-.9 .2-2.2 .2-.5 .2 3.5 .2-2.6 .2 2.9 .2 1 .2 3.4 .2-.9 .2-.4 .2-2.7 .2-2.9 .2-1.2 .2 1.2 .2-1.7 .2 4.2 .2-1.8 .2-.6 .2 .8 .2-1.9 .2 3.5 .2 2.1 .2-5.9 .2 4.9 .2 2.9 .2-3.8 .2-2.2 .3 2.1 .2-.8 .2 .8 .2 2.1 .2-6.6 .2 2.8 .2 1.7 .2 .9 .2-3.7 .2 3.1 .2-1.2 .2-.8 .2-2.1 .2 1.7 .2 7.9 .2-2.5 .2 1.2 .2-1.4 .2 .3 .2-4.2 .2-.8 .2 2 .2 .9 .2 .1 .2 0 .2-3.1 .2-2 .2 .6 .2-3.5 .2-.4 .2 2.6 .2-3.4 .2-3.2 .2-2.2 .2 3.9 .2-.8 .2 1.3 .2-3 .2 2.2 .2 .7 .2 2.7 .2-2.8 .2 6.9 .2-1.8 .2 .2 .2-4.3 .2-.9 .2 5.7 .2-6.4 .2 1.3 .2 5.9 .2-5.3 .2 .5 .2-1.5 .2 4 .2-4.4 .2-1.4 .2 1.7 .2 .2 .2 2.8 .2-4.2 .2-2.1 .3 5 .2-2.1 .2 5.1 .2-4.9 .2 4.5 .2-1 .2-2 .2 .3 .2 1.1 .2 .1 .2 1.1 .2-3.7 .2 9.9 .2-1.7 .2-4.8 .2 1.1 .2-3.1 .2 4.8 .2 3.2 .2-4.6 .2 1.1 .2 .1 .2-4.3 .2-4.1 .2 6.7 .2 .3 .2-4.8 .2 9.4 .2-2.5 .2-1 .2-1.4 .2-3.5 .2 5.4 .2 5.5 .2-.6 .2-4.7 .2 2.6 .2-5.1 .2 5.9 .2-2.8 .2 0 .2-.7 .2 1.1 .2 1.6 .2-1.1 .2-5.3 .2 3.1 .2-.7 .2 1.4 .2 3.4 .2-6.2 .2 1.4 .2 2.5 .2 1.4 .2 1.5 .2-2.6 .2 1.2 .2-4.2 .2 6 .2-.2 .2 1.6 .2-2.4 .3-1.5 .2 3 .2-1.2 .2 1.7 .2-4.5 .2 2.9 .2 3 .2-2 .2-5.7 .2 2.2 .2-.9 .2 1.7 .2 1.1 .2-.4 .2-3.2 .2 1.4 .2 1.9 .2-.4 .2-3.2 .2-.4 .2 5.1 .2-.4 .2 3.1 .2-1.3 .2 .2 .2-7.2 .2 8 .2-3.4 .2-1.2 .2 .4 .2 .2 .2 2.9 .2 .3 .2 .1 .2-.3 .2 .4 .2 1.3 .2-3.4 .2 1.8 .2-3.3 .2-3.3 .2-1.6 .2 7 .2 2.5 .2 2.2 .2-4.7 .2 0 .2-1 .2 4.5 .2-.3 .2-5.5 .2 2.9 .2 .5 .2 .3 .2 4.2 .2-6.7 .2 .6 .2 2.1 .2-2.7 .2 1.6 .2-.1 .2 4.7 .3-5.2 .2 3.5 .2-1.9 .2-3.8 .2 .3 .2 .7 .2 6.9 .2-6.7 .2 5.5 .2 1.5 .2-6.7 .2 1.1 .2-1 .2-2.9 .2 4.3 .2-.9 .2 1.4 .2 .1 .2-2.7 .2-3.1 .2 1.6 .2-1.6 .2 3.9 .2 1.3 .2-.5 .2 6 .2-2.2 .2-3.3 .2-2.8 .2 2.6 .2-4.4 .2 5.6 .2-7.3 .2 6.6 .2-2.4 .2 2.8 .2-1.6 .2 .9 .2 1.2 .2 3.4 .2-.6 .2-3.9 .2 .5 .2-2.4 .2 2.9 .2 1 .2 .9 .2-.8 .2-.1 .2-.3 .2 1 .2-1.3 .2-4.3 .2 5.2 .2-2 .2 6.2 .2-4.8 .2-2.8 .2 4.1 .2-2.8 .2-.8 .2-1.3 .3 1.8 .2-3.9 .2 2 .2 4.4 .2-4.5 .2 1.4 .2 2.4 .2-3.2 .2 1.5 .2 3.2 .2-6.3 .2 1.9 .2 2.3 .2 2.9 .2-3.9 .2 .6 .2-6.6 .2 3.4 .2 3.4 .2 1.6 .2-4.1 .2-.9 .2 3.3 .2-.4 .2 1.8 .2 3.7 .2-2.1 .2-4.7 .2-4.7 .2 4 .2-.2" stroke="#d42228" stroke-width="0.7" fill="none" stroke-linejoin="round" opacity="0.85"/>
<rect x="768.6" y="2114.9" width="262.1" height="210.9" fill="none" stroke="#333" stroke-width="0.9"/>
<path d="M768.6 2325.8v3.4M821 2325.8v3.4M873.4 2325.8v3.4M925.9 2325.8v3.4M978.3 2325.8v3.4M1030.7 2325.8v3.4M794.8 2325.8v1.8M847.2 2325.8v1.8M899.7 2325.8v1.8M952.1 2325.8v1.8M1004.5 2325.8v1.8M768.6 2325.8h-3.4M768.6 2273.1h-3.4M768.6 2220.4h-3.4M768.6 2167.6h-3.4M768.6 2114.9h-3.4M768.6 2299.4h-1.8M768.6 2246.7h-1.8M768.6 2194h-1.8M768.6 2141.3h-1.8" stroke="#333" stroke-width="0.9" fill="none"/>
<text x="768.6" y="2343.3" font-size="12.6" font-family="Liberation Serif, serif" text-anchor="middle" fill="#111">0</text>
<text x="821" y="2343.3" font-size="12.6" font-family="Liberation Serif, serif" text-anchor="middle" fill="#111">20</text>
<text x="873.4" y="2343.3" font-size="12.6" font-family="Liberation Serif, serif" text-anchor="middle" fill="#111">40</text>
<text x="925.9" y="2343.3" font-size="12.6" font-family="Liberation Serif, serif" text-anchor="middle" fill="#111">60</text>
<text x="978.3" y="2343.3" font-size="12.6" font-family="Liberation Serif, serif" text-anchor="middle" fill="#111">80</text>
<text x="1030.7" y="2343.3" font-size="12.6" font-family="Liberation Serif, serif" text-anchor="middle" fill="#111">100</text>
<text x="762.1" y="2330" font-size="12.6" font-family="Liberation Serif, serif" text-anchor="end" fill="#111">1.4</text>
<text x="762.1" y="2277.3" font-size="12.6" font-family="Liberation Serif, serif" text-anchor="end" fill="#111">1.6</text>
<text x="762.1" y="2224.6" font-size="12.6" font-family="Liberation Serif, serif" text-anchor="end" fill="#111">1.8</text>
<text x="762.1" y="2171.8" font-size="12.6" font-family="Liberation Serif, serif" text-anchor="end" fill="#111">2.0</text>
<text x="762.1" y="2119.1" font-size="12.6" font-family="Liberation Serif, serif" text-anchor="end" fill="#111">2.2</text>
<text x="881.9" y="2089.5" font-size="19.8" font-family="Liberation Serif, serif" text-anchor="middle" fill="#111">SCN5A-Oridonin</text>
<text x="899.5" y="2370" font-size="17.6" font-family="Liberation Serif, serif" text-anchor="middle" fill="#111">Time(ns)</text>
<text transform="translate(739,2220) rotate(-90)" font-size="17.6" font-family="Liberation Serif, serif" text-anchor="middle" fill="#111">Rg(nm)</text>
<rect x="1128.4" y="2271.5" width="248" height="53" fill="#e98a1f" opacity="0.9"/>
<path d="M1128.7 2271.5V2324.5M1132.3 2271.5V2324.5M1132.4 2271.5V2324.5M1133.8 2271.5V2324.5M1133.9 2271.5V2324.5M1134.2 2271.5V2324.5M1141.9 2271.5V2324.5M1142.1 2271.5V2324.5M1143.3 2271.5V2324.5M1143.9 2271.5V2324.5M1144.6 2271.5V2324.5M1145.3 2271.5V2324.5M1145.6 2271.5V2324.5M1147.5 2271.5V2324.5M1147.6 2271.5V2324.5M1147.9 2271.5V2324.5M1147.9 2271.5V2324.5M1148.3 2271.5V2324.5M1148.9 2271.5V2324.5M1151.4 2271.5V2324.5M1151.9 2271.5V2324.5M1152 2271.5V2324.5M1152.4 2271.5V2324.5M1157.6 2271.5V2324.5M1157.7 2271.5V2324.5M1158.7 2271.5V2324.5M1159.3 2271.5V2324.5M1160.4 2271.5V2324.5M1160.9 2271.5V2324.5M1162.2 2271.5V2324.5M1162.9 2271.5V2324.5M1164.1 2271.5V2324.5M1167 2271.5V2324.5M1167.1 2271.5V2324.5M1167.1 2271.5V2324.5M1169.5 2271.5V2324.5M1170.1 2271.5V2324.5M1170.3 2271.5V2324.5M1172.7 2271.5V2324.5M1173.4 2271.5V2324.5M1174.4 2271.5V2324.5M1176.2 2271.5V2324.5M1176.5 2271.5V2324.5M1176.8 2271.5V2324.5M1178.6 2271.5V2324.5M1178.7 2271.5V2324.5M1179.9 2271.5V2324.5M1179.9 2271.5V2324.5M1180.9 2271.5V2324.5M1181.9 2271.5V2324.5M1184.4 2271.5V2324.5M1185.9 2271.5V2324.5M1186.5 2271.5V2324.5M1186.6 2271.5V2324.5M1186.8 2271.5V2324.5M1187.4 2271.5V2324.5M1188 2271.5V2324.5M1188 2271.5V2324.5M1189.9 2271.5V2324.5M1190.5 2271.5V2324.5M1191.5 2271.5V2324.5M1191.7 2271.5V2324.5M1192 2271.5V2324.5M1192 2271.5V2324.5M1192.3 2271.5V2324.5M1192.6 2271.5V2324.5M1193 2271.5V2324.5M1193.4 2271.5V2324.5M1194.9 2271.5V2324.5M1196.7 2271.5V2324.5M1196.9 2271.5V2324.5M1197.3 2271.5V2324.5M1197.4 2271.5V2324.5M1198.3 2271.5V2324.5M1201.3 2271.5V2324.5M1201.5 2271.5V2324.5M1202.7 2271.5V2324.5M1203 2271.5V2324.5M1203 2271.5V2324.5M1204.2 2271.5V2324.5M1204.6 2271.5V2324.5M1204.7 2271.5V2324.5M1205.2 2271.5V2324.5M1205.4 2271.5V2324.5M1205.8 2271.5V2324.5M1206.3 2271.5V2324.5M1206.8 2271.5V2324.5M1207.5 2271.5V2324.5M1207.8 2271.5V2324.5M1207.8 2271.5V2324.5M1207.9 2271.5V2324.5M1208 2271.5V2324.5M1208.6 2271.5V2324.5M1209 2271.5V2324.5M1210.3 2271.5V2324.5M1210.9 2271.5V2324.5M1211.9 2271.5V2324.5M1215.1 2271.5V2324.5M1215.2 2271.5V2324.5M1215.2 2271.5V2324.5M1215.3 2271.5V2324.5M1215.7 2271.5V2324.5M1216.4 2271.5V2324.5M1217.6 2271.5V2324.5M1217.9 2271.5V2324.5M1220.7 2271.5V2324.5M1220.7 2271.5V2324.5M1222.1 2271.5V2324.5M1222.3 2271.5V2324.5M1224 2271.5V2324.5M1224.1 2271.5V2324.5M1226.8 2271.5V2324.5M1228 2271.5V2324.5M1231.8 2271.5V2324.5M1232.5 2271.5V2324.5M1232.7 2271.5V2324.5M1236.2 2271.5V2324.5M1236.5 2271.5V2324.5M1239.2 2271.5V2324.5M1241.2 2271.5V2324.5M1243.1 2271.5V2324.5M1243.6 2271.5V2324.5M1244 2271.5V2324.5M1246.5 2271.5V2324.5M1248.3 2271.5V2324.5M1248.6 2271.5V2324.5M1250.3 2271.5V2324.5M1254.1 2271.5V2324.5M1257.8 2271.5V2324.5M1259.6 2271.5V2324.5M1261.1 2271.5V2324.5M1262.4 2271.5V2324.5M1263.2 2271.5V2324.5M1263.8 2271.5V2324.5M1265.5 2271.5V2324.5M1265.9 2271.5V2324.5M1269.6 2271.5V2324.5M1273.2 2271.5V2324.5M1276 2271.5V2324.5M1276 2271.5V2324.5M1277.4 2271.5V2324.5M1279 2271.5V2324.5M1279.3 2271.5V2324.5M1289.3 2271.5V2324.5M1293.5 2271.5V2324.5M1295.5 2271.5V2324.5M1299.1 2271.5V2324.5M1299.7 2271.5V2324.5M1300.5 2271.5V2324.5M1302.6 2271.5V2324.5M1306.6 2271.5V2324.5M1309.7 2271.5V2324.5M1309.7 2271.5V2324.5M1312.5 2271.5V2324.5M1319.4 2271.5V2324.5M1323.4 2271.5V2324.5M1331.1 2271.5V2324.5M1342.8 2271.5V2324.5M1343.5 2271.5V2324.5M1344.5 2271.5V2324.5M1346.8 2271.5V2324.5M1357.8 2271.5V2324.5M1359.2 2271.5V2324.5M1367.5 2271.5V2324.5M1373 2271.5V2324.5M1375.1 2271.5V2324.5" stroke="#fff" stroke-width="0.7" opacity="0.7" fill="none"/>
<rect x="1149.4" y="2218.6" width="227" height="53" fill="#e98a1f" opacity="0.93"/>
<path d="M1160.2 2218.6V2271.5M1161.2 2218.6V2271.5M1166.7 2218.6V2271.5M1167.3 2218.6V2271.5M1168.7 2218.6V2271.5M1178 2218.6V2271.5M1183.4 2218.6V2271.5M1184.5 2218.6V2271.5M1185.5 2218.6V2271.5M1188.3 2218.6V2271.5M1193.7 2218.6V2271.5M1197.1 2218.6V2271.5M1205.1 2218.6V2271.5M1208.9 2218.6V2271.5M1213.9 2218.6V2271.5M1216.6 2218.6V2271.5M1217.9 2218.6V2271.5M1219.6 2218.6V2271.5M1221.5 2218.6V2271.5M1223.7 2218.6V2271.5M1229 2218.6V2271.5M1230 2218.6V2271.5M1230.2 2218.6V2271.5M1234 2218.6V2271.5M1234.9 2218.6V2271.5M1236.5 2218.6V2271.5M1236.9 2218.6V2271.5M1242.1 2218.6V2271.5M1243 2218.6V2271.5M1244 2218.6V2271.5M1248.8 2218.6V2271.5M1250.8 2218.6V2271.5M1251.7 2218.6V2271.5M1258.1 2218.6V2271.5M1259.7 2218.6V2271.5M1261 2218.6V2271.5M1270.8 2218.6V2271.5M1274.3 2218.6V2271.5M1275 2218.6V2271.5M1278.6 2218.6V2271.5M1280.6 2218.6V2271.5M1284.5 2218.6V2271.5M1285.5 2218.6V2271.5M1288.8 2218.6V2271.5M1292.3 2218.6V2271.5M1293.4 2218.6V2271.5M1295.7 2218.6V2271.5M1299 2218.6V2271.5M1309.9 2218.6V2271.5M1315.4 2218.6V2271.5M1318.8 2218.6V2271.5M1319.1 2218.6V2271.5M1321.2 2218.6V2271.5M1323.7 2218.6V2271.5M1323.9 2218.6V2271.5M1325.3 2218.6V2271.5M1330.9 2218.6V2271.5M1332.8 2218.6V2271.5M1332.9 2218.6V2271.5M1333.6 2218.6V2271.5M1335.1 2218.6V2271.5M1335.9 2218.6V2271.5M1336.2 2218.6V2271.5M1336.2 2218.6V2271.5M1338.1 2218.6V2271.5M1339.6 2218.6V2271.5M1340.3 2218.6V2271.5M1342.9 2218.6V2271.5M1345.3 2218.6V2271.5M1347.2 2218.6V2271.5M1348.5 2218.6V2271.5M1349.1 2218.6V2271.5M1349.6 2218.6V2271.5M1350.3 2218.6V2271.5M1350.8 2218.6V2271.5M1351.9 2218.6V2271.5M1352.1 2218.6V2271.5M1354 2218.6V2271.5M1354.6 2218.6V2271.5M1354.8 2218.6V2271.5M1355.3 2218.6V2271.5M1356 2218.6V2271.5M1356.8 2218.6V2271.5M1359 2218.6V2271.5M1359.2 2218.6V2271.5M1359.5 2218.6V2271.5M1360.1 2218.6V2271.5M1360.3 2218.6V2271.5M1362.4 2218.6V2271.5M1362.5 2218.6V2271.5M1362.6 2218.6V2271.5M1363.8 2218.6V2271.5M1365.7 2218.6V2271.5M1368.3 2218.6V2271.5M1369.5 2218.6V2271.5M1370 2218.6V2271.5M1373.2 2218.6V2271.5M1375.1 2218.6V2271.5M1376.1 2218.6V2271.5" stroke="#fff" stroke-width="0.7" opacity="0.7" fill="none"/>
<path d="M1159.1 2165.6V2218.6M1163 2165.6V2218.6M1164.8 2165.6V2218.6M1164.9 2165.6V2218.6M1165.1 2165.6V2218.6M1165.5 2165.6V2218.6M1165.6 2165.6V2218.6M1166.5 2165.6V2218.6M1166.6 2165.6V2218.6M1168 2165.6V2218.6M1168.6 2165.6V2218.6M1169.2 2165.6V2218.6M1169.6 2165.6V2218.6M1171.4 2165.6V2218.6M1171.9 2165.6V2218.6M1173.4 2165.6V2218.6M1175.1 2165.6V2218.6M1175.9 2165.6V2218.6M1178.6 2165.6V2218.6M1179 2165.6V2218.6M1179.3 2165.6V2218.6M1180.5 2165.6V2218.6M1181 2165.6V2218.6M1181.3 2165.6V2218.6M1182 2165.6V2218.6M1182.4 2165.6V2218.6M1182.5 2165.6V2218.6M1183.7 2165.6V2218.6M1184.2 2165.6V2218.6M1186.5 2165.6V2218.6M1187 2165.6V2218.6M1188.8 2165.6V2218.6M1189.1 2165.6V2218.6M1189.2 2165.6V2218.6M1189.7 2165.6V2218.6M1190.7 2165.6V2218.6M1191.8 2165.6V2218.6M1192.5 2165.6V2218.6M1192.6 2165.6V2218.6M1192.9 2165.6V2218.6M1192.9 2165.6V2218.6M1193.2 2165.6V2218.6M1195.1 2165.6V2218.6M1195.4 2165.6V2218.6M1196.2 2165.6V2218.6M1196.9 2165.6V2218.6M1197 2165.6V2218.6M1197.7 2165.6V2218.6M1197.8 2165.6V2218.6M1197.9 2165.6V2218.6M1198.5 2165.6V2218.6M1198.6 2165.6V2218.6M1201.3 2165.6V2218.6M1202.9 2165.6V2218.6M1208.4 2165.6V2218.6M1208.6 2165.6V2218.6M1218.8 2165.6V2218.6M1219.5 2165.6V2218.6M1220.3 2165.6V2218.6M1223.5 2165.6V2218.6M1223.8 2165.6V2218.6M1226 2165.6V2218.6M1226.8 2165.6V2218.6M1227.3 2165.6V2218.6M1227.4 2165.6V2218.6M1227.6 2165.6V2218.6M1228 2165.6V2218.6M1228.3 2165.6V2218.6M1228.7 2165.6V2218.6M1229.9 2165.6V2218.6M1230.2 2165.6V2218.6M1231 2165.6V2218.6M1231 2165.6V2218.6M1231.1 2165.6V2218.6M1232.1 2165.6V2218.6M1233.7 2165.6V2218.6M1234 2165.6V2218.6M1234 2165.6V2218.6M1234.2 2165.6V2218.6M1234.6 2165.6V2218.6M1234.9 2165.6V2218.6M1235.5 2165.6V2218.6M1235.8 2165.6V2218.6M1236.6 2165.6V2218.6M1239.8 2165.6V2218.6M1242.2 2165.6V2218.6M1243.8 2165.6V2218.6M1244.3 2165.6V2218.6M1247.5 2165.6V2218.6M1248.1 2165.6V2218.6M1251.5 2165.6V2218.6M1252.6 2165.6V2218.6M1254.3 2165.6V2218.6M1255.5 2165.6V2218.6M1257.4 2165.6V2218.6M1258.1 2165.6V2218.6M1259.6 2165.6V2218.6M1262 2165.6V2218.6M1262.8 2165.6V2218.6M1264.4 2165.6V2218.6M1265.4 2165.6V2218.6M1266.5 2165.6V2218.6M1267.4 2165.6V2218.6M1268.8 2165.6V2218.6M1270.9 2165.6V2218.6M1271.3 2165.6V2218.6M1271.6 2165.6V2218.6M1274.6 2165.6V2218.6M1274.7 2165.6V2218.6M1277.5 2165.6V2218.6M1280 2165.6V2218.6M1280.4 2165.6V2218.6M1282.2 2165.6V2218.6M1282.7 2165.6V2218.6M1286.5 2165.6V2218.6M1286.8 2165.6V2218.6M1287.1 2165.6V2218.6M1287.1 2165.6V2218.6M1289.3 2165.6V2218.6M1289.8 2165.6V2218.6M1290.4 2165.6V2218.6M1297 2165.6V2218.6M1299.4 2165.6V2218.6M1301.7 2165.6V2218.6M1305.5 2165.6V2218.6M1305.6 2165.6V2218.6M1310 2165.6V2218.6M1311 2165.6V2218.6M1316.1 2165.6V2218.6M1317.5 2165.6V2218.6M1323.8 2165.6V2218.6M1323.8 2165.6V2218.6M1334.2 2165.6V2218.6M1334.4 2165.6V2218.6M1336.3 2165.6V2218.6M1338 2165.6V2218.6M1349.3 2165.6V2218.6M1352.6 2165.6V2218.6M1365.1 2165.6V2218.6M1365.6 2165.6V2218.6M1366.1 2165.6V2218.6M1370.2 2165.6V2218.6" stroke="#eb9a3c" stroke-width="0.9" opacity="0.6" fill="none"/>
<rect x="1113.7" y="2112.6" width="262.7" height="211.9" fill="none" stroke="#333" stroke-width="0.9"/>
<path d="M1113.7 2324.5v3.4M1166.2 2324.5v3.4M1218.8 2324.5v3.4M1271.3 2324.5v3.4M1323.9 2324.5v3.4M1376.4 2324.5v3.4M1140 2324.5v1.8M1192.5 2324.5v1.8M1245.1 2324.5v1.8M1297.6 2324.5v1.8M1350.1 2324.5v1.8M1113.7 2324.5h-3.4M1113.7 2218.6h-3.4M1113.7 2112.6h-3.4M1113.7 2271.5h-1.8M1113.7 2165.6h-1.8" stroke="#333" stroke-width="0.9" fill="none"/>
<text x="1113.7" y="2342" font-size="12.6" font-family="Liberation Serif, serif" text-anchor="middle" fill="#111">0</text>
<text x="1166.2" y="2342" font-size="12.6" font-family="Liberation Serif, serif" text-anchor="middle" fill="#111">20</text>
<text x="1218.8" y="2342" font-size="12.6" font-family="Liberation Serif, serif" text-anchor="middle" fill="#111">40</text>
<text x="1271.3" y="2342" font-size="12.6" font-family="Liberation Serif, serif" text-anchor="middle" fill="#111">60</text>
<text x="1323.9" y="2342" font-size="12.6" font-family="Liberation Serif, serif" text-anchor="middle" fill="#111">80</text>
<text x="1376.4" y="2342" font-size="12.6" font-family="Liberation Serif, serif" text-anchor="middle" fill="#111">100</text>
<text x="1107.2" y="2328.7" font-size="12.6" font-family="Liberation Serif, serif" text-anchor="end" fill="#111">0</text>
<text x="1107.2" y="2222.8" font-size="12.6" font-family="Liberation Serif, serif" text-anchor="end" fill="#111">2</text>
<text x="1107.2" y="2116.8" font-size="12.6" font-family="Liberation Serif, serif" text-anchor="end" fill="#111">4</text>
<text x="1253.2" y="2089.5" font-size="19.8" font-family="Liberation Serif, serif" text-anchor="middle" fill="#111">SCN5A-Oridonin</text>
<text x="1245.7" y="2368" font-size="17.6" font-family="Liberation Serif, serif" text-anchor="middle" fill="#111">Time(ns)</text>
<text transform="translate(1093.4,2217.4) rotate(-90)" font-size="17.6" font-family="Liberation Serif, serif" text-anchor="middle" fill="#111">Number of Hydrogen Bonds</text>
<path d="M1185.9 2112.6V2165.6M1187.8 2112.6V2165.6M1196.5 2112.6V2165.6M1283.1 2112.6V2165.6M1371.1 2112.6V2165.6" stroke="#eda050" stroke-width="0.8" opacity="0.75" fill="none"/>
<defs>
<radialGradient id="sg" cx="0.5" cy="0.32" r="0.72" fx="0.5" fy="0.12"><stop offset="0" stop-color="#ffffff"/><stop offset="0.4" stop-color="#ececec"/><stop offset="0.72" stop-color="#d4d4d4"/><stop offset="0.92" stop-color="#b2b2b2"/><stop offset="1" stop-color="#909090"/></radialGradient>
<radialGradient id="hl" cx="0.5" cy="0.25" r="0.6"><stop offset="0" stop-color="#fff" stop-opacity="0.85"/><stop offset="0.7" stop-color="#fff" stop-opacity="0.15"/><stop offset="1" stop-color="#000" stop-opacity="0.25"/></radialGradient>
<filter id="nsh" x="-30%" y="-30%" width="160%" height="170%"><feGaussianBlur stdDeviation="1.1"/></filter>
<g id="nd"><ellipse cx="0.8" cy="2.4" rx="10.9" ry="9.9" fill="#444" opacity="0.5" filter="url(#nsh)"/><circle r="10.8" fill="url(#sg)" stroke="#6a6a6a" stroke-width="0.7" stroke-opacity="0.75"/><ellipse cy="6.6" rx="6.2" ry="2.6" fill="#fff" opacity="0.55"/></g>
<g id="nd3"><ellipse cx="0.8" cy="2.4" rx="11.8" ry="9.6" fill="#444" opacity="0.5" filter="url(#nsh)"/><ellipse rx="11.7" ry="10.3" fill="url(#sg)" stroke="#6a6a6a" stroke-width="0.7" stroke-opacity="0.75"/><ellipse cy="6.3" rx="6.6" ry="2.5" fill="#fff" opacity="0.55"/></g>
<g id="nh"><ellipse cx="0.8" cy="2.4" rx="10.9" ry="9.9" fill="#444" opacity="0.5" filter="url(#nsh)"/></g>
<g id="q0" fill="none" stroke-width="0.75" stroke-linejoin="round" opacity="0.8"><path d="M-2 -1.8L-3.4 1.6L-5.1 4.7L-1.9 5.7L-0 2.5L3 0.2L6.2 2.4L4.8 4.4L3.7 5.9L2.2 5.9L-1.3 5.4L-1 5.9L1.8 4.2" stroke="#7fc27f"/><path d="M3.3 -2.2L1.6 -0.5L0.4 1.2L3.9 3.4L4.1 5.9L5.4 5.9L6.3 5.4L6.2 3.2L2.7 2.8L-1.4 3.9L-3.5 3.2L-5.4 1L-6.3 3" stroke="#7fc27f"/><path d="M-0.4 0.8L1.1 -0.8L2.4 1.9L4.9 -0.8L6.3 -0.4L6.3 -4.5L4 -4.7L1.1 -1.5L-0.3 2.4L-2.7 1.2L-5 0.2L-6.3 2.5L-6.3 5.8L-6.3 5.9L-6.3 5.3L-6.3 5.9" stroke="#6a6fe0"/><path d="M2.4 0.8L3.4 2.5L6.3 4.3L6.1 5.9L3.6 5.8L2.5 3.9L3.2 1.3L6.3 0.9L6.3 3L6.3 5.1L4.5 5.9L3.1 4.3L-0.4 4.4L-2.5 5.9L0.6 5.9L3.1 5.9" stroke="#8f88d8"/></g>
<g id="q1" fill="none" stroke-width="0.75" stroke-linejoin="round" opacity="0.8"><path d="M0.8 3.7L1.6 0.8L0.6 -3.1L-2.2 -5.2L-2.5 -5.4L-6 -5.4L-6.3 -2.1L-6.3 0L-6.3 -2.1L-3.9 -3.5L-2.7 -5.4L-1.4 -5.4" stroke="#8f88d8"/><path d="M2.3 3.3L0.1 5.9L-0.7 5.9L-3.4 5.9L-6 3.8L-6.3 4.8L-4.9 1.2L-6.3 1.1L-5.5 3.6L-6.3 2.9L-6.3 -0.1L-6.3 0.4" stroke="#5aa0e0"/><path d="M-2.5 0.3L-1 2L2.2 4.3L2.3 5.9L0.1 5.1L-1.8 5.9L-5.6 5.9L-6.3 5.9L-6.3 3.3L-2.5 1.7L-0.5 0.6L-2.3 -1.1L-4 -2.2L-6.3 -1.7L-6.3 1.1L-6.3 2.9" stroke="#8f88d8"/></g>
<g id="q2" fill="none" stroke-width="0.75" stroke-linejoin="round" opacity="0.8"><path d="M-2.5 1.1L-0.9 2.3L1.6 2.1L2.8 4.1L5.4 5.9L6.3 5.9L6.3 3.7L4.5 1.5L3.5 -0.7L2.9 -4.2L4.7 -5.4L1.3 -5.4L-0.1 -5.4L-2.1 -4.7" stroke="#d06a6a"/><path d="M-2.5 2.9L-1.5 -0.3L1.9 -0.7L3.3 -2.2L3.4 -5.4L1.2 -5.4L0.8 -2.3L-2.2 -4.4L-2.3 -1.5L-3.9 -0L-6 -1.3L-6.3 -2.5L-5.5 -4.4L-1.5 -3.6L-2 0.1L-0.8 2.5" stroke="#9a7fd8"/></g>
<g id="q3" fill="none" stroke-width="0.75" stroke-linejoin="round" opacity="0.8"><path d="M3.4 -1.8L2.2 -4.2L1.7 -5.4L0.8 -5.4L-1 -3.9L-4.9 -4.4L-6.3 -5.4L-3.5 -5.4L-2.7 -5.4L-6 -5.4L-6.3 -5.4L-3.8 -5.4L-0.3 -4L1.2 -5.4" stroke="#8f88d8"/><path d="M-1.8 2.8L0.1 2.2L-0.4 5.9L3.8 5.9L5.5 5.9L3.9 5.9L1.7 5.2L3 3.6L3.8 -0.6L3.8 -2.9" stroke="#7fc27f"/></g>
<g id="q4" fill="none" stroke-width="0.75" stroke-linejoin="round" opacity="0.8"><path d="M3.2 -2.1L4.8 -0.3L5.8 2L3.1 3.2L3.7 5.9L6.3 5.2L6.3 1.4L3.7 -1L3.6 -4.2L6.3 -4.1L6.3 -5.4L6.3 -5.4" stroke="#8f88d8"/><path d="M-1.9 2.3L0.4 1.6L1.5 3.3L2.6 1.6L1.1 0.1L-1.5 0.5L-1.1 -2L0.1 -4.3L2.3 -4.6L3.9 -5.4L3.8 -5.4L2.6 -5.4L0.9 -3.6L-2.9 -2.4" stroke="#9a7fd8"/><path d="M-1.4 -0.3L-4.2 2.2L-2 3L0.1 0.3L2.2 0.8L1.3 -1.3L-0.9 -4.1L1.9 -4.5L5.4 -5.4L6.3 -2.8L6.3 -4.1L6.3 -1.9L6.3 -2.5" stroke="#6a6fe0"/></g>
<g id="q5" fill="none" stroke-width="0.75" stroke-linejoin="round" opacity="0.8"><path d="M-1.7 -0.7L-2.4 -3.1L-0.9 -5.4L1.1 -5.4L3 -4.2L3 -5.4L6.3 -4L6.3 -3.5L6.3 -0.5L6.3 -0.2L4.8 3.5L2.5 1.8" stroke="#d06a6a"/><path d="M-1.7 2.1L-5 2.6L-6.3 1.2L-6.3 3.2L-6.3 5.9L-6.3 5.9L-4.1 5.9L-2 4.7L0.2 4.8L-2.3 5.9L-4 4.3" stroke="#9a7fd8"/><path d="M1.6 -2L1.9 1.7L3 3.5L6.2 3.4L6.3 -0.4L4 -1.7L2.5 1.7L0 0.9L-4 1.6L-6.3 1L-3.4 -1.4" stroke="#c8c060"/></g>
<g id="q6" fill="none" stroke-width="0.75" stroke-linejoin="round" opacity="0.8"><path d="M-1.9 -1.5L0.1 -0.1L3.1 2.3L5.5 1L6.3 -0.1L6.3 -1.6L2.7 -2.4L1.6 -5.4L-0.8 -3.8L-2.2 -2L1.8 -1.8L1.3 -4.3L-0.9 -4.3L-2.3 -2L-5.6 -3.3L-6.3 -0.5" stroke="#6a6fe0"/><path d="M-2.1 -0.1L0.8 -0.7L-0 2.3L-1.8 4L0.9 5.9L0.8 5.9L-1 5.9L0.8 5.9L1.9 5.9L3 5.9L5.2 5.9L6.3 5.9" stroke="#6a6fe0"/><path d="M0.7 -1.7L2.8 -2.1L4.8 -5L3.9 -5.4L3.6 -5.4L5.6 -5.4L6.3 -5.4L6.3 -2.4L5.1 -0.8L2.3 0.5L-0.1 2.6L-1.1 5.8" stroke="#6a6fe0"/></g>
<g id="q7" fill="none" stroke-width="0.75" stroke-linejoin="round" opacity="0.8"><path d="M3.6 -0.4L0.9 -2.7L3.3 -4.3L3.7 -5.4L0.1 -5.4L-2.6 -2.3L-3.3 -0.1L-6.3 2L-3.9 5.6L-4.4 5.9L-6.3 4.3L-6.3 2.9" stroke="#9a7fd8"/><path d="M-1.8 0.1L-5.6 0.8L-6.3 3.9L-4.6 5.9L-3.4 5.9L-6.3 5.9L-3.2 5.9L-2.3 3.3L0.7 5.9L-1.8 5.9L-5.3 3.6L-6.3 5.9L-6.3 5.9" stroke="#9a7fd8"/><path d="M2 0.5L2.7 -1.8L0.2 -1.5L1.4 -4.2L5.1 -2L2.7 0.3L3.1 3.6L-0.2 5.4L1.6 5.9L1.8 3.4L0.8 0.8L3.5 -1.9L3 -4.6" stroke="#7fc27f"/><path d="M0.6 -0.3L4.1 0.3L2.6 2.4L0.7 4.9L4.1 5.9L4.7 5.9L3.9 5.9L2.2 5.9L4.7 5.9L5.1 2.4L6.3 4.5" stroke="#6a6fe0"/></g>
<g id="q8" fill="none" stroke-width="0.75" stroke-linejoin="round" opacity="0.8"><path d="M-1.3 -0.4L1 0.6L0.9 2.6L0.1 5.5L-2.9 5.9L-4.6 5.9L-4 5.9L-4.9 5.9L-6.3 5.9L-6.3 5.2L-6.3 4.3L-6.3 4.9L-6.3 5.9L-6.3 2.3" stroke="#7fc27f"/><path d="M2 2.4L5.3 -0.2L6.3 1L6.3 -0.7L4.3 -1.3L2.4 -3.5L3.2 -5.4L2.4 -5.4L-0.8 -4.6L-3.9 -5.4" stroke="#7fc27f"/><path d="M1.8 -1.6L-0.5 -3.7L-4.4 -4.4L-1.9 -5.4L-0.6 -5.4L1.1 -5.4L0 -5.4L-1 -5.4L-3.3 -1.9L-5.6 -1.4L-6.3 0.1L-6.3 4L-6.3 3L-6.3 5.9L-6.3 4.3" stroke="#8f88d8"/></g>
<g id="q9" fill="none" stroke-width="0.75" stroke-linejoin="round" opacity="0.8"><path d="M-2.4 3.5L-1.9 1L-3.9 -2.8L-0.2 -3L-1.4 -5.1L-1.5 -5.4L-1.5 -5.4L-2 -5.4L0.7 -5.4L0.9 -2.9" stroke="#5aa0e0"/><path d="M0.6 -2.4L-2 0.6L-4.6 -0.7L-3.9 -4.4L-1.2 -4.1L0.4 -1.5L-0.1 2.3L-0.2 5.4L0 5.9L-1 5.9" stroke="#6a6fe0"/></g>
<g id="q10" fill="none" stroke-width="0.75" stroke-linejoin="round" opacity="0.8"><path d="M3.2 -2.7L1 -4.3L-1.6 -4.1L-4 -1.3L-5.9 -5L-6.3 -5.4L-6.3 -4L-6.3 -5.4L-6.3 -3.8L-6.3 -5.4L-6.3 -3L-5.7 -0.6L-1.9 0.3" stroke="#d06a6a"/><path d="M-0.8 2.8L-3.4 3.5L-3.3 5.9L-5.3 5.9L-6.3 3L-4.4 2.2L-5.9 0.8L-2.9 0.2L-4.3 -2.1L-6.3 -3L-6.3 -1.8L-6.3 1.1L-2.9 0.7L-2.1 2.9" stroke="#c8c060"/></g>
<g id="q11" fill="none" stroke-width="0.75" stroke-linejoin="round" opacity="0.8"><path d="M-2.7 1.3L-3.5 -2.4L-6.3 -2.8L-6.3 -3.2L-3.9 -5.4L-2.9 -5.4L0.2 -5.4L2.8 -2.3L-0.9 -1.6L-1.2 1.7L-3.3 2.8L-3.1 0.2" stroke="#6a6fe0"/><path d="M-3.1 -2.6L-3.4 -4.7L-6.3 -3.2L-6.3 -5.4L-2.7 -5.4L-3.2 -5.4L-5.1 -4L-4 -1.2L-6.3 -1L-6.3 -3.4L-6.3 -3.2L-6.3 -0.8L-6.3 1.8L-6.3 3.7L-3.5 5.9L-1.3 5.9" stroke="#8f88d8"/><path d="M-2.9 2.2L-3.2 4.5L-2.8 5.9L-6.3 5.8L-5.7 5.9L-6.3 5.9L-6.3 5.9L-6.3 5.9L-6.3 5.6L-4.5 3" stroke="#5aa0e0"/></g>
<g id="q12" fill="none" stroke-width="0.75" stroke-linejoin="round" opacity="0.8"><path d="M3.3 2.2L2.4 -1.5L2.9 -3.7L-1 -4.5L-2.6 -5.4L-6.3 -4.1L-4.9 -1L-6.3 0.9L-3.5 1.4L-1 4.7L-0.6 5.9L2.5 5.9L3.6 4L0.4 1.9" stroke="#6a6fe0"/><path d="M3.5 -0.5L5.9 -0.9L6.3 -3.1L6.3 -5.1L6.3 -4.3L6.3 -5.4L2.9 -5.4L4.8 -5.4L6.3 -5.4L6.3 -5.4L6.3 -3.4L2.6 -4.3" stroke="#6a6fe0"/><path d="M-3.1 -0.2L-3.7 3.1L-1.1 4.1L-0.3 2.3L1.1 -0.5L3.5 -2.2L6.3 -1.8L6.3 -3L6.3 -3.8L4.6 -5.1L2.9 -5.4L0.4 -5.4L-0.5 -2L-2.3 -0.6" stroke="#9a7fd8"/></g>
<g id="q13" fill="none" stroke-width="0.75" stroke-linejoin="round" opacity="0.8"><path d="M3 -1.3L-0.1 -1.7L0.7 0.7L-1.9 2.1L-1.9 5.9L0.4 5L-1.3 2.7L-3 -0.4L-5.9 1.1L-6.3 -2.6L-6.3 -1.5L-6.3 1.6L-3.7 3.4L-2.7 0.7L-1.5 -2.1" stroke="#7fc27f"/><path d="M-1.3 0.1L0.4 -2L-1.2 -3.6L-3.9 -2.5L-6.3 -0.7L-6.3 -1.7L-6.3 -3.3L-6.3 -5.4L-6.3 -2L-6.3 0L-4.2 0.8L-1.7 3.1L0.2 4.5L1.3 1.5L1 -0.7L-1.8 -1.4" stroke="#9a7fd8"/><path d="M0.6 1L-0.9 -2.4L-3 -4.4L-1.1 -5.4L-3.8 -5.3L-5.5 -3.4L-3.1 -1.5L-0 0L3.8 -0L5.9 3.6L6.3 0.3L6.3 3L6.3 5.9L6.3 5.9L6.3 5.9L6.3 5.9" stroke="#d06a6a"/></g>
<g id="q14" fill="none" stroke-width="0.75" stroke-linejoin="round" opacity="0.8"><path d="M-0.9 -2.5L2.3 -1.6L5.1 0.1L6.3 0.4L5.8 3.5L6.3 4L6.3 5.9L6.3 5.9L3.1 4.7L2.6 1.3L-1.1 1.9L-0.9 4.3L3.1 5.4L4.2 5.9L5.9 4L6.3 1.9" stroke="#c8c060"/><path d="M-1.4 0.6L1.2 3.9L-1 5.9L0.9 5.9L2.8 5.9L4.1 5.9L5.6 3.1L6.3 3.8L6.3 2.4L6.3 0.4L6.3 0.5L6.3 3.3L6.3 2" stroke="#6a6fe0"/><path d="M-3.5 1.8L-2.8 4.2L-4.4 5.9L-2.4 5.9L-2.1 1.9L-1.7 -0.7L-5.7 -0.5L-6.3 3L-6.3 2.7L-6.1 5.9" stroke="#9a7fd8"/></g>
<g id="q15" fill="none" stroke-width="0.75" stroke-linejoin="round" opacity="0.8"><path d="M2.9 3.7L2.7 5.9L4.9 5.9L6 5.9L2.9 5.9L4.2 5.9L4.8 5.9L6.3 5.9L6.3 5.9L6.3 5.9L5.9 5.9L5.6 5.9L2.6 5.9L3.1 5.9L5.6 4.4L6.3 5.9" stroke="#8f88d8"/><path d="M0.6 -2.2L3.2 -0.2L4.4 1.9L6.3 1.4L6.2 -0.7L2.7 1.1L1.4 5.1L1.1 5.9L3.4 5.9L6.3 5.8L6.3 5.9L6.3 3L6.2 0.9L6.3 -0.2L6.3 0.3" stroke="#9a7fd8"/><path d="M0.3 3.6L-2.7 5.6L-2.4 5.9L-2.9 5.9L-2.4 5.9L0 5.9L3.1 5.4L2.4 5.9L1.3 5.9L-1.7 5.9L-3.6 5.9L-5.4 3.6L-5.2 1.1L-4.8 -1.6L-6.3 -3.4L-6.3 -2.3" stroke="#8f88d8"/></g>
<g id="q16" fill="none" stroke-width="0.75" stroke-linejoin="round" opacity="0.8"><path d="M-2.3 0.2L-0.4 -1L-1.3 -3L-2.9 -5.4L-4.8 -2.7L-6.3 -0.7L-6.3 -0.4L-4.8 2.3L-2.1 2L0.6 4.4L4.5 4.2L4.2 2" stroke="#8f88d8"/><path d="M1.2 -2.7L-2.2 -4.8L-5.1 -5.4L-6.3 -5.2L-6.3 -5.4L-6.3 -3.6L-4.5 -2L-1.9 -1.6L-3.4 2.1L-5.5 3.8L-6.3 5.9" stroke="#7fc27f"/></g>
<g id="q17" fill="none" stroke-width="0.75" stroke-linejoin="round" opacity="0.8"><path d="M-1.2 -2.7L1.8 -5.3L3.5 -3.8L1.7 -1.4L1.8 1.5L2.1 4.3L3.3 5.9L1 5.9L-1.2 5.9L-0.1 5.9L3.7 4.9L5.2 1.3L5.6 -1.5L1.9 0.2" stroke="#8f88d8"/><path d="M0.6 -2.4L2.7 -4L3.2 -5.4L3.9 -5.4L6.3 -5.3L6.3 -5.4L3.2 -5.3L3.3 -5.4L0.5 -4.7L2.7 -2.2" stroke="#6a6fe0"/></g>
</defs>
<path d="M31 417L204 387M80 139L137 345M124 441L178 291M33 443L110 336M23 269L104 273M346 383L110 336M82 167L118 385M97 442L93 294M325 441L165 338M64 444L31 417M80 139L180 315M233 387L165 338M23 269L180 315M208 443L206 413M204 387L104 273M208 443L84 194M27 360L93 294M318 385L165 338M149 414L351 437M149 414L146 387M57 243L178 291M204 387L137 345M57 269L137 345M84 253L57 269M31 417L291 385M90 414L346 383M234 414L178 291M293 442L180 315M293 442L346 383M15 82L104 273M204 387L97 316M97 442L97 316M18 188L137 345M321 412L110 336M28 386L291 385M77 81L47 82M149 414L104 273M234 444L162 268M20 216L180 315M97 442L110 336M132 263L137 305M97 316L137 305M23 269L178 291M64 444L137 345M263 387L77 81M54 163L162 268M146 387L104 273M18 188L263 387M234 414L97 316M208 443L104 273M84 253L97 316M15 82L132 263M69 362L132 263M59 303L180 315M182 444L93 294M124 441L162 268M49 105L233 387M321 412L104 273M132 263L165 338M204 387L50 192M177 415L104 273M50 192L93 294M62 333L137 305M180 315L137 305M264 415L27 360M264 442L204 387M69 362L162 268M49 105L18 188M149 414L31 417M208 443L93 294M77 81L177 415M90 414L132 263M62 333L97 316M293 442L54 163M291 412L93 294M351 437L47 82M23 243L104 273M80 112L178 291M18 161L180 315M90 414L176 386M17 136L82 167M88 385L206 413M23 269L162 268M31 417L84 221M176 386L180 315M206 413L59 303M33 443L118 385M176 386L15 82M176 386L104 273M62 333L293 442M350 410L84 253M54 163L182 444M351 437L180 315M59 415L33 443M177 415L204 387M234 414L80 112M208 443L137 305M57 243L137 305M291 412L178 291M88 385L50 192M80 112L132 263M182 444L178 291M28 386L180 315M325 441L137 345M204 387L31 417M321 412L62 333M84 221L293 442M47 82L165 338M204 387L137 305M27 330L208 443M23 269L137 345M77 81L90 414M264 442L178 291M90 414L20 216M50 192L178 291M15 108L82 167M146 387L31 417M162 268L93 294M263 387L234 444M149 414L263 387M69 362L59 303M54 219L97 316M264 442L97 442M208 443L162 268M64 444L27 330M17 136L114 209M350 410L178 291M49 105L264 415M114 171L54 163M54 163L137 345M149 414L234 444M59 415L325 441M97 442L264 415M114 209L137 345M264 415L88 385M64 444L318 385M110 238L20 216M88 385L97 316M264 442L137 305M154 442L104 273M293 442L27 298M59 303L137 345M82 167L264 442M346 383L325 441M15 82L110 238M351 437L50 192M110 238L84 221M149 414L264 442M321 412L80 139M149 414L97 316M325 441L104 273M54 219L137 305M57 269L165 338M114 171L263 387M49 105L137 305M291 412L57 269M124 441L104 273M62 333L165 338M119 412L291 385M350 410L54 219M102 365L93 294M178 291L104 273M350 410L180 315M321 412L137 305M64 444L137 305M54 219L110 336M20 216L93 294M149 414L178 291M69 362L137 345M27 298L180 315M351 437L234 444M80 139L84 221M119 412L137 305M110 238L234 414M47 82L62 333M23 243L165 338M88 385L80 139M291 385L49 105M62 333L178 291M234 444L178 291M15 108L234 414M114 209L84 221M80 112L97 316M208 443L180 315M97 442L180 315M23 269L124 441M146 387L178 291M64 444L93 294M264 415L93 294M162 268L110 336M291 412L154 442M59 415L62 333M124 441L54 219M321 412L291 385M149 414L23 243M27 298L165 338M28 386L178 291M264 415L263 387M57 269L137 305M233 387L137 305M59 387L162 268M146 387L62 333M114 209L50 192M137 345L104 273M23 243L137 305M27 298L351 437M84 221L264 442M15 108L110 336M57 269L47 82M318 385L18 188M69 362L350 410M88 385L132 263M54 219L57 269M27 298L84 253M318 385L77 81M177 415L93 294M234 444L93 294M59 415L110 336M264 415L137 305M146 387L110 336M84 194L114 171M264 415L33 443M80 139L204 387M293 442L23 243M124 441L165 338M234 414L180 315M321 412L97 442M50 192L208 443M17 136L93 294M80 139L132 263M59 387L137 305M291 385L137 345M233 387L88 385M59 415L178 291M124 441L110 336M64 444L165 338M27 298L93 294M57 269L180 315M178 291L137 345M234 444L110 336M27 298L137 305M346 383L97 316M291 385L178 291M149 414L264 442M177 415L132 263M64 444L177 415M293 442L110 336M119 412L162 268M119 412L180 315M234 414L97 442M84 253L114 171M27 360L180 315M31 417L110 336M351 437L119 412M88 385L165 338M351 437L162 268M264 415L178 291M23 269L93 294M206 413L165 338M263 387L119 412M47 82L104 273M154 442L180 315M77 81L114 209M177 415L149 414M264 442L93 294M132 263L180 315M204 387L80 139M90 414L162 268M57 269L119 412M69 362L93 294M97 442L165 338M31 417L64 444M90 414L104 273M182 444L88 385M351 437L27 298M69 362L97 316M182 444L97 316M321 412L124 441M54 219L137 345M176 386L124 441M54 163L137 305M59 415L137 345M62 333L137 345M118 385L54 163M28 386L234 414M293 442L149 414M50 192L137 345M234 414L234 444M57 269L97 316M206 413L17 136M233 387L178 291M18 161L162 268M119 412L132 263M59 303L17 136M62 333L180 315M291 385L59 415M64 444L132 263M114 171L132 263M264 415L180 315M28 386L132 263M50 134L137 345M97 442L234 444M33 443L93 294M33 443L57 243M114 171L93 294M69 362L110 336M57 243L104 273M206 413L27 330M350 410L132 263M59 387L146 387M132 263L97 316M351 437L291 412M291 412L77 81M233 387L132 263M27 298L97 316M264 415L104 273M15 82L180 315M59 387L59 415M31 417L180 315M50 134L97 316M234 444L88 385M293 442L137 345M149 414L264 415M59 387L291 412M118 385L132 263M234 414L18 188M84 221L165 338M47 82L27 298M64 444L27 298M180 315L137 345M293 442L28 386M162 268L178 291M15 108L137 345M47 82L27 360M208 443L90 414M50 192L162 268M84 194L177 415M102 365L178 291M176 386L234 444M84 194L180 315M80 139L59 415M206 413L234 444M165 338L104 273M88 385L180 315M54 219L132 263M234 414L154 442M318 385L110 336M31 417L318 385M17 136L59 303M102 365L119 412M28 386L110 336M59 303L28 386M18 188L97 316M64 444L180 315M15 82L165 338M124 441L18 161M110 336L104 273M154 442L132 263M346 383L102 365M204 387L132 263M18 188L350 410M47 82L69 362M102 365L233 387M28 386L93 294M325 441L93 294M64 444L59 415M54 163L110 336M49 105L180 315M59 303L114 171M50 134L27 330M17 136L137 345M346 383L264 442M146 387L137 345M291 385L18 161M17 136L110 336M291 385L97 316M57 269L234 414M88 385L64 444M162 268L137 345M57 243L82 167M49 105L137 345M57 243L137 345M20 216L176 386M325 441L50 134M263 387L178 291M62 333L132 263M102 365L33 443M97 442L132 263M177 415L350 410M325 441L110 238M54 163L93 294M102 365L162 268M351 437L132 263M118 385L104 273M28 386L97 316M84 194L137 345M233 387L154 442M321 412L119 412M154 442L97 316M180 315L110 336M69 362L137 305M20 216L110 336M102 365L165 338M82 167L178 291M264 415L165 338M57 243L110 336M18 161L132 263M27 360L20 216M177 415L137 305M80 112L93 294M59 387L15 108M350 410L137 345M162 268L137 305" stroke="#262f5c" stroke-width="1.1" opacity="0.62" fill="none"/>
<path d="M321 412L119 412M57 269L132 263M59 415L28 386M27 330L178 291M118 385L80 112M291 412L180 315M149 414L234 444M234 444L118 385M346 383L23 243M119 412L97 442M234 414L97 442M119 412L104 273M57 243L263 387M57 243L102 365M346 383L162 268M80 112L137 345M154 442L27 330M318 385L137 345M31 417L50 192M154 442L33 443M318 385L93 294M27 298L132 263M23 243L178 291M57 243L132 263M110 238L97 316M50 134L132 263M23 243L110 336M264 415L162 268M84 194L104 273M350 410L118 385M57 269L18 188M234 414L59 387M119 412L97 316M84 194L137 305M149 414L137 345M28 386L204 387M50 192L110 336M57 269L47 82M177 415L180 315M146 387L59 415M93 294L104 273M59 303L57 269M97 442L137 305M177 415L234 444M176 386L132 263M88 385L104 273M18 188L137 305M263 387L80 139M59 415L204 387M264 415L49 105M176 386L59 387M18 161L82 167M102 365L291 385M264 415L97 442M119 412L33 443M351 437L93 294M23 269L146 387M54 163L180 315M69 362L59 415M182 444L114 209M69 362L104 273M346 383L119 412M80 139L15 82M264 442L137 345M321 412L162 268M234 414L137 305M234 414L208 443M204 387L93 294M325 441L97 316M27 298L50 134M64 444L27 298M325 441L64 444M50 192L69 362M350 410L208 443M84 221L137 305M33 443L264 415M15 108L57 243M346 383L351 437M351 437L104 273M263 387L82 167M351 437L110 336M20 216L182 444M293 442L351 437M47 82L132 263M15 82L162 268M264 415L102 365M28 386L137 345M54 163L97 316M18 188L64 444M291 385L293 442M18 188L104 273M124 441L137 345M118 385L31 417M50 192L165 338M102 365L146 387M84 194L23 243M118 385L84 221M325 441L182 444M90 414L165 338M90 414L180 315M54 163L54 219M208 443L264 415M31 417L137 345M146 387L325 441M80 112L23 269M114 209L178 291M176 386L64 444M350 410L97 442M69 362L165 338M351 437L54 219M49 105L178 291M234 444L97 316M62 333L54 163M177 415L178 291M82 167L110 336M15 108L206 413M23 243L351 437M149 414L293 442M62 333L162 268M234 414L110 336M346 383L178 291M154 442L93 294M47 82L84 221M118 385L97 316M84 194L165 338M27 330L132 263M17 136L291 412M182 444L321 412M234 444L137 305M180 315L97 316M82 167L97 316M325 441L132 263M149 414L90 414M84 221L132 263M49 105L104 273M90 414L346 383M206 413L93 294M64 444L118 385M264 415L137 345M18 188L178 291M18 161L321 412M49 105L97 316M137 345L97 316M33 443L137 305M62 333L263 387M149 414L110 336M233 387L137 345M18 161L137 345M28 386L119 412M93 294L137 305M124 441L93 294M102 365L110 336M102 365L132 263M54 219L18 188M114 171L162 268M50 134L59 303M18 188L93 294M110 238L104 273M263 387L104 273M50 192L84 194M59 415L165 338M20 216L59 387M33 443L31 417M15 108L162 268M350 410L162 268M54 219L180 315M18 188L110 336M124 441L84 194M47 82L318 385M59 303L93 294M233 387L104 273M350 410L146 387M118 385L162 268M204 387L351 437M23 243L137 345M165 338L97 316M47 82L93 294M180 315L165 338M176 386L80 112M233 387L180 315M351 437L84 194M146 387L162 268M291 385L27 298M59 415L180 315M318 385L178 291M28 386L80 139M82 167L93 294M80 139L165 338M149 414L59 387M234 414L165 338M110 238L49 105M27 330L33 443M23 243L97 316M137 345L110 336M154 442L165 338M149 414L15 108M293 442L104 273M118 385L180 315M176 386L110 336M176 386L90 414M50 192L18 161M182 444L233 387M84 253L180 315M84 221L119 412M23 269L97 316M54 219L165 338M291 385L132 263M59 415L154 442M233 387L110 336M291 385L110 336M114 209L104 273M15 82L137 305M208 443L88 385M149 414L233 387M124 441L132 263M177 415L110 336M31 417L23 243M28 386L137 305M15 82L31 417M176 386L15 108M124 441L137 305M350 410L118 385M18 188L84 194M64 444L104 273M27 360L132 263M182 444L162 268M208 443L178 291M132 263L137 345M182 444L137 345M102 365L88 385M346 383L177 415M204 387L234 444M90 414L178 291M234 414L84 221M176 386L137 305M31 417L77 81M59 387L346 383M291 412L346 383M132 263L104 273M234 444L114 209M18 161L110 336M291 412L137 305M162 268L165 338M293 442L93 294M102 365L291 385M20 216L82 167M57 269L162 268M118 385L88 385M162 268L97 316M149 414L165 338M82 167L137 345M84 253L165 338M154 442L137 305M27 298L178 291M176 386L165 338M234 414L84 253M182 444L23 269M18 188L132 263M59 415L64 444M18 161L165 338M64 444L233 387M50 134L180 315M350 410L233 387M17 136L178 291M165 338L137 345M346 383L93 294M154 442L137 345M84 194L178 291M325 441L47 82M50 192L18 188M50 134L165 338M234 414L132 263M80 139L162 268M28 386L69 362M82 167L59 415M118 385L93 294M351 437L234 414M97 442L137 345M264 442L97 316M57 243L180 315M33 443L178 291M64 444L110 336M291 412L110 336M97 442L104 273M59 415L132 263M90 414L137 305M54 163L132 263M59 303L137 305M31 417L137 305M33 443L162 268M17 136L137 305M346 383L180 315M27 330L110 336M110 238L137 305M33 443L132 263M206 413L104 273M124 441L88 385M49 105L93 294M350 410L93 294M18 188L180 315M82 167L325 441M293 442L178 291M59 387L132 263M146 387L93 294M208 443L318 385M132 263L162 268M137 345L137 305M118 385L137 345M54 219L93 294M118 385L84 194M59 303L165 338M291 412L137 345M118 385L84 194M18 188L114 171M264 415L97 316M69 362L180 315M102 365L15 108M318 385L137 305M47 82L325 441M178 291L110 336M50 192L137 305M176 386L264 442M291 385L208 443M57 243L97 316M15 108L18 188M27 360L110 336M119 412L23 243M90 414L234 414M346 383L137 345M264 442L180 315M206 413L97 316M321 412L97 316M177 415L102 365M27 330L93 294M114 209L59 303M23 243L93 294M59 387L93 294M182 444L118 385M114 209L49 105M17 136L263 387M59 387L104 273M90 414L97 316M325 441L110 336M84 221L18 161M50 192L132 263M23 269L165 338M321 412L165 338M206 413L137 345M23 243L162 268M124 441L180 315M50 192L97 316M84 253L351 437M50 192L62 333M84 253L54 163M263 387L33 443M27 298L137 345M15 82L97 316M180 315L104 273M206 413L110 336M182 444L132 263M321 412L84 194M162 268L104 273M17 136L84 253M264 415L54 219M291 412L97 316M350 410L110 336M264 442L132 263M182 444L18 161M234 414L49 105M204 387L54 163M80 112L162 268M204 387L165 338M124 441L97 316M350 410L264 415M182 444L27 360M18 161L137 305M104 273L137 305M208 443L132 263M118 385L137 305M293 442L162 268M149 414L162 268M350 410L104 273M50 192L176 386M97 442L162 268M351 437L137 345M114 171L178 291M20 216L104 273M27 330L137 345M346 383L350 410M206 413L137 305M351 437L178 291M102 365L137 345M149 414L93 294M31 417L97 316M118 385L110 336M59 387L208 443M114 171L104 273M20 216L162 268M293 442L321 412M206 413L132 263M291 412L124 441M182 444L350 410M154 442L177 415M119 412L178 291M177 415L114 171M50 134L182 444M31 417L165 338M234 444L137 345M293 442L165 338M20 216L28 386M114 171L177 415M234 414L162 268" stroke="#262f5c" stroke-width="1.1" opacity="0.62" fill="none"/>
<path d="M88 385L124 441M97 442L146 387M59 387L180 315M59 415L182 444M23 269L132 263M176 386L97 316M47 82L180 315M318 385L180 315M27 330L162 268M88 385L263 387M88 385L162 268M149 414L132 263M50 192L50 134M318 385L33 443M204 387L180 315M114 209L180 315M118 385L178 291M110 336L93 294M119 412L137 345M177 415L137 345M264 442L114 209M84 221L178 291M50 134L59 303M346 383L132 263M59 303L110 336M154 442L18 188M264 442L165 338M149 414L346 383M47 82L90 414M90 414L318 385M234 444L165 338M291 385L93 294M351 437L137 305M88 385L93 294M176 386L137 345M234 414L137 345M23 243L84 194M80 139L59 303M346 383L137 305M110 238L18 188M263 387L165 338M15 82L137 345M49 105L165 338M178 291L180 315M114 171L180 315M114 171L137 305M132 263L93 294M293 442L176 386M84 221L180 315M291 385L165 338M291 385L180 315M54 219L234 444M84 221L97 316M149 414L180 315M263 387L180 315M346 383L234 444M350 410L97 316M293 442L291 385M178 291L97 316M59 303L104 273M20 216L97 316M234 444L206 413M80 139L104 273M90 414L54 163M20 216L137 305M264 415L132 263M18 161L50 192M263 387L137 305M325 441L137 305M233 387L110 238M57 243L165 338M234 414L104 273M27 330L177 415M206 413L234 414M208 443L97 316M27 298L162 268M321 412L180 315M291 412L104 273M31 417L162 268M54 219L178 291M325 441L263 387M50 192L114 171M15 82L93 294M18 161L93 294M59 415L33 443M118 385L234 414M346 383L264 442M64 444L97 316M97 316L104 273M88 385L137 345M97 316L93 294M31 417L93 294M90 414L204 387M233 387L350 410M20 216L165 338M293 442L346 383M346 383L177 415M90 414L325 441M88 385L110 336M59 415L18 188M27 330L97 316M165 338L110 336M15 82L110 336M28 386L27 330M114 209L59 415M321 412L178 291M84 194L234 414M234 444L104 273M318 385L291 412M88 385L59 415M118 385L33 443M233 387L162 268M263 387L97 316M208 443L137 345M18 161L208 443M208 443L84 194M20 216L137 345M47 82L137 305M177 415L325 441M351 437L176 386M293 442L346 383M17 136L177 415M264 415L110 336M57 243L97 442M62 333L119 412M54 163L165 338M15 82L90 414M182 444L110 336M49 105L132 263M118 385L234 414M177 415L62 333M80 139L59 415M82 167L132 263M59 415L97 316M88 385L178 291M233 387L93 294M80 112L264 442M33 443L165 338M119 412L263 387M350 410L137 305M263 387L110 238M54 163L104 273M102 365L80 139M84 194L114 209M28 386L162 268M291 385L162 268M84 253L137 305M18 188L102 365M20 216L264 415M27 360L137 345M15 108L132 263M177 415L59 387M54 219L176 386M110 238L47 82M59 387L291 412M293 442L97 316M28 386L17 136M17 136L132 263M97 442L182 444M33 443L50 192M177 415L97 316M293 442L132 263M59 303L162 268M57 269L208 443M110 238L162 268M47 82L162 268M59 415L93 294M49 105L233 387M208 443L165 338M84 194L97 316M233 387L57 269M15 108L154 442M84 253L178 291M182 444L62 333M264 442L177 415M88 385L137 305M47 82L97 316M176 386L114 171M233 387L97 316M64 444L162 268M206 413L178 291M110 238L31 417M114 171L90 414M114 171L97 316M33 443L104 273M154 442L149 414M132 263L110 336M17 136L165 338M50 134L93 294M110 336L97 316M204 387L110 336M23 243L180 315M59 387L80 139M118 385L350 410M97 442L178 291M321 412L132 263M119 412L93 294M351 437L321 412M146 387L132 263M110 238L321 412M27 360L18 161M15 108L178 291M346 383L18 188M15 108L93 294M18 161L59 387M31 417L132 263M137 345L93 294M64 444L178 291M31 417L208 443M57 269L93 294M69 362L114 209M18 161L97 316M176 386L54 163M154 442L178 291M33 443L137 345M59 303L15 82M90 414L59 415M264 442L102 365M114 209L93 294M54 219L17 136M102 365L180 315M146 387L165 338M15 108L97 316M80 139L27 298M206 413L291 385M177 415L27 330M80 139L93 294M154 442L57 269M234 444L234 414M110 238L165 338M84 221L50 134M82 167L180 315M204 387L178 291M346 383L27 330M351 437L84 194M234 444L180 315M291 412L234 444M114 209L351 437M234 444L132 263M59 387L97 316M178 291L93 294M180 315L93 294M149 414L137 305M264 415L291 385M291 385L27 330M49 105L325 441M64 444L119 412M114 209L77 81M84 194L62 333M154 442L17 136M49 105L110 336M346 383L165 338M346 383L234 414M15 108L165 338M50 192L180 315M182 444L137 305M318 385L97 442M23 269L57 243M318 385L97 316M291 385L137 305M59 387L84 221M23 269L90 414M318 385L234 444M27 360L264 415M27 330L165 338M27 330L104 273M291 412L165 338M119 412L165 338M47 82L234 414M18 161L178 291M62 333L110 336M18 188L162 268M177 415L162 268M80 112L165 338M233 387L64 444M23 243L325 441M177 415L146 387M28 386L346 383M31 417L204 387M84 253L162 268M47 82L178 291M182 444L104 273M351 437L165 338M325 441L162 268M17 136L206 413M90 414L110 336M90 414L263 387M31 417L178 291M33 443L97 316M59 387L110 336M176 386L93 294M146 387L97 316M263 387L132 263M28 386L104 273M351 437L346 383M17 136L97 316M31 417L15 108M59 303L234 444M57 269L104 273M176 386L178 291M234 414L346 383M182 444L180 315M77 81L84 253M146 387L137 305M165 338L137 305M15 108L104 273M118 385L102 365M90 414L93 294M182 444L291 385M33 443L97 442M59 303L178 291M84 221L137 345M154 442L264 415M318 385L132 263M84 253L234 414M154 442L162 268M264 442L263 387M234 444L177 415M27 330L59 387M59 415L97 442M132 263L178 291M27 360L104 273M182 444L27 298M62 333L93 294M114 171L154 442M18 188L165 338M80 139L110 336M50 134L80 139M64 444L321 412M351 437L97 316M204 387L162 268M80 112L20 216M208 443L321 412M59 415L88 385M23 243L20 216M263 387L114 171M102 365L90 414M318 385L208 443M80 139L97 442M178 291L165 338M234 414L233 387M318 385L104 273M182 444L165 338M264 415L291 385M264 415L293 442M54 163L15 82M59 303L102 365M114 171L137 345M114 171L165 338M50 134L162 268M234 414L57 269M57 243L162 268M59 415L57 243M15 108L346 383M84 221L325 441M28 386L346 383M84 253L104 273M118 385L165 338M293 442L137 305M84 194L80 139M206 413L162 268M321 412L93 294M149 414L59 303M90 414L206 413M264 415L110 238M178 291L137 305M176 386L162 268M263 387L162 268M84 194L162 268M119 412L110 336M59 415L104 273M82 167L165 338M62 333L18 161M234 444L88 385M59 387L137 345M318 385L102 365M97 442L291 385M23 269L137 305M263 387L93 294M54 219L104 273M84 221L104 273M17 136L204 387M54 219L234 444M27 330L137 305M264 442L110 336M110 336L137 305M59 387L178 291M154 442L176 386M146 387L28 386M318 385L162 268M28 386L165 338M165 338L93 294M102 365L149 414M20 216L132 263M318 385L154 442M80 139L97 316M15 108L137 305M149 414L182 444M31 417L104 273M84 194L114 209M54 219L162 268M291 385L350 410M57 243L90 414M59 303L110 238M84 221L162 268M291 412L132 263M162 268L180 315M84 194L110 336M263 387L137 345M321 412L137 345M114 209L110 238M263 387L110 336" stroke="#262f5c" stroke-width="1.1" opacity="0.62" fill="none"/>
<path d="M77 81L132 263M77 81L162 268M77 81L178 291M77 81L180 315M77 81L165 338M77 81L137 345M77 81L110 336M77 81L93 294M77 81L137 305M107 81L178 291M107 81L93 294M107 81L104 273M107 81L137 305M108 114L132 263M108 114L162 268M108 114L165 338M108 114L104 273M108 114L137 305M110 142L97 316M110 142L104 273M144 194L132 263M144 194L180 315M144 194L93 294M172 196L162 268M172 196L165 338M172 196L104 273M194 192L132 263M194 192L180 315M194 192L137 345M194 192L110 336M194 192L137 305M141 221L132 263M141 221L162 268M141 221L180 315M141 221L137 345M141 221L110 336M141 221L93 294M141 221L104 273M169 223L178 291M169 223L97 316M169 223L93 294M169 223L104 273M169 223L137 305M194 223L180 315M194 223L165 338M194 223L137 345M194 223L104 273M194 223L137 305M154 442L88 385M234 444L291 385M27 360L90 414M321 412L263 387M204 387L177 415M69 362L119 412M325 441L208 443M69 362L124 441M84 221L62 333M176 386L234 444M69 362L118 385M50 134L143 163M17 136L50 192M57 243L23 243M31 417L149 414M102 365L84 253M23 243L50 134M114 209L23 243M59 303L88 385M23 243L54 219M291 412L263 387M144 194L139 107M118 385L146 387M318 385L351 437M62 333L84 221M204 387L146 387M59 415L59 387M119 412L204 387M208 443L97 442M84 194L108 114M234 444L321 412M119 412L90 414M206 413L263 387M18 188L23 243M102 365L149 414M50 134L77 81M166 109L143 163M50 134L114 171M234 414L350 410M15 82L15 108M144 194L84 221M141 221L108 114M23 243L18 188M49 105L141 137M118 385L177 415M62 333L84 253M23 269L27 360M50 192L15 108M169 223L166 109M146 387L263 387M169 223L84 194M291 385L318 385M204 387L263 387M143 163L114 171M325 441L263 387M143 163L193 165M23 269L59 303M77 81L191 76M124 441L234 444M177 415L233 387M90 414L154 442M84 194L82 167M194 223L84 194M102 365L124 441M110 142L114 171M351 437L325 441M88 385L31 417M108 114L139 107M18 188L18 161M50 134L20 216M325 441L346 383M20 216L80 139M84 194L110 238M234 444L264 415M20 216L50 192M208 443L234 444M17 136L20 216M31 417L59 387M141 221L167 137M234 444L206 413M54 219L80 139M124 441L208 443M139 107L110 142M88 385L119 412M80 112L141 137M84 221L194 192M28 386L97 442M114 171L18 161M54 163L143 163M149 414L69 362M82 167L50 134M264 415L321 412M15 82L20 216M291 385L204 387M82 167L49 105M177 415L208 443M57 269L23 243M208 443L182 444M124 441L208 443M31 417L124 441M54 163L80 139M17 136L54 219M59 387L102 365M234 444L154 442M149 414L233 387M84 194L193 165M263 387L264 442M18 188L84 221M350 410L321 412M194 192L191 76M82 167L18 188M291 385L264 442M318 385L291 412" stroke="#2f3a6a" stroke-width="0.6" opacity="0.5" fill="none"/>
<path d="M140 80L110 336M167 80L162 268M167 80L137 345M167 80L104 273M191 76L132 263M191 76L162 268M191 76L137 305M139 107L104 273M166 109L110 336M166 109L104 273M190 105L137 305M141 137L97 316M143 163L110 336" stroke="#3a4678" stroke-width="0.5" opacity="0.6" fill="none"/>
<ellipse cx="137.9" cy="305.6" rx="60" ry="57" fill="none" stroke="#2f4a8f" stroke-width="2.1"/>
<use href="#nd" x="15.1" y="82"/><use href="#q4" x="15.1" y="82"/>
<use href="#nd" x="46.9" y="82"/><use href="#q14" x="46.9" y="82"/>
<use href="#nd" x="77" y="81.3"/><use href="#q1" x="77" y="81.3"/>
<use href="#nd" x="107.1" y="81.3"/><use href="#q1" x="107.1" y="81.3"/>
<use href="#nd" x="139.9" y="79.7"/><use href="#q4" x="139.9" y="79.7"/>
<use href="#nd" x="167.4" y="80.3"/><use href="#q2" x="167.4" y="80.3"/>
<use href="#nd" x="190.8" y="76.3"/><use href="#q1" x="190.8" y="76.3"/>
<use href="#nd" x="15.1" y="107.8"/>
<use href="#nd" x="48.5" y="105.4"/><use href="#q12" x="48.5" y="105.4"/>
<use href="#nd" x="79.7" y="112.1"/><use href="#q6" x="79.7" y="112.1"/>
<use href="#nd" x="107.8" y="113.8"/><use href="#q5" x="107.8" y="113.8"/>
<use href="#nd" x="138.9" y="107.1"/><use href="#q9" x="138.9" y="107.1"/>
<use href="#nd" x="166.4" y="108.8"/><use href="#q13" x="166.4" y="108.8"/>
<use href="#nd" x="190.1" y="105.4"/><use href="#q2" x="190.1" y="105.4"/>
<use href="#nd" x="17.4" y="135.6"/><use href="#q5" x="17.4" y="135.6"/>
<use href="#nd" x="50.2" y="133.9"/>
<use href="#nd" x="80.3" y="138.9"/><use href="#q10" x="80.3" y="138.9"/>
<use href="#nd" x="110.5" y="142.3"/><use href="#q13" x="110.5" y="142.3"/>
<use href="#nd" x="140.6" y="137.2"/><use href="#q1" x="140.6" y="137.2"/>
<use href="#nd" x="167.4" y="137.2"/><use href="#q7" x="167.4" y="137.2"/>
<use href="#nd" x="192.5" y="135.6"/><use href="#q17" x="192.5" y="135.6"/>
<use href="#nd" x="18.4" y="160.7"/><use href="#q17" x="18.4" y="160.7"/>
<use href="#nd" x="53.6" y="163.3"/><use href="#q7" x="53.6" y="163.3"/>
<use href="#nd" x="82" y="166.7"/><use href="#q16" x="82" y="166.7"/>
<use href="#nd" x="113.8" y="171.4"/><use href="#q5" x="113.8" y="171.4"/>
<use href="#nd" x="143.3" y="163.3"/><use href="#q8" x="143.3" y="163.3"/>
<use href="#nd" x="167.4" y="165.7"/><use href="#q10" x="167.4" y="165.7"/>
<use href="#nd" x="193.5" y="164.7"/><use href="#q7" x="193.5" y="164.7"/>
<use href="#nd" x="18.4" y="188.1"/><use href="#q3" x="18.4" y="188.1"/>
<use href="#nd" x="50.2" y="192.5"/><use href="#q7" x="50.2" y="192.5"/>
<use href="#nd" x="83.7" y="194.1"/><use href="#q13" x="83.7" y="194.1"/>
<use href="#nd" x="143.9" y="194.1"/><use href="#q15" x="143.9" y="194.1"/>
<use href="#nd" x="172.4" y="195.8"/><use href="#q11" x="172.4" y="195.8"/>
<use href="#nd" x="194.1" y="192.5"/><use href="#q7" x="194.1" y="192.5"/>
<use href="#nd" x="20.1" y="215.9"/>
<use href="#nd" x="53.6" y="219.2"/><use href="#q4" x="53.6" y="219.2"/>
<use href="#nd" x="83.7" y="220.9"/><use href="#q16" x="83.7" y="220.9"/>
<use href="#nd" x="113.8" y="209.2"/><use href="#q13" x="113.8" y="209.2"/>
<use href="#nd" x="140.6" y="220.9"/><use href="#q11" x="140.6" y="220.9"/>
<use href="#nd" x="169" y="222.6"/><use href="#q11" x="169" y="222.6"/>
<use href="#nd" x="194.1" y="222.6"/><use href="#q8" x="194.1" y="222.6"/>
<use href="#nd" x="23.4" y="242.7"/><use href="#q11" x="23.4" y="242.7"/>
<use href="#nd" x="56.9" y="242.7"/><use href="#q8" x="56.9" y="242.7"/>
<use href="#nd" x="83.7" y="252.7"/><use href="#q4" x="83.7" y="252.7"/>
<use href="#nd" x="110.5" y="237.7"/><use href="#q12" x="110.5" y="237.7"/>
<use href="#nd" x="23.4" y="269.5"/><use href="#q1" x="23.4" y="269.5"/>
<use href="#nd" x="56.9" y="269.5"/><use href="#q10" x="56.9" y="269.5"/>
<use href="#nd" x="26.8" y="297.9"/><use href="#q5" x="26.8" y="297.9"/>
<use href="#nd" x="58.6" y="302.9"/>
<use href="#nd" x="27.4" y="329.7"/><use href="#q12" x="27.4" y="329.7"/>
<use href="#nd" x="61.9" y="333.1"/><use href="#q4" x="61.9" y="333.1"/>
<use href="#nd" x="27.4" y="359.8"/>
<use href="#nd" x="68.6" y="361.5"/><use href="#q2" x="68.6" y="361.5"/>
<use href="#nd" x="102.1" y="364.9"/><use href="#q15" x="102.1" y="364.9"/>
<use href="#nd" x="28.5" y="385.6"/><use href="#q2" x="28.5" y="385.6"/>
<use href="#nd" x="58.6" y="386.6"/><use href="#q15" x="58.6" y="386.6"/>
<use href="#nd" x="87.7" y="384.9"/>
<use href="#nd" x="117.8" y="384.9"/><use href="#q13" x="117.8" y="384.9"/>
<use href="#nd" x="145.6" y="386.6"/><use href="#q9" x="145.6" y="386.6"/>
<use href="#nd" x="175.7" y="385.6"/><use href="#q0" x="175.7" y="385.6"/>
<use href="#nd" x="204.2" y="386.6"/><use href="#q10" x="204.2" y="386.6"/>
<use href="#nd" x="232.6" y="386.6"/><use href="#q0" x="232.6" y="386.6"/>
<use href="#nd" x="262.8" y="386.6"/><use href="#q2" x="262.8" y="386.6"/>
<use href="#nd" x="291.2" y="384.9"/><use href="#q17" x="291.2" y="384.9"/>
<use href="#nd" x="318" y="384.9"/><use href="#q14" x="318" y="384.9"/>
<use href="#nd" x="346.4" y="383.3"/><use href="#q15" x="346.4" y="383.3"/>
<use href="#nd" x="30.8" y="416.7"/><use href="#q1" x="30.8" y="416.7"/>
<use href="#nd" x="58.6" y="415.1"/><use href="#q14" x="58.6" y="415.1"/>
<use href="#nd" x="90.4" y="414.4"/><use href="#q4" x="90.4" y="414.4"/>
<use href="#nd" x="118.8" y="412.4"/><use href="#q3" x="118.8" y="412.4"/>
<use href="#nd" x="149" y="414.4"/><use href="#q2" x="149" y="414.4"/>
<use href="#nd" x="177.4" y="415.1"/><use href="#q3" x="177.4" y="415.1"/>
<use href="#nd" x="205.9" y="413.4"/><use href="#q5" x="205.9" y="413.4"/>
<use href="#nd" x="234.3" y="414.4"/><use href="#q5" x="234.3" y="414.4"/>
<use href="#nd" x="264.4" y="415.1"/><use href="#q10" x="264.4" y="415.1"/>
<use href="#nd" x="291.2" y="412.4"/><use href="#q9" x="291.2" y="412.4"/>
<use href="#nd" x="321.3" y="411.7"/>
<use href="#nd" x="349.8" y="410"/><use href="#q1" x="349.8" y="410"/>
<use href="#nd" x="32.8" y="442.5"/><use href="#q10" x="32.8" y="442.5"/>
<use href="#nd" x="63.6" y="443.5"/><use href="#q5" x="63.6" y="443.5"/>
<use href="#nd" x="97.1" y="441.8"/><use href="#q13" x="97.1" y="441.8"/>
<use href="#nd" x="123.8" y="441.2"/><use href="#q14" x="123.8" y="441.2"/>
<use href="#nd" x="154" y="441.8"/><use href="#q4" x="154" y="441.8"/>
<use href="#nd" x="182.4" y="443.5"/><use href="#q5" x="182.4" y="443.5"/>
<use href="#nd" x="207.5" y="442.5"/>
<use href="#nd" x="234.3" y="443.5"/><use href="#q3" x="234.3" y="443.5"/>
<use href="#nd" x="264.4" y="441.8"/><use href="#q14" x="264.4" y="441.8"/>
<use href="#nd" x="292.9" y="441.8"/><use href="#q8" x="292.9" y="441.8"/>
<use href="#nd" x="324.7" y="441.2"/><use href="#q10" x="324.7" y="441.2"/>
<use href="#nd" x="350.8" y="436.8"/><use href="#q10" x="350.8" y="436.8"/>
<use href="#nh" x="132.2" y="262.8"/><ellipse cx="132.2" cy="262.8" rx="10.8" ry="10.8" fill="#5f7fd8"/><ellipse cx="132.2" cy="262.8" rx="10.8" ry="10.8" fill="url(#hl)" stroke="#444" stroke-width="0.6" stroke-opacity="0.5"/><use href="#q0" x="132.2" y="262.8"/>
<use href="#nh" x="161.7" y="267.8"/><ellipse cx="161.7" cy="267.8" rx="10.8" ry="10.8" fill="#c9c24e"/><ellipse cx="161.7" cy="267.8" rx="10.8" ry="10.8" fill="url(#hl)" stroke="#444" stroke-width="0.6" stroke-opacity="0.5"/><use href="#q12" x="161.7" y="267.8"/>
<use href="#nh" x="178.4" y="290.5"/><ellipse cx="178.4" cy="290.5" rx="10.8" ry="10.8" fill="#a884dc"/><ellipse cx="178.4" cy="290.5" rx="10.8" ry="10.8" fill="url(#hl)" stroke="#444" stroke-width="0.6" stroke-opacity="0.5"/><use href="#q6" x="178.4" y="290.5"/>
<use href="#nh" x="180.1" y="314.6"/><ellipse cx="180.1" cy="314.6" rx="10.8" ry="10.8" fill="#63c2b4"/><ellipse cx="180.1" cy="314.6" rx="10.8" ry="10.8" fill="url(#hl)" stroke="#444" stroke-width="0.6" stroke-opacity="0.5"/><use href="#q8" x="180.1" y="314.6"/>
<use href="#nh" x="165" y="338.1"/><ellipse cx="165" cy="338.1" rx="10.8" ry="10.8" fill="#7fcf7f"/><ellipse cx="165" cy="338.1" rx="10.8" ry="10.8" fill="url(#hl)" stroke="#444" stroke-width="0.6" stroke-opacity="0.5"/><use href="#q5" x="165" y="338.1"/>
<use href="#nh" x="137.2" y="344.8"/><ellipse cx="137.2" cy="344.8" rx="10.8" ry="10.8" fill="#bfe060"/><ellipse cx="137.2" cy="344.8" rx="10.8" ry="10.8" fill="url(#hl)" stroke="#444" stroke-width="0.6" stroke-opacity="0.5"/><use href="#q16" x="137.2" y="344.8"/>
<use href="#nh" x="110.5" y="336.4"/><ellipse cx="110.5" cy="336.4" rx="10.8" ry="10.8" fill="#f0c49a"/><ellipse cx="110.5" cy="336.4" rx="10.8" ry="10.8" fill="url(#hl)" stroke="#444" stroke-width="0.6" stroke-opacity="0.5"/><use href="#q13" x="110.5" y="336.4"/>
<use href="#nh" x="97.1" y="316.3"/><ellipse cx="97.1" cy="316.3" rx="10.8" ry="10.8" fill="#e4a3b0"/><ellipse cx="97.1" cy="316.3" rx="10.8" ry="10.8" fill="url(#hl)" stroke="#444" stroke-width="0.6" stroke-opacity="0.5"/><use href="#q8" x="97.1" y="316.3"/>
<use href="#nh" x="93.1" y="293.9"/><ellipse cx="93.1" cy="293.9" rx="10.8" ry="10.8" fill="#86c65c"/><ellipse cx="93.1" cy="293.9" rx="10.8" ry="10.8" fill="url(#hl)" stroke="#444" stroke-width="0.6" stroke-opacity="0.5"/><use href="#q14" x="93.1" y="293.9"/>
<use href="#nh" x="103.8" y="272.8"/><ellipse cx="103.8" cy="272.8" rx="10.8" ry="10.8" fill="#9cc8ec"/><ellipse cx="103.8" cy="272.8" rx="10.8" ry="10.8" fill="url(#hl)" stroke="#444" stroke-width="0.6" stroke-opacity="0.5"/><use href="#q4" x="103.8" y="272.8"/>
<use href="#nh" x="136.6" y="305.3"/><ellipse cx="136.6" cy="305.3" rx="10.8" ry="10.8" fill="#d8404c"/><ellipse cx="136.6" cy="305.3" rx="10.8" ry="10.8" fill="url(#hl)" stroke="#444" stroke-width="0.6" stroke-opacity="0.5"/><use href="#q17" x="136.6" y="305.3"/>
<path d="M500 236L550 119M579 167L584 142M502 259L497 59M500 236L652 264M596 356L473 142M579 167L609 282M570 266L585 246M504 321L642 310M512 106L586 311M512 106L634 244M607 86L612 321M512 106L585 246M510 351L575 208M497 152L472 390M510 351L563 136M560 61L579 167M497 59L569 289M537 326L537 353M577 112L532 266M470 295L584 142M468 264L612 197M500 293L634 244M544 157L497 152M636 90L534 420M565 418L472 174M631 64L502 259M509 385L586 311M629 415L557 229M498 209L653 286M611 142L634 244M498 209L537 353M666 385L776 413M652 264L585 246M607 86L642 310M525 141L529 234M512 106L500 293M597 417L532 266M537 326L612 321M669 351L569 289M736 415L565 356M532 266L642 310M808 415L634 244M584 142L510 351M473 142L636 380M505 415L570 266M629 415L636 351M843 382L586 311M600 61L652 264M639 169L634 244M639 169L575 208M666 385L776 351M550 119L550 87M498 209L585 246M597 417L577 112M636 90L474 110M472 323L577 112M575 208L570 266M602 382L634 244M611 142L577 82M600 61L585 246M629 415L612 321M639 169L474 110M529 234L584 142M636 351L585 246M636 90L475 420M664 413L706 350M526 72L567 382M475 420L815 382M636 117L653 286M843 382L612 321M534 420L570 266M611 142L642 310M637 144L537 326M607 239L609 282M706 383L634 244M706 350L815 382M565 356L537 326M611 169L642 310M815 382L612 321M550 119L612 321M738 383L652 264M500 236L586 311M512 106L569 289M776 413L586 311M776 351L472 390M500 293L569 289M526 72L631 64M497 59L631 64M500 236L612 321M743 351L475 420M636 380L607 115M631 64L498 209M642 200L550 119M472 323L607 239M597 417L529 234M575 208L607 239M510 351L652 264M843 355L652 264M498 209L550 119M706 383L607 239M738 383L569 289M544 157L634 244M607 86L609 282M631 64L570 266M557 229L474 79M472 174L612 321M563 136L652 264M738 383L472 390M808 415L612 321M611 169L550 119M611 142L526 72M776 351L586 311M652 264L612 321M560 61L637 144M472 390L570 266M534 420L534 201M474 79L550 87M497 59L532 266M557 229L652 264M611 169L607 239M743 351L596 356M468 264L612 321M636 380L577 112M468 264L631 64M497 59L474 79M639 169L502 259M636 90L497 152M602 382L475 420M736 415L634 244M532 296L642 310M577 82L579 167M468 358L642 200M597 417L843 355M584 142L504 321M607 86L585 246M473 142L579 167M636 117L585 246M579 167L652 264M550 87L612 321M843 382L570 266M567 333L535 383M563 136L607 239M629 415L653 286M468 358L567 382M567 333L653 286M470 203L512 106M701 413L815 348M584 142L634 244M534 420L653 286M526 72L652 264M470 295L515 174M602 382L652 264M642 310L585 246M537 353L505 415M577 112L586 311M550 87L585 246M472 390L500 236M470 295L597 417M534 420L577 112M607 115L474 110M738 383L534 420M706 383L534 420M532 296L612 321M512 106L529 234M534 420L515 174M706 383L585 246M600 61L607 239M607 86L653 286M515 174L497 152M470 203L642 310M776 413L636 380M577 112L534 201M537 353L569 289M575 208L532 266M497 152L585 246M706 350L472 390M473 142L565 418M600 61L612 197M550 87L636 351M497 59L550 87M525 141L569 289M639 169L611 142M815 348L642 310M634 244L569 289M612 197L634 244M470 295L607 239M500 236L607 239M843 355L565 418M472 233L537 326M497 152L586 311M565 418L586 311M636 351L701 413M776 351L535 383M738 383L612 321M557 229L637 144M563 136L642 310M502 259L472 323M565 418L631 64M504 321L575 208M567 382L843 355M597 417L669 351M634 244L612 321M567 333L557 229M567 382L596 356M563 136L634 244M472 233L609 282M468 264L532 266M636 90L642 310M509 385L634 244M544 157L565 356M607 115L637 144M600 61L474 79M532 296L653 286M565 356L586 311M639 169L586 311M550 119L472 390M475 420L510 351M472 233L612 321M843 355L653 286M526 72L557 229M612 197L652 264M535 383L636 380M567 382L669 351M565 418L550 119M532 266L611 169M472 323L474 110M550 119L652 264M468 358L497 152M596 356L642 310M602 382L612 321M472 390L666 385M475 420L634 244M565 356L567 382M701 413L642 310M776 413L666 385M636 90L609 282M557 229L634 244M575 208L611 142M577 112L532 296M600 61L612 321M778 382L634 244M642 200L570 266M596 356L502 259M778 382L586 311M544 157L653 286M736 415L585 246M529 234L505 415M497 59L609 282M505 415L612 321M473 142L569 289M526 72L585 246M497 59L596 356M537 326L586 311M504 321L586 311M579 167L534 420M701 413L607 239M611 142L472 390M565 418L815 348M565 356L563 136M468 358L577 82M596 356L778 382M669 351L652 264M529 234L609 282M738 383L653 286M509 385L512 106M843 355L808 415M597 417L534 201M550 119L470 203M472 323L609 282M706 383L652 264M500 236L636 90M612 321L570 266M636 117L642 310M544 157L612 321M537 353L642 310M607 115L468 264M498 209L609 282M607 115L560 61M534 420L567 382M847 415L634 244M500 236L653 286M550 87L577 112M470 295L575 208M629 415L607 239M472 233L586 311M560 61L653 286M470 203L653 286M498 209L472 323M472 390L475 420M529 234L577 82M612 197L577 82M497 152L565 356M557 182L609 282M808 415L609 282M525 141L537 353M534 201L535 383M776 351L736 415M472 174L550 119M497 152L544 157M776 351L569 289M498 209L557 182M512 106L642 310M636 380L497 59M611 169L612 197M525 141L634 244M631 64L642 310M557 229L609 282M550 87L472 323M502 259L567 333M738 383L642 310M474 79L585 246M502 259L609 282M529 234L586 311M470 203L612 321M550 119L600 61M776 351L505 415M534 201L579 167M653 286L609 282M597 417L636 351M560 61L652 264M473 142L642 310M575 208L550 87M475 420L642 310M472 390L472 323M500 236L534 201M537 353L585 246M631 64L512 106M847 415L653 286M652 264L642 310M602 382L585 246M565 356L652 264M639 169L525 141M505 415L634 244M607 239L612 321M636 90L586 311M557 182L642 310M669 351L609 282M843 355L570 266M636 380L607 86M565 356L701 413M669 351L636 380M532 296L570 266M468 358L504 321M584 142L652 264M498 209L577 82M666 385L642 310M653 286L570 266M532 266L509 385M607 239L634 244M664 413L843 382M468 264L529 234M577 112L570 266M537 353L815 382M596 356L669 351M532 296L631 64M567 382L510 351M666 385L815 348M557 229L577 112M515 174L569 289M560 61L529 234M504 321L634 244M596 356L652 264M509 385L569 289M468 358L736 415M634 244L642 310M500 236L585 246M567 333L474 110M636 380L586 311M557 182L565 356M738 383L706 350M534 420L609 282M579 167L468 264M534 420L642 310M666 385L586 311M473 142L504 321M607 115L652 264M631 64L565 418M629 415L470 295M636 90L570 266M652 264L586 311M567 382L636 351M602 382L609 282M636 351L596 356M815 348L570 266M607 86L634 244M664 413L642 310M502 259L634 244M634 244L586 311M472 323L653 286M498 209L611 169M502 259L607 115M669 351L653 286M526 72L642 310M472 233L526 72M509 385L609 282M575 208L472 323M557 229L586 311M532 266L577 82M577 82L579 167M550 119L607 239M567 333L585 246M631 64L475 420M584 142L609 282M575 208L569 289M701 413L652 264M666 385L612 321M637 144L652 264M577 82L652 264M535 383L652 264M472 390L505 415M515 174L535 383M636 117L607 239M815 348L468 358M505 415L778 382M611 169L472 390M629 415L586 311M612 197L653 286M560 61L565 356M550 119L634 244M843 355L642 310M497 59L642 310M743 351L666 385M634 244L570 266M565 356L653 286M525 141L642 200M743 351L602 382M534 420L472 390M596 356L636 380M497 152L584 142M497 59L570 266M636 380L502 259M470 203L611 169M736 415L569 289M666 385L652 264M500 293L652 264M636 117L570 266M666 385L701 413M534 201L634 244M509 385L736 415M500 293L607 239M565 356L534 201M526 72L634 244M532 266L509 385M498 209L532 266M636 380L569 289M636 351L570 266M575 208L609 282M631 64L577 82M597 417L569 289M505 415L534 420M808 415L585 246M636 351L609 282M815 348L652 264M563 136L611 169M504 321L534 420M567 382L550 119M815 348L612 321M577 112L612 197M701 413L565 356M565 356L510 351M526 72L653 286M504 321L567 382M560 61L634 244M637 144L609 282M631 64L597 417M504 321L609 282M642 310L569 289M537 326L653 286M579 167L525 141M510 351L607 239M577 82L612 321M579 167L567 382M584 142L631 64M847 415L642 310M776 351L609 282M808 415L570 266M631 64L636 90M535 383L653 286M596 356L634 244M778 382L652 264M579 167L634 244M532 296L629 415M653 286L569 289M565 356L570 266M808 415L586 311M639 169L567 333M557 182L534 420M565 418L512 106M636 380L808 415M474 79L474 110M565 356L642 310M611 169L569 289M502 259L607 239M843 355L534 420M474 110L544 157M611 142L585 246M526 72L607 239M815 382L570 266M505 415L642 310M815 382L642 310M736 415L642 310M504 321L570 266M497 59L470 203M509 385L642 310M706 350L586 311M636 380L474 79M468 358L612 321M532 296L585 246M497 59L607 239M659 65L579 167M468 358L570 266M470 295L569 289M535 383L550 87M577 82L570 266M534 420L612 197M509 385L534 420M502 259L570 266M497 152L612 321M743 351L585 246M596 356L500 293M611 142L544 157M557 229L472 233M468 264L596 356M563 136L600 61M474 79L607 239M500 236L636 90M560 61L609 282M529 234L607 239M512 106L607 239M502 259L498 209M776 413L569 289M535 383L634 244M567 333L565 356M474 110L535 383M544 157L611 142M498 209L586 311M550 119L560 61M529 234L537 353M468 358L609 282M468 358L636 380M468 358L537 326M498 209L612 321M642 200L653 286M666 385L636 351M525 141L642 310M500 236L472 233M611 142L504 321M550 87L565 356M500 293L472 233M472 390L631 64M642 200L596 356M497 152L634 244M567 333L557 182M701 413L570 266M515 174L550 87M701 413L843 382M537 326L570 266M468 264L636 351M532 266L612 321M577 82L607 239M776 413L570 266M544 157L652 264M843 355L505 415M557 182L634 244M470 203L634 244M743 351L664 413M526 72L642 200" stroke="#262f5c" stroke-width="1.1" opacity="0.62" fill="none"/>
<path d="M639 169L607 115M470 203L585 246M560 61L636 117M500 293L585 246M470 203L505 415M577 112L653 286M470 295L609 282M535 383L579 167M534 201L612 321M567 382L569 289M472 390L537 326M642 310L609 282M470 295L586 311M550 87L607 239M534 201L611 169M557 229L607 239M631 64L550 87M560 61L472 233M636 117L609 282M642 200L502 259M557 182L653 286M584 142L653 286M565 418L473 142M652 264L569 289M634 244L585 246M565 356L569 289M575 208L565 356M470 203L509 385M701 413L706 383M472 174L607 239M567 382L607 239M636 90L585 246M472 390L535 383M600 61L659 65M567 333L586 311M577 112L634 244M475 420L609 282M642 200L585 246M535 383L570 266M636 351L500 293M701 413L569 289M579 167L600 61M611 142L653 286M636 90L607 239M565 356L701 413M515 174L502 259M577 112L659 65M577 82L642 310M550 119L653 286M500 236L570 266M597 417L653 286M653 286L586 311M468 264L584 142M607 115L577 82M642 200L611 169M636 380L473 142M473 142L577 112M847 415L472 390M565 418L609 282M470 203L570 266M567 333L666 385M526 72L609 282M847 415L607 239M470 295L597 417M636 117L544 157M602 382L500 236M560 61L585 246M504 321L497 152M636 380L537 353M611 142L569 289M847 415L586 311M843 382L642 310M629 415L611 169M497 59L577 112M639 169L612 321M537 353L659 65M706 383L664 413M636 117L569 289M526 72L569 289M515 174L634 244M526 72L525 141M629 415L636 380M498 209L634 244M475 420L636 380M468 358L509 385M563 136L653 286M577 112L652 264M637 144L585 246M529 234L505 415M510 351L634 244M567 382L642 310M544 157L586 311M575 208L612 321M475 420L586 311M706 350L653 286M525 141L607 239M510 351L569 289M534 420L666 385M472 174L609 282M474 110L470 203M504 321L575 208M575 208L634 244M567 333L776 351M584 142L607 239M843 355L634 244M669 351L642 310M537 353L525 141M736 415L843 382M525 141L652 264M664 413L609 282M607 115L586 311M631 64L652 264M502 259L631 64M509 385L642 200M569 289L609 282M474 110L473 142M535 383L585 246M475 420L843 382M532 266L560 61M468 264L550 119M497 59L653 286M510 351L612 197M560 61L535 383M557 229L570 266M544 157L500 293M669 351L634 244M631 64L637 144M500 236L636 117M544 157L609 282M808 415L607 239M502 259L500 236M550 87L609 282M611 169L575 208M611 142L637 144M475 420L653 286M565 418L636 117M815 348L776 413M602 382L636 380M563 136L585 246M474 110L585 246M534 420L569 289M544 157L504 321M505 415L586 311M636 90L468 358M468 358L634 244M535 383L642 310M600 61L609 282M577 112L585 246M815 382L847 415M565 356L563 136M565 418L570 266M565 356L706 350M497 59L634 244M512 106L529 234M535 383L468 264M636 351L636 380M515 174L550 119M664 413L569 289M475 420L579 167M472 174L634 244M534 420L607 239M557 229L600 61M597 417L609 282M525 141L639 169M843 355L569 289M637 144L642 310M526 72L636 117M472 323L642 310M597 417L468 358M636 380L570 266M502 259L602 382M557 182L570 266M706 350L565 356M567 333L472 390M526 72L586 311M525 141L534 420M600 61L577 82M537 353L612 321M637 144L526 72M666 385L565 418M738 383L570 266M550 119L586 311M532 266L567 382M629 415L815 348M532 266L652 264M468 264L652 264M474 79L653 286M637 144L586 311M567 333L569 289M560 61L612 321M470 295L497 152M529 234L612 321M607 115L468 264M500 293L472 323M701 413L634 244M468 264L575 208M637 144L612 321M544 157L470 203M498 209L497 59M639 169L652 264M532 266L569 289M778 382L642 310M473 142L612 321M706 350L570 266M497 152L502 259M565 356L634 244M526 72L475 420M669 351L664 413M577 112L569 289M475 420L569 289M557 182L652 264M843 382L652 264M497 152L652 264M611 169L652 264M472 390L567 382M502 259L636 380M510 351L468 358M815 382L586 311M567 333L815 382M472 174L570 266M577 82L586 311M596 356L607 86M607 86L570 266M515 174L636 380M808 415L567 382M534 201L652 264M497 152L607 239M535 383L776 413M563 136L570 266M504 321L585 246M736 415L653 286M468 264L586 311M577 112L473 142M629 415L550 87M659 65L472 390M567 382L808 415M706 350L642 310M577 112L629 415M557 182L585 246M515 174L612 321M743 351L642 310M529 234L470 203M579 167L569 289M636 351L706 383M525 141L468 264M636 117L634 244M526 72L472 390M560 61L611 142M468 358L611 142M639 169L577 82M468 358L510 351M560 61L473 142M637 144L607 239M470 295L509 385M472 390L736 415M642 200L634 244M537 353L570 266M815 382L652 264M474 79L642 310M597 417L577 112M470 295L634 244M706 350L569 289M498 209L565 418M525 141L609 282M636 351L535 383M567 333L706 383M577 82L569 289M537 326L609 282M631 64L502 259M472 233L612 197M497 152L653 286M743 351L609 282M701 413L585 246M505 415L609 282M642 200L475 420M535 383L569 289M470 203L652 264M567 333L570 266M475 420L532 266M532 296L563 136M505 415L569 289M537 326L642 310M607 86L575 208M736 415L609 282M500 293L475 420M502 259L567 333M505 415L567 382M537 353L586 311M532 266L609 282M639 169L569 289M664 413L652 264M472 390L609 282M808 415L642 310M629 415L534 420M642 200L586 311M611 142L468 358M497 59L612 321M847 415L652 264M468 358L569 289M600 61L535 383M532 266L550 119M525 141L653 286M776 413L468 358M579 167L570 266M505 415L607 239M565 356L776 413M637 144L509 385M652 264L570 266M701 413L612 321M776 413L535 383M815 348L843 382M567 333L607 239M579 167L500 293M550 119L609 282M669 351L586 311M596 356L567 382M636 380L652 264M778 382L569 289M597 417L815 348M567 382L653 286M600 61L612 197M502 259L468 358M509 385L565 418M468 358L525 141M544 157L570 266M652 264L653 286M659 65L612 197M743 351L468 358M537 353L776 413M701 413L653 286M498 209L537 353M534 420L636 351M498 209L567 382M472 390L560 61M560 61L607 239M611 142L636 90M636 351L569 289M472 323L472 233M669 351L570 266M537 353L652 264M808 415L843 355M602 382L569 289M472 174L550 119M529 234L497 59M505 415L653 286M639 169L557 182M473 142L653 286M537 326L596 356M537 326L569 289M600 61L634 244M607 115L509 385M607 86L652 264M575 208L577 82M502 259L653 286M563 136L512 106M537 353L557 182M577 82L500 236M515 174L585 246M639 169L475 420M843 382L706 350M526 72L550 87M472 233L634 244M560 61L512 106M472 233L642 310M602 382L475 420M504 321L653 286M600 61L642 310M529 234L569 289M600 61L570 266M664 413L815 348M474 79L586 311M474 110L642 200M544 157L512 106M612 197L586 311M642 200L636 90M666 385L570 266M468 358L815 348M666 385L569 289M637 144L509 385M636 380L642 310M534 201L569 289M776 413L585 246M498 209L652 264M664 413L653 286M815 348L586 311M778 382L585 246M611 169L612 321M474 79L570 266M738 383L843 355M497 59L470 203M736 415L567 333M743 351L629 415M776 351L815 382M607 86L612 197M472 390L567 382M510 351L557 182M567 382L577 112M776 413L815 348M475 420L525 141M776 413L612 321M586 311L570 266M529 234L634 244M642 200L510 351M808 415L706 350M602 382L636 90M535 383L567 333M473 142L575 208M611 142L652 264M596 356L468 358M470 295L612 321M472 323L509 385M642 310L570 266M586 311L569 289M534 420L534 201M575 208L652 264M474 110L637 144M612 197L474 110M565 418L634 244M504 321L500 293M505 415L776 351M847 415L609 282M584 142L597 417M560 61L586 311M563 136L534 201M629 415L602 382M636 351L565 356M525 141L532 266M505 415L575 208M537 353L701 413M537 353L600 61M607 86L510 351M575 208L642 310M843 355L475 420M472 233L500 236M525 141L570 266M498 209L567 333M500 293L474 110M474 79L575 208M631 64L474 79M526 72L570 266M629 415L472 390M550 119L570 266M529 234L570 266M607 86L569 289M565 356L596 356M544 157L575 208M515 174L653 286M498 209L607 239M474 110L612 321M537 353L472 233M475 420L612 321M557 229L585 246M474 79L612 321M584 142L585 246M637 144L636 351M537 353L815 348M843 382L609 282M642 200L612 321M510 351L577 82M808 415L652 264M525 141L585 246M534 420L474 79M636 117L534 201M597 417L472 390M567 333L634 244M525 141L473 142M738 383L808 415M502 259L586 311M472 174L642 200M607 115L470 203M808 415L653 286M701 413L567 382M634 244L653 286M504 321L607 239M567 333L472 390M474 79L569 289M504 321L534 201M563 136L612 321M468 264L569 289M611 169L636 90M596 356L570 266M847 415L602 382M475 420L510 351M636 380L567 333M468 358L567 333M472 233L544 157M743 351L607 239M532 296L586 311M659 65L642 200M468 358L585 246M808 415L534 420M577 82L584 142M472 390L470 295M639 169L585 246M642 200L607 239M474 79L505 415M504 321L611 169M470 203L609 282M502 259L569 289M550 87L653 286M847 415L585 246M629 415L577 82M637 144L502 259M664 413L570 266M565 356L532 266M544 157L585 246M642 200L569 289M557 229L653 286M557 182L612 321M525 141L474 110M502 259L642 310M776 351L736 415M706 350L585 246M776 351L653 286M515 174L472 233M607 115L634 244M510 351L612 321M843 382L669 351M607 239L652 264M597 417L577 112M498 209L612 197M565 418L612 321M607 239L585 246M557 182L577 82M738 383L586 311M815 382L653 286M611 142L498 209M468 264L642 310M612 321L585 246M597 417L642 310M472 390L653 286M612 197L544 157M597 417L607 239M532 296L659 65M629 415L470 203M843 382L653 286M468 264L585 246M565 356L585 246M550 119L534 201M637 144L468 358M474 110L607 86M535 383L609 282M664 413L585 246M526 72L534 201M815 348L653 286M534 201L642 310M843 382L634 244M497 59L585 246M474 79L652 264M560 61L636 90M776 351L585 246M550 87L577 82M815 382L609 282M537 353L653 286M468 358L653 286M472 233L607 239M636 90L498 209M815 382L569 289M815 382L537 353M535 383L510 351M664 413L607 239M472 233L636 90M468 264L609 282M472 323L585 246M550 87L652 264M636 351L634 244M535 383L612 321" stroke="#262f5c" stroke-width="1.1" opacity="0.62" fill="none"/>
<path d="M567 382L609 282M843 355L612 321M504 321L636 380M565 356L778 382M706 350L609 282M743 351L596 356M470 295L642 310M550 87L569 289M472 233L505 415M636 380L560 61M597 417L570 266M611 169L498 209M557 182L472 390M468 264L607 239M843 355L586 311M534 420L585 246M579 167L537 353M631 64L560 61M510 351L550 119M544 157L569 289M669 351L778 382M565 356L607 239M584 142L612 321M636 380L585 246M500 236L642 310M544 157L642 310M500 293L642 310M575 208L563 136M557 229L600 61M537 353L776 413M636 351L642 310M666 385L636 380M500 293L570 266M636 351L497 152M701 413L815 348M475 420L607 239M666 385L634 244M664 413L634 244M776 351L567 382M537 353L815 382M470 203L611 142M470 203L569 289M738 383L609 282M636 351L639 169M504 321L529 234M642 200L642 310M600 61L560 61M567 333L843 382M498 209L472 390M629 415L652 264M639 169L537 353M611 142L468 264M584 142L550 119M570 266L609 282M509 385L475 420M532 296L637 144M636 90L653 286M639 169L567 382M505 415L472 233M509 385L636 380M778 382L607 239M534 201L504 321M629 415L569 289M475 420L652 264M706 383L586 311M586 311L585 246M535 383L607 239M664 413L510 351M611 169L602 382M639 169L642 310M472 390L534 420M550 119L579 167M636 380L612 321M472 390L585 246M500 236L502 259M565 356L534 420M470 203L611 169M636 117L636 380M500 236L611 142M565 356L472 233M843 382L585 246M636 380L609 282M629 415L634 244M504 321L534 420M586 311L609 282M498 209L607 115M607 115L585 246M639 169L472 233M584 142L474 79M743 351L652 264M563 136L586 311M636 117L652 264M472 174L585 246M470 295L653 286M472 390L474 79M776 351L652 264M565 418L585 246M701 413L609 282M535 383L586 311M602 382L642 310M534 201L557 182M505 415L652 264M602 382L607 115M472 323L586 311M567 333L532 296M607 239L569 289M596 356L609 282M550 87L472 174M565 418L653 286M474 79L634 244M537 353L535 383M607 115L612 321M631 64L600 61M509 385L607 239M776 413L653 286M563 136L639 169M557 229L612 321M475 420L636 90M510 351L653 286M532 266L567 382M579 167L497 152M560 61L579 167M577 112L500 236M815 348L706 383M468 264L510 351M666 385L653 286M532 296L607 239M525 141L612 321M529 234L567 333M607 115L653 286M529 234L653 286M596 356L612 321M544 157L607 239M597 417L652 264M611 169L472 233M607 86L500 236M631 64L612 321M642 200L567 382M664 413L596 356M505 415L468 358M612 197L474 110M636 380L634 244M557 182L637 144M579 167L612 321M639 169L607 115M776 351L570 266M596 356L743 351M664 413L815 382M567 382L847 415M509 385L776 351M537 353L815 348M497 59L586 311M472 390L557 182M534 420L612 321M612 321L569 289M468 358L652 264M567 333L612 321M706 383L612 321M778 382L612 321M642 200L472 233M505 415L636 351M534 201L585 246M597 417L472 323M532 266L586 311M636 351L776 413M474 110L579 167M607 239L586 311M500 293L600 61M611 169L653 286M565 356L612 321M743 351L634 244M505 415L584 142M639 169L597 417M815 382L607 239M567 382L570 266M498 209L642 310M706 383L653 286M611 169L586 311M611 169L637 144M565 418L743 351M579 167L607 239M515 174L609 282M602 382L586 311M612 321L586 311M577 112L609 282M706 383L468 358M560 61L505 415M607 86L473 142M534 201L607 239M535 383L504 321M470 295L570 266M515 174L497 59M636 117L629 415M474 110L634 244M659 65L498 209M550 119L557 229M642 310L612 321M557 182L607 239M776 351L607 239M607 239L570 266M575 208L653 286M642 310L586 311M557 229L642 200M468 264L502 259M510 351L586 311M505 415L815 348M579 167L470 203M575 208L602 382M607 86L586 311M534 201L586 311M577 82L642 200M843 355L664 413M497 59L584 142M584 142L569 289M529 234L642 310M636 117L637 144M567 382L475 420M636 90L639 169M550 87L529 234M504 321L637 144M596 356L473 142M504 321L652 264M537 353L634 244M512 106L609 282M474 79L609 282M468 264L653 286M557 229L637 144M525 141L642 200M637 144L634 244M532 296L470 203M510 351L607 86M500 236L609 282M470 295L502 259M575 208L470 203M776 413L652 264M629 415L609 282M631 64L569 289M743 351L567 333M505 415L474 79M532 266L634 244M473 142L472 174M472 174L569 289M535 383L468 358M497 152L609 282M475 420L472 323M509 385L612 321M736 415L612 321M567 333L738 383M597 417L612 321M629 415L526 72M596 356L743 351M472 390L652 264M472 390L607 239M738 383L636 351M843 355L585 246M509 385L570 266M560 61L569 289M526 72L532 296M569 289L570 266M510 351L570 266M510 351L550 87M607 86L584 142M529 234L557 229M584 142L642 310M600 61L472 174M532 266L570 266M666 385L607 239M565 418L607 239M529 234L652 264M470 203L472 174M843 355L602 382M611 169L502 259M843 355L607 239M472 323L569 289M636 351L472 174M472 233L515 174M565 356L537 326M577 82L585 246M636 351L612 321M776 351L642 310M468 358L505 415M738 383L701 413M565 418L474 79M636 117L612 321M611 169L602 382M659 65L472 233M664 413L475 420M472 390L602 382M537 326L585 246M470 295L532 266M509 385L743 351M535 383L504 321M642 200L550 119M565 418L642 310M847 415L612 321M498 209L584 142M470 295L585 246M743 351L778 382M532 296L634 244M565 418L510 351M470 295L652 264M612 197L637 144M472 233L470 203M509 385L475 420M636 380L500 293M474 110L631 64M584 142L570 266M550 119L565 418M577 112L642 310M612 197L468 264M565 418L843 382M472 233L652 264M743 351L602 382M537 353L550 119M532 296L611 169M743 351L569 289M602 382L570 266M500 293L639 169M557 182L586 311M577 82L653 286M701 413L602 382M509 385L776 413M584 142L560 61M504 321L612 321M512 106L653 286M472 390L612 321M664 413L586 311M509 385L652 264M567 333L652 264M577 112L607 239M565 356L534 420M847 415L535 383M475 420L585 246M634 244L609 282M532 296L609 282M472 323L597 417M776 351L612 321M652 264L609 282M738 383L585 246M500 293L577 82M470 295L602 382M565 356L529 234M596 356L653 286M474 110L607 239M468 358L586 311M472 390L636 90M497 59L579 167M537 326L470 295M664 413L567 382M525 141L510 351M611 142L579 167M659 65L550 87M653 286L612 321M472 390L550 87M631 64L609 282M563 136L609 282M636 380L636 351M611 142L609 282M505 415L474 110M565 418L597 417M563 136L612 197M472 323L472 233M474 110L586 311M560 61L570 266M636 380L607 239M636 90L557 182M567 382L612 321M847 415L569 289M669 351L607 239M611 142L472 174M666 385L609 282M498 209L597 417M550 119L472 233M534 201L567 382M526 72L472 390M534 420L652 264M634 244L652 264M474 110L642 310M602 382L636 351M607 115L569 289M474 79L534 201M602 382L475 420M472 323L596 356M500 236L596 356M600 61L636 117M497 152L577 112M629 415L537 353M579 167L509 385M636 380L534 420M474 110L575 208M557 182L631 64M532 266L607 239M470 203L584 142M666 385L585 246M497 59L652 264M468 264L509 385M776 413L609 282M577 112L532 266M534 420L557 182M579 167L502 259M534 201L529 234M565 356L847 415M808 415L636 351M537 326L577 82M669 351L612 321M743 351L534 420M743 351L570 266M470 295L631 64M653 286L585 246M575 208L585 246M629 415L585 246M577 112L612 321M815 382L634 244M472 390L515 174M534 420L567 382M642 200L659 65M550 119L569 289M526 72L612 321M500 293L653 286M636 351L535 383M557 229L642 310M474 110L609 282M597 417L634 244M847 415L570 266M636 351L652 264M472 390L569 289M473 142L472 174M515 174L652 264M579 167L532 296M565 356L609 282M472 174L586 311M607 239L642 310M636 351L537 353M515 174L607 239M577 112L534 201M666 385L475 420M534 201L653 286M515 174L529 234M565 418L569 289M468 264L497 59M472 174L563 136M532 266L565 418M532 266L585 246M642 200L652 264M532 266L510 351M475 420L602 382M563 136L577 82M631 64L607 239M629 415L468 358M515 174L577 82M472 390L642 310M534 420L634 244M607 239L653 286M653 286L642 310M637 144L535 383M500 236L532 266M612 321L609 282M557 182L639 169M537 326L563 136M636 90L472 323M815 348L569 289M473 142L607 239M500 293L475 420M843 382L607 239M607 86L642 200M475 420L570 266M472 233L585 246M575 208L586 311M563 136L569 289M607 115L570 266M537 353L597 417M472 233L509 385M510 351L609 282M815 348L585 246M815 382L808 415M472 174L652 264M470 203L497 152M510 351L505 415M529 234L472 390M537 326L607 239M596 356L567 333M498 209L570 266M468 358L642 310M472 174L653 286M560 61L468 264M569 289L585 246M639 169L570 266M473 142L585 246M550 119L585 246M550 87L577 112M607 115L642 310M637 144L653 286M567 382L634 244M529 234L475 420M736 415L607 239M636 351L607 239M639 169L472 323M504 321L537 326M815 348L634 244M470 203L502 259M847 415L567 382M612 197L607 239M472 390L642 200M473 142L586 311M474 110L570 266M472 233L534 201M579 167L637 144M472 323L634 244M743 351L776 413M515 174L586 311M475 420L847 415M706 350L629 415M596 356L470 203M611 142L636 380M629 415L570 266M567 382L586 311M473 142L570 266M529 234L544 157M808 415L706 350M512 106L652 264M611 142L498 209M642 200L612 197M629 415L577 82M550 87L634 244M596 356L586 311M565 356L510 351M470 295L550 87M637 144L569 289M505 415L550 87M669 351L636 380M631 64L634 244M502 259L652 264M636 380L567 382M472 390L512 106M509 385L585 246M636 380L550 87M537 353L664 413M808 415L569 289M597 417L586 311M631 64L653 286M473 142L609 282M738 383L607 239M631 64L585 246M537 326L639 169M596 356L585 246M776 413L634 244M706 350L612 321M497 152L569 289M468 264L570 266M473 142L652 264M500 236L515 174M470 203L557 182M585 246L609 282M474 110L497 59M612 197L585 246M639 169L498 209M567 382L567 333M515 174L570 266M537 326L634 244M843 355L736 415M706 350L815 382M607 86L534 201M468 358L502 259M470 203L607 239M510 351L567 333M596 356L631 64" stroke="#262f5c" stroke-width="1.1" opacity="0.62" fill="none"/>
<path d="M475 420L537 353M475 420L535 383M560 61L607 115M584 142L563 136M565 356L557 229M468 264L537 326M843 355L815 348M567 333L567 382M567 382L472 390M525 141L550 119M736 415L629 415M579 167L577 112M612 197L557 229M778 382L738 383M843 355L843 382M497 59L631 64M579 167L534 201M776 413L847 415M515 174L550 119M544 157L557 182M706 350L666 385M537 353L510 351M475 420L534 420M579 167L512 106M778 382L843 382M636 380L565 356M525 141L575 208M577 112L579 167M706 350L636 351M843 355L815 348M669 351L597 417M468 358L475 420M565 418L636 380M579 167L584 142M611 169L534 201M636 380L738 383M612 197L575 208M736 415L776 413M557 182L532 296M577 112L497 152M532 296L502 259M534 420L504 321M497 152L526 72M560 61L607 86M776 413L738 383M843 355L776 351M474 79L470 203M706 350L636 380M602 382L706 350M776 413L706 350M470 203L474 79M468 358L537 353M666 385L535 383M843 355L743 351M557 229L532 266M843 355L815 382M474 79L525 141M631 64L577 112M629 415L597 417M596 356L636 380M600 61L637 144M596 356L567 382M472 390L537 353M532 296L575 208M631 64L584 142M537 353L565 418M567 382L565 418M470 295L504 321M815 348L815 382M776 413L843 355M532 266L472 323M557 229L529 234M629 415L736 415M778 382L815 348M636 380L701 413M560 61L512 106M636 380L706 350M550 87L607 86M509 385L510 351M579 167L512 106M843 382L706 383M525 141L497 59M500 236L525 141M509 385L475 420M577 82L659 65M515 174L612 197M600 61L631 64M537 326L504 321M701 413L706 383M474 110L515 174M579 167L611 142M815 382L736 415M636 351L701 413M534 420L565 418M607 86L525 141M505 415L475 420M532 266L472 323M666 385L743 351M500 236L529 234M526 72L473 142M736 415L706 350M535 383L534 420M510 351L472 390M575 208L534 201M550 119L497 59M502 259L504 321M474 110L525 141M642 200L666 151M526 72L636 90M664 413L666 385M636 380L567 382M602 382L472 390M567 333L557 229M504 321L535 383M498 209L502 259M468 264L470 203M515 174L512 106M636 380L597 417M776 351L706 350M636 90L560 61M557 229L575 208M701 413L669 351M577 82L636 117M565 356L597 417M497 59L550 119M597 417L509 385M529 234L502 259M577 82L575 208M607 115L664 127M525 141L575 208M557 229L612 197M500 293L535 383M529 234L579 167M510 351L500 236M666 385L743 351M843 382L776 351M611 169L577 82M532 266L468 264M808 415L743 351M537 353L504 321M550 119L664 127M596 356L509 385M557 182L642 200M526 72L474 79M575 208L607 115M515 174L500 293M701 413L738 383M776 413L843 355M843 382L843 355M701 413L597 417M579 167L584 142M532 266L544 157M567 333L636 380M509 385L532 296M843 355L776 413M611 142L815 382M607 115L843 382M611 169L776 351M607 86L743 351M631 64L701 413M607 86L808 415M665 99L743 351M611 169L843 355M636 90L738 383M631 64L843 382M631 64L778 382M666 151L843 355M664 127L706 350M631 64L706 383M611 142L776 351M664 127L776 351M607 115L776 413M665 99L815 382M611 169L843 355M664 127L778 382M665 99L743 351M637 144L808 415M631 64L847 415M664 127L843 382M666 151L815 382M637 144L776 413M636 90L706 383M611 169L706 350M665 99L701 413M636 117L743 351M665 99L815 348M639 169L847 415M639 169L736 415M636 117L776 413M637 144L815 348M611 169L815 382M584 142L815 382M666 151L706 350M659 65L843 355M637 144L815 348M666 151L706 383M664 127L776 413M636 117L743 351M636 90L847 415M637 144L738 383M639 169L743 351M611 169L776 413M584 142L776 351M607 115L738 383M631 64L743 351M639 169L815 348M666 151L843 355M665 99L808 415M636 90L778 382M636 117L706 383M607 115L776 351M607 86L736 415M637 144L815 348M666 151L706 383M636 90L808 415M611 142L706 350M584 142L706 383M611 142L738 383M659 65L843 382M666 151L815 348M631 64L776 351M631 64L736 415M584 142L843 382M639 169L736 415M637 144L808 415" stroke="#2f3a6a" stroke-width="0.6" opacity="0.5" fill="none"/>
<path d="M659 65L634 244M659 65L609 282M665 99L607 239M665 99L634 244M665 99L652 264M665 99L612 321M665 99L570 266M664 127L652 264M664 127L586 311" stroke="#3a4678" stroke-width="0.5" opacity="0.6" fill="none"/>
<ellipse cx="608.6" cy="278.5" rx="55.5" ry="53.5" fill="none" stroke="#e8a468" stroke-width="2.1"/>
<use href="#nd" x="497.5" y="58.6"/><use href="#q13" x="497.5" y="58.6"/>
<use href="#nd" x="559.7" y="60.9"/><use href="#q10" x="559.7" y="60.9"/>
<use href="#nd" x="599.9" y="60.9"/><use href="#q7" x="599.9" y="60.9"/>
<use href="#nd" x="631.4" y="64.3"/><use href="#q10" x="631.4" y="64.3"/>
<use href="#nd" x="659.2" y="65.3"/><use href="#q12" x="659.2" y="65.3"/>
<use href="#nd" x="474.1" y="78.7"/><use href="#q17" x="474.1" y="78.7"/>
<use href="#nd" x="526.3" y="72"/><use href="#q4" x="526.3" y="72"/>
<use href="#nd" x="550.4" y="87"/><use href="#q8" x="550.4" y="87"/>
<use href="#nd" x="577.2" y="82"/><use href="#q6" x="577.2" y="82"/>
<use href="#nd" x="606.6" y="86.4"/><use href="#q3" x="606.6" y="86.4"/>
<use href="#nd" x="635.7" y="90.4"/><use href="#q11" x="635.7" y="90.4"/>
<use href="#nd" x="664.9" y="98.7"/><use href="#q16" x="664.9" y="98.7"/>
<use href="#nd" x="474.1" y="110.5"/><use href="#q17" x="474.1" y="110.5"/>
<use href="#nd" x="511.9" y="106.4"/><use href="#q0" x="511.9" y="106.4"/>
<use href="#nd" x="549.7" y="118.8"/><use href="#q7" x="549.7" y="118.8"/>
<use href="#nd" x="577.2" y="112.1"/>
<use href="#nd" x="607.3" y="115.5"/><use href="#q6" x="607.3" y="115.5"/>
<use href="#nd" x="635.7" y="117.2"/><use href="#q14" x="635.7" y="117.2"/>
<use href="#nd" x="664.2" y="127.2"/><use href="#q2" x="664.2" y="127.2"/>
<use href="#nd" x="473.4" y="142.3"/><use href="#q17" x="473.4" y="142.3"/>
<use href="#nd" x="525.3" y="140.6"/><use href="#q12" x="525.3" y="140.6"/>
<use href="#nd" x="563.1" y="135.6"/>
<use href="#nd" x="583.8" y="142.3"/>
<use href="#nd" x="610.6" y="142.3"/><use href="#q1" x="610.6" y="142.3"/>
<use href="#nd" x="637.4" y="143.9"/><use href="#q4" x="637.4" y="143.9"/>
<use href="#nd" x="665.9" y="150.6"/><use href="#q3" x="665.9" y="150.6"/>
<use href="#nd" x="496.8" y="152.3"/><use href="#q2" x="496.8" y="152.3"/>
<use href="#nd" x="543.7" y="156.7"/><use href="#q9" x="543.7" y="156.7"/>
<use href="#nd" x="578.8" y="167.4"/><use href="#q1" x="578.8" y="167.4"/>
<use href="#nd" x="610.6" y="169"/><use href="#q4" x="610.6" y="169"/>
<use href="#nd" x="639.1" y="169"/><use href="#q5" x="639.1" y="169"/>
<use href="#nd" x="471.7" y="174.1"/><use href="#q14" x="471.7" y="174.1"/>
<use href="#nd" x="515.2" y="174.1"/><use href="#q14" x="515.2" y="174.1"/>
<use href="#nd" x="557.1" y="182.4"/><use href="#q4" x="557.1" y="182.4"/>
<use href="#nd" x="470" y="202.5"/><use href="#q8" x="470" y="202.5"/>
<use href="#nd" x="498.5" y="209.2"/><use href="#q14" x="498.5" y="209.2"/>
<use href="#nd" x="533.6" y="200.8"/><use href="#q16" x="533.6" y="200.8"/>
<use href="#nd" x="575.5" y="207.5"/><use href="#q15" x="575.5" y="207.5"/>
<use href="#nd" x="612.3" y="197.5"/><use href="#q11" x="612.3" y="197.5"/>
<use href="#nd" x="642.4" y="200.2"/><use href="#q1" x="642.4" y="200.2"/>
<use href="#nd" x="471.7" y="232.6"/><use href="#q6" x="471.7" y="232.6"/>
<use href="#nd" x="500.2" y="236"/><use href="#q4" x="500.2" y="236"/>
<use href="#nd" x="528.6" y="234.3"/><use href="#q7" x="528.6" y="234.3"/>
<use href="#nd" x="557.1" y="229.3"/><use href="#q13" x="557.1" y="229.3"/>
<use href="#nd" x="468.4" y="264.4"/><use href="#q5" x="468.4" y="264.4"/>
<use href="#nd" x="501.8" y="259.4"/><use href="#q11" x="501.8" y="259.4"/>
<use href="#nd" x="532" y="266.1"/><use href="#q0" x="532" y="266.1"/>
<use href="#nd" x="470" y="294.6"/><use href="#q16" x="470" y="294.6"/>
<use href="#nd" x="500.2" y="292.9"/><use href="#q3" x="500.2" y="292.9"/>
<use href="#nd" x="532" y="296.2"/><use href="#q14" x="532" y="296.2"/>
<use href="#nd" x="471.7" y="323"/><use href="#q4" x="471.7" y="323"/>
<use href="#nd" x="503.5" y="321.3"/><use href="#q5" x="503.5" y="321.3"/>
<use href="#nd" x="537" y="326.4"/><use href="#q1" x="537" y="326.4"/>
<use href="#nd" x="567.1" y="333.1"/><use href="#q17" x="567.1" y="333.1"/>
<use href="#nd" x="468.4" y="358.2"/><use href="#q10" x="468.4" y="358.2"/>
<use href="#nd" x="510.2" y="351.5"/><use href="#q16" x="510.2" y="351.5"/>
<use href="#nd" x="537" y="353.1"/><use href="#q7" x="537" y="353.1"/>
<use href="#nd" x="565.4" y="356.5"/><use href="#q10" x="565.4" y="356.5"/>
<use href="#nd" x="595.6" y="356.5"/><use href="#q16" x="595.6" y="356.5"/>
<use href="#nd" x="635.7" y="351.5"/><use href="#q7" x="635.7" y="351.5"/>
<use href="#nd" x="669.2" y="351.5"/><use href="#q0" x="669.2" y="351.5"/>
<use href="#nd" x="706" y="349.8"/><use href="#q14" x="706" y="349.8"/>
<use href="#nd" x="742.8" y="351.5"/><use href="#q6" x="742.8" y="351.5"/>
<use href="#nd" x="776.3" y="351.5"/><use href="#q9" x="776.3" y="351.5"/>
<use href="#nd" x="814.8" y="348.1"/><use href="#q16" x="814.8" y="348.1"/>
<use href="#nd" x="843.3" y="354.8"/><use href="#q2" x="843.3" y="354.8"/>
<use href="#nd" x="471.7" y="390"/>
<use href="#nd" x="508.5" y="384.9"/><use href="#q4" x="508.5" y="384.9"/>
<use href="#nd" x="535.3" y="383.3"/><use href="#q2" x="535.3" y="383.3"/>
<use href="#nd" x="567.1" y="381.6"/><use href="#q17" x="567.1" y="381.6"/>
<use href="#nd" x="602.3" y="381.6"/><use href="#q9" x="602.3" y="381.6"/>
<use href="#nd" x="635.7" y="379.9"/>
<use href="#nd" x="665.9" y="384.9"/><use href="#q17" x="665.9" y="384.9"/>
<use href="#nd" x="706" y="383.3"/><use href="#q14" x="706" y="383.3"/>
<use href="#nd" x="737.8" y="383.3"/><use href="#q16" x="737.8" y="383.3"/>
<use href="#nd" x="778" y="381.6"/><use href="#q3" x="778" y="381.6"/>
<use href="#nd" x="814.8" y="381.6"/><use href="#q6" x="814.8" y="381.6"/>
<use href="#nd" x="843.3" y="381.6"/><use href="#q10" x="843.3" y="381.6"/>
<use href="#nd" x="475.1" y="420.1"/><use href="#q2" x="475.1" y="420.1"/>
<use href="#nd" x="505.2" y="415.1"/><use href="#q10" x="505.2" y="415.1"/>
<use href="#nd" x="533.6" y="420.1"/><use href="#q5" x="533.6" y="420.1"/>
<use href="#nd" x="565.4" y="418.4"/><use href="#q9" x="565.4" y="418.4"/>
<use href="#nd" x="597.2" y="416.7"/><use href="#q6" x="597.2" y="416.7"/>
<use href="#nd" x="629" y="415.1"/><use href="#q2" x="629" y="415.1"/>
<use href="#nd" x="664.2" y="413.4"/><use href="#q17" x="664.2" y="413.4"/>
<use href="#nd" x="701" y="413.4"/><use href="#q7" x="701" y="413.4"/>
<use href="#nd" x="736.2" y="415.1"/><use href="#q0" x="736.2" y="415.1"/>
<use href="#nd" x="776.3" y="413.4"/><use href="#q5" x="776.3" y="413.4"/>
<use href="#nd" x="808.1" y="415.1"/><use href="#q10" x="808.1" y="415.1"/>
<use href="#nd" x="846.6" y="415.1"/><use href="#q5" x="846.6" y="415.1"/>
<use href="#nh" x="607.3" y="239.3"/><ellipse cx="607.3" cy="239.3" rx="10.8" ry="10.8" fill="#8fd8a8"/><ellipse cx="607.3" cy="239.3" rx="10.8" ry="10.8" fill="url(#hl)" stroke="#444" stroke-width="0.6" stroke-opacity="0.5"/><use href="#q13" x="607.3" y="239.3"/>
<use href="#nh" x="634.1" y="244.4"/><ellipse cx="634.1" cy="244.4" rx="10.8" ry="10.8" fill="#a884dc"/><ellipse cx="634.1" cy="244.4" rx="10.8" ry="10.8" fill="url(#hl)" stroke="#444" stroke-width="0.6" stroke-opacity="0.5"/><use href="#q2" x="634.1" y="244.4"/>
<use href="#nh" x="652.5" y="264.4"/><ellipse cx="652.5" cy="264.4" rx="10.8" ry="10.8" fill="#9cc8ec"/><ellipse cx="652.5" cy="264.4" rx="10.8" ry="10.8" fill="url(#hl)" stroke="#444" stroke-width="0.6" stroke-opacity="0.5"/><use href="#q16" x="652.5" y="264.4"/>
<use href="#nh" x="653.5" y="286.2"/><ellipse cx="653.5" cy="286.2" rx="10.8" ry="10.8" fill="#6cbf58"/><ellipse cx="653.5" cy="286.2" rx="10.8" ry="10.8" fill="url(#hl)" stroke="#444" stroke-width="0.6" stroke-opacity="0.5"/><use href="#q1" x="653.5" y="286.2"/>
<use href="#nh" x="641.8" y="309.6"/><ellipse cx="641.8" cy="309.6" rx="10.8" ry="10.8" fill="#a8d860"/><ellipse cx="641.8" cy="309.6" rx="10.8" ry="10.8" fill="url(#hl)" stroke="#444" stroke-width="0.6" stroke-opacity="0.5"/><use href="#q16" x="641.8" y="309.6"/>
<use href="#nh" x="612.3" y="320.7"/><ellipse cx="612.3" cy="320.7" rx="10.8" ry="10.8" fill="#d89878"/><ellipse cx="612.3" cy="320.7" rx="10.8" ry="10.8" fill="url(#hl)" stroke="#444" stroke-width="0.6" stroke-opacity="0.5"/><use href="#q14" x="612.3" y="320.7"/>
<use href="#nh" x="585.5" y="311.3"/><ellipse cx="585.5" cy="311.3" rx="10.8" ry="10.8" fill="#5f6fd0"/><ellipse cx="585.5" cy="311.3" rx="10.8" ry="10.8" fill="url(#hl)" stroke="#444" stroke-width="0.6" stroke-opacity="0.5"/><use href="#q2" x="585.5" y="311.3"/>
<use href="#nh" x="568.8" y="288.5"/><ellipse cx="568.8" cy="288.5" rx="10.8" ry="10.8" fill="#f0c49a"/><ellipse cx="568.8" cy="288.5" rx="10.8" ry="10.8" fill="url(#hl)" stroke="#444" stroke-width="0.6" stroke-opacity="0.5"/><use href="#q1" x="568.8" y="288.5"/>
<use href="#nh" x="570.5" y="266.1"/><ellipse cx="570.5" cy="266.1" rx="10.8" ry="10.8" fill="#c9c24e"/><ellipse cx="570.5" cy="266.1" rx="10.8" ry="10.8" fill="url(#hl)" stroke="#444" stroke-width="0.6" stroke-opacity="0.5"/><use href="#q5" x="570.5" y="266.1"/>
<use href="#nh" x="584.5" y="246"/><ellipse cx="584.5" cy="246" rx="10.8" ry="10.8" fill="#63c2b4"/><ellipse cx="584.5" cy="246" rx="10.8" ry="10.8" fill="url(#hl)" stroke="#444" stroke-width="0.6" stroke-opacity="0.5"/><use href="#q6" x="584.5" y="246"/>
<use href="#nh" x="609" y="281.8"/><ellipse cx="609" cy="281.8" rx="10.8" ry="10.8" fill="#d8404c"/><ellipse cx="609" cy="281.8" rx="10.8" ry="10.8" fill="url(#hl)" stroke="#444" stroke-width="0.6" stroke-opacity="0.5"/><use href="#q5" x="609" y="281.8"/>
<path d="M1136 254L1158 275M1100 131L1083 325M1063 99L1112 291M1136 152L1160 303M1096 72L1113 333M1100 131L1059 279M1100 131L1061 311M1136 254L1073 257M1108 211L1059 279M1163 67L1158 275M1096 99L1112 291M1071 181L1061 311M1068 156L1160 303M1061 67L1059 279M1063 99L1160 303M1134 183L1112 291M1126 66L1112 291M1101 161L1144 325M1163 67L1160 303M1071 209L1144 325M1096 72L1083 325M1144 325L1113 333M1162 95L1108 248M1064 132L1136 254M1108 211L1083 325M1130 129L1061 311M1108 211L1160 303M1134 183L1144 325M1130 129L1112 291M1162 95L1059 279M1162 95L1073 257M1064 132L1112 291M1140 208L1113 333M1063 99L1108 248M1136 254L1112 291M1061 311L1059 279M1071 209L1061 311M1144 325L1059 279M1071 181L1083 325M1059 279L1073 257M1061 67L1136 254M1071 181L1112 291M1130 129L1144 325M1130 129L1059 279M1126 66L1160 303M1134 183L1073 257M1162 95L1083 325M1130 129L1108 248M1160 124L1144 325M1071 209L1108 248M1160 303L1073 257M1162 95L1113 333M1162 95L1136 254M1105 186L1108 248M1096 72L1061 311M1113 333L1083 325M1105 186L1136 254M1130 97L1136 254M1068 156L1112 291M1160 124L1073 257M1101 161L1059 279M1096 99L1144 325M1063 99L1158 275M1096 72L1158 275M1108 211L1158 275M1064 132L1059 279M1140 208L1158 275M1160 303L1112 291M1108 248L1073 257M1068 156L1113 333M1158 275L1061 311M1160 124L1059 279M1061 67L1160 303M1162 95L1112 291M1140 208L1108 248M1100 131L1136 254M1100 131L1158 275M1144 325L1073 257M1140 208L1144 325M1126 66L1108 248M1108 211L1136 254M1136 152L1059 279M1126 66L1073 257M1096 99L1136 254M1063 99L1073 257M1134 183L1083 325M1134 183L1108 248M1136 254L1144 325M1144 325L1112 291M1136 152L1083 325M1158 275L1059 279M1068 156L1108 248M1158 275L1112 291" stroke="#262f5c" stroke-width="1.1" opacity="0.62" fill="none"/>
<path d="M1105 186L1059 279M1108 211L1108 248M1068 156L1158 275M1071 181L1158 275M1136 152L1108 248M1096 99L1061 311M1083 325L1073 257M1101 161L1112 291M1130 97L1083 325M1108 211L1112 291M1126 66L1144 325M1163 67L1112 291M1113 333L1073 257M1064 132L1108 248M1160 303L1113 333M1064 132L1061 311M1071 181L1073 257M1064 132L1113 333M1130 129L1073 257M1071 181L1136 254M1136 152L1136 254M1113 333L1112 291M1061 67L1144 325M1134 183L1061 311M1101 161L1113 333M1136 152L1112 291M1105 186L1073 257M1063 99L1083 325M1162 95L1061 311M1071 181L1144 325M1130 129L1083 325M1100 131L1073 257M1063 99L1061 311M1105 186L1112 291M1160 303L1061 311M1061 67L1061 311M1064 132L1158 275M1140 208L1061 311M1064 132L1144 325M1108 248L1160 303M1136 152L1061 311M1071 209L1059 279M1096 99L1073 257M1136 254L1083 325M1108 248L1061 311M1101 161L1158 275M1130 97L1112 291M1064 132L1160 303M1126 66L1158 275M1108 248L1113 333M1160 124L1061 311M1130 97L1144 325M1130 97L1113 333M1158 275L1073 257M1096 72L1112 291M1130 97L1073 257M1163 67L1113 333M1160 124L1108 248M1068 156L1059 279M1140 208L1059 279M1108 211L1113 333M1105 186L1083 325M1108 211L1061 311M1096 99L1059 279M1136 254L1160 303M1100 131L1160 303M1140 208L1073 257M1130 97L1108 248M1100 131L1113 333M1096 99L1108 248M1101 161L1136 254M1101 161L1083 325M1130 97L1160 303M1126 66L1059 279M1140 208L1136 254M1134 183L1160 303M1130 129L1136 254M1136 152L1144 325M1061 311L1112 291M1071 209L1136 254M1059 279L1112 291M1130 97L1059 279M1061 311L1073 257M1105 186L1113 333M1136 254L1059 279M1061 67L1112 291M1071 181L1113 333M1101 161L1073 257M1101 161L1061 311M1136 254L1061 311M1126 66L1083 325M1061 67L1073 257" stroke="#262f5c" stroke-width="1.1" opacity="0.62" fill="none"/>
<path d="M1071 209L1158 275M1160 124L1112 291M1113 333L1059 279M1061 67L1083 325M1126 66L1061 311M1134 183L1136 254M1108 248L1083 325M1160 303L1059 279M1071 209L1160 303M1096 72L1059 279M1071 209L1113 333M1073 257L1112 291M1130 97L1158 275M1071 209L1073 257M1061 67L1158 275M1071 181L1059 279M1130 129L1113 333M1158 275L1083 325M1108 211L1144 325M1108 211L1073 257M1096 72L1160 303M1105 186L1160 303M1163 67L1061 311M1134 183L1158 275M1071 209L1112 291M1108 248L1158 275M1096 99L1158 275M1158 275L1144 325M1096 72L1144 325M1063 99L1059 279M1162 95L1144 325M1068 156L1061 311M1063 99L1144 325M1096 99L1113 333M1108 248L1059 279M1096 72L1108 248M1083 325L1059 279M1100 131L1108 248M1140 208L1112 291M1113 333L1061 311M1100 131L1112 291M1130 129L1158 275M1068 156L1073 257M1160 124L1158 275M1071 181L1160 303M1136 152L1158 275M1160 303L1083 325M1105 186L1158 275M1071 209L1083 325M1108 248L1144 325M1105 186L1061 311M1136 152L1073 257M1071 181L1108 248M1134 183L1059 279M1108 248L1136 254M1108 248L1112 291M1140 208L1160 303M1096 99L1083 325M1144 325L1083 325M1105 186L1144 325M1163 67L1059 279M1096 72L1136 254M1140 208L1083 325M1101 161L1108 248M1068 156L1136 254M1061 67L1108 248M1063 99L1136 254M1064 132L1073 257M1096 99L1160 303M1160 124L1113 333M1158 275L1113 333M1163 67L1073 257M1096 72L1073 257M1163 67L1144 325M1162 95L1160 303M1083 325L1061 311M1163 67L1083 325M1130 97L1061 311M1158 275L1160 303M1160 303L1144 325M1136 254L1113 333M1163 67L1108 248M1144 325L1061 311M1163 67L1136 254M1068 156L1083 325M1160 124L1136 254M1162 95L1158 275M1126 66L1136 254M1160 124L1160 303M1083 325L1112 291M1068 156L1144 325M1101 161L1160 303" stroke="#262f5c" stroke-width="1.1" opacity="0.62" fill="none"/>
<path d="M1071 181L1061 67M1101 161L1061 67M1004 390L1101 413M1003 89L1033 136M1188 390L1282 363M1163 67L1063 99M1140 208L1160 124M999 269L1003 341M1034 112L1008 177M1130 97L1160 124M1232 415L1249 363M1163 67L1162 95" stroke="#2f3a6a" stroke-width="0.6" opacity="0.5" fill="none"/>
<path d="M976 69L1073 257M1003 65L1113 333M972 99L1136 254M1003 89L1144 325M1003 89L1083 325M1003 89L1112 291M1039 88L1158 275M1039 88L1160 303M1039 88L1113 333M1039 88L1073 257M971 131L1108 248M971 131L1136 254M971 131L1083 325M971 131L1059 279M997 119L1158 275M997 119L1160 303M971 162L1061 311M971 162L1112 291M1033 136L1108 248M1033 136L1113 333M1039 159L1158 275M1039 159L1061 311M971 191L1108 248M971 191L1112 291M1008 177L1112 291M1039 191L1108 248M1039 191L1136 254M1039 191L1158 275M1039 191L1083 325M1039 191L1059 279M1006 214L1136 254M1006 214L1073 257M1043 219L1108 248M1043 219L1136 254M1043 219L1083 325M1043 219L1061 311M971 234L1073 257M999 243L1061 311M1044 248L1158 275M1044 248L1073 257M971 263L1108 248M971 263L1061 311M999 269L1108 248M999 269L1113 333M1029 271L1160 303M969 291L1158 275M969 291L1144 325M969 291L1059 279M969 291L1073 257M998 291L1059 279M1023 293L1160 303M969 313L1136 254M999 316L1160 303M1028 323L1108 248M1028 323L1160 303M1028 323L1113 333M1003 341L1113 333M1003 341L1061 311M1053 345L1083 325M964 365L1136 254M964 365L1144 325M964 365L1061 311M964 365L1073 257M994 367L1083 325M994 367L1059 279M994 367L1073 257M1024 368L1083 325M1024 368L1059 279M1051 368L1144 325M1051 368L1073 257M1086 362L1136 254M1086 362L1083 325M1086 362L1112 291M1115 363L1136 254M1115 363L1113 333M1115 363L1112 291M1183 365L1108 248M1183 365L1136 254M1217 365L1136 254M1217 365L1061 311M1217 365L1073 257M1282 363L1073 257M1282 363L1112 291M1317 362L1083 325M1317 362L1061 311M972 387L1136 254M972 387L1113 333M972 387L1061 311M1004 390L1083 325M1068 387L1112 291M1101 388L1158 275M1135 387L1158 275M1162 390L1108 248M1162 390L1059 279M1188 390L1108 248M1188 390L1136 254M1220 388L1108 248M1220 388L1059 279M1220 388L1073 257M1254 390L1158 275M1287 387L1108 248M1287 387L1158 275M1287 387L1112 291M1327 387L1144 325M1327 387L1112 291M1000 413L1158 275M1000 413L1144 325M1000 413L1059 279M1066 412L1144 325M1066 412L1113 333M1101 413L1059 279M1135 412L1083 325M1172 415L1113 333M1232 415L1158 275M1232 415L1144 325M1232 415L1073 257M1269 415L1144 325M1295 412L1136 254M1295 412L1144 325M1327 415L1061 311M1327 415L1059 279M1327 415L1073 257" stroke="#3a4678" stroke-width="1.0" opacity="0.7" fill="none"/>
<path d="M1061 67L1108 248M1061 67L1136 254M1061 67L1160 303M1061 67L1144 325M1061 67L1113 333M1061 67L1083 325M1061 67L1059 279M1061 67L1073 257M1061 67L1112 291M1096 72L1108 248M1096 72L1136 254M1096 72L1160 303M1096 72L1144 325M1096 72L1113 333M1096 72L1083 325M1096 72L1059 279M1096 72L1073 257M1096 72L1112 291M1126 66L1108 248M1126 66L1136 254M1126 66L1158 275M1126 66L1160 303M1126 66L1144 325M1126 66L1113 333M1126 66L1083 325M1126 66L1061 311M1126 66L1059 279M1126 66L1073 257M1126 66L1112 291M1163 67L1108 248M1163 67L1136 254M1163 67L1160 303M1163 67L1144 325M1163 67L1113 333M1163 67L1083 325M1163 67L1059 279M1163 67L1073 257M1163 67L1112 291M1063 99L1108 248M1063 99L1136 254M1063 99L1158 275M1063 99L1160 303M1063 99L1144 325M1063 99L1113 333M1063 99L1083 325M1063 99L1061 311M1063 99L1059 279M1063 99L1073 257M1063 99L1112 291M1096 99L1108 248M1096 99L1136 254M1096 99L1158 275M1096 99L1160 303M1096 99L1144 325M1096 99L1113 333M1096 99L1083 325M1096 99L1061 311M1096 99L1059 279M1096 99L1073 257M1096 99L1112 291M1130 97L1108 248M1130 97L1136 254M1130 97L1158 275M1130 97L1160 303M1130 97L1144 325M1130 97L1113 333M1130 97L1061 311M1130 97L1059 279M1130 97L1073 257M1130 97L1112 291M1162 95L1108 248M1162 95L1136 254M1162 95L1158 275M1162 95L1160 303M1162 95L1144 325M1162 95L1113 333M1162 95L1083 325M1162 95L1061 311M1162 95L1059 279M1162 95L1073 257M1162 95L1112 291M1064 132L1108 248M1064 132L1136 254M1064 132L1160 303M1064 132L1144 325M1064 132L1113 333M1064 132L1083 325M1064 132L1061 311M1064 132L1059 279M1064 132L1073 257M1064 132L1112 291M1100 131L1108 248M1100 131L1158 275M1100 131L1160 303M1100 131L1144 325M1100 131L1113 333M1100 131L1083 325M1100 131L1061 311M1100 131L1059 279M1100 131L1073 257M1100 131L1112 291M1130 129L1108 248M1130 129L1136 254M1130 129L1158 275M1130 129L1160 303M1130 129L1083 325M1130 129L1061 311M1130 129L1059 279M1130 129L1073 257M1130 129L1112 291M1160 124L1108 248M1160 124L1136 254M1160 124L1158 275M1160 124L1160 303M1160 124L1144 325M1160 124L1113 333M1160 124L1083 325M1160 124L1061 311M1160 124L1059 279M1160 124L1073 257M1160 124L1112 291M1068 156L1108 248M1068 156L1136 254M1068 156L1158 275M1068 156L1160 303M1068 156L1113 333M1068 156L1083 325M1068 156L1061 311M1068 156L1059 279M1068 156L1073 257M1068 156L1112 291M1101 161L1108 248M1101 161L1136 254M1101 161L1158 275M1101 161L1160 303M1101 161L1113 333M1101 161L1083 325M1101 161L1061 311M1101 161L1073 257M1101 161L1112 291M1136 152L1108 248M1136 152L1136 254M1136 152L1160 303M1136 152L1144 325M1136 152L1113 333M1136 152L1083 325M1136 152L1061 311M1136 152L1059 279M1136 152L1073 257M1136 152L1112 291M1071 181L1108 248M1071 181L1136 254M1071 181L1158 275M1071 181L1160 303M1071 181L1144 325M1071 181L1083 325M1071 181L1061 311M1071 181L1059 279M1071 181L1073 257M1071 181L1112 291M1105 186L1108 248M1105 186L1136 254M1105 186L1158 275M1105 186L1144 325M1105 186L1113 333M1105 186L1083 325M1105 186L1061 311M1105 186L1059 279M1105 186L1073 257M1105 186L1112 291M1134 183L1136 254M1134 183L1158 275M1134 183L1160 303M1134 183L1144 325M1134 183L1113 333M1134 183L1083 325M1134 183L1061 311M1134 183L1059 279M1134 183L1073 257M1071 209L1108 248M1071 209L1136 254M1071 209L1158 275M1071 209L1160 303M1071 209L1144 325M1071 209L1113 333M1071 209L1061 311M1071 209L1059 279M1071 209L1073 257M1071 209L1112 291M1108 211L1108 248M1108 211L1136 254M1108 211L1158 275M1108 211L1160 303M1108 211L1144 325M1108 211L1113 333M1108 211L1083 325M1108 211L1061 311M1108 211L1059 279M1108 211L1073 257M1108 211L1112 291M1140 208L1108 248M1140 208L1158 275M1140 208L1160 303M1140 208L1144 325M1140 208L1113 333M1140 208L1083 325M1140 208L1061 311M1140 208L1059 279M1140 208L1073 257M1140 208L1112 291M1061 67L1126 66M1061 67L1096 99M1061 67L1100 131M1061 67L1130 129M1061 67L1068 156M1061 67L1134 183M1061 67L1108 211M1096 72L1126 66M1096 72L1063 99M1096 72L1096 99M1096 72L1130 97M1096 72L1162 95M1096 72L1160 124M1096 72L1101 161M1096 72L1108 211M1096 72L1140 208M1126 66L1063 99M1126 66L1096 99M1126 66L1130 97M1126 66L1064 132M1126 66L1100 131M1126 66L1068 156M1126 66L1101 161M1126 66L1105 186M1126 66L1134 183M1126 66L1071 209M1126 66L1140 208M1163 67L1096 99M1163 67L1130 97M1163 67L1162 95M1163 67L1100 131M1163 67L1130 129M1163 67L1160 124M1163 67L1068 156M1163 67L1101 161M1163 67L1071 181M1163 67L1134 183M1163 67L1071 209M1163 67L1108 211M1163 67L1140 208M1063 99L1162 95M1063 99L1064 132M1063 99L1071 181M1063 99L1134 183M1063 99L1140 208M1096 99L1130 97M1096 99L1064 132M1096 99L1136 152M1096 99L1105 186M1096 99L1134 183M1096 99L1071 209M1096 99L1108 211M1130 97L1064 132M1130 97L1130 129M1130 97L1068 156M1130 97L1101 161M1130 97L1136 152M1130 97L1140 208M1162 95L1100 131M1162 95L1160 124M1162 95L1136 152M1162 95L1105 186M1162 95L1108 211M1064 132L1100 131M1064 132L1160 124M1064 132L1068 156M1064 132L1136 152M1064 132L1071 181M1064 132L1134 183M1064 132L1071 209M1064 132L1108 211M1100 131L1130 129M1100 131L1160 124M1100 131L1068 156M1100 131L1136 152M1100 131L1134 183M1100 131L1071 209M1100 131L1108 211M1100 131L1140 208M1130 129L1160 124M1130 129L1101 161M1130 129L1136 152M1130 129L1105 186M1130 129L1134 183M1130 129L1108 211M1160 124L1071 181M1160 124L1134 183M1160 124L1071 209M1068 156L1136 152M1068 156L1105 186M1068 156L1134 183M1068 156L1071 209M1101 161L1134 183M1101 161L1108 211M1071 181L1071 209M1071 181L1140 208M1105 186L1134 183M1105 186L1108 211M1134 183L1071 209M1134 183L1140 208M1071 209L1108 211M1071 209L1140 208M1108 211L1140 208" stroke="#232b58" stroke-width="1.6" opacity="0.6" fill="none"/>
<ellipse cx="1108" cy="291.9" rx="67.5" ry="59.5" fill="none" stroke="#f2cc5a" stroke-width="2.8"/>
<use href="#nd3" x="975.8" y="68.6"/><use href="#q6" x="975.8" y="68.6"/>
<use href="#nd3" x="1002.5" y="65.3"/><use href="#q13" x="1002.5" y="65.3"/>
<use href="#nd3" x="1030.3" y="62.9"/><use href="#q4" x="1030.3" y="62.9"/>
<use href="#nd3" x="1061.1" y="66.9"/><use href="#q17" x="1061.1" y="66.9"/>
<use href="#nd3" x="1096.3" y="72"/><use href="#q11" x="1096.3" y="72"/>
<use href="#nd3" x="1126.4" y="66.3"/>
<use href="#nd3" x="1163.2" y="66.9"/><use href="#q14" x="1163.2" y="66.9"/>
<use href="#nd3" x="972.4" y="98.7"/><use href="#q10" x="972.4" y="98.7"/>
<use href="#nd3" x="1002.5" y="88.7"/><use href="#q15" x="1002.5" y="88.7"/>
<use href="#nd3" x="1039.4" y="87.7"/><use href="#q6" x="1039.4" y="87.7"/>
<use href="#nd3" x="1062.8" y="98.7"/><use href="#q17" x="1062.8" y="98.7"/>
<use href="#nd3" x="1096.3" y="98.7"/><use href="#q14" x="1096.3" y="98.7"/>
<use href="#nd3" x="1129.7" y="97.1"/><use href="#q1" x="1129.7" y="97.1"/>
<use href="#nd3" x="1162.2" y="95.4"/><use href="#q12" x="1162.2" y="95.4"/>
<use href="#nd3" x="970.7" y="130.5"/><use href="#q15" x="970.7" y="130.5"/>
<use href="#nd3" x="996.8" y="118.8"/><use href="#q9" x="996.8" y="118.8"/>
<use href="#nd3" x="1034.3" y="112.1"/><use href="#q15" x="1034.3" y="112.1"/>
<use href="#nd3" x="1064.5" y="132.2"/><use href="#q5" x="1064.5" y="132.2"/>
<use href="#nd3" x="1099.6" y="130.5"/><use href="#q16" x="1099.6" y="130.5"/>
<use href="#nd3" x="1129.7" y="128.9"/><use href="#q1" x="1129.7" y="128.9"/>
<use href="#nd3" x="1159.9" y="123.8"/><use href="#q9" x="1159.9" y="123.8"/>
<use href="#nd3" x="970.7" y="162.3"/><use href="#q4" x="970.7" y="162.3"/>
<use href="#nd3" x="1000.9" y="147.3"/><use href="#q17" x="1000.9" y="147.3"/>
<use href="#nd3" x="1032.7" y="135.6"/><use href="#q10" x="1032.7" y="135.6"/>
<use href="#nd3" x="1039.4" y="159"/><use href="#q15" x="1039.4" y="159"/>
<use href="#nd3" x="1067.8" y="155.6"/><use href="#q9" x="1067.8" y="155.6"/>
<use href="#nd3" x="1101.3" y="160.7"/><use href="#q0" x="1101.3" y="160.7"/>
<use href="#nd3" x="1136.4" y="152.3"/><use href="#q8" x="1136.4" y="152.3"/>
<use href="#nd3" x="971.4" y="190.8"/><use href="#q0" x="971.4" y="190.8"/>
<use href="#nd3" x="1007.6" y="177.4"/><use href="#q10" x="1007.6" y="177.4"/>
<use href="#nd3" x="1039.4" y="190.8"/><use href="#q7" x="1039.4" y="190.8"/>
<use href="#nd3" x="1071.2" y="180.8"/>
<use href="#nd3" x="1104.6" y="185.8"/><use href="#q7" x="1104.6" y="185.8"/>
<use href="#nd3" x="1134.1" y="183.4"/><use href="#q17" x="1134.1" y="183.4"/>
<use href="#nd3" x="1005.9" y="214.2"/><use href="#q13" x="1005.9" y="214.2"/>
<use href="#nd3" x="1042.7" y="219.2"/><use href="#q17" x="1042.7" y="219.2"/>
<use href="#nd3" x="1071.2" y="209.2"/><use href="#q7" x="1071.2" y="209.2"/>
<use href="#nd3" x="1108" y="210.9"/><use href="#q12" x="1108" y="210.9"/>
<use href="#nd3" x="1139.8" y="207.5"/><use href="#q2" x="1139.8" y="207.5"/>
<use href="#nd3" x="970.7" y="234.3"/><use href="#q3" x="970.7" y="234.3"/>
<use href="#nd3" x="999.2" y="242.7"/><use href="#q6" x="999.2" y="242.7"/>
<use href="#nd3" x="1044.4" y="247.7"/><use href="#q5" x="1044.4" y="247.7"/>
<use href="#nd3" x="970.7" y="262.8"/><use href="#q15" x="970.7" y="262.8"/>
<use href="#nd3" x="999.2" y="269.5"/><use href="#q8" x="999.2" y="269.5"/>
<use href="#nd3" x="1029.3" y="271.1"/><use href="#q12" x="1029.3" y="271.1"/>
<use href="#nd3" x="969.1" y="291.2"/><use href="#q3" x="969.1" y="291.2"/>
<use href="#nd3" x="997.5" y="291.2"/><use href="#q16" x="997.5" y="291.2"/>
<use href="#nd3" x="1022.6" y="292.9"/><use href="#q6" x="1022.6" y="292.9"/>
<use href="#nd3" x="969.1" y="313"/><use href="#q4" x="969.1" y="313"/>
<use href="#nd3" x="999.2" y="316.3"/><use href="#q5" x="999.2" y="316.3"/>
<use href="#nd3" x="1027.6" y="323"/><use href="#q9" x="1027.6" y="323"/>
<use href="#nd3" x="969.1" y="339.7"/><use href="#q16" x="969.1" y="339.7"/>
<use href="#nd3" x="1002.5" y="341.4"/><use href="#q4" x="1002.5" y="341.4"/>
<use href="#nd3" x="1052.7" y="344.8"/>
<use href="#nd3" x="964" y="364.9"/><use href="#q8" x="964" y="364.9"/>
<use href="#nd3" x="994.2" y="366.5"/><use href="#q17" x="994.2" y="366.5"/>
<use href="#nd3" x="1024.3" y="368.2"/><use href="#q6" x="1024.3" y="368.2"/>
<use href="#nd3" x="1051.1" y="368.2"/><use href="#q1" x="1051.1" y="368.2"/>
<use href="#nd3" x="1086.2" y="361.5"/><use href="#q11" x="1086.2" y="361.5"/>
<use href="#nd3" x="1114.7" y="363.2"/><use href="#q16" x="1114.7" y="363.2"/>
<use href="#nd3" x="1148.1" y="363.2"/><use href="#q17" x="1148.1" y="363.2"/>
<use href="#nd3" x="1183.3" y="364.9"/><use href="#q1" x="1183.3" y="364.9"/>
<use href="#nd3" x="1216.8" y="364.9"/><use href="#q15" x="1216.8" y="364.9"/>
<use href="#nd3" x="1248.6" y="363.2"/><use href="#q7" x="1248.6" y="363.2"/>
<use href="#nd3" x="1282" y="363.2"/>
<use href="#nd3" x="1317.2" y="361.5"/><use href="#q3" x="1317.2" y="361.5"/>
<use href="#nd3" x="972.4" y="386.6"/><use href="#q9" x="972.4" y="386.6"/>
<use href="#nd3" x="1004.2" y="390"/><use href="#q9" x="1004.2" y="390"/>
<use href="#nd3" x="1041" y="390"/><use href="#q7" x="1041" y="390"/>
<use href="#nd3" x="1067.8" y="386.6"/><use href="#q9" x="1067.8" y="386.6"/>
<use href="#nd3" x="1101.3" y="388.3"/><use href="#q10" x="1101.3" y="388.3"/>
<use href="#nd3" x="1134.8" y="386.6"/><use href="#q16" x="1134.8" y="386.6"/>
<use href="#nd3" x="1161.5" y="390"/><use href="#q7" x="1161.5" y="390"/>
<use href="#nd3" x="1188.3" y="390"/><use href="#q6" x="1188.3" y="390"/>
<use href="#nd3" x="1220.1" y="388.3"/><use href="#q10" x="1220.1" y="388.3"/>
<use href="#nd3" x="1253.6" y="390"/><use href="#q1" x="1253.6" y="390"/>
<use href="#nd3" x="1287.1" y="386.6"/><use href="#q1" x="1287.1" y="386.6"/>
<use href="#nd3" x="1327.2" y="386.6"/><use href="#q12" x="1327.2" y="386.6"/>
<use href="#nd3" x="970.7" y="411.7"/><use href="#q16" x="970.7" y="411.7"/>
<use href="#nd3" x="1000.2" y="413.4"/><use href="#q13" x="1000.2" y="413.4"/>
<use href="#nd3" x="1034.3" y="413.4"/><use href="#q0" x="1034.3" y="413.4"/>
<use href="#nd3" x="1066.1" y="411.7"/><use href="#q8" x="1066.1" y="411.7"/>
<use href="#nd3" x="1101.3" y="413.4"/><use href="#q2" x="1101.3" y="413.4"/>
<use href="#nd3" x="1134.8" y="411.7"/><use href="#q16" x="1134.8" y="411.7"/>
<use href="#nd3" x="1171.6" y="415.1"/><use href="#q17" x="1171.6" y="415.1"/>
<use href="#nd3" x="1203.4" y="415.1"/><use href="#q2" x="1203.4" y="415.1"/>
<use href="#nd3" x="1231.8" y="415.1"/><use href="#q13" x="1231.8" y="415.1"/>
<use href="#nd3" x="1268.6" y="415.1"/><use href="#q7" x="1268.6" y="415.1"/>
<use href="#nd3" x="1295.4" y="411.7"/><use href="#q9" x="1295.4" y="411.7"/>
<use href="#nd3" x="1327.2" y="415.1"/><use href="#q7" x="1327.2" y="415.1"/>
<use href="#nh" x="1108" y="247.7"/><ellipse cx="1108" cy="247.7" rx="11.7" ry="10.3" fill="#a884dc"/><ellipse cx="1108" cy="247.7" rx="11.7" ry="10.3" fill="url(#hl)" stroke="#444" stroke-width="0.6" stroke-opacity="0.5"/><use href="#q14" x="1108" y="247.7"/>
<use href="#nh" x="1136.4" y="254.4"/><ellipse cx="1136.4" cy="254.4" rx="11.7" ry="10.3" fill="#8fd8a8"/><ellipse cx="1136.4" cy="254.4" rx="11.7" ry="10.3" fill="url(#hl)" stroke="#444" stroke-width="0.6" stroke-opacity="0.5"/><use href="#q10" x="1136.4" y="254.4"/>
<use href="#nh" x="1158.2" y="275.1"/><ellipse cx="1158.2" cy="275.1" rx="11.7" ry="10.3" fill="#bfe060"/><ellipse cx="1158.2" cy="275.1" rx="11.7" ry="10.3" fill="url(#hl)" stroke="#444" stroke-width="0.6" stroke-opacity="0.5"/><use href="#q10" x="1158.2" y="275.1"/>
<use href="#nh" x="1159.9" y="302.9"/><ellipse cx="1159.9" cy="302.9" rx="11.7" ry="10.3" fill="#63c2b4"/><ellipse cx="1159.9" cy="302.9" rx="11.7" ry="10.3" fill="url(#hl)" stroke="#444" stroke-width="0.6" stroke-opacity="0.5"/><use href="#q1" x="1159.9" y="302.9"/>
<use href="#nh" x="1144.1" y="324.7"/><ellipse cx="1144.1" cy="324.7" rx="11.7" ry="10.3" fill="#6cbf58"/><ellipse cx="1144.1" cy="324.7" rx="11.7" ry="10.3" fill="url(#hl)" stroke="#444" stroke-width="0.6" stroke-opacity="0.5"/>
<use href="#nh" x="1113" y="333.1"/><ellipse cx="1113" cy="333.1" rx="11.7" ry="10.3" fill="#5f6fd0"/><ellipse cx="1113" cy="333.1" rx="11.7" ry="10.3" fill="url(#hl)" stroke="#444" stroke-width="0.6" stroke-opacity="0.5"/>
<use href="#nh" x="1082.9" y="325.4"/><ellipse cx="1082.9" cy="325.4" rx="11.7" ry="10.3" fill="#f0c49a"/><ellipse cx="1082.9" cy="325.4" rx="11.7" ry="10.3" fill="url(#hl)" stroke="#444" stroke-width="0.6" stroke-opacity="0.5"/><use href="#q13" x="1082.9" y="325.4"/>
<use href="#nh" x="1061.1" y="310.6"/><ellipse cx="1061.1" cy="310.6" rx="11.7" ry="10.3" fill="#c9c24e"/><ellipse cx="1061.1" cy="310.6" rx="11.7" ry="10.3" fill="url(#hl)" stroke="#444" stroke-width="0.6" stroke-opacity="0.5"/><use href="#q6" x="1061.1" y="310.6"/>
<use href="#nh" x="1059.4" y="279.5"/><ellipse cx="1059.4" cy="279.5" rx="11.7" ry="10.3" fill="#9cc8ec"/><ellipse cx="1059.4" cy="279.5" rx="11.7" ry="10.3" fill="url(#hl)" stroke="#444" stroke-width="0.6" stroke-opacity="0.5"/><use href="#q16" x="1059.4" y="279.5"/>
<use href="#nh" x="1072.8" y="257.1"/><ellipse cx="1072.8" cy="257.1" rx="11.7" ry="10.3" fill="#e0a8a0"/><ellipse cx="1072.8" cy="257.1" rx="11.7" ry="10.3" fill="url(#hl)" stroke="#444" stroke-width="0.6" stroke-opacity="0.5"/><use href="#q9" x="1072.8" y="257.1"/>
<use href="#nh" x="1112" y="290.5"/><ellipse cx="1112" cy="290.5" rx="11.7" ry="10.3" fill="#d8404c"/><ellipse cx="1112" cy="290.5" rx="11.7" ry="10.3" fill="url(#hl)" stroke="#444" stroke-width="0.6" stroke-opacity="0.5"/><use href="#q4" x="1112" y="290.5"/>
<path transform="translate(194.1,291.2) rotate(-36.9)" d="M0 -3.4L42.9 -3.4L42.9 -10.0L56.9 0L42.9 10.0L42.9 3.4L0 3.4Z" fill="#fff" stroke="#2f4a8f" stroke-width="2.2" stroke-linejoin="miter"/>
<path transform="translate(659.2,258.4) rotate(-32.9)" d="M0 -3.4L42.6 -3.4L42.6 -10.0L56.6 0L42.6 10.0L42.6 3.4L0 3.4Z" fill="#fff" stroke="#d8783a" stroke-width="2.6" stroke-linejoin="miter"/>
<path transform="translate(1173.2,264.4) rotate(-22.4)" d="M0 -3.75L41.4 -3.75L41.4 -10.5L55.4 0L41.4 10.5L41.4 3.75L0 3.75Z" fill="#fff" stroke="#f2cc5a" stroke-width="2.4" stroke-linejoin="miter"/>
<rect x="221" y="53" width="205" height="40" rx="5" fill="#9db0e0" stroke="#b8c6ea" stroke-width="1.5"/>
<text x="323.3" y="78.5" font-size="16.5" font-family="Liberation Serif, serif" text-anchor="middle" font-weight="bold" fill="#111">SCN5A PPI-network</text>
<rect x="701" y="53.6" width="196.8" height="39" rx="5" fill="#f0c8a8" stroke="#e8a878" stroke-width="1.5"/>
<text x="799" y="78.5" font-size="16.5" font-family="Liberation Serif, serif" text-anchor="middle" font-weight="bold" fill="#111">SCN3A PPI-network</text>
<rect x="1203.4" y="52" width="212.5" height="41" rx="6" fill="#f5d96b"/>
<text x="1308.8" y="78.5" font-size="16.5" font-family="Liberation Serif, serif" text-anchor="middle" font-weight="bold" fill="#111">SCN1A PPI-network</text>
<ellipse cx="334.7" cy="198.2" rx="102" ry="96" fill="#fff" stroke="#2f4a8f" stroke-width="2"/>
<path d="M335.4 126.5L334.7 198.5M379.9 139.9L334.7 198.5M407.7 175.7L334.7 198.5M407.7 220.3L334.7 198.5M379.9 256.1L334.7 198.5M335.4 269.5L334.7 198.5M290.5 256.1L334.7 198.5M262.8 220.3L334.7 198.5M262.8 175.7L334.7 198.5M290.5 139.9L334.7 198.5M335.4 126.5L379.9 139.9M335.4 126.5L379.9 256.1M335.4 126.5L335.4 269.5M335.4 126.5L262.8 175.7M335.4 126.5L290.5 139.9M379.9 139.9L407.7 175.7M379.9 139.9L407.7 220.3M379.9 139.9L379.9 256.1M379.9 139.9L335.4 269.5M379.9 139.9L290.5 256.1M379.9 139.9L262.8 175.7M379.9 139.9L290.5 139.9M407.7 175.7L407.7 220.3M407.7 175.7L262.8 220.3M407.7 175.7L262.8 175.7M407.7 175.7L290.5 139.9M407.7 220.3L379.9 256.1M407.7 220.3L335.4 269.5M407.7 220.3L262.8 220.3M407.7 220.3L262.8 175.7M379.9 256.1L335.4 269.5M379.9 256.1L262.8 220.3M379.9 256.1L262.8 175.7M379.9 256.1L290.5 139.9M335.4 269.5L290.5 256.1M335.4 269.5L262.8 220.3M335.4 269.5L262.8 175.7M290.5 256.1L262.8 220.3M290.5 256.1L290.5 139.9" stroke="#c4c4c4" stroke-width="0.7" fill="none"/>
<circle cx="335.4" cy="126.5" r="15.8" fill="#ccccff"/>
<circle cx="379.9" cy="139.9" r="15.8" fill="#ccccff"/>
<circle cx="407.7" cy="175.7" r="15.8" fill="#ccccff"/>
<circle cx="407.7" cy="220.3" r="15.8" fill="#ccccff"/>
<circle cx="379.9" cy="256.1" r="15.8" fill="#ccccff"/>
<circle cx="335.4" cy="269.5" r="15.8" fill="#ccccff"/>
<circle cx="290.5" cy="256.1" r="18.5" fill="#ccccff"/>
<circle cx="262.8" cy="220.3" r="15.8" fill="#ccccff"/>
<circle cx="262.8" cy="175.7" r="15.8" fill="#ccccff"/>
<circle cx="290.5" cy="139.9" r="15.8" fill="#ccccff"/>
<circle cx="334.7" cy="198.5" r="20.5" fill="#f6c6c6"/>
<text x="335.4" y="130.1" font-size="10" font-family="Liberation Sans, sans-serif" text-anchor="middle" fill="#111">Calml4</text>
<text x="379.9" y="143.5" font-size="10" font-family="Liberation Sans, sans-serif" text-anchor="middle" fill="#111">Scn4b</text>
<text x="407.7" y="179.3" font-size="10" font-family="Liberation Sans, sans-serif" text-anchor="middle" fill="#111">Fgf13</text>
<text x="407.7" y="223.9" font-size="10" font-family="Liberation Sans, sans-serif" text-anchor="middle" fill="#111">Scn3b</text>
<text x="379.9" y="259.7" font-size="10" font-family="Liberation Sans, sans-serif" text-anchor="middle" fill="#111">Scn2b</text>
<text x="335.4" y="273.1" font-size="10" font-family="Liberation Sans, sans-serif" text-anchor="middle" fill="#111">Ank3</text>
<text x="290.5" y="259.7" font-size="10" font-family="Liberation Sans, sans-serif" text-anchor="middle" fill="#111">Scn1b</text>
<text x="262.8" y="223.9" font-size="10" font-family="Liberation Sans, sans-serif" text-anchor="middle" fill="#111">Prkaca</text>
<text x="262.8" y="179.3" font-size="10" font-family="Liberation Sans, sans-serif" text-anchor="middle" fill="#111">Calml3</text>
<text x="290.5" y="143.5" font-size="10" font-family="Liberation Sans, sans-serif" text-anchor="middle" fill="#111">Calm3</text>
<text x="334.7" y="202.1" font-size="10" font-family="Liberation Sans, sans-serif" text-anchor="middle" fill="#111">Scn5a</text>
<ellipse cx="813.5" cy="196.2" rx="98.4" ry="91.7" fill="#fff" stroke="#d8783a" stroke-width="2.4"/>
<path d="M814.8 127.2L814.1 197.5M857.7 140.6L814.1 197.5M882.4 175.7L814.1 197.5M882.4 219.2L814.1 197.5M855.6 254.4L814.1 197.5M812.1 267.1L814.1 197.5M769.6 252.7L814.1 197.5M745.2 217.6L814.1 197.5M747.2 174.1L814.1 197.5M773 138.9L814.1 197.5M814.8 127.2L882.4 175.7M814.8 127.2L882.4 219.2M814.8 127.2L812.1 267.1M814.8 127.2L769.6 252.7M814.8 127.2L745.2 217.6M814.8 127.2L747.2 174.1M857.7 140.6L882.4 175.7M857.7 140.6L855.6 254.4M857.7 140.6L812.1 267.1M857.7 140.6L745.2 217.6M857.7 140.6L773 138.9M882.4 175.7L882.4 219.2M882.4 175.7L812.1 267.1M882.4 175.7L769.6 252.7M882.4 175.7L745.2 217.6M882.4 175.7L747.2 174.1M882.4 175.7L773 138.9M882.4 219.2L812.1 267.1M882.4 219.2L745.2 217.6M882.4 219.2L747.2 174.1M882.4 219.2L773 138.9M855.6 254.4L812.1 267.1M855.6 254.4L745.2 217.6M855.6 254.4L747.2 174.1M812.1 267.1L769.6 252.7M812.1 267.1L745.2 217.6M812.1 267.1L747.2 174.1M812.1 267.1L773 138.9M769.6 252.7L745.2 217.6M769.6 252.7L747.2 174.1M769.6 252.7L773 138.9M745.2 217.6L747.2 174.1M747.2 174.1L773 138.9" stroke="#8a8a8a" stroke-width="0.7" fill="none"/>
<circle cx="814.8" cy="127.2" r="16.8" fill="#e8923c"/>
<circle cx="857.7" cy="140.6" r="16.8" fill="#e8923c"/>
<circle cx="882.4" cy="175.7" r="16.8" fill="#e8923c"/>
<circle cx="882.4" cy="219.2" r="16.8" fill="#e8923c"/>
<circle cx="855.6" cy="254.4" r="16.8" fill="#e8923c"/>
<circle cx="812.1" cy="267.1" r="16.8" fill="#e8923c"/>
<circle cx="769.6" cy="252.7" r="16.8" fill="#e8923c"/>
<circle cx="745.2" cy="217.6" r="16.8" fill="#e8923c"/>
<circle cx="747.2" cy="174.1" r="16.8" fill="#e8923c"/>
<circle cx="773" cy="138.9" r="16.8" fill="#e8923c"/>
<circle cx="814.1" cy="197.5" r="17.5" fill="#aaffaa"/>
<text x="814.8" y="130.7" font-size="9.6" font-family="Liberation Sans, sans-serif" text-anchor="middle" fill="#111">Scn3b</text>
<text x="857.7" y="144" font-size="9.6" font-family="Liberation Sans, sans-serif" text-anchor="middle" fill="#111">Scn8a</text>
<text x="882.4" y="179.2" font-size="9.6" font-family="Liberation Sans, sans-serif" text-anchor="middle" fill="#111">Gria4</text>
<text x="882.4" y="222.7" font-size="9.6" font-family="Liberation Sans, sans-serif" text-anchor="middle" fill="#111">Scn9a</text>
<text x="855.6" y="257.8" font-size="9.6" font-family="Liberation Sans, sans-serif" text-anchor="middle" fill="#111">Scn2a</text>
<text x="812.1" y="270.6" font-size="9.6" font-family="Liberation Sans, sans-serif" text-anchor="middle" fill="#111">Calhm1</text>
<text x="769.6" y="256.2" font-size="9.6" font-family="Liberation Sans, sans-serif" text-anchor="middle" fill="#111">Scn1a</text>
<text x="745.2" y="221" font-size="9.6" font-family="Liberation Sans, sans-serif" text-anchor="middle" fill="#111">Scn1b</text>
<text x="747.2" y="177.5" font-size="9.6" font-family="Liberation Sans, sans-serif" text-anchor="middle" fill="#111">Scn2b</text>
<text x="773" y="142.4" font-size="9.6" font-family="Liberation Sans, sans-serif" text-anchor="middle" fill="#111">Scn4b</text>
<text x="814.1" y="201" font-size="9.6" font-family="Liberation Sans, sans-serif" text-anchor="middle" fill="#222">Scn3a</text>
<ellipse cx="1316" cy="196.2" rx="101.6" ry="91.7" fill="#fff" stroke="#f2cc5a" stroke-width="2.6"/>
<path d="M1315.5 124.5L1318.9 191.8M1361.7 137.9L1318.9 191.8M1390.2 173.4L1318.9 191.8M1390.2 216.9L1318.9 191.8M1361.7 251.7L1318.9 191.8M1315.5 266.1L1318.9 191.8M1269.6 251.7L1318.9 191.8M1241.2 216.9L1318.9 191.8M1241.2 173.4L1318.9 191.8M1269.6 137.9L1318.9 191.8M1315.5 124.5L1361.7 251.7M1315.5 124.5L1315.5 266.1M1315.5 124.5L1269.6 251.7M1315.5 124.5L1241.2 216.9M1315.5 124.5L1241.2 173.4M1315.5 124.5L1269.6 137.9M1361.7 137.9L1390.2 173.4M1361.7 137.9L1390.2 216.9M1361.7 137.9L1361.7 251.7M1361.7 137.9L1315.5 266.1M1361.7 137.9L1269.6 251.7M1361.7 137.9L1241.2 216.9M1361.7 137.9L1241.2 173.4M1361.7 137.9L1269.6 137.9M1390.2 173.4L1390.2 216.9M1390.2 173.4L1361.7 251.7M1390.2 173.4L1315.5 266.1M1390.2 173.4L1269.6 251.7M1390.2 173.4L1241.2 216.9M1390.2 173.4L1241.2 173.4M1390.2 173.4L1269.6 137.9M1390.2 216.9L1315.5 266.1M1390.2 216.9L1269.6 251.7M1390.2 216.9L1241.2 216.9M1390.2 216.9L1241.2 173.4M1390.2 216.9L1269.6 137.9M1361.7 251.7L1315.5 266.1M1361.7 251.7L1269.6 251.7M1361.7 251.7L1241.2 216.9M1361.7 251.7L1241.2 173.4M1361.7 251.7L1269.6 137.9M1315.5 266.1L1269.6 251.7M1315.5 266.1L1241.2 216.9M1315.5 266.1L1241.2 173.4M1315.5 266.1L1269.6 137.9M1269.6 251.7L1241.2 216.9M1269.6 251.7L1269.6 137.9M1241.2 216.9L1241.2 173.4M1241.2 216.9L1269.6 137.9M1241.2 173.4L1269.6 137.9" stroke="#8a8a8a" stroke-width="0.7" fill="none"/>
<circle cx="1315.5" cy="124.5" r="15.2" fill="#a6cc30"/>
<circle cx="1361.7" cy="137.9" r="15.2" fill="#a6cc30"/>
<circle cx="1390.2" cy="173.4" r="15.2" fill="#a6cc30"/>
<circle cx="1390.2" cy="216.9" r="15.2" fill="#a6cc30"/>
<circle cx="1361.7" cy="251.7" r="15.2" fill="#a6cc30"/>
<circle cx="1315.5" cy="266.1" r="15.2" fill="#a6cc30"/>
<circle cx="1269.6" cy="251.7" r="17.9" fill="#a6cc30"/>
<circle cx="1241.2" cy="216.9" r="17.9" fill="#a6cc30"/>
<circle cx="1241.2" cy="173.4" r="17.9" fill="#a6cc30"/>
<circle cx="1269.6" cy="137.9" r="15.2" fill="#a6cc30"/>
<circle cx="1318.9" cy="191.8" r="17.5" fill="#f5c828"/>
<text x="1315.5" y="128.6" font-size="11.2" font-family="Liberation Sans, sans-serif" text-anchor="middle" fill="#000">Prkaca</text>
<text x="1361.7" y="141.9" font-size="11.2" font-family="Liberation Sans, sans-serif" text-anchor="middle" fill="#000">Scn9a</text>
<text x="1390.2" y="177.4" font-size="11.2" font-family="Liberation Sans, sans-serif" text-anchor="middle" fill="#000">Scn2b</text>
<text x="1390.2" y="220.9" font-size="11.2" font-family="Liberation Sans, sans-serif" text-anchor="middle" fill="#000">Scn8a</text>
<text x="1361.7" y="255.7" font-size="11.2" font-family="Liberation Sans, sans-serif" text-anchor="middle" fill="#000">Scn2a</text>
<text x="1315.5" y="270.1" font-size="11.2" font-family="Liberation Sans, sans-serif" text-anchor="middle" fill="#000">Scn3a</text>
<text x="1269.6" y="255.7" font-size="11.2" font-family="Liberation Sans, sans-serif" text-anchor="middle" fill="#000">Scn1b</text>
<text x="1241.2" y="220.9" font-size="11.2" font-family="Liberation Sans, sans-serif" text-anchor="middle" fill="#000">Scn4b</text>
<text x="1241.2" y="177.4" font-size="11.2" font-family="Liberation Sans, sans-serif" text-anchor="middle" fill="#000">Gria4</text>
<text x="1269.6" y="141.9" font-size="11.2" font-family="Liberation Sans, sans-serif" text-anchor="middle" fill="#000">Prkacb</text>
<text x="1318.9" y="195.8" font-size="11.2" font-family="Liberation Sans, sans-serif" text-anchor="middle" fill="#000">Scn1a</text>
<defs>
<radialGradient id="bump" cx="0.45" cy="0.4" r="0.6"><stop offset="0" stop-color="#ffffff"/><stop offset="0.5" stop-color="#f5f5f5"/><stop offset="0.8" stop-color="#e9e9e9" stop-opacity="0.9"/><stop offset="1" stop-color="#d6d6d6" stop-opacity="0.35"/></radialGradient>
<filter id="fblur" x="-5%" y="-5%" width="110%" height="110%"><feGaussianBlur stdDeviation="0.8"/></filter>
<filter id="pblur" x="-20%" y="-20%" width="140%" height="140%"><feGaussianBlur stdDeviation="1.6"/></filter>
<clipPath id="cb1"><rect x="1128.6" y="1134" width="282.5" height="185.6"/></clipPath>
<clipPath id="cb2"><rect x="1129.8" y="1339.8" width="281.3" height="193.8"/></clipPath>
<linearGradient id="rib" x1="0" y1="0" x2="0" y2="1"><stop offset="0" stop-color="#fbfbfb"/><stop offset="0.6" stop-color="#f1f1f1"/><stop offset="1" stop-color="#e2e2e2"/></linearGradient>
<linearGradient id="rib2" x1="0" y1="0" x2="1" y2="1"><stop offset="0" stop-color="#e6e6e6"/><stop offset="0.5" stop-color="#f8f8f8"/><stop offset="1" stop-color="#e8e8e8"/></linearGradient>
</defs>
<text x="771.5" y="1143.5" font-size="27" font-family="Liberation Serif, serif" text-anchor="start" font-weight="bold" fill="#000">Kaempferol-SCN5A</text>
<text x="779.2" y="1374.2" font-size="27" font-family="Liberation Serif, serif" text-anchor="start" font-weight="bold" fill="#000">Oridinin-SCN5A</text>
<g filter="url(#fblur)">
<g fill="#c2c2c2"><path d="M729.6 1240.7 L733.8 1231.5 L754.4 1225.4 L772 1208 L786.7 1195.4 L806.8 1174.1 L817.1 1174.6 L835.5 1186.4 L857.5 1174.8 L870.9 1177.5 L886.2 1190.3 L908 1190.5 L927.5 1196.4 L940.6 1205.7 L951.2 1222.6 L969.6 1234.1 L987.8 1238 L992 1242.3 L979.6 1250.2 L958.1 1258.9 L947.7 1275.5 L956.1 1291.3 L943.4 1305 L927.6 1310.7 L913 1319.1 L886.3 1329.3 L856.1 1337.5 L827.6 1333.3 L808.9 1333.3 L791.2 1329.4 L769.8 1318.8 L749.8 1319.1 L746.3 1311.8 L756 1299.3 L765.1 1284.9 L759.3 1271.8 L744.3 1263.1 L731 1252Z"/><circle cx="948" cy="1296.3" r="10.7"/><circle cx="953.5" cy="1292" r="10.4"/><circle cx="942" cy="1211.4" r="7.6"/><circle cx="950.8" cy="1269.3" r="7"/><circle cx="786.4" cy="1202.6" r="11"/><circle cx="817.9" cy="1181.7" r="10.4"/><circle cx="790.3" cy="1194.2" r="7.3"/><circle cx="807" cy="1176" r="9.9"/><circle cx="801.9" cy="1181.2" r="9.5"/><circle cx="969.7" cy="1249.8" r="10.2"/><circle cx="766" cy="1278.7" r="9.9"/><circle cx="791" cy="1325.1" r="8.7"/><circle cx="867.2" cy="1330.6" r="9.3"/><circle cx="944.2" cy="1300.4" r="10.3"/><circle cx="748.1" cy="1312.6" r="6.7"/><circle cx="732.3" cy="1248.4" r="10.6"/><circle cx="890.7" cy="1192.3" r="6.8"/><circle cx="814.5" cy="1332.7" r="9.8"/><circle cx="904.3" cy="1323.4" r="7.2"/><circle cx="796.7" cy="1185.9" r="6.5"/><circle cx="828" cy="1188.5" r="11.2"/><circle cx="986" cy="1240.7" r="8.6"/><circle cx="896" cy="1324.6" r="7.8"/><circle cx="878.6" cy="1188.4" r="10.2"/><circle cx="770.8" cy="1213.4" r="8.1"/><circle cx="901.1" cy="1190.7" r="7.3"/><circle cx="870.4" cy="1180.9" r="8.6"/><circle cx="928.9" cy="1196.4" r="6.9"/><circle cx="754.4" cy="1316.4" r="9.7"/><circle cx="748" cy="1259.9" r="10"/><circle cx="748.6" cy="1309.9" r="9.9"/><circle cx="949.9" cy="1219.6" r="8"/><circle cx="841.1" cy="1185.1" r="7.2"/><circle cx="910.8" cy="1194.6" r="10.5"/><circle cx="792.8" cy="1328.8" r="10.2"/><circle cx="802.5" cy="1330.1" r="9.7"/><circle cx="776.9" cy="1320.4" r="8.3"/><circle cx="961.6" cy="1231" r="6.9"/><circle cx="774.9" cy="1206.9" r="7.4"/><circle cx="856" cy="1180.3" r="10.9"/><circle cx="751" cy="1317.1" r="8.5"/><circle cx="814.4" cy="1175.7" r="8"/><circle cx="750.3" cy="1228.1" r="8.5"/><circle cx="763.7" cy="1319.7" r="7"/><circle cx="988.4" cy="1240.6" r="10.6"/><circle cx="824" cy="1330.6" r="8.3"/><circle cx="908.6" cy="1317" r="8.8"/><circle cx="933.5" cy="1308.3" r="7.4"/><circle cx="839.1" cy="1332.6" r="10.5"/><circle cx="744.1" cy="1229.6" r="9.6"/><circle cx="859" cy="1337" r="7.9"/><circle cx="846.6" cy="1331.6" r="11"/><circle cx="860.7" cy="1175.7" r="6.8"/><circle cx="880.8" cy="1328.2" r="7.8"/><circle cx="954.5" cy="1261.3" r="10.5"/><circle cx="955.8" cy="1225.4" r="7.7"/><circle cx="735.1" cy="1232.6" r="10.1"/><circle cx="766.7" cy="1290.3" r="9.7"/><circle cx="953" cy="1291.3" r="7.5"/><circle cx="917.2" cy="1195.3" r="10.2"/><circle cx="982.4" cy="1239.2" r="10.4"/><circle cx="947.7" cy="1282" r="8.4"/><circle cx="848.9" cy="1180.5" r="9.6"/><circle cx="755" cy="1307.1" r="9.1"/><circle cx="853.2" cy="1336.8" r="7.2"/><circle cx="869.3" cy="1181.9" r="9.5"/><circle cx="765.4" cy="1215" r="8.3"/><circle cx="758.5" cy="1297.3" r="8.2"/><circle cx="730.4" cy="1243.4" r="7.4"/><circle cx="808.4" cy="1174.1" r="7.4"/><circle cx="923.4" cy="1198.1" r="9.3"/><circle cx="832.4" cy="1331.2" r="9.7"/><circle cx="917.5" cy="1315" r="7.5"/><circle cx="734.3" cy="1253.6" r="7"/><circle cx="759" cy="1219.4" r="6.8"/><circle cx="891.6" cy="1327.8" r="6.3"/><circle cx="940.1" cy="1303.4" r="10.3"/><circle cx="936.1" cy="1208.2" r="9.7"/><circle cx="959.8" cy="1255" r="9.7"/><circle cx="733.5" cy="1231.7" r="7"/><circle cx="972.4" cy="1235.8" r="9.3"/><circle cx="729.8" cy="1240.9" r="6.9"/><circle cx="981.2" cy="1246" r="9.8"/><circle cx="782.6" cy="1325.6" r="6.5"/><circle cx="921.5" cy="1311.5" r="8.1"/><circle cx="873.8" cy="1330.1" r="8.3"/><circle cx="743.4" cy="1258.1" r="9.1"/><circle cx="757.3" cy="1265.8" r="10.3"/><circle cx="975.6" cy="1251.5" r="8.6"/><circle cx="872.2" cy="1317.6" r="15.8"/><circle cx="761.1" cy="1234.9" r="14.8"/><circle cx="771" cy="1228.5" r="15.6"/><circle cx="887.1" cy="1318.5" r="15.9"/><circle cx="912.5" cy="1237.6" r="13.1"/><circle cx="945" cy="1287.7" r="9"/><circle cx="942.2" cy="1263.4" r="12.4"/><circle cx="765.9" cy="1298.3" r="13.2"/><circle cx="891.2" cy="1297.9" r="14.8"/><circle cx="804.7" cy="1287.7" r="14.7"/><circle cx="851.4" cy="1293.5" r="11.6"/><circle cx="905.2" cy="1294.7" r="11.9"/><circle cx="872.2" cy="1284.2" r="10.4"/><circle cx="888.3" cy="1217.2" r="9.2"/><circle cx="939.3" cy="1284.4" r="12.9"/><circle cx="918.2" cy="1206.2" r="11.2"/><circle cx="904.1" cy="1254.6" r="11.4"/><circle cx="905" cy="1223.3" r="10.6"/><circle cx="820.4" cy="1289.2" r="12.4"/><circle cx="857" cy="1222.4" r="12.1"/><circle cx="806.1" cy="1224.1" r="11.6"/><circle cx="897.7" cy="1305.4" r="15.6"/><circle cx="751" cy="1255.8" r="11.9"/><circle cx="783" cy="1265.6" r="14"/><circle cx="837" cy="1293.8" r="15.2"/><circle cx="867.5" cy="1190.6" r="14.9"/><circle cx="946.5" cy="1236.5" r="13.4"/><circle cx="915.6" cy="1286.5" r="12.5"/><circle cx="816" cy="1256.2" r="13.6"/><circle cx="814.3" cy="1295.2" r="12.2"/><circle cx="812.8" cy="1268.4" r="11.9"/><circle cx="903.9" cy="1265.4" r="11.8"/><circle cx="849.6" cy="1271.2" r="12.6"/><circle cx="897.7" cy="1208.5" r="13"/><circle cx="861.7" cy="1324.5" r="13.4"/><circle cx="877.7" cy="1300.3" r="15.3"/><circle cx="828.7" cy="1281.7" r="12.2"/><circle cx="806.9" cy="1246.2" r="11.7"/><circle cx="836" cy="1264.8" r="11.1"/><circle cx="824.5" cy="1209.8" r="13.6"/><circle cx="914.8" cy="1211.8" r="9"/><circle cx="832.7" cy="1307.1" r="11.8"/><circle cx="833.2" cy="1250.2" r="12.9"/><circle cx="853.4" cy="1278.2" r="15.8"/><circle cx="837.6" cy="1271.2" r="11.4"/><circle cx="923.5" cy="1220.4" r="13"/><circle cx="756.5" cy="1311" r="10.1"/><circle cx="805.2" cy="1254.4" r="10"/><circle cx="791" cy="1242.6" r="14.3"/><circle cx="894.5" cy="1196.8" r="10.4"/><circle cx="907.7" cy="1274.8" r="10.9"/><circle cx="841.2" cy="1212.6" r="11.7"/><circle cx="853.8" cy="1217.9" r="11.6"/><circle cx="930.1" cy="1257.2" r="15.7"/><circle cx="932" cy="1273" r="10"/><circle cx="817.6" cy="1180.9" r="10.3"/><circle cx="862.8" cy="1283.5" r="9.6"/><circle cx="940.3" cy="1299.8" r="9.5"/><circle cx="818.1" cy="1307" r="13.6"/><circle cx="927.5" cy="1300.8" r="11"/><circle cx="813.4" cy="1288.5" r="9.9"/><circle cx="831.2" cy="1288.1" r="15.7"/><circle cx="866.4" cy="1254.9" r="15"/><circle cx="778.6" cy="1219.1" r="9.1"/><circle cx="794" cy="1268.6" r="14.7"/><circle cx="787.5" cy="1206.2" r="11.7"/><circle cx="866" cy="1318.3" r="13.3"/><circle cx="889.4" cy="1199" r="9.1"/><circle cx="931.1" cy="1238.5" r="11.3"/><circle cx="881" cy="1261.8" r="15"/><circle cx="800.3" cy="1299.6" r="12.9"/><circle cx="853.6" cy="1320.9" r="10.9"/><circle cx="800.2" cy="1218.4" r="10.8"/><circle cx="908.9" cy="1303.3" r="15.5"/><circle cx="815.1" cy="1229.9" r="9.6"/><circle cx="853.8" cy="1313.5" r="13.7"/><circle cx="792.4" cy="1255.9" r="14.2"/><circle cx="889.5" cy="1234.2" r="15.2"/><circle cx="844.8" cy="1250.5" r="15.2"/><circle cx="844.2" cy="1296.1" r="12.9"/><circle cx="788" cy="1281.4" r="13.6"/><circle cx="794" cy="1318" r="15.2"/><circle cx="776.9" cy="1281.5" r="15.6"/><circle cx="927.3" cy="1276.4" r="13.9"/><circle cx="949.1" cy="1251" r="14.7"/><circle cx="826.8" cy="1216.3" r="13.4"/><circle cx="798.8" cy="1245.9" r="13.7"/><circle cx="858.8" cy="1212.1" r="10.8"/><circle cx="863.7" cy="1270.5" r="12.6"/><circle cx="871.8" cy="1299.7" r="9.8"/><circle cx="815.8" cy="1301.6" r="9"/><circle cx="806.5" cy="1296" r="15.2"/><circle cx="827.3" cy="1204.3" r="11.6"/><circle cx="821.3" cy="1296.4" r="11.4"/><circle cx="804.6" cy="1211.5" r="9.4"/><circle cx="871.4" cy="1224.3" r="14.7"/><circle cx="932.4" cy="1214.3" r="15.6"/><circle cx="826.2" cy="1312.7" r="14"/><circle cx="889" cy="1244.2" r="16"/><circle cx="819.8" cy="1274.5" r="14.7"/><circle cx="864.9" cy="1185" r="13.4"/><circle cx="884.4" cy="1287.4" r="14.4"/><circle cx="744.5" cy="1239.5" r="14.4"/><circle cx="821.4" cy="1268.9" r="14.6"/><circle cx="856.3" cy="1202.4" r="11.3"/><circle cx="905.9" cy="1238" r="9.4"/><circle cx="852.1" cy="1248.6" r="15"/><circle cx="842.5" cy="1267.7" r="15.9"/><circle cx="800.2" cy="1277.3" r="13.6"/><circle cx="810.4" cy="1183.3" r="9.3"/><circle cx="894.9" cy="1313.2" r="13.3"/><circle cx="864.4" cy="1229.6" r="9.4"/><circle cx="836.6" cy="1281.2" r="9.7"/><circle cx="859" cy="1193.3" r="12.7"/><circle cx="897.8" cy="1219.8" r="10.2"/><circle cx="793.5" cy="1292.3" r="14.3"/><circle cx="945.4" cy="1244.4" r="11.2"/><circle cx="898.4" cy="1244" r="10.8"/><circle cx="931" cy="1295.4" r="15.6"/><circle cx="917.1" cy="1297.2" r="13.1"/><circle cx="877" cy="1219" r="14.2"/><circle cx="930.4" cy="1283.1" r="14.8"/><circle cx="804.2" cy="1269.7" r="14.5"/><circle cx="909.6" cy="1289" r="13.7"/><circle cx="770.7" cy="1266.8" r="14.5"/><circle cx="774.7" cy="1212.4" r="11.1"/><circle cx="847.9" cy="1201" r="12.2"/><circle cx="878.5" cy="1196.4" r="9.8"/><circle cx="810.6" cy="1280.2" r="14.3"/><circle cx="808.5" cy="1322.4" r="15.4"/><circle cx="966.4" cy="1242" r="11.1"/><circle cx="891.8" cy="1229" r="12.1"/><circle cx="880" cy="1273.9" r="15.1"/><circle cx="748.4" cy="1243.5" r="10.3"/><circle cx="799.5" cy="1257.5" r="14.9"/><circle cx="792.8" cy="1304.9" r="15.4"/><circle cx="897.4" cy="1280.5" r="14.4"/><circle cx="909.5" cy="1196.6" r="10.9"/><circle cx="824.2" cy="1250" r="14.5"/><circle cx="923.5" cy="1291.9" r="10.7"/><circle cx="788" cy="1227" r="10.3"/><circle cx="872.8" cy="1246.8" r="15.6"/><circle cx="817.8" cy="1202" r="10.6"/><circle cx="866.7" cy="1312.3" r="14.7"/><circle cx="839.9" cy="1322.7" r="14.9"/><circle cx="798.7" cy="1199.6" r="11.4"/><circle cx="953.5" cy="1239.3" r="12.6"/><circle cx="923" cy="1235.4" r="13.9"/><circle cx="834.5" cy="1212.8" r="13.1"/><circle cx="879.8" cy="1241.7" r="11.2"/><circle cx="866.5" cy="1292.6" r="13.6"/><circle cx="801.4" cy="1232.1" r="11"/><circle cx="888" cy="1275.7" r="12.9"/><circle cx="915.2" cy="1245.9" r="12.5"/><circle cx="885.7" cy="1302.3" r="10.8"/><circle cx="905.9" cy="1308.5" r="13.5"/><circle cx="794.9" cy="1229.9" r="15.1"/><circle cx="844.5" cy="1191.5" r="11.9"/><circle cx="920.9" cy="1280.8" r="11.5"/><circle cx="764.9" cy="1304.8" r="14.6"/><circle cx="923.9" cy="1256.7" r="9.7"/><circle cx="780.3" cy="1243.3" r="15.4"/><circle cx="934.9" cy="1261.6" r="9.8"/><circle cx="812.5" cy="1251.3" r="15.6"/><circle cx="776.1" cy="1304" r="12.3"/><circle cx="772.7" cy="1234.5" r="9.4"/><circle cx="779.1" cy="1231.4" r="13.1"/><circle cx="835.5" cy="1200.5" r="10.7"/><circle cx="829.6" cy="1236.2" r="13.9"/><circle cx="912.9" cy="1251.4" r="15.5"/><circle cx="920" cy="1261" r="14.5"/><circle cx="958.4" cy="1236.6" r="11.5"/><circle cx="777.7" cy="1288.6" r="15.3"/><circle cx="823.6" cy="1303.5" r="9.4"/><circle cx="810" cy="1316" r="12.8"/><circle cx="935.3" cy="1255.1" r="12.5"/><circle cx="837.2" cy="1221.3" r="9.4"/><circle cx="874.8" cy="1278.5" r="14"/><circle cx="876.6" cy="1293.7" r="15"/><circle cx="862.7" cy="1261.4" r="14.4"/><circle cx="853.7" cy="1262.1" r="14.7"/><circle cx="780.8" cy="1312.4" r="13.1"/><circle cx="919.2" cy="1250.5" r="13.3"/><circle cx="787.7" cy="1248.1" r="9.5"/><circle cx="830.5" cy="1324.8" r="14.8"/><circle cx="887.5" cy="1256.5" r="10.9"/><circle cx="887.8" cy="1204.9" r="9.5"/><circle cx="898.8" cy="1231.4" r="12.6"/><circle cx="862.4" cy="1238.3" r="14.9"/><circle cx="826.8" cy="1191.7" r="12.1"/><circle cx="794.8" cy="1216.8" r="10.6"/><circle cx="790.8" cy="1310.6" r="13"/><circle cx="839" cy="1234.6" r="11.3"/><circle cx="900.6" cy="1312" r="15.8"/><circle cx="943.7" cy="1256.5" r="9"/><circle cx="794" cy="1285.8" r="15.3"/><circle cx="837.4" cy="1314.5" r="9.9"/><circle cx="922.9" cy="1306.3" r="9.6"/><circle cx="813.2" cy="1212.9" r="15.1"/><circle cx="910.5" cy="1208" r="12.7"/><circle cx="793.6" cy="1202.1" r="9.1"/><circle cx="803.2" cy="1191" r="14.4"/><circle cx="901.8" cy="1214.3" r="12.6"/><circle cx="925.2" cy="1228.6" r="14"/><circle cx="778.9" cy="1257.9" r="10.1"/><circle cx="876.5" cy="1255.2" r="11.5"/><circle cx="916.9" cy="1275.2" r="15"/><circle cx="801.8" cy="1306.8" r="13.4"/><circle cx="915.3" cy="1308.1" r="11.9"/><circle cx="834.5" cy="1258.6" r="10.1"/><circle cx="758" cy="1250.6" r="13"/><circle cx="895.6" cy="1265.4" r="16"/><circle cx="782.1" cy="1209.5" r="13.8"/><circle cx="867.3" cy="1303.6" r="10.6"/><circle cx="938.7" cy="1221.8" r="12.4"/><circle cx="867.9" cy="1196.8" r="9.6"/><circle cx="870.9" cy="1230.3" r="9.8"/><circle cx="914.4" cy="1262.3" r="12.3"/><circle cx="808.7" cy="1259.5" r="11.4"/><circle cx="793.8" cy="1195.8" r="10.2"/><circle cx="805.6" cy="1311.6" r="9.5"/><circle cx="895.8" cy="1253" r="10"/><circle cx="850.2" cy="1330.1" r="11.3"/><circle cx="818.7" cy="1317.9" r="14.5"/><circle cx="831.9" cy="1219.3" r="11.6"/><circle cx="769.7" cy="1215.3" r="9.1"/><circle cx="872.8" cy="1305.7" r="13.2"/><circle cx="768.3" cy="1250.6" r="11.6"/><circle cx="891.4" cy="1223" r="14.4"/><circle cx="819.1" cy="1222.3" r="13"/></g>
<g fill="#e6e6e6"><path d="M729.6 1240.7 L733.8 1231.5 L754.4 1225.4 L772 1208 L786.7 1195.4 L806.8 1174.1 L817.1 1174.6 L835.5 1186.4 L857.5 1174.8 L870.9 1177.5 L886.2 1190.3 L908 1190.5 L927.5 1196.4 L940.6 1205.7 L951.2 1222.6 L969.6 1234.1 L987.8 1238 L992 1242.3 L979.6 1250.2 L958.1 1258.9 L947.7 1275.5 L956.1 1291.3 L943.4 1305 L927.6 1310.7 L913 1319.1 L886.3 1329.3 L856.1 1337.5 L827.6 1333.3 L808.9 1333.3 L791.2 1329.4 L769.8 1318.8 L749.8 1319.1 L746.3 1311.8 L756 1299.3 L765.1 1284.9 L759.3 1271.8 L744.3 1263.1 L731 1252Z"/><circle cx="948" cy="1296.3" r="9.2"/><circle cx="953.5" cy="1292" r="8.9"/><circle cx="942" cy="1211.4" r="6.1"/><circle cx="950.8" cy="1269.3" r="5.5"/><circle cx="786.4" cy="1202.6" r="9.5"/><circle cx="817.9" cy="1181.7" r="8.9"/><circle cx="790.3" cy="1194.2" r="5.8"/><circle cx="807" cy="1176" r="8.4"/><circle cx="801.9" cy="1181.2" r="8"/><circle cx="969.7" cy="1249.8" r="8.7"/><circle cx="766" cy="1278.7" r="8.4"/><circle cx="791" cy="1325.1" r="7.2"/><circle cx="867.2" cy="1330.6" r="7.8"/><circle cx="944.2" cy="1300.4" r="8.8"/><circle cx="748.1" cy="1312.6" r="5.2"/><circle cx="732.3" cy="1248.4" r="9.1"/><circle cx="890.7" cy="1192.3" r="5.3"/><circle cx="814.5" cy="1332.7" r="8.3"/><circle cx="904.3" cy="1323.4" r="5.7"/><circle cx="796.7" cy="1185.9" r="5"/><circle cx="828" cy="1188.5" r="9.7"/><circle cx="986" cy="1240.7" r="7.1"/><circle cx="896" cy="1324.6" r="6.3"/><circle cx="878.6" cy="1188.4" r="8.7"/><circle cx="770.8" cy="1213.4" r="6.6"/><circle cx="901.1" cy="1190.7" r="5.8"/><circle cx="870.4" cy="1180.9" r="7.1"/><circle cx="928.9" cy="1196.4" r="5.4"/><circle cx="754.4" cy="1316.4" r="8.2"/><circle cx="748" cy="1259.9" r="8.5"/><circle cx="748.6" cy="1309.9" r="8.4"/><circle cx="949.9" cy="1219.6" r="6.5"/><circle cx="841.1" cy="1185.1" r="5.7"/><circle cx="910.8" cy="1194.6" r="9"/><circle cx="792.8" cy="1328.8" r="8.7"/><circle cx="802.5" cy="1330.1" r="8.2"/><circle cx="776.9" cy="1320.4" r="6.8"/><circle cx="961.6" cy="1231" r="5.4"/><circle cx="774.9" cy="1206.9" r="5.9"/><circle cx="856" cy="1180.3" r="9.4"/><circle cx="751" cy="1317.1" r="7"/><circle cx="814.4" cy="1175.7" r="6.5"/><circle cx="750.3" cy="1228.1" r="7"/><circle cx="763.7" cy="1319.7" r="5.5"/><circle cx="988.4" cy="1240.6" r="9.1"/><circle cx="824" cy="1330.6" r="6.8"/><circle cx="908.6" cy="1317" r="7.3"/><circle cx="933.5" cy="1308.3" r="5.9"/><circle cx="839.1" cy="1332.6" r="9"/><circle cx="744.1" cy="1229.6" r="8.1"/><circle cx="859" cy="1337" r="6.4"/><circle cx="846.6" cy="1331.6" r="9.5"/><circle cx="860.7" cy="1175.7" r="5.3"/><circle cx="880.8" cy="1328.2" r="6.3"/><circle cx="954.5" cy="1261.3" r="9"/><circle cx="955.8" cy="1225.4" r="6.2"/><circle cx="735.1" cy="1232.6" r="8.6"/><circle cx="766.7" cy="1290.3" r="8.2"/><circle cx="953" cy="1291.3" r="6"/><circle cx="917.2" cy="1195.3" r="8.7"/><circle cx="982.4" cy="1239.2" r="8.9"/><circle cx="947.7" cy="1282" r="6.9"/><circle cx="848.9" cy="1180.5" r="8.1"/><circle cx="755" cy="1307.1" r="7.6"/><circle cx="853.2" cy="1336.8" r="5.7"/><circle cx="869.3" cy="1181.9" r="8"/><circle cx="765.4" cy="1215" r="6.8"/><circle cx="758.5" cy="1297.3" r="6.7"/><circle cx="730.4" cy="1243.4" r="5.9"/><circle cx="808.4" cy="1174.1" r="5.9"/><circle cx="923.4" cy="1198.1" r="7.8"/><circle cx="832.4" cy="1331.2" r="8.2"/><circle cx="917.5" cy="1315" r="6"/><circle cx="734.3" cy="1253.6" r="5.5"/><circle cx="759" cy="1219.4" r="5.3"/><circle cx="891.6" cy="1327.8" r="4.8"/><circle cx="940.1" cy="1303.4" r="8.8"/><circle cx="936.1" cy="1208.2" r="8.2"/><circle cx="959.8" cy="1255" r="8.2"/><circle cx="733.5" cy="1231.7" r="5.5"/><circle cx="972.4" cy="1235.8" r="7.8"/><circle cx="729.8" cy="1240.9" r="5.4"/><circle cx="981.2" cy="1246" r="8.3"/><circle cx="782.6" cy="1325.6" r="5"/><circle cx="921.5" cy="1311.5" r="6.6"/><circle cx="873.8" cy="1330.1" r="6.8"/><circle cx="743.4" cy="1258.1" r="7.6"/><circle cx="757.3" cy="1265.8" r="8.8"/><circle cx="975.6" cy="1251.5" r="7.1"/><circle cx="872.2" cy="1317.6" r="14.3"/><circle cx="761.1" cy="1234.9" r="13.3"/><circle cx="771" cy="1228.5" r="14.1"/><circle cx="887.1" cy="1318.5" r="14.4"/><circle cx="912.5" cy="1237.6" r="11.6"/><circle cx="945" cy="1287.7" r="7.5"/><circle cx="942.2" cy="1263.4" r="10.9"/><circle cx="765.9" cy="1298.3" r="11.7"/><circle cx="891.2" cy="1297.9" r="13.3"/><circle cx="804.7" cy="1287.7" r="13.2"/><circle cx="851.4" cy="1293.5" r="10.1"/><circle cx="905.2" cy="1294.7" r="10.4"/><circle cx="872.2" cy="1284.2" r="8.9"/><circle cx="888.3" cy="1217.2" r="7.7"/><circle cx="939.3" cy="1284.4" r="11.4"/><circle cx="918.2" cy="1206.2" r="9.7"/><circle cx="904.1" cy="1254.6" r="9.9"/><circle cx="905" cy="1223.3" r="9.1"/><circle cx="820.4" cy="1289.2" r="10.9"/><circle cx="857" cy="1222.4" r="10.6"/><circle cx="806.1" cy="1224.1" r="10.1"/><circle cx="897.7" cy="1305.4" r="14.1"/><circle cx="751" cy="1255.8" r="10.4"/><circle cx="783" cy="1265.6" r="12.5"/><circle cx="837" cy="1293.8" r="13.7"/><circle cx="867.5" cy="1190.6" r="13.4"/><circle cx="946.5" cy="1236.5" r="11.9"/><circle cx="915.6" cy="1286.5" r="11"/><circle cx="816" cy="1256.2" r="12.1"/><circle cx="814.3" cy="1295.2" r="10.7"/><circle cx="812.8" cy="1268.4" r="10.4"/><circle cx="903.9" cy="1265.4" r="10.3"/><circle cx="849.6" cy="1271.2" r="11.1"/><circle cx="897.7" cy="1208.5" r="11.5"/><circle cx="861.7" cy="1324.5" r="11.9"/><circle cx="877.7" cy="1300.3" r="13.8"/><circle cx="828.7" cy="1281.7" r="10.7"/><circle cx="806.9" cy="1246.2" r="10.2"/><circle cx="836" cy="1264.8" r="9.6"/><circle cx="824.5" cy="1209.8" r="12.1"/><circle cx="914.8" cy="1211.8" r="7.5"/><circle cx="832.7" cy="1307.1" r="10.3"/><circle cx="833.2" cy="1250.2" r="11.4"/><circle cx="853.4" cy="1278.2" r="14.3"/><circle cx="837.6" cy="1271.2" r="9.9"/><circle cx="923.5" cy="1220.4" r="11.5"/><circle cx="756.5" cy="1311" r="8.6"/><circle cx="805.2" cy="1254.4" r="8.5"/><circle cx="791" cy="1242.6" r="12.8"/><circle cx="894.5" cy="1196.8" r="8.9"/><circle cx="907.7" cy="1274.8" r="9.4"/><circle cx="841.2" cy="1212.6" r="10.2"/><circle cx="853.8" cy="1217.9" r="10.1"/><circle cx="930.1" cy="1257.2" r="14.2"/><circle cx="932" cy="1273" r="8.5"/><circle cx="817.6" cy="1180.9" r="8.8"/><circle cx="862.8" cy="1283.5" r="8.1"/><circle cx="940.3" cy="1299.8" r="8"/><circle cx="818.1" cy="1307" r="12.1"/><circle cx="927.5" cy="1300.8" r="9.5"/><circle cx="813.4" cy="1288.5" r="8.4"/><circle cx="831.2" cy="1288.1" r="14.2"/><circle cx="866.4" cy="1254.9" r="13.5"/><circle cx="778.6" cy="1219.1" r="7.6"/><circle cx="794" cy="1268.6" r="13.2"/><circle cx="787.5" cy="1206.2" r="10.2"/><circle cx="866" cy="1318.3" r="11.8"/><circle cx="889.4" cy="1199" r="7.6"/><circle cx="931.1" cy="1238.5" r="9.8"/><circle cx="881" cy="1261.8" r="13.5"/><circle cx="800.3" cy="1299.6" r="11.4"/><circle cx="853.6" cy="1320.9" r="9.4"/><circle cx="800.2" cy="1218.4" r="9.3"/><circle cx="908.9" cy="1303.3" r="14"/><circle cx="815.1" cy="1229.9" r="8.1"/><circle cx="853.8" cy="1313.5" r="12.2"/><circle cx="792.4" cy="1255.9" r="12.7"/><circle cx="889.5" cy="1234.2" r="13.7"/><circle cx="844.8" cy="1250.5" r="13.7"/><circle cx="844.2" cy="1296.1" r="11.4"/><circle cx="788" cy="1281.4" r="12.1"/><circle cx="794" cy="1318" r="13.7"/><circle cx="776.9" cy="1281.5" r="14.1"/><circle cx="927.3" cy="1276.4" r="12.4"/><circle cx="949.1" cy="1251" r="13.2"/><circle cx="826.8" cy="1216.3" r="11.9"/><circle cx="798.8" cy="1245.9" r="12.2"/><circle cx="858.8" cy="1212.1" r="9.3"/><circle cx="863.7" cy="1270.5" r="11.1"/><circle cx="871.8" cy="1299.7" r="8.3"/><circle cx="815.8" cy="1301.6" r="7.5"/><circle cx="806.5" cy="1296" r="13.7"/><circle cx="827.3" cy="1204.3" r="10.1"/><circle cx="821.3" cy="1296.4" r="9.9"/><circle cx="804.6" cy="1211.5" r="7.9"/><circle cx="871.4" cy="1224.3" r="13.2"/><circle cx="932.4" cy="1214.3" r="14.1"/><circle cx="826.2" cy="1312.7" r="12.5"/><circle cx="889" cy="1244.2" r="14.5"/><circle cx="819.8" cy="1274.5" r="13.2"/><circle cx="864.9" cy="1185" r="11.9"/><circle cx="884.4" cy="1287.4" r="12.9"/><circle cx="744.5" cy="1239.5" r="12.9"/><circle cx="821.4" cy="1268.9" r="13.1"/><circle cx="856.3" cy="1202.4" r="9.8"/><circle cx="905.9" cy="1238" r="7.9"/><circle cx="852.1" cy="1248.6" r="13.5"/><circle cx="842.5" cy="1267.7" r="14.4"/><circle cx="800.2" cy="1277.3" r="12.1"/><circle cx="810.4" cy="1183.3" r="7.8"/><circle cx="894.9" cy="1313.2" r="11.8"/><circle cx="864.4" cy="1229.6" r="7.9"/><circle cx="836.6" cy="1281.2" r="8.2"/><circle cx="859" cy="1193.3" r="11.2"/><circle cx="897.8" cy="1219.8" r="8.7"/><circle cx="793.5" cy="1292.3" r="12.8"/><circle cx="945.4" cy="1244.4" r="9.7"/><circle cx="898.4" cy="1244" r="9.3"/><circle cx="931" cy="1295.4" r="14.1"/><circle cx="917.1" cy="1297.2" r="11.6"/><circle cx="877" cy="1219" r="12.7"/><circle cx="930.4" cy="1283.1" r="13.3"/><circle cx="804.2" cy="1269.7" r="13"/><circle cx="909.6" cy="1289" r="12.2"/><circle cx="770.7" cy="1266.8" r="13"/><circle cx="774.7" cy="1212.4" r="9.6"/><circle cx="847.9" cy="1201" r="10.7"/><circle cx="878.5" cy="1196.4" r="8.3"/><circle cx="810.6" cy="1280.2" r="12.8"/><circle cx="808.5" cy="1322.4" r="13.9"/><circle cx="966.4" cy="1242" r="9.6"/><circle cx="891.8" cy="1229" r="10.6"/><circle cx="880" cy="1273.9" r="13.6"/><circle cx="748.4" cy="1243.5" r="8.8"/><circle cx="799.5" cy="1257.5" r="13.4"/><circle cx="792.8" cy="1304.9" r="13.9"/><circle cx="897.4" cy="1280.5" r="12.9"/><circle cx="909.5" cy="1196.6" r="9.4"/><circle cx="824.2" cy="1250" r="13"/><circle cx="923.5" cy="1291.9" r="9.2"/><circle cx="788" cy="1227" r="8.8"/><circle cx="872.8" cy="1246.8" r="14.1"/><circle cx="817.8" cy="1202" r="9.1"/><circle cx="866.7" cy="1312.3" r="13.2"/><circle cx="839.9" cy="1322.7" r="13.4"/><circle cx="798.7" cy="1199.6" r="9.9"/><circle cx="953.5" cy="1239.3" r="11.1"/><circle cx="923" cy="1235.4" r="12.4"/><circle cx="834.5" cy="1212.8" r="11.6"/><circle cx="879.8" cy="1241.7" r="9.7"/><circle cx="866.5" cy="1292.6" r="12.1"/><circle cx="801.4" cy="1232.1" r="9.5"/><circle cx="888" cy="1275.7" r="11.4"/><circle cx="915.2" cy="1245.9" r="11"/><circle cx="885.7" cy="1302.3" r="9.3"/><circle cx="905.9" cy="1308.5" r="12"/><circle cx="794.9" cy="1229.9" r="13.6"/><circle cx="844.5" cy="1191.5" r="10.4"/><circle cx="920.9" cy="1280.8" r="10"/><circle cx="764.9" cy="1304.8" r="13.1"/><circle cx="923.9" cy="1256.7" r="8.2"/><circle cx="780.3" cy="1243.3" r="13.9"/><circle cx="934.9" cy="1261.6" r="8.3"/><circle cx="812.5" cy="1251.3" r="14.1"/><circle cx="776.1" cy="1304" r="10.8"/><circle cx="772.7" cy="1234.5" r="7.9"/><circle cx="779.1" cy="1231.4" r="11.6"/><circle cx="835.5" cy="1200.5" r="9.2"/><circle cx="829.6" cy="1236.2" r="12.4"/><circle cx="912.9" cy="1251.4" r="14"/><circle cx="920" cy="1261" r="13"/><circle cx="958.4" cy="1236.6" r="10"/><circle cx="777.7" cy="1288.6" r="13.8"/><circle cx="823.6" cy="1303.5" r="7.9"/><circle cx="810" cy="1316" r="11.3"/><circle cx="935.3" cy="1255.1" r="11"/><circle cx="837.2" cy="1221.3" r="7.9"/><circle cx="874.8" cy="1278.5" r="12.5"/><circle cx="876.6" cy="1293.7" r="13.5"/><circle cx="862.7" cy="1261.4" r="12.9"/><circle cx="853.7" cy="1262.1" r="13.2"/><circle cx="780.8" cy="1312.4" r="11.6"/><circle cx="919.2" cy="1250.5" r="11.8"/><circle cx="787.7" cy="1248.1" r="8"/><circle cx="830.5" cy="1324.8" r="13.3"/><circle cx="887.5" cy="1256.5" r="9.4"/><circle cx="887.8" cy="1204.9" r="8"/><circle cx="898.8" cy="1231.4" r="11.1"/><circle cx="862.4" cy="1238.3" r="13.4"/><circle cx="826.8" cy="1191.7" r="10.6"/><circle cx="794.8" cy="1216.8" r="9.1"/><circle cx="790.8" cy="1310.6" r="11.5"/><circle cx="839" cy="1234.6" r="9.8"/><circle cx="900.6" cy="1312" r="14.3"/><circle cx="943.7" cy="1256.5" r="7.5"/><circle cx="794" cy="1285.8" r="13.8"/><circle cx="837.4" cy="1314.5" r="8.4"/><circle cx="922.9" cy="1306.3" r="8.1"/><circle cx="813.2" cy="1212.9" r="13.6"/><circle cx="910.5" cy="1208" r="11.2"/><circle cx="793.6" cy="1202.1" r="7.6"/><circle cx="803.2" cy="1191" r="12.9"/><circle cx="901.8" cy="1214.3" r="11.1"/><circle cx="925.2" cy="1228.6" r="12.5"/><circle cx="778.9" cy="1257.9" r="8.6"/><circle cx="876.5" cy="1255.2" r="10"/><circle cx="916.9" cy="1275.2" r="13.5"/><circle cx="801.8" cy="1306.8" r="11.9"/><circle cx="915.3" cy="1308.1" r="10.4"/><circle cx="834.5" cy="1258.6" r="8.6"/><circle cx="758" cy="1250.6" r="11.5"/><circle cx="895.6" cy="1265.4" r="14.5"/><circle cx="782.1" cy="1209.5" r="12.3"/><circle cx="867.3" cy="1303.6" r="9.1"/><circle cx="938.7" cy="1221.8" r="10.9"/><circle cx="867.9" cy="1196.8" r="8.1"/><circle cx="870.9" cy="1230.3" r="8.3"/><circle cx="914.4" cy="1262.3" r="10.8"/><circle cx="808.7" cy="1259.5" r="9.9"/><circle cx="793.8" cy="1195.8" r="8.7"/><circle cx="805.6" cy="1311.6" r="8"/><circle cx="895.8" cy="1253" r="8.5"/><circle cx="850.2" cy="1330.1" r="9.8"/><circle cx="818.7" cy="1317.9" r="13"/><circle cx="831.9" cy="1219.3" r="10.1"/><circle cx="769.7" cy="1215.3" r="7.6"/><circle cx="872.8" cy="1305.7" r="11.7"/><circle cx="768.3" cy="1250.6" r="10.1"/><circle cx="891.4" cy="1223" r="12.9"/><circle cx="819.1" cy="1222.3" r="11.5"/></g>
<circle cx="948" cy="1296.3" r="9.5" fill="url(#bump)"/>
<circle cx="953.5" cy="1292" r="9.2" fill="url(#bump)"/>
<circle cx="942" cy="1211.4" r="6.4" fill="url(#bump)"/>
<circle cx="950.8" cy="1269.3" r="5.8" fill="url(#bump)"/>
<circle cx="786.4" cy="1202.6" r="9.8" fill="url(#bump)"/>
<circle cx="817.9" cy="1181.7" r="9.2" fill="url(#bump)"/>
<circle cx="790.3" cy="1194.2" r="6.1" fill="url(#bump)"/>
<circle cx="807" cy="1176" r="8.7" fill="url(#bump)"/>
<circle cx="801.9" cy="1181.2" r="8.3" fill="url(#bump)"/>
<circle cx="969.7" cy="1249.8" r="9" fill="url(#bump)"/>
<circle cx="766" cy="1278.7" r="8.7" fill="url(#bump)"/>
<circle cx="791" cy="1325.1" r="7.5" fill="url(#bump)"/>
<circle cx="867.2" cy="1330.6" r="8.1" fill="url(#bump)"/>
<circle cx="944.2" cy="1300.4" r="9.1" fill="url(#bump)"/>
<circle cx="748.1" cy="1312.6" r="5.5" fill="url(#bump)"/>
<circle cx="732.3" cy="1248.4" r="9.4" fill="url(#bump)"/>
<circle cx="890.7" cy="1192.3" r="5.6" fill="url(#bump)"/>
<circle cx="814.5" cy="1332.7" r="8.6" fill="url(#bump)"/>
<circle cx="904.3" cy="1323.4" r="6" fill="url(#bump)"/>
<circle cx="796.7" cy="1185.9" r="5.3" fill="url(#bump)"/>
<circle cx="828" cy="1188.5" r="10" fill="url(#bump)"/>
<circle cx="986" cy="1240.7" r="7.4" fill="url(#bump)"/>
<circle cx="896" cy="1324.6" r="6.6" fill="url(#bump)"/>
<circle cx="878.6" cy="1188.4" r="9" fill="url(#bump)"/>
<circle cx="770.8" cy="1213.4" r="6.9" fill="url(#bump)"/>
<circle cx="901.1" cy="1190.7" r="6.1" fill="url(#bump)"/>
<circle cx="870.4" cy="1180.9" r="7.4" fill="url(#bump)"/>
<circle cx="928.9" cy="1196.4" r="5.7" fill="url(#bump)"/>
<circle cx="754.4" cy="1316.4" r="8.5" fill="url(#bump)"/>
<circle cx="748" cy="1259.9" r="8.8" fill="url(#bump)"/>
<circle cx="748.6" cy="1309.9" r="8.7" fill="url(#bump)"/>
<circle cx="949.9" cy="1219.6" r="6.8" fill="url(#bump)"/>
<circle cx="841.1" cy="1185.1" r="6" fill="url(#bump)"/>
<circle cx="910.8" cy="1194.6" r="9.3" fill="url(#bump)"/>
<circle cx="792.8" cy="1328.8" r="9" fill="url(#bump)"/>
<circle cx="802.5" cy="1330.1" r="8.5" fill="url(#bump)"/>
<circle cx="776.9" cy="1320.4" r="7.1" fill="url(#bump)"/>
<circle cx="961.6" cy="1231" r="5.7" fill="url(#bump)"/>
<circle cx="774.9" cy="1206.9" r="6.2" fill="url(#bump)"/>
<circle cx="856" cy="1180.3" r="9.7" fill="url(#bump)"/>
<circle cx="751" cy="1317.1" r="7.3" fill="url(#bump)"/>
<circle cx="814.4" cy="1175.7" r="6.8" fill="url(#bump)"/>
<circle cx="750.3" cy="1228.1" r="7.3" fill="url(#bump)"/>
<circle cx="763.7" cy="1319.7" r="5.8" fill="url(#bump)"/>
<circle cx="988.4" cy="1240.6" r="9.4" fill="url(#bump)"/>
<circle cx="824" cy="1330.6" r="7.1" fill="url(#bump)"/>
<circle cx="908.6" cy="1317" r="7.6" fill="url(#bump)"/>
<circle cx="933.5" cy="1308.3" r="6.2" fill="url(#bump)"/>
<circle cx="839.1" cy="1332.6" r="9.3" fill="url(#bump)"/>
<circle cx="744.1" cy="1229.6" r="8.4" fill="url(#bump)"/>
<circle cx="859" cy="1337" r="6.7" fill="url(#bump)"/>
<circle cx="846.6" cy="1331.6" r="9.8" fill="url(#bump)"/>
<circle cx="860.7" cy="1175.7" r="5.6" fill="url(#bump)"/>
<circle cx="880.8" cy="1328.2" r="6.6" fill="url(#bump)"/>
<circle cx="954.5" cy="1261.3" r="9.3" fill="url(#bump)"/>
<circle cx="955.8" cy="1225.4" r="6.5" fill="url(#bump)"/>
<circle cx="735.1" cy="1232.6" r="8.9" fill="url(#bump)"/>
<circle cx="766.7" cy="1290.3" r="8.5" fill="url(#bump)"/>
<circle cx="953" cy="1291.3" r="6.3" fill="url(#bump)"/>
<circle cx="917.2" cy="1195.3" r="9" fill="url(#bump)"/>
<circle cx="982.4" cy="1239.2" r="9.2" fill="url(#bump)"/>
<circle cx="947.7" cy="1282" r="7.2" fill="url(#bump)"/>
<circle cx="848.9" cy="1180.5" r="8.4" fill="url(#bump)"/>
<circle cx="755" cy="1307.1" r="7.9" fill="url(#bump)"/>
<circle cx="853.2" cy="1336.8" r="6" fill="url(#bump)"/>
<circle cx="869.3" cy="1181.9" r="8.3" fill="url(#bump)"/>
<circle cx="765.4" cy="1215" r="7.1" fill="url(#bump)"/>
<circle cx="758.5" cy="1297.3" r="7" fill="url(#bump)"/>
<circle cx="730.4" cy="1243.4" r="6.2" fill="url(#bump)"/>
<circle cx="808.4" cy="1174.1" r="6.2" fill="url(#bump)"/>
<circle cx="923.4" cy="1198.1" r="8.1" fill="url(#bump)"/>
<circle cx="832.4" cy="1331.2" r="8.5" fill="url(#bump)"/>
<circle cx="917.5" cy="1315" r="6.3" fill="url(#bump)"/>
<circle cx="734.3" cy="1253.6" r="5.8" fill="url(#bump)"/>
<circle cx="759" cy="1219.4" r="5.6" fill="url(#bump)"/>
<circle cx="891.6" cy="1327.8" r="5.1" fill="url(#bump)"/>
<circle cx="940.1" cy="1303.4" r="9.1" fill="url(#bump)"/>
<circle cx="936.1" cy="1208.2" r="8.5" fill="url(#bump)"/>
<circle cx="959.8" cy="1255" r="8.5" fill="url(#bump)"/>
<circle cx="733.5" cy="1231.7" r="5.8" fill="url(#bump)"/>
<circle cx="972.4" cy="1235.8" r="8.1" fill="url(#bump)"/>
<circle cx="729.8" cy="1240.9" r="5.7" fill="url(#bump)"/>
<circle cx="981.2" cy="1246" r="8.6" fill="url(#bump)"/>
<circle cx="782.6" cy="1325.6" r="5.3" fill="url(#bump)"/>
<circle cx="921.5" cy="1311.5" r="6.9" fill="url(#bump)"/>
<circle cx="873.8" cy="1330.1" r="7.1" fill="url(#bump)"/>
<circle cx="743.4" cy="1258.1" r="7.9" fill="url(#bump)"/>
<circle cx="757.3" cy="1265.8" r="9.1" fill="url(#bump)"/>
<circle cx="975.6" cy="1251.5" r="7.4" fill="url(#bump)"/>
<circle cx="872.2" cy="1317.6" r="15.8" fill="url(#bump)"/>
<circle cx="761.1" cy="1234.9" r="14.8" fill="url(#bump)"/>
<circle cx="771" cy="1228.5" r="15.6" fill="url(#bump)"/>
<circle cx="887.1" cy="1318.5" r="15.9" fill="url(#bump)"/>
<circle cx="912.5" cy="1237.6" r="13.1" fill="url(#bump)"/>
<circle cx="945" cy="1287.7" r="9" fill="url(#bump)"/>
<circle cx="942.2" cy="1263.4" r="12.4" fill="url(#bump)"/>
<circle cx="765.9" cy="1298.3" r="13.2" fill="url(#bump)"/>
<circle cx="891.2" cy="1297.9" r="14.8" fill="url(#bump)"/>
<circle cx="804.7" cy="1287.7" r="14.7" fill="url(#bump)"/>
<circle cx="851.4" cy="1293.5" r="11.6" fill="url(#bump)"/>
<circle cx="905.2" cy="1294.7" r="11.9" fill="url(#bump)"/>
<circle cx="872.2" cy="1284.2" r="10.4" fill="url(#bump)"/>
<circle cx="888.3" cy="1217.2" r="9.2" fill="url(#bump)"/>
<circle cx="939.3" cy="1284.4" r="12.9" fill="url(#bump)"/>
<circle cx="918.2" cy="1206.2" r="11.2" fill="url(#bump)"/>
<circle cx="904.1" cy="1254.6" r="11.4" fill="url(#bump)"/>
<circle cx="905" cy="1223.3" r="10.6" fill="url(#bump)"/>
<circle cx="820.4" cy="1289.2" r="12.4" fill="url(#bump)"/>
<circle cx="857" cy="1222.4" r="12.1" fill="url(#bump)"/>
<circle cx="806.1" cy="1224.1" r="11.6" fill="url(#bump)"/>
<circle cx="897.7" cy="1305.4" r="15.6" fill="url(#bump)"/>
<circle cx="751" cy="1255.8" r="11.9" fill="url(#bump)"/>
<circle cx="783" cy="1265.6" r="14" fill="url(#bump)"/>
<circle cx="837" cy="1293.8" r="15.2" fill="url(#bump)"/>
<circle cx="867.5" cy="1190.6" r="14.9" fill="url(#bump)"/>
<circle cx="946.5" cy="1236.5" r="13.4" fill="url(#bump)"/>
<circle cx="915.6" cy="1286.5" r="12.5" fill="url(#bump)"/>
<circle cx="816" cy="1256.2" r="13.6" fill="url(#bump)"/>
<circle cx="814.3" cy="1295.2" r="12.2" fill="url(#bump)"/>
<circle cx="812.8" cy="1268.4" r="11.9" fill="url(#bump)"/>
<circle cx="903.9" cy="1265.4" r="11.8" fill="url(#bump)"/>
<circle cx="849.6" cy="1271.2" r="12.6" fill="url(#bump)"/>
<circle cx="897.7" cy="1208.5" r="13" fill="url(#bump)"/>
<circle cx="861.7" cy="1324.5" r="13.4" fill="url(#bump)"/>
<circle cx="877.7" cy="1300.3" r="15.3" fill="url(#bump)"/>
<circle cx="828.7" cy="1281.7" r="12.2" fill="url(#bump)"/>
<circle cx="806.9" cy="1246.2" r="11.7" fill="url(#bump)"/>
<circle cx="836" cy="1264.8" r="11.1" fill="url(#bump)"/>
<circle cx="824.5" cy="1209.8" r="13.6" fill="url(#bump)"/>
<circle cx="914.8" cy="1211.8" r="9" fill="url(#bump)"/>
<circle cx="832.7" cy="1307.1" r="11.8" fill="url(#bump)"/>
<circle cx="833.2" cy="1250.2" r="12.9" fill="url(#bump)"/>
<circle cx="853.4" cy="1278.2" r="15.8" fill="url(#bump)"/>
<circle cx="837.6" cy="1271.2" r="11.4" fill="url(#bump)"/>
<circle cx="923.5" cy="1220.4" r="13" fill="url(#bump)"/>
<circle cx="756.5" cy="1311" r="10.1" fill="url(#bump)"/>
<circle cx="805.2" cy="1254.4" r="10" fill="url(#bump)"/>
<circle cx="791" cy="1242.6" r="14.3" fill="url(#bump)"/>
<circle cx="894.5" cy="1196.8" r="10.4" fill="url(#bump)"/>
<circle cx="907.7" cy="1274.8" r="10.9" fill="url(#bump)"/>
<circle cx="841.2" cy="1212.6" r="11.7" fill="url(#bump)"/>
<circle cx="853.8" cy="1217.9" r="11.6" fill="url(#bump)"/>
<circle cx="930.1" cy="1257.2" r="15.7" fill="url(#bump)"/>
<circle cx="932" cy="1273" r="10" fill="url(#bump)"/>
<circle cx="817.6" cy="1180.9" r="10.3" fill="url(#bump)"/>
<circle cx="862.8" cy="1283.5" r="9.6" fill="url(#bump)"/>
<circle cx="940.3" cy="1299.8" r="9.5" fill="url(#bump)"/>
<circle cx="818.1" cy="1307" r="13.6" fill="url(#bump)"/>
<circle cx="927.5" cy="1300.8" r="11" fill="url(#bump)"/>
<circle cx="813.4" cy="1288.5" r="9.9" fill="url(#bump)"/>
<circle cx="831.2" cy="1288.1" r="15.7" fill="url(#bump)"/>
<circle cx="866.4" cy="1254.9" r="15" fill="url(#bump)"/>
<circle cx="778.6" cy="1219.1" r="9.1" fill="url(#bump)"/>
<circle cx="794" cy="1268.6" r="14.7" fill="url(#bump)"/>
<circle cx="787.5" cy="1206.2" r="11.7" fill="url(#bump)"/>
<circle cx="866" cy="1318.3" r="13.3" fill="url(#bump)"/>
<circle cx="889.4" cy="1199" r="9.1" fill="url(#bump)"/>
<circle cx="931.1" cy="1238.5" r="11.3" fill="url(#bump)"/>
<circle cx="881" cy="1261.8" r="15" fill="url(#bump)"/>
<circle cx="800.3" cy="1299.6" r="12.9" fill="url(#bump)"/>
<circle cx="853.6" cy="1320.9" r="10.9" fill="url(#bump)"/>
<circle cx="800.2" cy="1218.4" r="10.8" fill="url(#bump)"/>
<circle cx="908.9" cy="1303.3" r="15.5" fill="url(#bump)"/>
<circle cx="815.1" cy="1229.9" r="9.6" fill="url(#bump)"/>
<circle cx="853.8" cy="1313.5" r="13.7" fill="url(#bump)"/>
<circle cx="792.4" cy="1255.9" r="14.2" fill="url(#bump)"/>
<circle cx="889.5" cy="1234.2" r="15.2" fill="url(#bump)"/>
<circle cx="844.8" cy="1250.5" r="15.2" fill="url(#bump)"/>
<circle cx="844.2" cy="1296.1" r="12.9" fill="url(#bump)"/>
<circle cx="788" cy="1281.4" r="13.6" fill="url(#bump)"/>
<circle cx="794" cy="1318" r="15.2" fill="url(#bump)"/>
<circle cx="776.9" cy="1281.5" r="15.6" fill="url(#bump)"/>
<circle cx="927.3" cy="1276.4" r="13.9" fill="url(#bump)"/>
<circle cx="949.1" cy="1251" r="14.7" fill="url(#bump)"/>
<circle cx="826.8" cy="1216.3" r="13.4" fill="url(#bump)"/>
<circle cx="798.8" cy="1245.9" r="13.7" fill="url(#bump)"/>
<circle cx="858.8" cy="1212.1" r="10.8" fill="url(#bump)"/>
<circle cx="863.7" cy="1270.5" r="12.6" fill="url(#bump)"/>
<circle cx="871.8" cy="1299.7" r="9.8" fill="url(#bump)"/>
<circle cx="815.8" cy="1301.6" r="9" fill="url(#bump)"/>
<circle cx="806.5" cy="1296" r="15.2" fill="url(#bump)"/>
<circle cx="827.3" cy="1204.3" r="11.6" fill="url(#bump)"/>
<circle cx="821.3" cy="1296.4" r="11.4" fill="url(#bump)"/>
<circle cx="804.6" cy="1211.5" r="9.4" fill="url(#bump)"/>
<circle cx="871.4" cy="1224.3" r="14.7" fill="url(#bump)"/>
<circle cx="932.4" cy="1214.3" r="15.6" fill="url(#bump)"/>
<circle cx="826.2" cy="1312.7" r="14" fill="url(#bump)"/>
<circle cx="889" cy="1244.2" r="16" fill="url(#bump)"/>
<circle cx="819.8" cy="1274.5" r="14.7" fill="url(#bump)"/>
<circle cx="864.9" cy="1185" r="13.4" fill="url(#bump)"/>
<circle cx="884.4" cy="1287.4" r="14.4" fill="url(#bump)"/>
<circle cx="744.5" cy="1239.5" r="14.4" fill="url(#bump)"/>
<circle cx="821.4" cy="1268.9" r="14.6" fill="url(#bump)"/>
<circle cx="856.3" cy="1202.4" r="11.3" fill="url(#bump)"/>
<circle cx="905.9" cy="1238" r="9.4" fill="url(#bump)"/>
<circle cx="852.1" cy="1248.6" r="15" fill="url(#bump)"/>
<circle cx="842.5" cy="1267.7" r="15.9" fill="url(#bump)"/>
<circle cx="800.2" cy="1277.3" r="13.6" fill="url(#bump)"/>
<circle cx="810.4" cy="1183.3" r="9.3" fill="url(#bump)"/>
<circle cx="894.9" cy="1313.2" r="13.3" fill="url(#bump)"/>
<circle cx="864.4" cy="1229.6" r="9.4" fill="url(#bump)"/>
<circle cx="836.6" cy="1281.2" r="9.7" fill="url(#bump)"/>
<circle cx="859" cy="1193.3" r="12.7" fill="url(#bump)"/>
<circle cx="897.8" cy="1219.8" r="10.2" fill="url(#bump)"/>
<circle cx="793.5" cy="1292.3" r="14.3" fill="url(#bump)"/>
<circle cx="945.4" cy="1244.4" r="11.2" fill="url(#bump)"/>
<circle cx="898.4" cy="1244" r="10.8" fill="url(#bump)"/>
<circle cx="931" cy="1295.4" r="15.6" fill="url(#bump)"/>
<circle cx="917.1" cy="1297.2" r="13.1" fill="url(#bump)"/>
<circle cx="877" cy="1219" r="14.2" fill="url(#bump)"/>
<circle cx="930.4" cy="1283.1" r="14.8" fill="url(#bump)"/>
<circle cx="804.2" cy="1269.7" r="14.5" fill="url(#bump)"/>
<circle cx="909.6" cy="1289" r="13.7" fill="url(#bump)"/>
<circle cx="770.7" cy="1266.8" r="14.5" fill="url(#bump)"/>
<circle cx="774.7" cy="1212.4" r="11.1" fill="url(#bump)"/>
<circle cx="847.9" cy="1201" r="12.2" fill="url(#bump)"/>
<circle cx="878.5" cy="1196.4" r="9.8" fill="url(#bump)"/>
<circle cx="810.6" cy="1280.2" r="14.3" fill="url(#bump)"/>
<circle cx="808.5" cy="1322.4" r="15.4" fill="url(#bump)"/>
<circle cx="966.4" cy="1242" r="11.1" fill="url(#bump)"/>
<circle cx="891.8" cy="1229" r="12.1" fill="url(#bump)"/>
<circle cx="880" cy="1273.9" r="15.1" fill="url(#bump)"/>
<circle cx="748.4" cy="1243.5" r="10.3" fill="url(#bump)"/>
<circle cx="799.5" cy="1257.5" r="14.9" fill="url(#bump)"/>
<circle cx="792.8" cy="1304.9" r="15.4" fill="url(#bump)"/>
<circle cx="897.4" cy="1280.5" r="14.4" fill="url(#bump)"/>
<circle cx="909.5" cy="1196.6" r="10.9" fill="url(#bump)"/>
<circle cx="824.2" cy="1250" r="14.5" fill="url(#bump)"/>
<circle cx="923.5" cy="1291.9" r="10.7" fill="url(#bump)"/>
<circle cx="788" cy="1227" r="10.3" fill="url(#bump)"/>
<circle cx="872.8" cy="1246.8" r="15.6" fill="url(#bump)"/>
<circle cx="817.8" cy="1202" r="10.6" fill="url(#bump)"/>
<circle cx="866.7" cy="1312.3" r="14.7" fill="url(#bump)"/>
<circle cx="839.9" cy="1322.7" r="14.9" fill="url(#bump)"/>
<circle cx="798.7" cy="1199.6" r="11.4" fill="url(#bump)"/>
<circle cx="953.5" cy="1239.3" r="12.6" fill="url(#bump)"/>
<circle cx="923" cy="1235.4" r="13.9" fill="url(#bump)"/>
<circle cx="834.5" cy="1212.8" r="13.1" fill="url(#bump)"/>
<circle cx="879.8" cy="1241.7" r="11.2" fill="url(#bump)"/>
<circle cx="866.5" cy="1292.6" r="13.6" fill="url(#bump)"/>
<circle cx="801.4" cy="1232.1" r="11" fill="url(#bump)"/>
<circle cx="888" cy="1275.7" r="12.9" fill="url(#bump)"/>
<circle cx="915.2" cy="1245.9" r="12.5" fill="url(#bump)"/>
<circle cx="885.7" cy="1302.3" r="10.8" fill="url(#bump)"/>
<circle cx="905.9" cy="1308.5" r="13.5" fill="url(#bump)"/>
<circle cx="794.9" cy="1229.9" r="15.1" fill="url(#bump)"/>
<circle cx="844.5" cy="1191.5" r="11.9" fill="url(#bump)"/>
<circle cx="920.9" cy="1280.8" r="11.5" fill="url(#bump)"/>
<circle cx="764.9" cy="1304.8" r="14.6" fill="url(#bump)"/>
<circle cx="923.9" cy="1256.7" r="9.7" fill="url(#bump)"/>
<circle cx="780.3" cy="1243.3" r="15.4" fill="url(#bump)"/>
<circle cx="934.9" cy="1261.6" r="9.8" fill="url(#bump)"/>
<circle cx="812.5" cy="1251.3" r="15.6" fill="url(#bump)"/>
<circle cx="776.1" cy="1304" r="12.3" fill="url(#bump)"/>
<circle cx="772.7" cy="1234.5" r="9.4" fill="url(#bump)"/>
<circle cx="779.1" cy="1231.4" r="13.1" fill="url(#bump)"/>
<circle cx="835.5" cy="1200.5" r="10.7" fill="url(#bump)"/>
<circle cx="829.6" cy="1236.2" r="13.9" fill="url(#bump)"/>
<circle cx="912.9" cy="1251.4" r="15.5" fill="url(#bump)"/>
<circle cx="920" cy="1261" r="14.5" fill="url(#bump)"/>
<circle cx="958.4" cy="1236.6" r="11.5" fill="url(#bump)"/>
<circle cx="777.7" cy="1288.6" r="15.3" fill="url(#bump)"/>
<circle cx="823.6" cy="1303.5" r="9.4" fill="url(#bump)"/>
<circle cx="810" cy="1316" r="12.8" fill="url(#bump)"/>
<circle cx="935.3" cy="1255.1" r="12.5" fill="url(#bump)"/>
<circle cx="837.2" cy="1221.3" r="9.4" fill="url(#bump)"/>
<circle cx="874.8" cy="1278.5" r="14" fill="url(#bump)"/>
<circle cx="876.6" cy="1293.7" r="15" fill="url(#bump)"/>
<circle cx="862.7" cy="1261.4" r="14.4" fill="url(#bump)"/>
<circle cx="853.7" cy="1262.1" r="14.7" fill="url(#bump)"/>
<circle cx="780.8" cy="1312.4" r="13.1" fill="url(#bump)"/>
<circle cx="919.2" cy="1250.5" r="13.3" fill="url(#bump)"/>
<circle cx="787.7" cy="1248.1" r="9.5" fill="url(#bump)"/>
<circle cx="830.5" cy="1324.8" r="14.8" fill="url(#bump)"/>
<circle cx="887.5" cy="1256.5" r="10.9" fill="url(#bump)"/>
<circle cx="887.8" cy="1204.9" r="9.5" fill="url(#bump)"/>
<circle cx="898.8" cy="1231.4" r="12.6" fill="url(#bump)"/>
<circle cx="862.4" cy="1238.3" r="14.9" fill="url(#bump)"/>
<circle cx="826.8" cy="1191.7" r="12.1" fill="url(#bump)"/>
<circle cx="794.8" cy="1216.8" r="10.6" fill="url(#bump)"/>
<circle cx="790.8" cy="1310.6" r="13" fill="url(#bump)"/>
<circle cx="839" cy="1234.6" r="11.3" fill="url(#bump)"/>
<circle cx="900.6" cy="1312" r="15.8" fill="url(#bump)"/>
<circle cx="943.7" cy="1256.5" r="9" fill="url(#bump)"/>
<circle cx="794" cy="1285.8" r="15.3" fill="url(#bump)"/>
<circle cx="837.4" cy="1314.5" r="9.9" fill="url(#bump)"/>
<circle cx="922.9" cy="1306.3" r="9.6" fill="url(#bump)"/>
<circle cx="813.2" cy="1212.9" r="15.1" fill="url(#bump)"/>
<circle cx="910.5" cy="1208" r="12.7" fill="url(#bump)"/>
<circle cx="793.6" cy="1202.1" r="9.1" fill="url(#bump)"/>
<circle cx="803.2" cy="1191" r="14.4" fill="url(#bump)"/>
<circle cx="901.8" cy="1214.3" r="12.6" fill="url(#bump)"/>
<circle cx="925.2" cy="1228.6" r="14" fill="url(#bump)"/>
<circle cx="778.9" cy="1257.9" r="10.1" fill="url(#bump)"/>
<circle cx="876.5" cy="1255.2" r="11.5" fill="url(#bump)"/>
<circle cx="916.9" cy="1275.2" r="15" fill="url(#bump)"/>
<circle cx="801.8" cy="1306.8" r="13.4" fill="url(#bump)"/>
<circle cx="915.3" cy="1308.1" r="11.9" fill="url(#bump)"/>
<circle cx="834.5" cy="1258.6" r="10.1" fill="url(#bump)"/>
<circle cx="758" cy="1250.6" r="13" fill="url(#bump)"/>
<circle cx="895.6" cy="1265.4" r="16" fill="url(#bump)"/>
<circle cx="782.1" cy="1209.5" r="13.8" fill="url(#bump)"/>
<circle cx="867.3" cy="1303.6" r="10.6" fill="url(#bump)"/>
<circle cx="938.7" cy="1221.8" r="12.4" fill="url(#bump)"/>
<circle cx="867.9" cy="1196.8" r="9.6" fill="url(#bump)"/>
<circle cx="870.9" cy="1230.3" r="9.8" fill="url(#bump)"/>
<circle cx="914.4" cy="1262.3" r="12.3" fill="url(#bump)"/>
<circle cx="808.7" cy="1259.5" r="11.4" fill="url(#bump)"/>
<circle cx="793.8" cy="1195.8" r="10.2" fill="url(#bump)"/>
<circle cx="805.6" cy="1311.6" r="9.5" fill="url(#bump)"/>
<circle cx="895.8" cy="1253" r="10" fill="url(#bump)"/>
<circle cx="850.2" cy="1330.1" r="11.3" fill="url(#bump)"/>
<circle cx="818.7" cy="1317.9" r="14.5" fill="url(#bump)"/>
<circle cx="831.9" cy="1219.3" r="11.6" fill="url(#bump)"/>
<circle cx="769.7" cy="1215.3" r="9.1" fill="url(#bump)"/>
<circle cx="872.8" cy="1305.7" r="13.2" fill="url(#bump)"/>
<circle cx="768.3" cy="1250.6" r="11.6" fill="url(#bump)"/>
<circle cx="891.4" cy="1223" r="14.4" fill="url(#bump)"/>
<circle cx="819.1" cy="1222.3" r="13" fill="url(#bump)"/>
</g>
<path d="M807.2 1217.2 L818.9 1212.8 L845.2 1215.7 L849.6 1223 L836.5 1228.9 L816 1228.9 L805.7 1226Z" fill="#9bea86" opacity="0.9" filter="url(#pblur)"/>
<path d="M761.8 1240.6 L777.9 1231.8 L795.4 1233.3 L816 1234.7 L836.5 1231.8 L845.2 1237.7 L839.4 1246.5 L827.7 1252.3 L830.6 1264 L818.9 1272.8 L801.3 1275.7 L777.9 1278.7 L763.2 1272.8 L758.8 1258.2Z" fill="#9bea86" opacity="0.92" filter="url(#pblur)"/>
<path d="M769.1 1228.3 L777.9 1226.8 L779.3 1237.7 L770.6 1237.7Z" fill="#9bea86" opacity="0.85" filter="url(#pblur)"/>
<path d="M758.8 1240.6 L773.5 1236.2 L780.8 1246.5 L777.9 1259.6 L760.3 1258.2Z" fill="#efb365" opacity="0.95" filter="url(#pblur)"/>
<path d="M845.2 1217.2 L859.9 1214.2 L871.6 1220.1 L873.1 1231.8 L857 1228.9Z" fill="#5a68e0" opacity="0.9" filter="url(#pblur)"/>
<path d="M827.7 1234.7 L848.2 1230.3 L849.6 1236.2 L830.6 1240.6Z" fill="#8fe6ea" opacity="0.9" filter="url(#pblur)"/>
<path d="M859.9 1234.7 L877.5 1233.3 L878.9 1243.5 L862.8 1246.5Z" fill="#78b4e8" opacity="0.9" filter="url(#pblur)"/>
<path d="M842.3 1246.5 L854 1237.7 L868.7 1243.5 L870.1 1264 L848.2 1267Z" fill="#d4603e" opacity="0.92" filter="url(#pblur)"/>
<path d="M811.6 1268.4 L827.7 1265.5 L843.8 1272.8 L839.4 1279.3 L813 1278.7Z" fill="#cc3a3a" opacity="0.92" filter="url(#pblur)"/>
<path d="M 791.1 1252.9 L 799 1249.4 L 808.6 1250 L 818 1246.5 L 827.1 1246.5 L 828.3 1252.3 L 818.9 1255.8 L 808.6 1256.7 L 799.8 1259.6 L 791.9 1258.2 Z M 808.6 1250 L 808.6 1256.7 M 818 1246.5 L 818.9 1255.8 M 827.1 1246.5 L 834.1 1242.9 M 834.1 1242.9 L 836.5 1237.7 L 843.8 1235.3 L 849.6 1238.3 L 848.2 1244.1 L 840 1246.5 Z M 849.6 1238.3 L 855.5 1234.7 M 791.9 1258.2 L 789.6 1261.7 M 799.8 1259.6 L 801.3 1263.4 M 828.3 1252.3 L 830.6 1256.7" stroke="#e4d01c" stroke-width="2.2" fill="none" stroke-linejoin="round" stroke-linecap="round"/>
<path d="M 849.6 1217.2 L 862.8 1221.6 L 869.3 1230.3" stroke="#2a3ae0" stroke-width="0.8" fill="none"/>
<rect x="756.4" y="1202.7" width="130.8" height="76.8" fill="none" stroke="#333" stroke-width="1.2" stroke-dasharray="4 2.5"/>
<path d="M887.2 1202.7L1128.5 1133.1M887.2 1279.5L1128.5 1319.4" stroke="#5a6580" stroke-width="1.1" stroke-dasharray="4 3" fill="none"/>
<g filter="url(#fblur)">
<g fill="#c2c2c2"><path d="M751.4 1448.6 L766.7 1443.2 L769 1423.5 L791.7 1413.3 L797.3 1387.2 L802.3 1382.5 L813 1392 L827.7 1396.9 L838.3 1406.9 L841.6 1438.5 L870.7 1444.8 L898.9 1450.3 L921.7 1464.4 L951 1482.1 L980.6 1497 L1010 1511.6 L1033 1523.2 L1052.6 1537 L1063.3 1553 L1066.1 1566.7 L1051.6 1581.4 L1035 1576.1 L1014.7 1558.6 L984.7 1546.4 L955.1 1534.8 L925.8 1525.9 L895.8 1516.8 L871.2 1516.7 L852 1520.1 L827 1535.8 L819.4 1549.8 L806.6 1557.9 L801.1 1552 L789.9 1541.4 L766.7 1524.2 L757.2 1508.7 L750.5 1484.8 L750.6 1460.7Z"/><circle cx="958.5" cy="1489.6" r="9.5"/><circle cx="1000.3" cy="1507.2" r="6.7"/><circle cx="789.2" cy="1419.5" r="9.3"/><circle cx="906.7" cy="1460.5" r="9.9"/><circle cx="1052" cy="1580.6" r="6.3"/><circle cx="988.6" cy="1547" r="7.8"/><circle cx="918" cy="1461.1" r="6"/><circle cx="840" cy="1417.6" r="5.8"/><circle cx="749.4" cy="1475.1" r="5.8"/><circle cx="952.3" cy="1484.1" r="9.8"/><circle cx="974.4" cy="1496" r="7"/><circle cx="1050.3" cy="1576.3" r="9.8"/><circle cx="875" cy="1446.7" r="6.5"/><circle cx="991.3" cy="1502.7" r="9.6"/><circle cx="866.5" cy="1443.8" r="6.6"/><circle cx="900.6" cy="1517.8" r="8.6"/><circle cx="1066.1" cy="1567.8" r="6.5"/><circle cx="818.7" cy="1394.4" r="8.2"/><circle cx="1049.1" cy="1536.3" r="6.4"/><circle cx="749.2" cy="1462.9" r="5.9"/><circle cx="760" cy="1501.6" r="9.8"/><circle cx="762.8" cy="1447.4" r="7.8"/><circle cx="770.2" cy="1438.6" r="7.8"/><circle cx="786.4" cy="1539.2" r="6"/><circle cx="836.6" cy="1430" r="9.8"/><circle cx="771" cy="1526.3" r="7.5"/><circle cx="1041.3" cy="1530.5" r="7"/><circle cx="820.2" cy="1549.2" r="7.1"/><circle cx="881.6" cy="1515.3" r="8.7"/><circle cx="986.4" cy="1499.9" r="6.6"/><circle cx="752.3" cy="1458" r="9.9"/><circle cx="923.7" cy="1523.1" r="8.5"/><circle cx="984" cy="1543.6" r="9.5"/><circle cx="751.6" cy="1489.3" r="6.2"/><circle cx="1058" cy="1551.4" r="8.8"/><circle cx="1032" cy="1528.5" r="9.9"/><circle cx="831.8" cy="1529" r="9.3"/><circle cx="940.5" cy="1477.3" r="8.2"/><circle cx="966" cy="1537.1" r="9.6"/><circle cx="750.4" cy="1480.3" r="6.8"/><circle cx="1055" cy="1539.1" r="7.2"/><circle cx="961" cy="1536.2" r="7.1"/><circle cx="932.1" cy="1525" r="8.3"/><circle cx="1011.9" cy="1517.4" r="9.9"/><circle cx="840.9" cy="1423.8" r="6.5"/><circle cx="757.1" cy="1494.4" r="9.8"/><circle cx="1011.1" cy="1556.1" r="6"/><circle cx="780.1" cy="1534.3" r="7.6"/><circle cx="773.7" cy="1426.3" r="9.8"/><circle cx="863.7" cy="1517.8" r="8.3"/><circle cx="794.5" cy="1396" r="6.1"/><circle cx="969.7" cy="1493.2" r="9"/><circle cx="950.7" cy="1531" r="8.8"/><circle cx="881.1" cy="1449.5" r="8.3"/><circle cx="1062.2" cy="1555.8" r="7.7"/><circle cx="770.4" cy="1423.4" r="5.6"/><circle cx="1031.9" cy="1522.2" r="7.8"/><circle cx="1057.4" cy="1545.4" r="8.9"/><circle cx="900.4" cy="1455.9" r="9.9"/><circle cx="769" cy="1521.3" r="8.5"/><circle cx="791.8" cy="1408.2" r="6"/><circle cx="1002.3" cy="1551.7" r="8.3"/><circle cx="938.9" cy="1529.5" r="8"/><circle cx="1065.9" cy="1565" r="6.2"/><circle cx="824.3" cy="1395.8" r="6.7"/><circle cx="794.7" cy="1392.3" r="5.8"/><circle cx="948.1" cy="1482.3" r="7.3"/><circle cx="998.3" cy="1549.9" r="9.9"/><circle cx="824.3" cy="1539.4" r="6.1"/><circle cx="909.5" cy="1520" r="8.3"/><circle cx="1058" cy="1572.7" r="6.6"/><circle cx="1034.5" cy="1573.4" r="9.7"/><circle cx="1037.7" cy="1574.9" r="8.9"/><circle cx="850.9" cy="1444" r="7.8"/><circle cx="809.5" cy="1557" r="6.1"/><circle cx="1004.4" cy="1509.6" r="6"/><circle cx="859.3" cy="1444.4" r="8.3"/><circle cx="1044.2" cy="1578.7" r="8"/><circle cx="803.9" cy="1385.9" r="6.3"/><circle cx="760.6" cy="1510.2" r="7.6"/><circle cx="932.9" cy="1472.8" r="9.9"/><circle cx="838.3" cy="1525.3" r="8.1"/><circle cx="975.5" cy="1538.7" r="9.4"/><circle cx="1023.5" cy="1566.3" r="8.6"/><circle cx="859.4" cy="1517.7" r="7.6"/><circle cx="924.3" cy="1465.1" r="7.2"/><circle cx="874.3" cy="1518" r="5.9"/><circle cx="776.6" cy="1531.5" r="6.8"/><circle cx="844.9" cy="1524.1" r="6.4"/><circle cx="799.4" cy="1550.6" r="7.6"/><circle cx="807.2" cy="1556.2" r="8.9"/><circle cx="776.8" cy="1420.5" r="5.6"/><circle cx="809" cy="1390.9" r="8.1"/><circle cx="889.6" cy="1447.6" r="6.2"/><circle cx="1022.9" cy="1517.9" r="5.9"/><circle cx="832.3" cy="1400.7" r="7.5"/><circle cx="839.9" cy="1410.2" r="6"/><circle cx="890.5" cy="1516" r="9.7"/><circle cx="834.9" cy="1406.8" r="9.2"/><circle cx="799.5" cy="1385.5" r="6.3"/><circle cx="944.1" cy="1529.5" r="8.5"/><circle cx="750.9" cy="1451.7" r="5.8"/><circle cx="750.9" cy="1449" r="6.5"/><circle cx="815.5" cy="1550.7" r="8.6"/><circle cx="1019.5" cy="1561.7" r="6.3"/><circle cx="893.8" cy="1449.9" r="5.7"/><circle cx="914.9" cy="1519.3" r="9.4"/><circle cx="794.4" cy="1544.6" r="8.8"/><circle cx="804.2" cy="1439.2" r="9.4"/><circle cx="1026.8" cy="1537.2" r="9.5"/><circle cx="823.9" cy="1485.4" r="13.2"/><circle cx="855.5" cy="1493.7" r="14"/><circle cx="894.4" cy="1482.3" r="8.8"/><circle cx="1058" cy="1569.7" r="9"/><circle cx="912.5" cy="1487.1" r="12"/><circle cx="763.5" cy="1451.9" r="11.6"/><circle cx="776.3" cy="1485.1" r="12.6"/><circle cx="948.5" cy="1520" r="9.2"/><circle cx="949.4" cy="1512.7" r="9.7"/><circle cx="798.2" cy="1465.6" r="8.7"/><circle cx="1026.9" cy="1555.7" r="14.6"/><circle cx="793.3" cy="1485.7" r="12.2"/><circle cx="1035.4" cy="1555.4" r="12.6"/><circle cx="807.9" cy="1475.6" r="14"/><circle cx="1010" cy="1530.4" r="8.9"/><circle cx="781.7" cy="1450.3" r="11.6"/><circle cx="892.5" cy="1475.4" r="11.1"/><circle cx="810.6" cy="1442.9" r="9.8"/><circle cx="803.1" cy="1505.3" r="9.7"/><circle cx="800.1" cy="1536.4" r="8.3"/><circle cx="875" cy="1454.7" r="13.1"/><circle cx="811.7" cy="1407.2" r="12"/><circle cx="865.4" cy="1450.3" r="10.3"/><circle cx="793.6" cy="1451.5" r="14.1"/><circle cx="922.3" cy="1484.7" r="12.6"/><circle cx="813" cy="1463.7" r="14.7"/><circle cx="851.9" cy="1459.2" r="9"/><circle cx="837.8" cy="1460.6" r="10.8"/><circle cx="805.2" cy="1432.2" r="10.9"/><circle cx="833" cy="1497.5" r="14.3"/><circle cx="1032.3" cy="1568.1" r="9"/><circle cx="830" cy="1484.1" r="13.6"/><circle cx="774.1" cy="1452.4" r="13.1"/><circle cx="834.4" cy="1468.4" r="13.1"/><circle cx="826.8" cy="1448.2" r="9.2"/><circle cx="1039.8" cy="1538.7" r="14"/><circle cx="991.9" cy="1545.8" r="8.4"/><circle cx="958.3" cy="1519.7" r="11.5"/><circle cx="817.5" cy="1542.8" r="9.1"/><circle cx="899.2" cy="1485.6" r="10.2"/><circle cx="780.1" cy="1438.9" r="11.2"/><circle cx="808.3" cy="1538.9" r="13"/><circle cx="819.3" cy="1472.6" r="8.5"/><circle cx="888.6" cy="1495.1" r="12.9"/><circle cx="814.7" cy="1505.7" r="12.3"/><circle cx="822" cy="1453.8" r="9.9"/><circle cx="979.2" cy="1521.8" r="12.2"/><circle cx="998.2" cy="1539" r="9.9"/><circle cx="845" cy="1486.6" r="11.2"/><circle cx="852" cy="1489.1" r="9.3"/><circle cx="798.6" cy="1499.6" r="13.1"/><circle cx="792.6" cy="1469" r="11.8"/><circle cx="1032.3" cy="1537.5" r="13.7"/><circle cx="1048.3" cy="1573.7" r="11.3"/><circle cx="887.2" cy="1504.4" r="11.5"/><circle cx="1038.3" cy="1564.8" r="11.7"/><circle cx="819" cy="1466.1" r="12.8"/><circle cx="998.4" cy="1526.3" r="11.1"/><circle cx="915.5" cy="1480.5" r="10.2"/><circle cx="877" cy="1467.1" r="13.4"/><circle cx="913.6" cy="1466.6" r="11.5"/><circle cx="829.2" cy="1442.8" r="10.7"/><circle cx="872.4" cy="1460" r="8.3"/><circle cx="776.9" cy="1505.9" r="10"/><circle cx="820" cy="1513" r="14.6"/><circle cx="1008.2" cy="1544.8" r="8"/><circle cx="817.5" cy="1432.1" r="14.2"/><circle cx="759.1" cy="1474.2" r="10.8"/><circle cx="839.4" cy="1484.5" r="13.2"/><circle cx="974.6" cy="1511.4" r="12.8"/><circle cx="754.7" cy="1463.4" r="8.2"/><circle cx="821.5" cy="1406.6" r="9.8"/><circle cx="792.5" cy="1477.4" r="14.6"/><circle cx="1042.7" cy="1570" r="12.7"/><circle cx="797" cy="1473" r="9"/><circle cx="1025.6" cy="1530.2" r="9.5"/><circle cx="888.2" cy="1481.2" r="13.3"/><circle cx="1020.5" cy="1521.8" r="9"/><circle cx="760.7" cy="1493.8" r="10"/><circle cx="836.9" cy="1515.4" r="9.1"/><circle cx="840.3" cy="1492.7" r="9.7"/><circle cx="921.4" cy="1502.4" r="12.9"/><circle cx="870.4" cy="1468.1" r="10"/><circle cx="811.3" cy="1450.5" r="13"/><circle cx="923.3" cy="1507.8" r="10.1"/><circle cx="786.5" cy="1488.8" r="13.2"/><circle cx="1017.7" cy="1535.1" r="14.8"/><circle cx="799.9" cy="1427.1" r="12.9"/><circle cx="943.5" cy="1525.1" r="10.7"/><circle cx="922.6" cy="1475" r="13.3"/><circle cx="804.6" cy="1420.6" r="8.3"/><circle cx="997.8" cy="1514.4" r="8.3"/><circle cx="793.7" cy="1539" r="8.1"/><circle cx="808.4" cy="1486" r="11.9"/><circle cx="871.1" cy="1488.2" r="8.5"/><circle cx="977.9" cy="1501.6" r="11"/><circle cx="909.7" cy="1498.2" r="13"/><circle cx="821" cy="1499.6" r="12.7"/><circle cx="771.8" cy="1446.6" r="10"/><circle cx="829.5" cy="1464.8" r="12.7"/><circle cx="987.9" cy="1522.4" r="12.6"/><circle cx="829.2" cy="1434.7" r="14.2"/><circle cx="844.8" cy="1508.2" r="9.3"/><circle cx="881.6" cy="1493.6" r="12.7"/><circle cx="757.1" cy="1454.3" r="8.2"/><circle cx="804.8" cy="1530.9" r="12.4"/><circle cx="906.1" cy="1480" r="13.2"/><circle cx="794.8" cy="1531.9" r="12.5"/><circle cx="761.9" cy="1504.3" r="9"/><circle cx="785.1" cy="1508.5" r="13.5"/><circle cx="816.5" cy="1415.2" r="10.1"/><circle cx="802.1" cy="1477.6" r="8.1"/><circle cx="895.6" cy="1502" r="9.3"/><circle cx="911.3" cy="1504.4" r="10.8"/><circle cx="963.5" cy="1523.7" r="10.9"/><circle cx="933.9" cy="1492.9" r="10.4"/><circle cx="1053.5" cy="1557" r="14.8"/><circle cx="957.6" cy="1513.3" r="13.3"/><circle cx="803.8" cy="1403.6" r="13"/><circle cx="799.4" cy="1455.9" r="11.7"/><circle cx="872.6" cy="1505.6" r="9.3"/><circle cx="927.8" cy="1512.2" r="8"/><circle cx="828.4" cy="1428.7" r="8"/><circle cx="1008" cy="1518.9" r="12.5"/><circle cx="794.5" cy="1507" r="8.9"/><circle cx="810.8" cy="1513.7" r="13.4"/><circle cx="805" cy="1523.6" r="9.9"/><circle cx="959.6" cy="1505.6" r="8.3"/><circle cx="816.7" cy="1486.5" r="10.4"/><circle cx="860.1" cy="1463.8" r="13.7"/><circle cx="921.1" cy="1491.7" r="11"/><circle cx="789.1" cy="1446.6" r="8.4"/><circle cx="812.9" cy="1479.1" r="14.1"/><circle cx="788.7" cy="1481.9" r="14.5"/><circle cx="871.2" cy="1513.6" r="8.3"/><circle cx="840.7" cy="1502.6" r="9.7"/><circle cx="789" cy="1504.6" r="11.8"/><circle cx="834.7" cy="1453.9" r="12.2"/><circle cx="1037.7" cy="1531.7" r="10"/><circle cx="1033.1" cy="1527.9" r="8.2"/><circle cx="987.3" cy="1513.8" r="13"/><circle cx="824" cy="1420.1" r="14.2"/><circle cx="859.9" cy="1472.4" r="8.2"/><circle cx="810.8" cy="1401" r="14.3"/><circle cx="898" cy="1457.9" r="8.9"/><circle cx="939" cy="1512.8" r="14.6"/><circle cx="760.6" cy="1480.2" r="9.3"/><circle cx="775.8" cy="1520" r="10.4"/><circle cx="942.7" cy="1485" r="10.9"/><circle cx="863.7" cy="1502.7" r="12.9"/><circle cx="879" cy="1481.1" r="9.5"/><circle cx="976" cy="1532.5" r="9.3"/><circle cx="789.1" cy="1534.1" r="11"/><circle cx="847.4" cy="1495.1" r="13.8"/><circle cx="784.8" cy="1442.6" r="9"/><circle cx="798.7" cy="1439.1" r="13"/><circle cx="914.9" cy="1511.7" r="14"/><circle cx="817.9" cy="1422.8" r="11.9"/><circle cx="769.3" cy="1480.2" r="13.5"/><circle cx="881.8" cy="1462.8" r="14.5"/><circle cx="784" cy="1496.7" r="14.3"/><circle cx="901.5" cy="1493.6" r="11"/><circle cx="852.4" cy="1501.6" r="14.2"/><circle cx="798.3" cy="1491.9" r="10.6"/><circle cx="950.9" cy="1527.8" r="8.1"/><circle cx="938.5" cy="1520.2" r="8.2"/><circle cx="920.9" cy="1514.1" r="12.8"/><circle cx="819.4" cy="1491.4" r="11.7"/><circle cx="884.4" cy="1468.8" r="12.3"/><circle cx="826.8" cy="1413.7" r="13.7"/><circle cx="831.1" cy="1517.8" r="12.6"/><circle cx="784" cy="1465.8" r="8.9"/><circle cx="860.8" cy="1484.2" r="10.7"/><circle cx="844.7" cy="1455.2" r="10.1"/><circle cx="903.2" cy="1503.8" r="11.5"/><circle cx="906.6" cy="1509.9" r="12"/><circle cx="782.1" cy="1503" r="12.6"/><circle cx="810.1" cy="1492.6" r="8.6"/><circle cx="810.1" cy="1436.3" r="12.5"/><circle cx="928.8" cy="1489" r="14.8"/><circle cx="953.8" cy="1500.3" r="10.3"/><circle cx="771.7" cy="1435.8" r="8.8"/><circle cx="825.3" cy="1460.5" r="11.9"/><circle cx="810.7" cy="1523.4" r="13.1"/><circle cx="883.8" cy="1455" r="10.5"/><circle cx="794.8" cy="1432.5" r="11.7"/><circle cx="816.4" cy="1458.4" r="9.5"/><circle cx="934.2" cy="1485.7" r="10.1"/><circle cx="1002.9" cy="1532.2" r="12.3"/><circle cx="894" cy="1512" r="10.4"/><circle cx="1009.4" cy="1537.4" r="15"/><circle cx="787.4" cy="1520.3" r="9"/><circle cx="816.7" cy="1398.8" r="11.4"/><circle cx="823.2" cy="1505.6" r="10.3"/><circle cx="1056.8" cy="1562.8" r="8"/><circle cx="874.1" cy="1475.3" r="12.7"/><circle cx="804.9" cy="1467.5" r="14.9"/><circle cx="836.8" cy="1506.5" r="11.1"/><circle cx="853.3" cy="1515.1" r="9.1"/><circle cx="794.6" cy="1522.7" r="14.1"/><circle cx="1033.8" cy="1545.3" r="8"/><circle cx="985" cy="1533.6" r="12.7"/><circle cx="766.9" cy="1464.4" r="13.7"/><circle cx="783.1" cy="1433.1" r="12.8"/><circle cx="962.8" cy="1529.4" r="11.8"/><circle cx="965.6" cy="1508.8" r="13.7"/><circle cx="808.2" cy="1547.9" r="13.5"/><circle cx="907.5" cy="1470.8" r="10.5"/><circle cx="1015.2" cy="1527.6" r="12.6"/><circle cx="807.3" cy="1457.7" r="9.9"/><circle cx="799" cy="1418" r="9.6"/><circle cx="865.5" cy="1480.7" r="11.3"/><circle cx="826.1" cy="1403.4" r="10"/><circle cx="776.8" cy="1476.1" r="13"/><circle cx="899.4" cy="1473.3" r="12.5"/><circle cx="828.4" cy="1511.4" r="10.5"/><circle cx="854.3" cy="1447.2" r="8"/><circle cx="826" cy="1525.6" r="8"/><circle cx="802.1" cy="1486.6" r="14.8"/><circle cx="826" cy="1490.8" r="8.4"/><circle cx="884.1" cy="1476.2" r="8.9"/><circle cx="769.5" cy="1510" r="10.8"/><circle cx="946.5" cy="1505.6" r="12.2"/><circle cx="819.6" cy="1536.3" r="8.5"/><circle cx="968.9" cy="1501.9" r="8.8"/><circle cx="784.9" cy="1425.5" r="13.8"/><circle cx="831.2" cy="1421.6" r="8.1"/><circle cx="840.2" cy="1450.6" r="10.3"/><circle cx="1032.4" cy="1561.4" r="8.3"/><circle cx="774" cy="1496.2" r="10.7"/><circle cx="822.2" cy="1478.5" r="8.1"/><circle cx="864.8" cy="1495.3" r="10.4"/><circle cx="888.7" cy="1464.8" r="14.6"/><circle cx="962" cy="1494.8" r="12.5"/><circle cx="929.9" cy="1501.7" r="9.6"/><circle cx="788.9" cy="1526.2" r="8.5"/><circle cx="1006.3" cy="1525" r="13.5"/><circle cx="764.4" cy="1487" r="13.7"/><circle cx="880.6" cy="1504" r="10.3"/><circle cx="835.8" cy="1475.7" r="9.4"/><circle cx="774.2" cy="1461.1" r="13.5"/><circle cx="816.1" cy="1530.7" r="12.6"/><circle cx="996.4" cy="1531.8" r="10"/><circle cx="819" cy="1524.8" r="10.3"/><circle cx="1015.3" cy="1546.2" r="13"/><circle cx="804" cy="1409.4" r="9.1"/><circle cx="845.5" cy="1481" r="14.9"/><circle cx="799.3" cy="1449.8" r="11.2"/><circle cx="1043.8" cy="1551.2" r="8.4"/><circle cx="1050.4" cy="1550.2" r="14.1"/><circle cx="987.9" cy="1539.4" r="8.7"/><circle cx="939.5" cy="1490.8" r="8.9"/><circle cx="845.8" cy="1460.7" r="11.2"/><circle cx="810" cy="1413.2" r="9.7"/><circle cx="809.9" cy="1533.2" r="12.8"/><circle cx="979.6" cy="1507.9" r="12.4"/><circle cx="845.7" cy="1466.6" r="11.9"/><circle cx="951.3" cy="1492.7" r="14.5"/></g>
<g fill="#e6e6e6"><path d="M751.4 1448.6 L766.7 1443.2 L769 1423.5 L791.7 1413.3 L797.3 1387.2 L802.3 1382.5 L813 1392 L827.7 1396.9 L838.3 1406.9 L841.6 1438.5 L870.7 1444.8 L898.9 1450.3 L921.7 1464.4 L951 1482.1 L980.6 1497 L1010 1511.6 L1033 1523.2 L1052.6 1537 L1063.3 1553 L1066.1 1566.7 L1051.6 1581.4 L1035 1576.1 L1014.7 1558.6 L984.7 1546.4 L955.1 1534.8 L925.8 1525.9 L895.8 1516.8 L871.2 1516.7 L852 1520.1 L827 1535.8 L819.4 1549.8 L806.6 1557.9 L801.1 1552 L789.9 1541.4 L766.7 1524.2 L757.2 1508.7 L750.5 1484.8 L750.6 1460.7Z"/><circle cx="958.5" cy="1489.6" r="8"/><circle cx="1000.3" cy="1507.2" r="5.2"/><circle cx="789.2" cy="1419.5" r="7.8"/><circle cx="906.7" cy="1460.5" r="8.4"/><circle cx="1052" cy="1580.6" r="4.8"/><circle cx="988.6" cy="1547" r="6.3"/><circle cx="918" cy="1461.1" r="4.5"/><circle cx="840" cy="1417.6" r="4.3"/><circle cx="749.4" cy="1475.1" r="4.3"/><circle cx="952.3" cy="1484.1" r="8.3"/><circle cx="974.4" cy="1496" r="5.5"/><circle cx="1050.3" cy="1576.3" r="8.3"/><circle cx="875" cy="1446.7" r="5"/><circle cx="991.3" cy="1502.7" r="8.1"/><circle cx="866.5" cy="1443.8" r="5.1"/><circle cx="900.6" cy="1517.8" r="7.1"/><circle cx="1066.1" cy="1567.8" r="5"/><circle cx="818.7" cy="1394.4" r="6.7"/><circle cx="1049.1" cy="1536.3" r="4.9"/><circle cx="749.2" cy="1462.9" r="4.4"/><circle cx="760" cy="1501.6" r="8.3"/><circle cx="762.8" cy="1447.4" r="6.3"/><circle cx="770.2" cy="1438.6" r="6.3"/><circle cx="786.4" cy="1539.2" r="4.5"/><circle cx="836.6" cy="1430" r="8.3"/><circle cx="771" cy="1526.3" r="6"/><circle cx="1041.3" cy="1530.5" r="5.5"/><circle cx="820.2" cy="1549.2" r="5.6"/><circle cx="881.6" cy="1515.3" r="7.2"/><circle cx="986.4" cy="1499.9" r="5.1"/><circle cx="752.3" cy="1458" r="8.4"/><circle cx="923.7" cy="1523.1" r="7"/><circle cx="984" cy="1543.6" r="8"/><circle cx="751.6" cy="1489.3" r="4.7"/><circle cx="1058" cy="1551.4" r="7.3"/><circle cx="1032" cy="1528.5" r="8.4"/><circle cx="831.8" cy="1529" r="7.8"/><circle cx="940.5" cy="1477.3" r="6.7"/><circle cx="966" cy="1537.1" r="8.1"/><circle cx="750.4" cy="1480.3" r="5.3"/><circle cx="1055" cy="1539.1" r="5.7"/><circle cx="961" cy="1536.2" r="5.6"/><circle cx="932.1" cy="1525" r="6.8"/><circle cx="1011.9" cy="1517.4" r="8.4"/><circle cx="840.9" cy="1423.8" r="5"/><circle cx="757.1" cy="1494.4" r="8.3"/><circle cx="1011.1" cy="1556.1" r="4.5"/><circle cx="780.1" cy="1534.3" r="6.1"/><circle cx="773.7" cy="1426.3" r="8.3"/><circle cx="863.7" cy="1517.8" r="6.8"/><circle cx="794.5" cy="1396" r="4.6"/><circle cx="969.7" cy="1493.2" r="7.5"/><circle cx="950.7" cy="1531" r="7.3"/><circle cx="881.1" cy="1449.5" r="6.8"/><circle cx="1062.2" cy="1555.8" r="6.2"/><circle cx="770.4" cy="1423.4" r="4.1"/><circle cx="1031.9" cy="1522.2" r="6.3"/><circle cx="1057.4" cy="1545.4" r="7.4"/><circle cx="900.4" cy="1455.9" r="8.4"/><circle cx="769" cy="1521.3" r="7"/><circle cx="791.8" cy="1408.2" r="4.5"/><circle cx="1002.3" cy="1551.7" r="6.8"/><circle cx="938.9" cy="1529.5" r="6.5"/><circle cx="1065.9" cy="1565" r="4.7"/><circle cx="824.3" cy="1395.8" r="5.2"/><circle cx="794.7" cy="1392.3" r="4.3"/><circle cx="948.1" cy="1482.3" r="5.8"/><circle cx="998.3" cy="1549.9" r="8.4"/><circle cx="824.3" cy="1539.4" r="4.6"/><circle cx="909.5" cy="1520" r="6.8"/><circle cx="1058" cy="1572.7" r="5.1"/><circle cx="1034.5" cy="1573.4" r="8.2"/><circle cx="1037.7" cy="1574.9" r="7.4"/><circle cx="850.9" cy="1444" r="6.3"/><circle cx="809.5" cy="1557" r="4.6"/><circle cx="1004.4" cy="1509.6" r="4.5"/><circle cx="859.3" cy="1444.4" r="6.8"/><circle cx="1044.2" cy="1578.7" r="6.5"/><circle cx="803.9" cy="1385.9" r="4.8"/><circle cx="760.6" cy="1510.2" r="6.1"/><circle cx="932.9" cy="1472.8" r="8.4"/><circle cx="838.3" cy="1525.3" r="6.6"/><circle cx="975.5" cy="1538.7" r="7.9"/><circle cx="1023.5" cy="1566.3" r="7.1"/><circle cx="859.4" cy="1517.7" r="6.1"/><circle cx="924.3" cy="1465.1" r="5.7"/><circle cx="874.3" cy="1518" r="4.4"/><circle cx="776.6" cy="1531.5" r="5.3"/><circle cx="844.9" cy="1524.1" r="4.9"/><circle cx="799.4" cy="1550.6" r="6.1"/><circle cx="807.2" cy="1556.2" r="7.4"/><circle cx="776.8" cy="1420.5" r="4.1"/><circle cx="809" cy="1390.9" r="6.6"/><circle cx="889.6" cy="1447.6" r="4.7"/><circle cx="1022.9" cy="1517.9" r="4.4"/><circle cx="832.3" cy="1400.7" r="6"/><circle cx="839.9" cy="1410.2" r="4.5"/><circle cx="890.5" cy="1516" r="8.2"/><circle cx="834.9" cy="1406.8" r="7.7"/><circle cx="799.5" cy="1385.5" r="4.8"/><circle cx="944.1" cy="1529.5" r="7"/><circle cx="750.9" cy="1451.7" r="4.3"/><circle cx="750.9" cy="1449" r="5"/><circle cx="815.5" cy="1550.7" r="7.1"/><circle cx="1019.5" cy="1561.7" r="4.8"/><circle cx="893.8" cy="1449.9" r="4.2"/><circle cx="914.9" cy="1519.3" r="7.9"/><circle cx="794.4" cy="1544.6" r="7.3"/><circle cx="804.2" cy="1439.2" r="7.9"/><circle cx="1026.8" cy="1537.2" r="8"/><circle cx="823.9" cy="1485.4" r="11.7"/><circle cx="855.5" cy="1493.7" r="12.5"/><circle cx="894.4" cy="1482.3" r="7.3"/><circle cx="1058" cy="1569.7" r="7.5"/><circle cx="912.5" cy="1487.1" r="10.5"/><circle cx="763.5" cy="1451.9" r="10.1"/><circle cx="776.3" cy="1485.1" r="11.1"/><circle cx="948.5" cy="1520" r="7.7"/><circle cx="949.4" cy="1512.7" r="8.2"/><circle cx="798.2" cy="1465.6" r="7.2"/><circle cx="1026.9" cy="1555.7" r="13.1"/><circle cx="793.3" cy="1485.7" r="10.7"/><circle cx="1035.4" cy="1555.4" r="11.1"/><circle cx="807.9" cy="1475.6" r="12.5"/><circle cx="1010" cy="1530.4" r="7.4"/><circle cx="781.7" cy="1450.3" r="10.1"/><circle cx="892.5" cy="1475.4" r="9.6"/><circle cx="810.6" cy="1442.9" r="8.3"/><circle cx="803.1" cy="1505.3" r="8.2"/><circle cx="800.1" cy="1536.4" r="6.8"/><circle cx="875" cy="1454.7" r="11.6"/><circle cx="811.7" cy="1407.2" r="10.5"/><circle cx="865.4" cy="1450.3" r="8.8"/><circle cx="793.6" cy="1451.5" r="12.6"/><circle cx="922.3" cy="1484.7" r="11.1"/><circle cx="813" cy="1463.7" r="13.2"/><circle cx="851.9" cy="1459.2" r="7.5"/><circle cx="837.8" cy="1460.6" r="9.3"/><circle cx="805.2" cy="1432.2" r="9.4"/><circle cx="833" cy="1497.5" r="12.8"/><circle cx="1032.3" cy="1568.1" r="7.5"/><circle cx="830" cy="1484.1" r="12.1"/><circle cx="774.1" cy="1452.4" r="11.6"/><circle cx="834.4" cy="1468.4" r="11.6"/><circle cx="826.8" cy="1448.2" r="7.7"/><circle cx="1039.8" cy="1538.7" r="12.5"/><circle cx="991.9" cy="1545.8" r="6.9"/><circle cx="958.3" cy="1519.7" r="10"/><circle cx="817.5" cy="1542.8" r="7.6"/><circle cx="899.2" cy="1485.6" r="8.7"/><circle cx="780.1" cy="1438.9" r="9.7"/><circle cx="808.3" cy="1538.9" r="11.5"/><circle cx="819.3" cy="1472.6" r="7"/><circle cx="888.6" cy="1495.1" r="11.4"/><circle cx="814.7" cy="1505.7" r="10.8"/><circle cx="822" cy="1453.8" r="8.4"/><circle cx="979.2" cy="1521.8" r="10.7"/><circle cx="998.2" cy="1539" r="8.4"/><circle cx="845" cy="1486.6" r="9.7"/><circle cx="852" cy="1489.1" r="7.8"/><circle cx="798.6" cy="1499.6" r="11.6"/><circle cx="792.6" cy="1469" r="10.3"/><circle cx="1032.3" cy="1537.5" r="12.2"/><circle cx="1048.3" cy="1573.7" r="9.8"/><circle cx="887.2" cy="1504.4" r="10"/><circle cx="1038.3" cy="1564.8" r="10.2"/><circle cx="819" cy="1466.1" r="11.3"/><circle cx="998.4" cy="1526.3" r="9.6"/><circle cx="915.5" cy="1480.5" r="8.7"/><circle cx="877" cy="1467.1" r="11.9"/><circle cx="913.6" cy="1466.6" r="10"/><circle cx="829.2" cy="1442.8" r="9.2"/><circle cx="872.4" cy="1460" r="6.8"/><circle cx="776.9" cy="1505.9" r="8.5"/><circle cx="820" cy="1513" r="13.1"/><circle cx="1008.2" cy="1544.8" r="6.5"/><circle cx="817.5" cy="1432.1" r="12.7"/><circle cx="759.1" cy="1474.2" r="9.3"/><circle cx="839.4" cy="1484.5" r="11.7"/><circle cx="974.6" cy="1511.4" r="11.3"/><circle cx="754.7" cy="1463.4" r="6.7"/><circle cx="821.5" cy="1406.6" r="8.3"/><circle cx="792.5" cy="1477.4" r="13.1"/><circle cx="1042.7" cy="1570" r="11.2"/><circle cx="797" cy="1473" r="7.5"/><circle cx="1025.6" cy="1530.2" r="8"/><circle cx="888.2" cy="1481.2" r="11.8"/><circle cx="1020.5" cy="1521.8" r="7.5"/><circle cx="760.7" cy="1493.8" r="8.5"/><circle cx="836.9" cy="1515.4" r="7.6"/><circle cx="840.3" cy="1492.7" r="8.2"/><circle cx="921.4" cy="1502.4" r="11.4"/><circle cx="870.4" cy="1468.1" r="8.5"/><circle cx="811.3" cy="1450.5" r="11.5"/><circle cx="923.3" cy="1507.8" r="8.6"/><circle cx="786.5" cy="1488.8" r="11.7"/><circle cx="1017.7" cy="1535.1" r="13.3"/><circle cx="799.9" cy="1427.1" r="11.4"/><circle cx="943.5" cy="1525.1" r="9.2"/><circle cx="922.6" cy="1475" r="11.8"/><circle cx="804.6" cy="1420.6" r="6.8"/><circle cx="997.8" cy="1514.4" r="6.8"/><circle cx="793.7" cy="1539" r="6.6"/><circle cx="808.4" cy="1486" r="10.4"/><circle cx="871.1" cy="1488.2" r="7"/><circle cx="977.9" cy="1501.6" r="9.5"/><circle cx="909.7" cy="1498.2" r="11.5"/><circle cx="821" cy="1499.6" r="11.2"/><circle cx="771.8" cy="1446.6" r="8.5"/><circle cx="829.5" cy="1464.8" r="11.2"/><circle cx="987.9" cy="1522.4" r="11.1"/><circle cx="829.2" cy="1434.7" r="12.7"/><circle cx="844.8" cy="1508.2" r="7.8"/><circle cx="881.6" cy="1493.6" r="11.2"/><circle cx="757.1" cy="1454.3" r="6.7"/><circle cx="804.8" cy="1530.9" r="10.9"/><circle cx="906.1" cy="1480" r="11.7"/><circle cx="794.8" cy="1531.9" r="11"/><circle cx="761.9" cy="1504.3" r="7.5"/><circle cx="785.1" cy="1508.5" r="12"/><circle cx="816.5" cy="1415.2" r="8.6"/><circle cx="802.1" cy="1477.6" r="6.6"/><circle cx="895.6" cy="1502" r="7.8"/><circle cx="911.3" cy="1504.4" r="9.3"/><circle cx="963.5" cy="1523.7" r="9.4"/><circle cx="933.9" cy="1492.9" r="8.9"/><circle cx="1053.5" cy="1557" r="13.3"/><circle cx="957.6" cy="1513.3" r="11.8"/><circle cx="803.8" cy="1403.6" r="11.5"/><circle cx="799.4" cy="1455.9" r="10.2"/><circle cx="872.6" cy="1505.6" r="7.8"/><circle cx="927.8" cy="1512.2" r="6.5"/><circle cx="828.4" cy="1428.7" r="6.5"/><circle cx="1008" cy="1518.9" r="11"/><circle cx="794.5" cy="1507" r="7.4"/><circle cx="810.8" cy="1513.7" r="11.9"/><circle cx="805" cy="1523.6" r="8.4"/><circle cx="959.6" cy="1505.6" r="6.8"/><circle cx="816.7" cy="1486.5" r="8.9"/><circle cx="860.1" cy="1463.8" r="12.2"/><circle cx="921.1" cy="1491.7" r="9.5"/><circle cx="789.1" cy="1446.6" r="6.9"/><circle cx="812.9" cy="1479.1" r="12.6"/><circle cx="788.7" cy="1481.9" r="13"/><circle cx="871.2" cy="1513.6" r="6.8"/><circle cx="840.7" cy="1502.6" r="8.2"/><circle cx="789" cy="1504.6" r="10.3"/><circle cx="834.7" cy="1453.9" r="10.7"/><circle cx="1037.7" cy="1531.7" r="8.5"/><circle cx="1033.1" cy="1527.9" r="6.7"/><circle cx="987.3" cy="1513.8" r="11.5"/><circle cx="824" cy="1420.1" r="12.7"/><circle cx="859.9" cy="1472.4" r="6.7"/><circle cx="810.8" cy="1401" r="12.8"/><circle cx="898" cy="1457.9" r="7.4"/><circle cx="939" cy="1512.8" r="13.1"/><circle cx="760.6" cy="1480.2" r="7.8"/><circle cx="775.8" cy="1520" r="8.9"/><circle cx="942.7" cy="1485" r="9.4"/><circle cx="863.7" cy="1502.7" r="11.4"/><circle cx="879" cy="1481.1" r="8"/><circle cx="976" cy="1532.5" r="7.8"/><circle cx="789.1" cy="1534.1" r="9.5"/><circle cx="847.4" cy="1495.1" r="12.3"/><circle cx="784.8" cy="1442.6" r="7.5"/><circle cx="798.7" cy="1439.1" r="11.5"/><circle cx="914.9" cy="1511.7" r="12.5"/><circle cx="817.9" cy="1422.8" r="10.4"/><circle cx="769.3" cy="1480.2" r="12"/><circle cx="881.8" cy="1462.8" r="13"/><circle cx="784" cy="1496.7" r="12.8"/><circle cx="901.5" cy="1493.6" r="9.5"/><circle cx="852.4" cy="1501.6" r="12.7"/><circle cx="798.3" cy="1491.9" r="9.1"/><circle cx="950.9" cy="1527.8" r="6.6"/><circle cx="938.5" cy="1520.2" r="6.7"/><circle cx="920.9" cy="1514.1" r="11.3"/><circle cx="819.4" cy="1491.4" r="10.2"/><circle cx="884.4" cy="1468.8" r="10.8"/><circle cx="826.8" cy="1413.7" r="12.2"/><circle cx="831.1" cy="1517.8" r="11.1"/><circle cx="784" cy="1465.8" r="7.4"/><circle cx="860.8" cy="1484.2" r="9.2"/><circle cx="844.7" cy="1455.2" r="8.6"/><circle cx="903.2" cy="1503.8" r="10"/><circle cx="906.6" cy="1509.9" r="10.5"/><circle cx="782.1" cy="1503" r="11.1"/><circle cx="810.1" cy="1492.6" r="7.1"/><circle cx="810.1" cy="1436.3" r="11"/><circle cx="928.8" cy="1489" r="13.3"/><circle cx="953.8" cy="1500.3" r="8.8"/><circle cx="771.7" cy="1435.8" r="7.3"/><circle cx="825.3" cy="1460.5" r="10.4"/><circle cx="810.7" cy="1523.4" r="11.6"/><circle cx="883.8" cy="1455" r="9"/><circle cx="794.8" cy="1432.5" r="10.2"/><circle cx="816.4" cy="1458.4" r="8"/><circle cx="934.2" cy="1485.7" r="8.6"/><circle cx="1002.9" cy="1532.2" r="10.8"/><circle cx="894" cy="1512" r="8.9"/><circle cx="1009.4" cy="1537.4" r="13.5"/><circle cx="787.4" cy="1520.3" r="7.5"/><circle cx="816.7" cy="1398.8" r="9.9"/><circle cx="823.2" cy="1505.6" r="8.8"/><circle cx="1056.8" cy="1562.8" r="6.5"/><circle cx="874.1" cy="1475.3" r="11.2"/><circle cx="804.9" cy="1467.5" r="13.4"/><circle cx="836.8" cy="1506.5" r="9.6"/><circle cx="853.3" cy="1515.1" r="7.6"/><circle cx="794.6" cy="1522.7" r="12.6"/><circle cx="1033.8" cy="1545.3" r="6.5"/><circle cx="985" cy="1533.6" r="11.2"/><circle cx="766.9" cy="1464.4" r="12.2"/><circle cx="783.1" cy="1433.1" r="11.3"/><circle cx="962.8" cy="1529.4" r="10.3"/><circle cx="965.6" cy="1508.8" r="12.2"/><circle cx="808.2" cy="1547.9" r="12"/><circle cx="907.5" cy="1470.8" r="9"/><circle cx="1015.2" cy="1527.6" r="11.1"/><circle cx="807.3" cy="1457.7" r="8.4"/><circle cx="799" cy="1418" r="8.1"/><circle cx="865.5" cy="1480.7" r="9.8"/><circle cx="826.1" cy="1403.4" r="8.5"/><circle cx="776.8" cy="1476.1" r="11.5"/><circle cx="899.4" cy="1473.3" r="11"/><circle cx="828.4" cy="1511.4" r="9"/><circle cx="854.3" cy="1447.2" r="6.5"/><circle cx="826" cy="1525.6" r="6.5"/><circle cx="802.1" cy="1486.6" r="13.3"/><circle cx="826" cy="1490.8" r="6.9"/><circle cx="884.1" cy="1476.2" r="7.4"/><circle cx="769.5" cy="1510" r="9.3"/><circle cx="946.5" cy="1505.6" r="10.7"/><circle cx="819.6" cy="1536.3" r="7"/><circle cx="968.9" cy="1501.9" r="7.3"/><circle cx="784.9" cy="1425.5" r="12.3"/><circle cx="831.2" cy="1421.6" r="6.6"/><circle cx="840.2" cy="1450.6" r="8.8"/><circle cx="1032.4" cy="1561.4" r="6.8"/><circle cx="774" cy="1496.2" r="9.2"/><circle cx="822.2" cy="1478.5" r="6.6"/><circle cx="864.8" cy="1495.3" r="8.9"/><circle cx="888.7" cy="1464.8" r="13.1"/><circle cx="962" cy="1494.8" r="11"/><circle cx="929.9" cy="1501.7" r="8.1"/><circle cx="788.9" cy="1526.2" r="7"/><circle cx="1006.3" cy="1525" r="12"/><circle cx="764.4" cy="1487" r="12.2"/><circle cx="880.6" cy="1504" r="8.8"/><circle cx="835.8" cy="1475.7" r="7.9"/><circle cx="774.2" cy="1461.1" r="12"/><circle cx="816.1" cy="1530.7" r="11.1"/><circle cx="996.4" cy="1531.8" r="8.5"/><circle cx="819" cy="1524.8" r="8.8"/><circle cx="1015.3" cy="1546.2" r="11.5"/><circle cx="804" cy="1409.4" r="7.6"/><circle cx="845.5" cy="1481" r="13.4"/><circle cx="799.3" cy="1449.8" r="9.7"/><circle cx="1043.8" cy="1551.2" r="6.9"/><circle cx="1050.4" cy="1550.2" r="12.6"/><circle cx="987.9" cy="1539.4" r="7.2"/><circle cx="939.5" cy="1490.8" r="7.4"/><circle cx="845.8" cy="1460.7" r="9.7"/><circle cx="810" cy="1413.2" r="8.2"/><circle cx="809.9" cy="1533.2" r="11.3"/><circle cx="979.6" cy="1507.9" r="10.9"/><circle cx="845.7" cy="1466.6" r="10.4"/><circle cx="951.3" cy="1492.7" r="13"/></g>
<circle cx="958.5" cy="1489.6" r="8.3" fill="url(#bump)"/>
<circle cx="1000.3" cy="1507.2" r="5.5" fill="url(#bump)"/>
<circle cx="789.2" cy="1419.5" r="8.1" fill="url(#bump)"/>
<circle cx="906.7" cy="1460.5" r="8.7" fill="url(#bump)"/>
<circle cx="1052" cy="1580.6" r="5.1" fill="url(#bump)"/>
<circle cx="988.6" cy="1547" r="6.6" fill="url(#bump)"/>
<circle cx="918" cy="1461.1" r="4.8" fill="url(#bump)"/>
<circle cx="840" cy="1417.6" r="4.6" fill="url(#bump)"/>
<circle cx="749.4" cy="1475.1" r="4.6" fill="url(#bump)"/>
<circle cx="952.3" cy="1484.1" r="8.6" fill="url(#bump)"/>
<circle cx="974.4" cy="1496" r="5.8" fill="url(#bump)"/>
<circle cx="1050.3" cy="1576.3" r="8.6" fill="url(#bump)"/>
<circle cx="875" cy="1446.7" r="5.3" fill="url(#bump)"/>
<circle cx="991.3" cy="1502.7" r="8.4" fill="url(#bump)"/>
<circle cx="866.5" cy="1443.8" r="5.4" fill="url(#bump)"/>
<circle cx="900.6" cy="1517.8" r="7.4" fill="url(#bump)"/>
<circle cx="1066.1" cy="1567.8" r="5.3" fill="url(#bump)"/>
<circle cx="818.7" cy="1394.4" r="7" fill="url(#bump)"/>
<circle cx="1049.1" cy="1536.3" r="5.2" fill="url(#bump)"/>
<circle cx="749.2" cy="1462.9" r="4.7" fill="url(#bump)"/>
<circle cx="760" cy="1501.6" r="8.6" fill="url(#bump)"/>
<circle cx="762.8" cy="1447.4" r="6.6" fill="url(#bump)"/>
<circle cx="770.2" cy="1438.6" r="6.6" fill="url(#bump)"/>
<circle cx="786.4" cy="1539.2" r="4.8" fill="url(#bump)"/>
<circle cx="836.6" cy="1430" r="8.6" fill="url(#bump)"/>
<circle cx="771" cy="1526.3" r="6.3" fill="url(#bump)"/>
<circle cx="1041.3" cy="1530.5" r="5.8" fill="url(#bump)"/>
<circle cx="820.2" cy="1549.2" r="5.9" fill="url(#bump)"/>
<circle cx="881.6" cy="1515.3" r="7.5" fill="url(#bump)"/>
<circle cx="986.4" cy="1499.9" r="5.4" fill="url(#bump)"/>
<circle cx="752.3" cy="1458" r="8.7" fill="url(#bump)"/>
<circle cx="923.7" cy="1523.1" r="7.3" fill="url(#bump)"/>
<circle cx="984" cy="1543.6" r="8.3" fill="url(#bump)"/>
<circle cx="751.6" cy="1489.3" r="5" fill="url(#bump)"/>
<circle cx="1058" cy="1551.4" r="7.6" fill="url(#bump)"/>
<circle cx="1032" cy="1528.5" r="8.7" fill="url(#bump)"/>
<circle cx="831.8" cy="1529" r="8.1" fill="url(#bump)"/>
<circle cx="940.5" cy="1477.3" r="7" fill="url(#bump)"/>
<circle cx="966" cy="1537.1" r="8.4" fill="url(#bump)"/>
<circle cx="750.4" cy="1480.3" r="5.6" fill="url(#bump)"/>
<circle cx="1055" cy="1539.1" r="6" fill="url(#bump)"/>
<circle cx="961" cy="1536.2" r="5.9" fill="url(#bump)"/>
<circle cx="932.1" cy="1525" r="7.1" fill="url(#bump)"/>
<circle cx="1011.9" cy="1517.4" r="8.7" fill="url(#bump)"/>
<circle cx="840.9" cy="1423.8" r="5.3" fill="url(#bump)"/>
<circle cx="757.1" cy="1494.4" r="8.6" fill="url(#bump)"/>
<circle cx="1011.1" cy="1556.1" r="4.8" fill="url(#bump)"/>
<circle cx="780.1" cy="1534.3" r="6.4" fill="url(#bump)"/>
<circle cx="773.7" cy="1426.3" r="8.6" fill="url(#bump)"/>
<circle cx="863.7" cy="1517.8" r="7.1" fill="url(#bump)"/>
<circle cx="794.5" cy="1396" r="4.9" fill="url(#bump)"/>
<circle cx="969.7" cy="1493.2" r="7.8" fill="url(#bump)"/>
<circle cx="950.7" cy="1531" r="7.6" fill="url(#bump)"/>
<circle cx="881.1" cy="1449.5" r="7.1" fill="url(#bump)"/>
<circle cx="1062.2" cy="1555.8" r="6.5" fill="url(#bump)"/>
<circle cx="770.4" cy="1423.4" r="4.4" fill="url(#bump)"/>
<circle cx="1031.9" cy="1522.2" r="6.6" fill="url(#bump)"/>
<circle cx="1057.4" cy="1545.4" r="7.7" fill="url(#bump)"/>
<circle cx="900.4" cy="1455.9" r="8.7" fill="url(#bump)"/>
<circle cx="769" cy="1521.3" r="7.3" fill="url(#bump)"/>
<circle cx="791.8" cy="1408.2" r="4.8" fill="url(#bump)"/>
<circle cx="1002.3" cy="1551.7" r="7.1" fill="url(#bump)"/>
<circle cx="938.9" cy="1529.5" r="6.8" fill="url(#bump)"/>
<circle cx="1065.9" cy="1565" r="5" fill="url(#bump)"/>
<circle cx="824.3" cy="1395.8" r="5.5" fill="url(#bump)"/>
<circle cx="794.7" cy="1392.3" r="4.6" fill="url(#bump)"/>
<circle cx="948.1" cy="1482.3" r="6.1" fill="url(#bump)"/>
<circle cx="998.3" cy="1549.9" r="8.7" fill="url(#bump)"/>
<circle cx="824.3" cy="1539.4" r="4.9" fill="url(#bump)"/>
<circle cx="909.5" cy="1520" r="7.1" fill="url(#bump)"/>
<circle cx="1058" cy="1572.7" r="5.4" fill="url(#bump)"/>
<circle cx="1034.5" cy="1573.4" r="8.5" fill="url(#bump)"/>
<circle cx="1037.7" cy="1574.9" r="7.7" fill="url(#bump)"/>
<circle cx="850.9" cy="1444" r="6.6" fill="url(#bump)"/>
<circle cx="809.5" cy="1557" r="4.9" fill="url(#bump)"/>
<circle cx="1004.4" cy="1509.6" r="4.8" fill="url(#bump)"/>
<circle cx="859.3" cy="1444.4" r="7.1" fill="url(#bump)"/>
<circle cx="1044.2" cy="1578.7" r="6.8" fill="url(#bump)"/>
<circle cx="803.9" cy="1385.9" r="5.1" fill="url(#bump)"/>
<circle cx="760.6" cy="1510.2" r="6.4" fill="url(#bump)"/>
<circle cx="932.9" cy="1472.8" r="8.7" fill="url(#bump)"/>
<circle cx="838.3" cy="1525.3" r="6.9" fill="url(#bump)"/>
<circle cx="975.5" cy="1538.7" r="8.2" fill="url(#bump)"/>
<circle cx="1023.5" cy="1566.3" r="7.4" fill="url(#bump)"/>
<circle cx="859.4" cy="1517.7" r="6.4" fill="url(#bump)"/>
<circle cx="924.3" cy="1465.1" r="6" fill="url(#bump)"/>
<circle cx="874.3" cy="1518" r="4.7" fill="url(#bump)"/>
<circle cx="776.6" cy="1531.5" r="5.6" fill="url(#bump)"/>
<circle cx="844.9" cy="1524.1" r="5.2" fill="url(#bump)"/>
<circle cx="799.4" cy="1550.6" r="6.4" fill="url(#bump)"/>
<circle cx="807.2" cy="1556.2" r="7.7" fill="url(#bump)"/>
<circle cx="776.8" cy="1420.5" r="4.4" fill="url(#bump)"/>
<circle cx="809" cy="1390.9" r="6.9" fill="url(#bump)"/>
<circle cx="889.6" cy="1447.6" r="5" fill="url(#bump)"/>
<circle cx="1022.9" cy="1517.9" r="4.7" fill="url(#bump)"/>
<circle cx="832.3" cy="1400.7" r="6.3" fill="url(#bump)"/>
<circle cx="839.9" cy="1410.2" r="4.8" fill="url(#bump)"/>
<circle cx="890.5" cy="1516" r="8.5" fill="url(#bump)"/>
<circle cx="834.9" cy="1406.8" r="8" fill="url(#bump)"/>
<circle cx="799.5" cy="1385.5" r="5.1" fill="url(#bump)"/>
<circle cx="944.1" cy="1529.5" r="7.3" fill="url(#bump)"/>
<circle cx="750.9" cy="1451.7" r="4.6" fill="url(#bump)"/>
<circle cx="750.9" cy="1449" r="5.3" fill="url(#bump)"/>
<circle cx="815.5" cy="1550.7" r="7.4" fill="url(#bump)"/>
<circle cx="1019.5" cy="1561.7" r="5.1" fill="url(#bump)"/>
<circle cx="893.8" cy="1449.9" r="4.5" fill="url(#bump)"/>
<circle cx="914.9" cy="1519.3" r="8.2" fill="url(#bump)"/>
<circle cx="794.4" cy="1544.6" r="7.6" fill="url(#bump)"/>
<circle cx="804.2" cy="1439.2" r="9.4" fill="url(#bump)"/>
<circle cx="1026.8" cy="1537.2" r="9.5" fill="url(#bump)"/>
<circle cx="823.9" cy="1485.4" r="13.2" fill="url(#bump)"/>
<circle cx="855.5" cy="1493.7" r="14" fill="url(#bump)"/>
<circle cx="894.4" cy="1482.3" r="8.8" fill="url(#bump)"/>
<circle cx="1058" cy="1569.7" r="9" fill="url(#bump)"/>
<circle cx="912.5" cy="1487.1" r="12" fill="url(#bump)"/>
<circle cx="763.5" cy="1451.9" r="11.6" fill="url(#bump)"/>
<circle cx="776.3" cy="1485.1" r="12.6" fill="url(#bump)"/>
<circle cx="948.5" cy="1520" r="9.2" fill="url(#bump)"/>
<circle cx="949.4" cy="1512.7" r="9.7" fill="url(#bump)"/>
<circle cx="798.2" cy="1465.6" r="8.7" fill="url(#bump)"/>
<circle cx="1026.9" cy="1555.7" r="14.6" fill="url(#bump)"/>
<circle cx="793.3" cy="1485.7" r="12.2" fill="url(#bump)"/>
<circle cx="1035.4" cy="1555.4" r="12.6" fill="url(#bump)"/>
<circle cx="807.9" cy="1475.6" r="14" fill="url(#bump)"/>
<circle cx="1010" cy="1530.4" r="8.9" fill="url(#bump)"/>
<circle cx="781.7" cy="1450.3" r="11.6" fill="url(#bump)"/>
<circle cx="892.5" cy="1475.4" r="11.1" fill="url(#bump)"/>
<circle cx="810.6" cy="1442.9" r="9.8" fill="url(#bump)"/>
<circle cx="803.1" cy="1505.3" r="9.7" fill="url(#bump)"/>
<circle cx="800.1" cy="1536.4" r="8.3" fill="url(#bump)"/>
<circle cx="875" cy="1454.7" r="13.1" fill="url(#bump)"/>
<circle cx="811.7" cy="1407.2" r="12" fill="url(#bump)"/>
<circle cx="865.4" cy="1450.3" r="10.3" fill="url(#bump)"/>
<circle cx="793.6" cy="1451.5" r="14.1" fill="url(#bump)"/>
<circle cx="922.3" cy="1484.7" r="12.6" fill="url(#bump)"/>
<circle cx="813" cy="1463.7" r="14.7" fill="url(#bump)"/>
<circle cx="851.9" cy="1459.2" r="9" fill="url(#bump)"/>
<circle cx="837.8" cy="1460.6" r="10.8" fill="url(#bump)"/>
<circle cx="805.2" cy="1432.2" r="10.9" fill="url(#bump)"/>
<circle cx="833" cy="1497.5" r="14.3" fill="url(#bump)"/>
<circle cx="1032.3" cy="1568.1" r="9" fill="url(#bump)"/>
<circle cx="830" cy="1484.1" r="13.6" fill="url(#bump)"/>
<circle cx="774.1" cy="1452.4" r="13.1" fill="url(#bump)"/>
<circle cx="834.4" cy="1468.4" r="13.1" fill="url(#bump)"/>
<circle cx="826.8" cy="1448.2" r="9.2" fill="url(#bump)"/>
<circle cx="1039.8" cy="1538.7" r="14" fill="url(#bump)"/>
<circle cx="991.9" cy="1545.8" r="8.4" fill="url(#bump)"/>
<circle cx="958.3" cy="1519.7" r="11.5" fill="url(#bump)"/>
<circle cx="817.5" cy="1542.8" r="9.1" fill="url(#bump)"/>
<circle cx="899.2" cy="1485.6" r="10.2" fill="url(#bump)"/>
<circle cx="780.1" cy="1438.9" r="11.2" fill="url(#bump)"/>
<circle cx="808.3" cy="1538.9" r="13" fill="url(#bump)"/>
<circle cx="819.3" cy="1472.6" r="8.5" fill="url(#bump)"/>
<circle cx="888.6" cy="1495.1" r="12.9" fill="url(#bump)"/>
<circle cx="814.7" cy="1505.7" r="12.3" fill="url(#bump)"/>
<circle cx="822" cy="1453.8" r="9.9" fill="url(#bump)"/>
<circle cx="979.2" cy="1521.8" r="12.2" fill="url(#bump)"/>
<circle cx="998.2" cy="1539" r="9.9" fill="url(#bump)"/>
<circle cx="845" cy="1486.6" r="11.2" fill="url(#bump)"/>
<circle cx="852" cy="1489.1" r="9.3" fill="url(#bump)"/>
<circle cx="798.6" cy="1499.6" r="13.1" fill="url(#bump)"/>
<circle cx="792.6" cy="1469" r="11.8" fill="url(#bump)"/>
<circle cx="1032.3" cy="1537.5" r="13.7" fill="url(#bump)"/>
<circle cx="1048.3" cy="1573.7" r="11.3" fill="url(#bump)"/>
<circle cx="887.2" cy="1504.4" r="11.5" fill="url(#bump)"/>
<circle cx="1038.3" cy="1564.8" r="11.7" fill="url(#bump)"/>
<circle cx="819" cy="1466.1" r="12.8" fill="url(#bump)"/>
<circle cx="998.4" cy="1526.3" r="11.1" fill="url(#bump)"/>
<circle cx="915.5" cy="1480.5" r="10.2" fill="url(#bump)"/>
<circle cx="877" cy="1467.1" r="13.4" fill="url(#bump)"/>
<circle cx="913.6" cy="1466.6" r="11.5" fill="url(#bump)"/>
<circle cx="829.2" cy="1442.8" r="10.7" fill="url(#bump)"/>
<circle cx="872.4" cy="1460" r="8.3" fill="url(#bump)"/>
<circle cx="776.9" cy="1505.9" r="10" fill="url(#bump)"/>
<circle cx="820" cy="1513" r="14.6" fill="url(#bump)"/>
<circle cx="1008.2" cy="1544.8" r="8" fill="url(#bump)"/>
<circle cx="817.5" cy="1432.1" r="14.2" fill="url(#bump)"/>
<circle cx="759.1" cy="1474.2" r="10.8" fill="url(#bump)"/>
<circle cx="839.4" cy="1484.5" r="13.2" fill="url(#bump)"/>
<circle cx="974.6" cy="1511.4" r="12.8" fill="url(#bump)"/>
<circle cx="754.7" cy="1463.4" r="8.2" fill="url(#bump)"/>
<circle cx="821.5" cy="1406.6" r="9.8" fill="url(#bump)"/>
<circle cx="792.5" cy="1477.4" r="14.6" fill="url(#bump)"/>
<circle cx="1042.7" cy="1570" r="12.7" fill="url(#bump)"/>
<circle cx="797" cy="1473" r="9" fill="url(#bump)"/>
<circle cx="1025.6" cy="1530.2" r="9.5" fill="url(#bump)"/>
<circle cx="888.2" cy="1481.2" r="13.3" fill="url(#bump)"/>
<circle cx="1020.5" cy="1521.8" r="9" fill="url(#bump)"/>
<circle cx="760.7" cy="1493.8" r="10" fill="url(#bump)"/>
<circle cx="836.9" cy="1515.4" r="9.1" fill="url(#bump)"/>
<circle cx="840.3" cy="1492.7" r="9.7" fill="url(#bump)"/>
<circle cx="921.4" cy="1502.4" r="12.9" fill="url(#bump)"/>
<circle cx="870.4" cy="1468.1" r="10" fill="url(#bump)"/>
<circle cx="811.3" cy="1450.5" r="13" fill="url(#bump)"/>
<circle cx="923.3" cy="1507.8" r="10.1" fill="url(#bump)"/>
<circle cx="786.5" cy="1488.8" r="13.2" fill="url(#bump)"/>
<circle cx="1017.7" cy="1535.1" r="14.8" fill="url(#bump)"/>
<circle cx="799.9" cy="1427.1" r="12.9" fill="url(#bump)"/>
<circle cx="943.5" cy="1525.1" r="10.7" fill="url(#bump)"/>
<circle cx="922.6" cy="1475" r="13.3" fill="url(#bump)"/>
<circle cx="804.6" cy="1420.6" r="8.3" fill="url(#bump)"/>
<circle cx="997.8" cy="1514.4" r="8.3" fill="url(#bump)"/>
<circle cx="793.7" cy="1539" r="8.1" fill="url(#bump)"/>
<circle cx="808.4" cy="1486" r="11.9" fill="url(#bump)"/>
<circle cx="871.1" cy="1488.2" r="8.5" fill="url(#bump)"/>
<circle cx="977.9" cy="1501.6" r="11" fill="url(#bump)"/>
<circle cx="909.7" cy="1498.2" r="13" fill="url(#bump)"/>
<circle cx="821" cy="1499.6" r="12.7" fill="url(#bump)"/>
<circle cx="771.8" cy="1446.6" r="10" fill="url(#bump)"/>
<circle cx="829.5" cy="1464.8" r="12.7" fill="url(#bump)"/>
<circle cx="987.9" cy="1522.4" r="12.6" fill="url(#bump)"/>
<circle cx="829.2" cy="1434.7" r="14.2" fill="url(#bump)"/>
<circle cx="844.8" cy="1508.2" r="9.3" fill="url(#bump)"/>
<circle cx="881.6" cy="1493.6" r="12.7" fill="url(#bump)"/>
<circle cx="757.1" cy="1454.3" r="8.2" fill="url(#bump)"/>
<circle cx="804.8" cy="1530.9" r="12.4" fill="url(#bump)"/>
<circle cx="906.1" cy="1480" r="13.2" fill="url(#bump)"/>
<circle cx="794.8" cy="1531.9" r="12.5" fill="url(#bump)"/>
<circle cx="761.9" cy="1504.3" r="9" fill="url(#bump)"/>
<circle cx="785.1" cy="1508.5" r="13.5" fill="url(#bump)"/>
<circle cx="816.5" cy="1415.2" r="10.1" fill="url(#bump)"/>
<circle cx="802.1" cy="1477.6" r="8.1" fill="url(#bump)"/>
<circle cx="895.6" cy="1502" r="9.3" fill="url(#bump)"/>
<circle cx="911.3" cy="1504.4" r="10.8" fill="url(#bump)"/>
<circle cx="963.5" cy="1523.7" r="10.9" fill="url(#bump)"/>
<circle cx="933.9" cy="1492.9" r="10.4" fill="url(#bump)"/>
<circle cx="1053.5" cy="1557" r="14.8" fill="url(#bump)"/>
<circle cx="957.6" cy="1513.3" r="13.3" fill="url(#bump)"/>
<circle cx="803.8" cy="1403.6" r="13" fill="url(#bump)"/>
<circle cx="799.4" cy="1455.9" r="11.7" fill="url(#bump)"/>
<circle cx="872.6" cy="1505.6" r="9.3" fill="url(#bump)"/>
<circle cx="927.8" cy="1512.2" r="8" fill="url(#bump)"/>
<circle cx="828.4" cy="1428.7" r="8" fill="url(#bump)"/>
<circle cx="1008" cy="1518.9" r="12.5" fill="url(#bump)"/>
<circle cx="794.5" cy="1507" r="8.9" fill="url(#bump)"/>
<circle cx="810.8" cy="1513.7" r="13.4" fill="url(#bump)"/>
<circle cx="805" cy="1523.6" r="9.9" fill="url(#bump)"/>
<circle cx="959.6" cy="1505.6" r="8.3" fill="url(#bump)"/>
<circle cx="816.7" cy="1486.5" r="10.4" fill="url(#bump)"/>
<circle cx="860.1" cy="1463.8" r="13.7" fill="url(#bump)"/>
<circle cx="921.1" cy="1491.7" r="11" fill="url(#bump)"/>
<circle cx="789.1" cy="1446.6" r="8.4" fill="url(#bump)"/>
<circle cx="812.9" cy="1479.1" r="14.1" fill="url(#bump)"/>
<circle cx="788.7" cy="1481.9" r="14.5" fill="url(#bump)"/>
<circle cx="871.2" cy="1513.6" r="8.3" fill="url(#bump)"/>
<circle cx="840.7" cy="1502.6" r="9.7" fill="url(#bump)"/>
<circle cx="789" cy="1504.6" r="11.8" fill="url(#bump)"/>
<circle cx="834.7" cy="1453.9" r="12.2" fill="url(#bump)"/>
<circle cx="1037.7" cy="1531.7" r="10" fill="url(#bump)"/>
<circle cx="1033.1" cy="1527.9" r="8.2" fill="url(#bump)"/>
<circle cx="987.3" cy="1513.8" r="13" fill="url(#bump)"/>
<circle cx="824" cy="1420.1" r="14.2" fill="url(#bump)"/>
<circle cx="859.9" cy="1472.4" r="8.2" fill="url(#bump)"/>
<circle cx="810.8" cy="1401" r="14.3" fill="url(#bump)"/>
<circle cx="898" cy="1457.9" r="8.9" fill="url(#bump)"/>
<circle cx="939" cy="1512.8" r="14.6" fill="url(#bump)"/>
<circle cx="760.6" cy="1480.2" r="9.3" fill="url(#bump)"/>
<circle cx="775.8" cy="1520" r="10.4" fill="url(#bump)"/>
<circle cx="942.7" cy="1485" r="10.9" fill="url(#bump)"/>
<circle cx="863.7" cy="1502.7" r="12.9" fill="url(#bump)"/>
<circle cx="879" cy="1481.1" r="9.5" fill="url(#bump)"/>
<circle cx="976" cy="1532.5" r="9.3" fill="url(#bump)"/>
<circle cx="789.1" cy="1534.1" r="11" fill="url(#bump)"/>
<circle cx="847.4" cy="1495.1" r="13.8" fill="url(#bump)"/>
<circle cx="784.8" cy="1442.6" r="9" fill="url(#bump)"/>
<circle cx="798.7" cy="1439.1" r="13" fill="url(#bump)"/>
<circle cx="914.9" cy="1511.7" r="14" fill="url(#bump)"/>
<circle cx="817.9" cy="1422.8" r="11.9" fill="url(#bump)"/>
<circle cx="769.3" cy="1480.2" r="13.5" fill="url(#bump)"/>
<circle cx="881.8" cy="1462.8" r="14.5" fill="url(#bump)"/>
<circle cx="784" cy="1496.7" r="14.3" fill="url(#bump)"/>
<circle cx="901.5" cy="1493.6" r="11" fill="url(#bump)"/>
<circle cx="852.4" cy="1501.6" r="14.2" fill="url(#bump)"/>
<circle cx="798.3" cy="1491.9" r="10.6" fill="url(#bump)"/>
<circle cx="950.9" cy="1527.8" r="8.1" fill="url(#bump)"/>
<circle cx="938.5" cy="1520.2" r="8.2" fill="url(#bump)"/>
<circle cx="920.9" cy="1514.1" r="12.8" fill="url(#bump)"/>
<circle cx="819.4" cy="1491.4" r="11.7" fill="url(#bump)"/>
<circle cx="884.4" cy="1468.8" r="12.3" fill="url(#bump)"/>
<circle cx="826.8" cy="1413.7" r="13.7" fill="url(#bump)"/>
<circle cx="831.1" cy="1517.8" r="12.6" fill="url(#bump)"/>
<circle cx="784" cy="1465.8" r="8.9" fill="url(#bump)"/>
<circle cx="860.8" cy="1484.2" r="10.7" fill="url(#bump)"/>
<circle cx="844.7" cy="1455.2" r="10.1" fill="url(#bump)"/>
<circle cx="903.2" cy="1503.8" r="11.5" fill="url(#bump)"/>
<circle cx="906.6" cy="1509.9" r="12" fill="url(#bump)"/>
<circle cx="782.1" cy="1503" r="12.6" fill="url(#bump)"/>
<circle cx="810.1" cy="1492.6" r="8.6" fill="url(#bump)"/>
<circle cx="810.1" cy="1436.3" r="12.5" fill="url(#bump)"/>
<circle cx="928.8" cy="1489" r="14.8" fill="url(#bump)"/>
<circle cx="953.8" cy="1500.3" r="10.3" fill="url(#bump)"/>
<circle cx="771.7" cy="1435.8" r="8.8" fill="url(#bump)"/>
<circle cx="825.3" cy="1460.5" r="11.9" fill="url(#bump)"/>
<circle cx="810.7" cy="1523.4" r="13.1" fill="url(#bump)"/>
<circle cx="883.8" cy="1455" r="10.5" fill="url(#bump)"/>
<circle cx="794.8" cy="1432.5" r="11.7" fill="url(#bump)"/>
<circle cx="816.4" cy="1458.4" r="9.5" fill="url(#bump)"/>
<circle cx="934.2" cy="1485.7" r="10.1" fill="url(#bump)"/>
<circle cx="1002.9" cy="1532.2" r="12.3" fill="url(#bump)"/>
<circle cx="894" cy="1512" r="10.4" fill="url(#bump)"/>
<circle cx="1009.4" cy="1537.4" r="15" fill="url(#bump)"/>
<circle cx="787.4" cy="1520.3" r="9" fill="url(#bump)"/>
<circle cx="816.7" cy="1398.8" r="11.4" fill="url(#bump)"/>
<circle cx="823.2" cy="1505.6" r="10.3" fill="url(#bump)"/>
<circle cx="1056.8" cy="1562.8" r="8" fill="url(#bump)"/>
<circle cx="874.1" cy="1475.3" r="12.7" fill="url(#bump)"/>
<circle cx="804.9" cy="1467.5" r="14.9" fill="url(#bump)"/>
<circle cx="836.8" cy="1506.5" r="11.1" fill="url(#bump)"/>
<circle cx="853.3" cy="1515.1" r="9.1" fill="url(#bump)"/>
<circle cx="794.6" cy="1522.7" r="14.1" fill="url(#bump)"/>
<circle cx="1033.8" cy="1545.3" r="8" fill="url(#bump)"/>
<circle cx="985" cy="1533.6" r="12.7" fill="url(#bump)"/>
<circle cx="766.9" cy="1464.4" r="13.7" fill="url(#bump)"/>
<circle cx="783.1" cy="1433.1" r="12.8" fill="url(#bump)"/>
<circle cx="962.8" cy="1529.4" r="11.8" fill="url(#bump)"/>
<circle cx="965.6" cy="1508.8" r="13.7" fill="url(#bump)"/>
<circle cx="808.2" cy="1547.9" r="13.5" fill="url(#bump)"/>
<circle cx="907.5" cy="1470.8" r="10.5" fill="url(#bump)"/>
<circle cx="1015.2" cy="1527.6" r="12.6" fill="url(#bump)"/>
<circle cx="807.3" cy="1457.7" r="9.9" fill="url(#bump)"/>
<circle cx="799" cy="1418" r="9.6" fill="url(#bump)"/>
<circle cx="865.5" cy="1480.7" r="11.3" fill="url(#bump)"/>
<circle cx="826.1" cy="1403.4" r="10" fill="url(#bump)"/>
<circle cx="776.8" cy="1476.1" r="13" fill="url(#bump)"/>
<circle cx="899.4" cy="1473.3" r="12.5" fill="url(#bump)"/>
<circle cx="828.4" cy="1511.4" r="10.5" fill="url(#bump)"/>
<circle cx="854.3" cy="1447.2" r="8" fill="url(#bump)"/>
<circle cx="826" cy="1525.6" r="8" fill="url(#bump)"/>
<circle cx="802.1" cy="1486.6" r="14.8" fill="url(#bump)"/>
<circle cx="826" cy="1490.8" r="8.4" fill="url(#bump)"/>
<circle cx="884.1" cy="1476.2" r="8.9" fill="url(#bump)"/>
<circle cx="769.5" cy="1510" r="10.8" fill="url(#bump)"/>
<circle cx="946.5" cy="1505.6" r="12.2" fill="url(#bump)"/>
<circle cx="819.6" cy="1536.3" r="8.5" fill="url(#bump)"/>
<circle cx="968.9" cy="1501.9" r="8.8" fill="url(#bump)"/>
<circle cx="784.9" cy="1425.5" r="13.8" fill="url(#bump)"/>
<circle cx="831.2" cy="1421.6" r="8.1" fill="url(#bump)"/>
<circle cx="840.2" cy="1450.6" r="10.3" fill="url(#bump)"/>
<circle cx="1032.4" cy="1561.4" r="8.3" fill="url(#bump)"/>
<circle cx="774" cy="1496.2" r="10.7" fill="url(#bump)"/>
<circle cx="822.2" cy="1478.5" r="8.1" fill="url(#bump)"/>
<circle cx="864.8" cy="1495.3" r="10.4" fill="url(#bump)"/>
<circle cx="888.7" cy="1464.8" r="14.6" fill="url(#bump)"/>
<circle cx="962" cy="1494.8" r="12.5" fill="url(#bump)"/>
<circle cx="929.9" cy="1501.7" r="9.6" fill="url(#bump)"/>
<circle cx="788.9" cy="1526.2" r="8.5" fill="url(#bump)"/>
<circle cx="1006.3" cy="1525" r="13.5" fill="url(#bump)"/>
<circle cx="764.4" cy="1487" r="13.7" fill="url(#bump)"/>
<circle cx="880.6" cy="1504" r="10.3" fill="url(#bump)"/>
<circle cx="835.8" cy="1475.7" r="9.4" fill="url(#bump)"/>
<circle cx="774.2" cy="1461.1" r="13.5" fill="url(#bump)"/>
<circle cx="816.1" cy="1530.7" r="12.6" fill="url(#bump)"/>
<circle cx="996.4" cy="1531.8" r="10" fill="url(#bump)"/>
<circle cx="819" cy="1524.8" r="10.3" fill="url(#bump)"/>
<circle cx="1015.3" cy="1546.2" r="13" fill="url(#bump)"/>
<circle cx="804" cy="1409.4" r="9.1" fill="url(#bump)"/>
<circle cx="845.5" cy="1481" r="14.9" fill="url(#bump)"/>
<circle cx="799.3" cy="1449.8" r="11.2" fill="url(#bump)"/>
<circle cx="1043.8" cy="1551.2" r="8.4" fill="url(#bump)"/>
<circle cx="1050.4" cy="1550.2" r="14.1" fill="url(#bump)"/>
<circle cx="987.9" cy="1539.4" r="8.7" fill="url(#bump)"/>
<circle cx="939.5" cy="1490.8" r="8.9" fill="url(#bump)"/>
<circle cx="845.8" cy="1460.7" r="11.2" fill="url(#bump)"/>
<circle cx="810" cy="1413.2" r="9.7" fill="url(#bump)"/>
<circle cx="809.9" cy="1533.2" r="12.8" fill="url(#bump)"/>
<circle cx="979.6" cy="1507.9" r="12.4" fill="url(#bump)"/>
<circle cx="845.7" cy="1466.6" r="11.9" fill="url(#bump)"/>
<circle cx="951.3" cy="1492.7" r="14.5" fill="url(#bump)"/>
</g>
<path d="M777 1471.4 L785.2 1468.5 L789 1477.9 L785.2 1487.2 L777.9 1484.3Z" fill="#90e088" opacity="0.9" filter="url(#pblur)"/>
<path d="M794 1455.9 L804.8 1455.3 L804.8 1464.7 L794.9 1465.3Z" fill="#a6ecf0" opacity="0.8" filter="url(#pblur)"/>
<path d="M805.7 1483.1 L827.7 1480.8 L832.1 1487.2 L810.1 1491.9Z" fill="#8f98ee" opacity="0.85" filter="url(#pblur)"/>
<path d="M786.7 1489.6 L802.8 1491 L801.3 1498.9 L788.1 1497.2Z" fill="#f0a870" opacity="0.8" filter="url(#pblur)"/>
<path d="M796.9 1495.4 L820.3 1493.1 L822.4 1501.9 L802.8 1506.6Z" fill="#eee870" opacity="0.85" filter="url(#pblur)"/>
<path d="M832.9 1483.1 L842.3 1480.8 L843.5 1487.2 L834.7 1490.2Z" fill="#d89090" opacity="0.7" filter="url(#pblur)"/>
<path d="M 799.8 1477.9 L 807.2 1473.5 L 814.5 1469.7 L 820.3 1471.4 L 825.3 1477.9 L 818.9 1483.7 L 811.6 1489.6 L 809.5 1482.2 L 800.7 1483.1 M 807.2 1473.5 L 810.7 1480.2 L 818.9 1483.7 M 814.5 1469.7 L 816.5 1476.4 L 827.7 1483.1 M 820.3 1471.4 L 824.2 1469.7 L 826.5 1475.5 M 810.7 1480.2 L 804.8 1481.4 M 816.5 1476.4 L 809.5 1482.2 M 825.3 1477.9 L 830 1479.6" stroke="#e4d01c" stroke-width="2.4" fill="none" stroke-linejoin="round" stroke-linecap="round"/>
<rect x="764.2" y="1455.7" width="107.4" height="71.1" fill="none" stroke="#4a5570" stroke-width="1.1" stroke-dasharray="4 2.5"/>
<path d="M871.6 1455.7L1129.5 1339M871.6 1526.8L1129.5 1534.5" stroke="#5a6580" stroke-width="1.1" stroke-dasharray="4 3" fill="none"/>
<g clip-path="url(#cb1)">
<path d="M 1159.7 1149.1 C 1172.3 1137.6 1191.1 1136.5 1197.4 1135.5 C 1210 1156.4 1228.8 1174.2 1254.9 1172.1 C 1245.5 1185.7 1220.4 1194 1207.9 1190.3 C 1186.9 1183.6 1167.1 1166.8 1159.7 1149.1 Z" fill="url(#rib)" stroke="#d0d0d0" stroke-width="0.7"/>
<path d="M 1228.8 1133.4 L 1275.9 1133.4 C 1287.4 1156.4 1299.9 1166.8 1321.9 1164.7 C 1308.3 1180.4 1287.4 1177.3 1279 1175.2 C 1256 1166.8 1239.2 1150.1 1228.8 1133.4 Z" fill="url(#rib2)" stroke="#d0d0d0" stroke-width="0.7"/>
<path d="M 1275.9 1133.4 L 1319.8 1133.4 C 1326.1 1145.9 1329.2 1156.4 1326.1 1164.7 C 1308.3 1171 1287.4 1158.5 1275.9 1133.4 Z" fill="url(#rib)" stroke="#d0d0d0" stroke-width="0.7"/>
<path d="M 1220.4 1190.3 C 1237.2 1197.2 1266.4 1202.4 1294.7 1177.3 C 1285.3 1194 1266.4 1204.5 1262.7 1208.7 C 1263.3 1219.1 1260.2 1225.4 1253.9 1229.6 L 1238.2 1229.6 C 1234 1212.9 1225.6 1200.3 1220.4 1190.3 Z" fill="url(#rib2)" stroke="#d0d0d0" stroke-width="0.7"/>
<path d="M 1319.8 1133.4 L 1394.1 1133.4 C 1390.9 1150.1 1371 1163.7 1345.9 1161 C 1333.4 1156.4 1325 1145.9 1319.8 1133.4 Z" fill="url(#rib)" stroke="#d0d0d0" stroke-width="0.7"/>
<path d="M 1356.4 1233.8 C 1371 1215 1392 1208.7 1411.8 1208.7 L 1411.8 1244.2 C 1398.2 1234.8 1381.5 1229.6 1356.4 1233.8 Z" fill="url(#rib2)" stroke="#d0d0d0" stroke-width="0.7"/>
<path d="M 1302 1258.9 C 1318.7 1242.2 1350.1 1238 1366.9 1242.2 C 1383.6 1250.5 1394.1 1267.3 1396.6 1276 C 1387.8 1286.1 1375.2 1292.4 1369 1290.7 C 1360.6 1271.4 1339.7 1258.9 1302 1258.9 Z" fill="url(#rib)" stroke="#d0d0d0" stroke-width="0.7"/>
<path d="M 1262.3 1279.8 C 1279 1267.3 1299.9 1267.3 1314.6 1281.9 C 1329.2 1296.5 1335.5 1307 1337.6 1320.6 L 1308.3 1320.6 C 1299.9 1296.5 1283.2 1284 1262.3 1279.8 Z" fill="url(#rib2)" stroke="#d0d0d0" stroke-width="0.7"/>
<path d="M 1184.9 1320.6 C 1199.5 1309.1 1220.4 1308.7 1245.5 1311.6 C 1253.9 1300.7 1258.1 1288.2 1262.3 1279.8 C 1270.6 1292.4 1266.4 1309.1 1253.9 1320.6 Z" fill="url(#rib)" stroke="#d0d0d0" stroke-width="0.7"/>
<path d="M 1299.9 1320.6 C 1308.3 1307 1329.2 1304.9 1350.1 1309.1 L 1383.6 1320.6 Z" fill="url(#rib2)" stroke="#d0d0d0" stroke-width="0.7"/>
<path d="M 1327.1 1271.4 C 1341.8 1261 1354.3 1263.1 1364.8 1292.4 L 1360.6 1307 C 1350.1 1292.4 1339.7 1279.8 1327.1 1271.4 Z" fill="url(#rib)" stroke="#d0d0d0" stroke-width="0.7"/>
<path d="M 1226.7 1166.8 C 1237.2 1160.6 1249.7 1162.7 1254.9 1172.1 C 1245.5 1181.5 1233 1183.6 1224.6 1179.4 Z" fill="#ecd0e4" opacity="0.8" filter="url(#pblur)"/>
<path d="M 1337.6 1150.1 C 1350.1 1135.5 1381.5 1133.4 1392 1137.6 C 1387.8 1150.1 1366.9 1162.7 1345.9 1160.6 Z" fill="#8d90e6" opacity="0.85" filter="url(#pblur)"/>
<path d="M 1128.4 1184.6 C 1145.1 1181.5 1157.7 1187.8 1161.8 1204.5 C 1163.9 1213.9 1174.8 1210.8 1175.4 1185.7" stroke="#ececec" stroke-width="4.2" fill="none"/>
<path d="M 1153.5 1200.3 C 1159.7 1212.9 1172.3 1212.9 1174.8 1200.3" stroke="#ecd0e4" stroke-width="4.2" fill="none"/>
<path d="M 1128.4 1184.6 C 1145.1 1181.5 1157.7 1187.8 1161.8 1204.5 C 1163.9 1213.9 1174.8 1210.8 1175.4 1185.7" stroke="#d4d4d4" stroke-width="0.6" fill="none" transform="translate(0,-2.2)"/>
<path d="M 1159.7 1254.7 C 1151.4 1267.3 1147.2 1275.6 1157.7 1286.1 C 1172.3 1292.4 1199.5 1290.3 1207.9 1281.9 C 1203.7 1271.4 1193.2 1269.4 1186.9 1261 C 1178.6 1242.2 1182.8 1223.3 1199.5 1221.2 C 1212.1 1223.3 1220.4 1233.8 1237.2 1235.9" stroke="#ebebeb" stroke-width="4.4" fill="none"/>
<path d="M 1128.4 1227.5 C 1151.4 1227.5 1167.1 1233.8 1159.7 1254.7" stroke="#f3e3a0" stroke-width="4.4" fill="none"/>
<path d="M 1161.8 1233.8 C 1165 1244.2 1161.8 1252.6 1156.6 1263.1" stroke="#f0b040" stroke-width="1" fill="none"/>
<path d="M 1174.4 1286.1 C 1186.9 1289.2 1199.5 1288.2 1207.9 1285" stroke="#f0c8a0" stroke-width="4.2" fill="none"/>
<path d="M 1172.3 1279.8 L 1182.8 1271.4 L 1189 1284 L 1203.7 1298.6 L 1186.9 1292.4 L 1184.9 1300.7 Z" fill="#c4c4c4" opacity="0.85"/>
<path d="M 1230.9 1190.3 L 1248.7 1186.7" stroke="#78e840" stroke-width="1" fill="none" stroke-linecap="round"/>
<path d="M 1304.1 1196.1 L 1321.9 1170" stroke="#5ce8e8" stroke-width="1" fill="none" stroke-linecap="round"/>
<path d="M 1331.3 1155.3 L 1343.8 1147.6" stroke="#58d838" stroke-width="1.6" fill="none" stroke-linecap="round"/>
<path d="M 1343.8 1147.6 L 1360.6 1154.3 L 1374.2 1166.8 L 1390.9 1175.2" stroke="#2233dd" stroke-width="1.3" fill="none" stroke-linecap="round"/>
<path d="M 1390.9 1175.2 L 1387.8 1186.7 M 1392 1177.3 L 1389.5 1187.3" stroke="#4a9af0" stroke-width="0.9" fill="none" stroke-linecap="round"/>
<path d="M 1356 1222.9 L 1353.9 1241.1 L 1350.1 1242.2" stroke="#e06020" stroke-width="1" fill="none" stroke-linecap="round"/>
<path d="M 1287.4 1288.6 L 1305.1 1294.5" stroke="#d02030" stroke-width="2.2" fill="none" stroke-linecap="round"/>
<path d="M 1223.6 1213.9 L 1218.3 1229.6 L 1226.7 1235.5" stroke="#78e820" stroke-width="0.9" fill="none" stroke-linecap="round"/>
<path d="M 1179.6 1224.4 L 1174.8 1239.6 L 1182.8 1243.8" stroke="#b8e820" stroke-width="0.9" fill="none" stroke-linecap="round"/>
<path d="M 1154.5 1262 L 1159.7 1268.3 M 1158.7 1261 L 1160.2 1267.7" stroke="#58d838" stroke-width="0.9" fill="none" stroke-linecap="round"/>
<path d="M 1185.9 1277.7 L 1193.2 1280.9" stroke="#58d838" stroke-width="0.9" fill="none" stroke-linecap="round"/>
<path d="M 1216.2 1233.4 L 1203.7 1242.2 M 1197.4 1239 L 1188.6 1241.3 M 1199.9 1252.2 L 1188.6 1274" stroke="#d8c828" stroke-width="2" stroke-dasharray="2.2 2.2" fill="none"/>
<path d="M 1215.2 1246.3 L 1233 1236.5 L 1249.7 1239.6 L 1264.8 1228.6 L 1280 1227.5 L 1281.1 1236.9 L 1264.4 1245.3 L 1247.6 1247.8 L 1228.8 1255.8 L 1215.2 1253 Z M 1249.7 1239.6 L 1247.6 1247.8 M 1215.2 1246.3 L 1201.6 1245.7 L 1202.6 1239 M 1228.8 1255.8 L 1225.6 1262 L 1237.2 1266.4 M 1264.4 1245.3 L 1264.4 1255.1 M 1269 1247.4 L 1269.2 1253.7 M 1281.1 1236.9 L 1297.8 1235.9 L 1303.3 1248.8 M 1280 1227.5 L 1299.9 1219.1 M 1299.9 1219.1 L 1301 1205.5 L 1316.7 1193 L 1326.1 1200.3 L 1324 1215 L 1306.2 1226.9 Z M 1326.1 1200.3 L 1339.7 1193 L 1348 1199.3" stroke="#bdb02a" stroke-width="5" fill="none" stroke-linejoin="round" stroke-linecap="round"/>
<path d="M 1215.2 1246.3 L 1233 1236.5 L 1249.7 1239.6 L 1264.8 1228.6 L 1280 1227.5 L 1281.1 1236.9 L 1264.4 1245.3 L 1247.6 1247.8 L 1228.8 1255.8 L 1215.2 1253 Z M 1249.7 1239.6 L 1247.6 1247.8 M 1215.2 1246.3 L 1201.6 1245.7 L 1202.6 1239 M 1228.8 1255.8 L 1225.6 1262 L 1237.2 1266.4 M 1264.4 1245.3 L 1264.4 1255.1 M 1269 1247.4 L 1269.2 1253.7 M 1281.1 1236.9 L 1297.8 1235.9 L 1303.3 1248.8 M 1280 1227.5 L 1299.9 1219.1 M 1299.9 1219.1 L 1301 1205.5 L 1316.7 1193 L 1326.1 1200.3 L 1324 1215 L 1306.2 1226.9 Z M 1326.1 1200.3 L 1339.7 1193 L 1348 1199.3" stroke="#e8dc3c" stroke-width="3.4" fill="none" stroke-linejoin="round" stroke-linecap="round"/>
<text x="1213.5" y="1227.5" font-size="8.4" font-family="Liberation Sans, sans-serif" text-anchor="start" fill="#444" letter-spacing="0.3">TRP-1798</text>
<text x="1140.5" y="1239.6" font-size="8.4" font-family="Liberation Sans, sans-serif" text-anchor="start" fill="#444" letter-spacing="0.3">ASP-1802</text>
<text x="1154.5" y="1288.6" font-size="8.4" font-family="Liberation Sans, sans-serif" text-anchor="start" fill="#444" letter-spacing="0.3">GLN-1807</text>
</g>
<rect x="1128.2" y="1133.4" width="283.2" height="186.4" fill="none" stroke="#444" stroke-width="1.1" stroke-dasharray="3.2 2.4"/>
<g clip-path="url(#cb2)">
<path d="M1222.5 1386.5L1216.7 1385.4L1208.2 1382.3L1197.9 1377.9L1187.3 1373.4L1177.8 1369.6L1170.6 1367.4L1166.6 1367.5L1166.2 1370.1L1180.6 1349.8L1181.1 1347.1L1185.1 1347L1192.3 1349.2L1201.8 1353L1212.4 1357.6L1222.6 1361.9L1231.2 1365L1237 1366.2ZM1200.2 1417.9L1194.4 1416.8L1185.9 1413.7L1175.6 1409.3L1165 1404.8L1155.5 1401L1148.3 1398.8L1144.3 1398.9L1143.9 1401.5L1158.3 1381.2L1158.8 1378.5L1162.8 1378.4L1170 1380.6L1179.5 1384.4L1190.1 1389L1200.3 1393.3L1208.9 1396.4L1214.7 1397.6ZM1177.9 1449.3L1172.1 1448.2L1163.6 1445.1L1153.3 1440.7L1142.7 1436.2L1133.2 1432.4L1126 1430.2L1122 1430.3L1121.6 1432.9L1136 1412.6L1136.5 1409.9L1140.5 1409.8L1147.7 1412L1157.2 1415.8L1167.8 1420.4L1178 1424.7L1186.6 1427.8L1192.4 1429Z" fill="#e9e9e9" stroke="#d2d2d2" stroke-width="0.6" stroke-linejoin="round"/>
<path d="M1281.4 1369.2L1274 1371.1L1266.7 1373.1L1260.5 1375.1L1256.4 1377.2L1255 1379.5L1256.5 1381.9L1260.7 1384.4L1266.8 1386.9L1267.9 1363L1261.7 1360.4L1257.6 1357.9L1256.1 1355.5L1257.5 1353.3L1261.6 1351.2L1267.8 1349.1L1275.1 1347.2L1282.5 1345.2ZM1279.7 1405.9L1272.3 1407.9L1265 1409.9L1258.8 1411.9L1254.7 1414L1253.3 1416.2L1254.8 1418.6L1259 1421.1L1265.1 1423.7L1266.2 1399.7L1260.1 1397.1L1255.9 1394.6L1254.4 1392.3L1255.8 1390L1259.9 1387.9L1266.1 1385.9L1273.4 1383.9L1280.8 1382Z" fill="#e9e9e9" stroke="#d2d2d2" stroke-width="0.6" stroke-linejoin="round"/>
<path d="M1219.8 1420.3L1226.4 1420.2L1231.1 1421L1233.3 1423L1232.9 1426.2L1230.2 1430.5L1225.6 1435.7L1220.2 1441.3L1214.9 1446.9L1205.4 1427L1210.8 1421.4L1216.2 1415.8L1220.8 1410.6L1223.5 1406.3L1223.9 1403.1L1221.6 1401.1L1217 1400.3L1210.3 1400.4ZM1238.6 1460L1245.2 1459.9L1249.9 1460.7L1252.1 1462.7L1251.7 1465.9L1249 1470.3L1244.4 1475.5L1239 1481.1L1233.7 1486.6L1224.2 1466.8L1229.6 1461.2L1235 1455.6L1239.6 1450.4L1242.3 1446.1L1242.7 1442.8L1240.4 1440.9L1235.8 1440L1229.1 1440.1Z" fill="#e9e9e9" stroke="#d2d2d2" stroke-width="0.6" stroke-linejoin="round"/>
<path d="M1222.5 1498.3L1224.4 1502.5L1226.1 1508L1227.6 1514.2L1229.2 1520.2L1230.9 1525.1L1233 1528.2L1235.5 1529.2L1238.3 1527.9L1216.7 1524L1213.8 1525.3L1211.3 1524.3L1209.3 1521.2L1207.5 1516.3L1205.9 1510.4L1204.4 1504.2L1202.8 1498.6L1200.9 1494.5ZM1263.3 1505.6L1265.2 1509.8L1266.9 1515.3L1268.4 1521.5L1270 1527.5L1271.7 1532.4L1273.8 1535.5L1276.3 1536.5L1279.1 1535.2L1257.5 1531.3L1254.6 1532.6L1252.1 1531.6L1250.1 1528.5L1248.3 1523.6L1246.7 1517.7L1245.2 1511.5L1243.6 1505.9L1241.7 1501.8Z" fill="#e9e9e9" stroke="#d2d2d2" stroke-width="0.6" stroke-linejoin="round"/>
<path d="M1407.8 1397.9L1412.1 1398.5L1414 1401.2L1413.4 1406.1L1410.7 1412.7L1406.7 1420.5L1402.4 1428.6L1398.7 1436.2L1396.5 1442.4L1380.7 1424.3L1383 1418L1386.7 1410.5L1391 1402.4L1395 1394.6L1397.6 1388L1398.3 1383.1L1396.4 1380.4L1392.1 1379.8Z" fill="#e9e9e9" stroke="#d2d2d2" stroke-width="0.6" stroke-linejoin="round"/>
<path d="M1319.9 1448.5L1318.8 1450.2L1316.4 1452.4L1313.2 1455L1309.6 1457.7L1306.4 1460.3L1304.1 1462.5L1303 1464.2L1303.5 1465.2L1298.8 1454.2L1298.4 1453.1L1299.5 1451.4L1301.8 1449.2L1305 1446.7L1308.5 1444L1311.8 1441.4L1314.1 1439.2L1315.2 1437.5Z" fill="#e9e9e9" stroke="#d2d2d2" stroke-width="0.6" stroke-linejoin="round"/>
<path d="M1341.1 1462.8L1338.5 1465.5L1335.7 1468.4L1333.2 1471.1L1331.4 1473.4L1330.7 1475L1331.3 1475.8L1333.1 1475.9L1336.1 1475.3L1329.9 1465L1326.9 1465.6L1325.1 1465.5L1324.5 1464.7L1325.2 1463.1L1327 1460.8L1329.5 1458.1L1332.4 1455.2L1334.9 1452.5Z" fill="#e9e9e9" stroke="#d2d2d2" stroke-width="0.6" stroke-linejoin="round"/>
<path d="M1188.5 1338.7L1191.5 1343.8L1197.2 1350.9L1204.7 1359.1L1212.5 1367.6L1219.2 1375.3L1223.6 1381.4L1224.8 1385.2L1222.5 1386.5L1237 1366.2L1239.3 1364.9L1238.1 1361L1233.7 1354.9L1227 1347.2L1219.2 1338.7L1211.7 1330.5L1205.9 1323.4L1202.9 1318.4ZM1166.2 1370.1L1169.2 1375.2L1174.9 1382.3L1182.4 1390.5L1190.2 1399L1196.9 1406.7L1201.3 1412.8L1202.5 1416.6L1200.2 1417.9L1214.7 1397.6L1217 1396.3L1215.8 1392.4L1211.4 1386.3L1204.7 1378.6L1196.9 1370.1L1189.4 1361.9L1183.6 1354.8L1180.6 1349.8ZM1143.9 1401.5L1146.9 1406.6L1152.6 1413.7L1160.1 1421.9L1167.9 1430.4L1174.6 1438.1L1179 1444.2L1180.2 1448L1177.9 1449.3L1192.4 1429L1194.7 1427.7L1193.5 1423.8L1189.1 1417.7L1182.4 1410L1174.6 1401.5L1167.1 1393.3L1161.3 1386.2L1158.3 1381.2Z" fill="url(#rib)" stroke="#d6d6d6" stroke-width="0.6" stroke-linejoin="round"/>
<path d="M1268.5 1350.2L1275.7 1352.8L1282.8 1355.4L1288.7 1358L1292.6 1360.5L1293.8 1362.8L1292.1 1365.1L1287.7 1367.2L1281.4 1369.2L1282.5 1345.2L1288.8 1343.2L1293.2 1341.1L1294.9 1338.9L1293.7 1336.5L1289.8 1334L1283.9 1331.5L1276.8 1328.8L1269.6 1326.2ZM1266.8 1386.9L1274 1389.6L1281.1 1392.2L1287.1 1394.8L1290.9 1397.2L1292.1 1399.6L1290.4 1401.8L1286.1 1403.9L1279.7 1405.9L1280.8 1382L1287.2 1380L1291.5 1377.9L1293.2 1375.6L1292 1373.3L1288.2 1370.8L1282.2 1368.2L1275.1 1365.6L1267.9 1363ZM1265.1 1423.7L1272.3 1426.3L1279.4 1429L1285.4 1431.5L1289.3 1434L1290.4 1436.4L1288.7 1438.6L1284.4 1440.7L1278 1442.7L1279.1 1418.7L1285.5 1416.7L1289.8 1414.6L1291.5 1412.4L1290.4 1410L1286.5 1407.6L1280.5 1405L1273.4 1402.3L1266.2 1399.7Z" fill="url(#rib)" stroke="#d6d6d6" stroke-width="0.6" stroke-linejoin="round"/>
<path d="M1214.9 1446.9L1210.6 1452L1208.3 1456.1L1208.4 1459.1L1211.1 1460.8L1216.2 1461.5L1223.1 1461.3L1230.9 1460.6L1238.6 1460L1229.1 1440.1L1221.4 1440.7L1213.7 1441.4L1206.8 1441.6L1201.7 1441L1199 1439.2L1198.8 1436.2L1201.2 1432.1L1205.4 1427ZM1233.7 1486.6L1229.4 1491.7L1227.1 1495.9L1227.2 1498.8L1229.9 1500.6L1235 1501.2L1241.9 1501L1249.7 1500.4L1257.4 1499.8L1247.9 1479.9L1240.2 1480.5L1232.5 1481.1L1225.6 1481.3L1220.5 1480.7L1217.8 1479L1217.6 1476L1220 1471.8L1224.2 1466.8Z" fill="url(#rib)" stroke="#d6d6d6" stroke-width="0.6" stroke-linejoin="round"/>
<path d="M1197.5 1520.6L1200.7 1517.4L1204.2 1512.7L1207.8 1507.4L1211.3 1502.4L1214.6 1498.4L1217.7 1496.2L1220.3 1496.2L1222.5 1498.3L1200.9 1494.5L1198.6 1492.3L1196 1492.3L1193 1494.5L1189.6 1498.5L1186.1 1503.6L1182.5 1508.8L1179.1 1513.5L1175.9 1516.7ZM1238.3 1527.9L1241.5 1524.7L1245 1520L1248.6 1514.7L1252.1 1509.7L1255.4 1505.7L1258.5 1503.5L1261.1 1503.5L1263.3 1505.6L1241.7 1501.8L1239.4 1499.6L1236.8 1499.6L1233.8 1501.8L1230.4 1505.8L1226.9 1510.9L1223.3 1516.1L1219.9 1520.8L1216.7 1524Z" fill="url(#rib)" stroke="#d6d6d6" stroke-width="0.6" stroke-linejoin="round"/>
<path d="M1396.5 1442.4L1396.4 1446.8L1398.9 1449L1403.8 1449.1L1410.7 1447.4L1419 1444.6L1427.6 1441.4L1435.6 1438.8L1442.1 1437.5L1426.4 1419.4L1419.9 1420.7L1411.9 1423.3L1403.2 1426.4L1395 1429.3L1388.1 1430.9L1383.1 1430.9L1380.7 1428.6L1380.7 1424.3Z" fill="url(#rib)" stroke="#d6d6d6" stroke-width="0.6" stroke-linejoin="round"/>
<path d="M1296.5 1448.5L1298.4 1448.9L1301.7 1448.8L1305.8 1448.3L1310.2 1447.7L1314.3 1447.2L1317.5 1447.1L1319.4 1447.5L1319.9 1448.5L1315.2 1437.5L1314.8 1436.4L1312.9 1436L1309.6 1436.1L1305.6 1436.6L1301.2 1437.2L1297.1 1437.7L1293.8 1437.8L1291.8 1437.4ZM1303.5 1465.2L1305.4 1465.6L1308.7 1465.5L1312.8 1465L1317.2 1464.4L1321.3 1463.9L1324.5 1463.8L1326.4 1464.2L1326.9 1465.3L1322.2 1454.2L1321.8 1453.2L1319.9 1452.7L1316.6 1452.9L1312.6 1453.3L1308.2 1453.9L1304.1 1454.4L1300.8 1454.6L1298.8 1454.2Z" fill="url(#rib)" stroke="#d6d6d6" stroke-width="0.6" stroke-linejoin="round"/>
<path d="M1327.7 1461.3L1331.3 1460.3L1335.2 1459.2L1338.8 1458.2L1341.6 1457.7L1343.4 1457.9L1343.8 1458.8L1343 1460.4L1341.1 1462.8L1334.9 1452.5L1336.8 1450.2L1337.6 1448.5L1337.2 1447.6L1335.4 1447.4L1332.6 1447.9L1329 1448.9L1325.1 1450L1321.5 1451ZM1336.1 1475.3L1339.7 1474.3L1343.6 1473.2L1347.2 1472.2L1350 1471.7L1351.8 1471.9L1352.2 1472.8L1351.4 1474.4L1349.5 1476.8L1343.3 1466.5L1345.2 1464.2L1346 1462.5L1345.6 1461.6L1343.8 1461.4L1341 1461.9L1337.4 1462.9L1333.5 1464L1329.9 1465Z" fill="url(#rib)" stroke="#d6d6d6" stroke-width="0.6" stroke-linejoin="round"/>
<path d="M 1341.8 1386.5 C 1345.9 1367.7 1371 1365.6 1377.3 1384.4 C 1377.3 1401.1 1358.5 1409.5 1348 1401.1 C 1343.8 1396.9 1341.8 1392.8 1341.8 1386.5 Z" fill="url(#rib)" stroke="#d2d2d2" stroke-width="0.7"/>
<path d="M 1325 1417.9 L 1337.6 1413.7 L 1333.4 1438.8 L 1327.1 1444 Z" fill="url(#rib2)" stroke="#d2d2d2" stroke-width="0.7"/>
<path d="M 1356.4 1417.9 L 1371 1413.7 L 1383.6 1428.3 L 1377.3 1434.6 L 1375.2 1445.1 L 1360.6 1443 L 1358.5 1430.4 Z" fill="url(#rib)" stroke="#d2d2d2" stroke-width="0.7"/>
<path d="M 1283.2 1485.9 L 1316.7 1491.1 L 1333.4 1499.5 L 1306.2 1501.5 L 1282.1 1498.4 Z" fill="url(#rib2)" stroke="#d2d2d2" stroke-width="0.7"/>
<path d="M 1297.8 1476.4 L 1308.3 1463.9 L 1331.3 1484.8 L 1327.1 1491.1 Z" fill="url(#rib)" stroke="#d2d2d2" stroke-width="0.7"/>
<path d="M 1349.1 1387.5 C 1352.2 1378.1 1366.9 1377.1 1370 1386.5 C 1369 1396.9 1356.4 1400.1 1351.2 1394.9 Z" fill="#fff" stroke="#d8d8d8" stroke-width="0.6"/>
<path d="M 1140.9 1449.2 C 1151.4 1459.7 1168.1 1463.9 1161.8 1480.6 C 1151.4 1489 1143 1497.4 1151.4 1507.8 C 1161.8 1518.3 1182.8 1516.2 1189 1509.9" stroke="#d6d6d6" stroke-width="4.6" fill="none" stroke-linecap="round"/>
<path d="M 1140.9 1449.2 C 1151.4 1459.7 1168.1 1463.9 1161.8 1480.6 C 1151.4 1489 1143 1497.4 1151.4 1507.8 C 1161.8 1518.3 1182.8 1516.2 1189 1509.9" stroke="#f4f4f4" stroke-width="3.2" fill="none" stroke-linecap="round"/>
<path d="M 1245.5 1503.6 C 1249.7 1493.2 1262.3 1489 1283.2 1491.1 C 1293.6 1480.6 1308.3 1474.4 1299.9 1459.7 C 1308.3 1447.2 1316.7 1434.6 1333.4 1433.6 C 1345.9 1434.6 1354.3 1443 1366.9 1449.2" stroke="#d6d6d6" stroke-width="4.6" fill="none" stroke-linecap="round"/>
<path d="M 1245.5 1503.6 C 1249.7 1493.2 1262.3 1489 1283.2 1491.1 C 1293.6 1480.6 1308.3 1474.4 1299.9 1459.7 C 1308.3 1447.2 1316.7 1434.6 1333.4 1433.6 C 1345.9 1434.6 1354.3 1443 1366.9 1449.2" stroke="#f4f4f4" stroke-width="3.2" fill="none" stroke-linecap="round"/>
<path d="M 1329.2 1371.8 C 1341.8 1367.7 1354.3 1365.6 1364.8 1366.6 M 1329.2 1371.8 L 1331.3 1417.9 M 1331.3 1438.8 C 1329.2 1455.5 1331.3 1476.4 1341.8 1489 C 1354.3 1497.4 1360.6 1509.9 1364.8 1505.7 C 1371 1493.2 1362.7 1476.4 1350.1 1474.4 C 1341.8 1476.4 1341.8 1484.8 1350.1 1489" stroke="#d6d6d6" stroke-width="4.6" fill="none" stroke-linecap="round"/>
<path d="M 1329.2 1371.8 C 1341.8 1367.7 1354.3 1365.6 1364.8 1366.6 M 1329.2 1371.8 L 1331.3 1417.9 M 1331.3 1438.8 C 1329.2 1455.5 1331.3 1476.4 1341.8 1489 C 1354.3 1497.4 1360.6 1509.9 1364.8 1505.7 C 1371 1493.2 1362.7 1476.4 1350.1 1474.4 C 1341.8 1476.4 1341.8 1484.8 1350.1 1489" stroke="#f4f4f4" stroke-width="3.2" fill="none" stroke-linecap="round"/>
<path d="M 1287.4 1415.8 C 1299.9 1413.7 1312.5 1407.4 1320.8 1413.7 L 1327.1 1420" stroke="#d6d6d6" stroke-width="4.6" fill="none" stroke-linecap="round"/>
<path d="M 1287.4 1415.8 C 1299.9 1413.7 1312.5 1407.4 1320.8 1413.7 L 1327.1 1420" stroke="#f4f4f4" stroke-width="3.2" fill="none" stroke-linecap="round"/>
<path d="M 1237.2 1530.8 C 1245.5 1518.3 1253.9 1518.3 1262.3 1514.1 M 1253.9 1535 C 1262.3 1522.5 1270.6 1518.3 1279 1512" stroke="#d6d6d6" stroke-width="4.6" fill="none" stroke-linecap="round"/>
<path d="M 1237.2 1530.8 C 1245.5 1518.3 1253.9 1518.3 1262.3 1514.1 M 1253.9 1535 C 1262.3 1522.5 1270.6 1518.3 1279 1512" stroke="#f4f4f4" stroke-width="3.2" fill="none" stroke-linecap="round"/>
<path d="M 1299.9 1466 C 1306.2 1453.4 1314.6 1443 1320.8 1437.7" stroke="#e08a8a" stroke-width="3.4" fill="none" stroke-linecap="round"/>
<path d="M 1243.4 1489 C 1245.5 1482.7 1249.7 1479.6 1256 1479" stroke="#90dc70" stroke-width="3.4" fill="none" stroke-linecap="round"/>
<path d="M 1221.5 1387.5 L 1234 1389.2" stroke="#70e8e8" stroke-width="1" fill="none" stroke-linecap="round"/>
<path d="M 1183.8 1424.6 L 1192.2 1420.4" stroke="#70e070" stroke-width="1" fill="none" stroke-linecap="round"/>
<path d="M 1284.2 1409.1 L 1288.4 1416.2" stroke="#58b8f0" stroke-width="1" fill="none" stroke-linecap="round"/>
<path d="M 1245.5 1453 L 1250.8 1450.3 M 1259.7 1450.9 L 1266.4 1453.8 L 1275.9 1451.3" stroke="#3a48e0" stroke-width="1.1" fill="none" stroke-linecap="round"/>
<path d="M 1204.7 1462.8 L 1210 1460.1 L 1223.6 1461.4 L 1228.8 1464.9 L 1218.3 1468.1 L 1207.9 1465.6 Z" stroke="#f08a30" stroke-width="0.9" fill="none" stroke-linecap="round"/>
<path d="M 1228.8 1464.9 L 1239.2 1472.3 L 1249.7 1477.5" stroke="#e8e040" stroke-width="0.9" fill="none" stroke-linecap="round"/>
<path d="M 1249.7 1477.5 L 1262.3 1474.4 L 1267.5 1479 L 1262.3 1481 L 1253.9 1479" stroke="#90e060" stroke-width="0.9" fill="none" stroke-linecap="round"/>
<path d="M 1293.2 1461.4 L 1292.6 1465.6" stroke="#e02020" stroke-width="1.8" fill="none" stroke-linecap="round"/>
<path d="M 1245.5 1410.5 L 1257 1407.8 L 1262.3 1417.9 L 1269.6 1415.4 L 1274.8 1407.4 M 1245.5 1410.5 L 1243.4 1420 L 1233 1432.5 L 1222.5 1435.6 M 1233 1432.5 L 1224.6 1422.1 L 1218.3 1425.2 M 1243.4 1420 L 1253.9 1428.3 L 1270.6 1422.1 L 1269.6 1415.4 M 1253.9 1428.3 L 1251.8 1438.8 L 1243.4 1444 L 1242.4 1455.1 M 1243.4 1444 L 1234 1435.6 M 1251.8 1438.8 L 1264.4 1446.7 M 1253.9 1428.3 L 1266.4 1430.4 L 1275.9 1437.7 L 1285.3 1435.6 M 1266.4 1430.4 L 1270.6 1422.1 M 1257 1407.8 L 1250.8 1415.8 L 1243.4 1420 M 1262.3 1417.9 L 1253.9 1428.3" stroke="#bdb02a" stroke-width="4.8" fill="none" stroke-linejoin="round" stroke-linecap="round"/>
<path d="M 1245.5 1410.5 L 1257 1407.8 L 1262.3 1417.9 L 1269.6 1415.4 L 1274.8 1407.4 M 1245.5 1410.5 L 1243.4 1420 L 1233 1432.5 L 1222.5 1435.6 M 1233 1432.5 L 1224.6 1422.1 L 1218.3 1425.2 M 1243.4 1420 L 1253.9 1428.3 L 1270.6 1422.1 L 1269.6 1415.4 M 1253.9 1428.3 L 1251.8 1438.8 L 1243.4 1444 L 1242.4 1455.1 M 1243.4 1444 L 1234 1435.6 M 1251.8 1438.8 L 1264.4 1446.7 M 1253.9 1428.3 L 1266.4 1430.4 L 1275.9 1437.7 L 1285.3 1435.6 M 1266.4 1430.4 L 1270.6 1422.1 M 1257 1407.8 L 1250.8 1415.8 L 1243.4 1420 M 1262.3 1417.9 L 1253.9 1428.3" stroke="#e8dc3c" stroke-width="3.3" fill="none" stroke-linejoin="round" stroke-linecap="round"/>
</g>
<rect x="1129.4" y="1339.4" width="282" height="194.6" fill="none" stroke="#444" stroke-width="1.1" stroke-dasharray="3.2 2.4"/>
</svg>
</body></html>
